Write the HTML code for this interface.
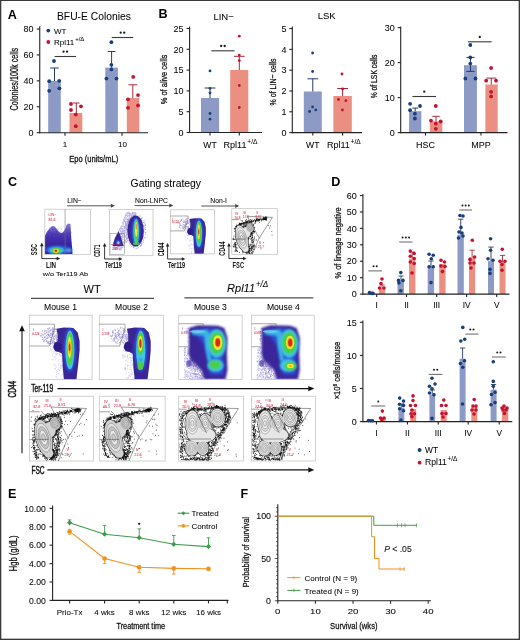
<!DOCTYPE html>
<html><head><meta charset="utf-8"><style>
html,body{margin:0;padding:0;background:#fff;}
svg{display:block;filter:blur(0.45px);}
text{font-family:"Liberation Sans", sans-serif;}
</style></head><body>
<svg width="520" height="640" viewBox="0 0 520 640">
<defs>
<filter id="b1" x="-20%" y="-20%" width="140%" height="140%"><feGaussianBlur stdDeviation="1"/></filter>
<filter id="b2" x="-30%" y="-30%" width="160%" height="160%"><feGaussianBlur stdDeviation="2"/></filter>
<filter id="b05" x="-20%" y="-20%" width="140%" height="140%"><feGaussianBlur stdDeviation="0.5"/></filter>
<filter id="b15" x="-30%" y="-30%" width="160%" height="160%"><feGaussianBlur stdDeviation="1.5"/></filter>
<filter id="b3" x="-40%" y="-40%" width="180%" height="180%"><feGaussianBlur stdDeviation="3"/></filter>
</defs>
<rect x="0" y="0" width="520" height="1" fill="#3a3a3a"/><rect x="0" y="0" width="1" height="640" fill="#3a3a3a"/><rect x="519" y="0" width="1" height="640" fill="#3a3a3a"/><rect x="0" y="639" width="520" height="1" fill="#3a3a3a"/>
<rect x="1" y="1" width="0.6" height="638" fill="#3a3a3a" opacity="0.5"/><rect x="518" y="1" width="1" height="638" fill="#3a3a3a" opacity="0.35"/><rect x="1" y="638" width="518" height="1" fill="#3a3a3a" opacity="0.35"/>
<text x="7.80" y="18.80" font-size="12.6" font-weight="bold" fill="#000" >A</text>
<text x="57.00" y="20.00" font-size="10.3" stroke="#222" stroke-width="0.06" >BFU-E Colonies</text>
<line x1="39.75" y1="26.20" x2="39.75" y2="133.25" stroke="#222" stroke-width="1.1" />
<line x1="36.75" y1="132.70" x2="39.75" y2="132.70" stroke="#222" stroke-width="1.1" />
<text x="33.60" y="135.94" font-size="9" text-anchor="end" stroke="#222" stroke-width="0.06" textLength="5.00" lengthAdjust="spacingAndGlyphs" >0</text>
<line x1="36.75" y1="106.78" x2="39.75" y2="106.78" stroke="#222" stroke-width="1.1" />
<text x="33.60" y="110.02" font-size="9" text-anchor="end" stroke="#222" stroke-width="0.06" textLength="10.01" lengthAdjust="spacingAndGlyphs" >20</text>
<line x1="36.75" y1="80.86" x2="39.75" y2="80.86" stroke="#222" stroke-width="1.1" />
<text x="33.60" y="84.10" font-size="9" text-anchor="end" stroke="#222" stroke-width="0.06" textLength="10.01" lengthAdjust="spacingAndGlyphs" >40</text>
<line x1="36.75" y1="54.94" x2="39.75" y2="54.94" stroke="#222" stroke-width="1.1" />
<text x="33.60" y="58.18" font-size="9" text-anchor="end" stroke="#222" stroke-width="0.06" textLength="10.01" lengthAdjust="spacingAndGlyphs" >60</text>
<line x1="36.75" y1="29.02" x2="39.75" y2="29.02" stroke="#222" stroke-width="1.1" />
<text x="33.60" y="32.26" font-size="9" text-anchor="end" stroke="#222" stroke-width="0.06" textLength="10.01" lengthAdjust="spacingAndGlyphs" >80</text>
<text x="17.60" y="79.10" font-size="10.2" text-anchor="middle" stroke="#222" stroke-width="0.3" textLength="62.60" lengthAdjust="spacingAndGlyphs" transform="rotate(-90 17.60 79.10)" >Colonies/100k cells</text>
<rect x="48.20" y="81.00" width="12.60" height="51.70" fill="#8d9ac6" />
<rect x="105.30" y="67.60" width="12.60" height="65.10" fill="#8d9ac6" />
<rect x="69.50" y="113.00" width="12.80" height="19.70" fill="#eb8f83" />
<rect x="126.80" y="98.00" width="12.50" height="34.70" fill="#eb8f83" />
<line x1="39.20" y1="132.70" x2="148.00" y2="132.70" stroke="#222" stroke-width="1.1" />
<line x1="65.00" y1="132.70" x2="65.00" y2="135.70" stroke="#222" stroke-width="1.1" />
<line x1="122.00" y1="132.70" x2="122.00" y2="135.70" stroke="#222" stroke-width="1.1" />
<line x1="54.50" y1="81.00" x2="54.50" y2="68.00" stroke="#263c62" stroke-width="1.0" />
<line x1="50.20" y1="68.00" x2="58.80" y2="68.00" stroke="#263c62" stroke-width="1.0" />
<line x1="111.60" y1="67.60" x2="111.60" y2="51.50" stroke="#263c62" stroke-width="1.0" />
<line x1="107.80" y1="51.50" x2="115.40" y2="51.50" stroke="#263c62" stroke-width="1.0" />
<line x1="76.30" y1="113.00" x2="76.30" y2="103.00" stroke="#a8283a" stroke-width="1.0" />
<line x1="73.00" y1="103.00" x2="79.60" y2="103.00" stroke="#a8283a" stroke-width="1.0" />
<line x1="132.80" y1="98.00" x2="132.80" y2="84.80" stroke="#a8283a" stroke-width="1.0" />
<line x1="128.50" y1="84.80" x2="137.10" y2="84.80" stroke="#a8283a" stroke-width="1.0" />
<circle cx="54.00" cy="61.00" r="1.9" fill="#183f7c"/>
<circle cx="49.20" cy="81.20" r="1.9" fill="#183f7c"/>
<circle cx="59.20" cy="80.80" r="1.9" fill="#183f7c"/>
<circle cx="59.40" cy="88.30" r="1.9" fill="#183f7c"/>
<circle cx="49.20" cy="90.80" r="1.9" fill="#183f7c"/>
<circle cx="111.40" cy="42.20" r="1.9" fill="#183f7c"/>
<circle cx="111.40" cy="64.80" r="1.9" fill="#183f7c"/>
<circle cx="111.40" cy="69.40" r="1.9" fill="#183f7c"/>
<circle cx="106.40" cy="78.60" r="1.9" fill="#183f7c"/>
<circle cx="116.50" cy="78.60" r="1.9" fill="#183f7c"/>
<circle cx="71.00" cy="104.00" r="1.9" fill="#c4122f"/>
<circle cx="81.00" cy="106.30" r="1.9" fill="#c4122f"/>
<circle cx="71.00" cy="110.00" r="1.9" fill="#c4122f"/>
<circle cx="75.80" cy="114.60" r="1.9" fill="#c4122f"/>
<circle cx="75.80" cy="126.20" r="1.9" fill="#c4122f"/>
<circle cx="133.20" cy="76.90" r="1.9" fill="#c4122f"/>
<circle cx="138.00" cy="95.10" r="1.9" fill="#c4122f"/>
<circle cx="128.00" cy="99.30" r="1.9" fill="#c4122f"/>
<circle cx="138.00" cy="105.40" r="1.9" fill="#c4122f"/>
<circle cx="128.00" cy="107.80" r="1.9" fill="#c4122f"/>
<line x1="54.60" y1="56.50" x2="76.00" y2="56.50" stroke="#3a3a3a" stroke-width="1.1" />
<circle cx="63.55" cy="51.70" r="1.15" fill="#1a1a1a"/>
<circle cx="67.05" cy="51.70" r="1.15" fill="#1a1a1a"/>
<line x1="111.70" y1="37.50" x2="133.20" y2="37.50" stroke="#3a3a3a" stroke-width="1.1" />
<circle cx="120.70" cy="32.70" r="1.15" fill="#1a1a1a"/>
<circle cx="124.20" cy="32.70" r="1.15" fill="#1a1a1a"/>
<text x="65.00" y="146.80" font-size="8" text-anchor="middle" stroke="#222" stroke-width="0.06" >1</text>
<text x="122.50" y="146.80" font-size="8" text-anchor="middle" stroke="#222" stroke-width="0.06" >10</text>
<text x="93.70" y="162.00" font-size="9.4" text-anchor="middle" stroke="#222" stroke-width="0.3" textLength="49.00" lengthAdjust="spacingAndGlyphs" >Epo (units/mL)</text>
<circle cx="48.30" cy="30.60" r="1.9" fill="#183f7c"/>
<text x="54.00" y="33.60" font-size="8" stroke="#222" stroke-width="0.06" >WT</text>
<circle cx="48.30" cy="42.00" r="1.9" fill="#c4122f"/>
<text x="54.00" y="45.00" font-size="8" stroke="#222" stroke-width="0.06" >Rpl11</text>
<text x="75.20" y="40.60" font-size="6" stroke="#222" stroke-width="0.06" >+/Δ</text>
<text x="158.40" y="18.20" font-size="12.6" font-weight="bold" fill="#000" >B</text>
<text x="213.40" y="19.60" font-size="9.5" stroke="#222" stroke-width="0.06" >LIN−</text>
<line x1="189.60" y1="26.60" x2="189.60" y2="133.05" stroke="#222" stroke-width="1.1" />
<line x1="186.60" y1="132.50" x2="189.60" y2="132.50" stroke="#222" stroke-width="1.1" />
<text x="183.60" y="135.74" font-size="9" text-anchor="end" stroke="#222" stroke-width="0.06" textLength="5.00" lengthAdjust="spacingAndGlyphs" >0</text>
<line x1="186.60" y1="111.70" x2="189.60" y2="111.70" stroke="#222" stroke-width="1.1" />
<text x="183.60" y="114.94" font-size="9" text-anchor="end" stroke="#222" stroke-width="0.06" textLength="5.00" lengthAdjust="spacingAndGlyphs" >5</text>
<line x1="186.60" y1="90.90" x2="189.60" y2="90.90" stroke="#222" stroke-width="1.1" />
<text x="183.60" y="94.14" font-size="9" text-anchor="end" stroke="#222" stroke-width="0.06" textLength="10.01" lengthAdjust="spacingAndGlyphs" >10</text>
<line x1="186.60" y1="70.10" x2="189.60" y2="70.10" stroke="#222" stroke-width="1.1" />
<text x="183.60" y="73.34" font-size="9" text-anchor="end" stroke="#222" stroke-width="0.06" textLength="10.01" lengthAdjust="spacingAndGlyphs" >15</text>
<line x1="186.60" y1="49.30" x2="189.60" y2="49.30" stroke="#222" stroke-width="1.1" />
<text x="183.60" y="52.54" font-size="9" text-anchor="end" stroke="#222" stroke-width="0.06" textLength="10.01" lengthAdjust="spacingAndGlyphs" >20</text>
<line x1="186.60" y1="28.50" x2="189.60" y2="28.50" stroke="#222" stroke-width="1.1" />
<text x="183.60" y="31.74" font-size="9" text-anchor="end" stroke="#222" stroke-width="0.06" textLength="10.01" lengthAdjust="spacingAndGlyphs" >25</text>
<text x="166.50" y="79.50" font-size="9.6" text-anchor="middle" stroke="#222" stroke-width="0.3" textLength="49.70" lengthAdjust="spacingAndGlyphs" transform="rotate(-90 166.50 79.50)" >% of alive cells</text>
<rect x="201.00" y="98.00" width="18.10" height="34.50" fill="#8d9ac6" />
<rect x="230.20" y="70.00" width="18.10" height="62.50" fill="#eb8f83" />
<line x1="189.05" y1="132.50" x2="262.00" y2="132.50" stroke="#222" stroke-width="1.1" />
<line x1="210.00" y1="132.50" x2="210.00" y2="135.50" stroke="#222" stroke-width="1.1" />
<line x1="239.30" y1="132.50" x2="239.30" y2="135.50" stroke="#222" stroke-width="1.1" />
<line x1="210.00" y1="98.00" x2="210.00" y2="88.00" stroke="#263c62" stroke-width="1.0" />
<line x1="204.60" y1="88.00" x2="215.40" y2="88.00" stroke="#263c62" stroke-width="1.0" />
<line x1="239.30" y1="70.00" x2="239.30" y2="56.30" stroke="#a8283a" stroke-width="1.0" />
<line x1="234.00" y1="56.30" x2="244.60" y2="56.30" stroke="#a8283a" stroke-width="1.0" />
<circle cx="210.00" cy="70.90" r="1.4" fill="#183f7c"/>
<circle cx="210.00" cy="88.30" r="1.4" fill="#183f7c"/>
<circle cx="210.00" cy="92.90" r="1.4" fill="#183f7c"/>
<circle cx="210.00" cy="113.50" r="1.4" fill="#183f7c"/>
<circle cx="210.00" cy="119.20" r="1.4" fill="#183f7c"/>
<circle cx="239.30" cy="36.20" r="1.4" fill="#c4122f"/>
<circle cx="239.30" cy="55.10" r="1.4" fill="#c4122f"/>
<circle cx="239.30" cy="60.60" r="1.4" fill="#c4122f"/>
<circle cx="239.30" cy="85.50" r="1.4" fill="#c4122f"/>
<circle cx="239.30" cy="107.50" r="1.4" fill="#c4122f"/>
<line x1="211.30" y1="50.80" x2="234.50" y2="50.80" stroke="#3a3a3a" stroke-width="1.1" />
<circle cx="221.15" cy="46.00" r="1.15" fill="#1a1a1a"/>
<circle cx="224.65" cy="46.00" r="1.15" fill="#1a1a1a"/>
<text x="210.00" y="148.00" font-size="8.6" text-anchor="middle" stroke="#222" stroke-width="0.06" >WT</text>
<text x="223.60" y="148.00" font-size="9" stroke="#222" stroke-width="0.06" >Rpl11</text>
<text x="247.30" y="144.00" font-size="6.6" stroke="#222" stroke-width="0.06" >+/Δ</text>
<text x="317.70" y="19.30" font-size="9.5" stroke="#222" stroke-width="0.06" >LSK</text>
<line x1="292.30" y1="26.60" x2="292.30" y2="133.15" stroke="#222" stroke-width="1.1" />
<line x1="289.30" y1="132.60" x2="292.30" y2="132.60" stroke="#222" stroke-width="1.1" />
<text x="286.60" y="135.84" font-size="9" text-anchor="end" stroke="#222" stroke-width="0.06" textLength="5.00" lengthAdjust="spacingAndGlyphs" >0</text>
<line x1="289.30" y1="111.80" x2="292.30" y2="111.80" stroke="#222" stroke-width="1.1" />
<text x="286.60" y="115.04" font-size="9" text-anchor="end" stroke="#222" stroke-width="0.06" textLength="5.00" lengthAdjust="spacingAndGlyphs" >1</text>
<line x1="289.30" y1="91.00" x2="292.30" y2="91.00" stroke="#222" stroke-width="1.1" />
<text x="286.60" y="94.24" font-size="9" text-anchor="end" stroke="#222" stroke-width="0.06" textLength="5.00" lengthAdjust="spacingAndGlyphs" >2</text>
<line x1="289.30" y1="70.20" x2="292.30" y2="70.20" stroke="#222" stroke-width="1.1" />
<text x="286.60" y="73.44" font-size="9" text-anchor="end" stroke="#222" stroke-width="0.06" textLength="5.00" lengthAdjust="spacingAndGlyphs" >3</text>
<line x1="289.30" y1="49.40" x2="292.30" y2="49.40" stroke="#222" stroke-width="1.1" />
<text x="286.60" y="52.64" font-size="9" text-anchor="end" stroke="#222" stroke-width="0.06" textLength="5.00" lengthAdjust="spacingAndGlyphs" >4</text>
<line x1="289.30" y1="28.60" x2="292.30" y2="28.60" stroke="#222" stroke-width="1.1" />
<text x="286.60" y="31.84" font-size="9" text-anchor="end" stroke="#222" stroke-width="0.06" textLength="5.00" lengthAdjust="spacingAndGlyphs" >5</text>
<text x="276.20" y="81.90" font-size="9.6" text-anchor="middle" stroke="#222" stroke-width="0.3" textLength="47.00" lengthAdjust="spacingAndGlyphs" transform="rotate(-90 276.20 81.90)" >% of LIN− cells</text>
<rect x="303.80" y="91.50" width="18.00" height="41.10" fill="#8d9ac6" />
<rect x="333.40" y="96.00" width="18.40" height="36.60" fill="#eb8f83" />
<line x1="291.75" y1="132.60" x2="362.00" y2="132.60" stroke="#222" stroke-width="1.1" />
<line x1="312.80" y1="132.60" x2="312.80" y2="135.60" stroke="#222" stroke-width="1.1" />
<line x1="342.60" y1="132.60" x2="342.60" y2="135.60" stroke="#222" stroke-width="1.1" />
<line x1="312.80" y1="91.50" x2="312.80" y2="78.80" stroke="#263c62" stroke-width="1.0" />
<line x1="307.40" y1="78.80" x2="318.20" y2="78.80" stroke="#263c62" stroke-width="1.0" />
<line x1="342.60" y1="96.00" x2="342.60" y2="88.50" stroke="#a8283a" stroke-width="1.0" />
<line x1="337.20" y1="88.50" x2="348.00" y2="88.50" stroke="#a8283a" stroke-width="1.0" />
<circle cx="312.60" cy="53.00" r="1.4" fill="#183f7c"/>
<circle cx="312.60" cy="71.50" r="1.4" fill="#183f7c"/>
<circle cx="309.60" cy="111.50" r="1.4" fill="#183f7c"/>
<circle cx="312.60" cy="106.90" r="1.4" fill="#183f7c"/>
<circle cx="315.80" cy="109.90" r="1.4" fill="#183f7c"/>
<circle cx="342.00" cy="74.00" r="1.4" fill="#c4122f"/>
<circle cx="342.60" cy="88.90" r="1.4" fill="#c4122f"/>
<circle cx="338.50" cy="99.50" r="1.4" fill="#c4122f"/>
<circle cx="345.90" cy="100.70" r="1.4" fill="#c4122f"/>
<circle cx="342.40" cy="110.00" r="1.4" fill="#c4122f"/>
<text x="312.80" y="148.00" font-size="8.6" text-anchor="middle" stroke="#222" stroke-width="0.06" >WT</text>
<text x="327.00" y="148.00" font-size="9" stroke="#222" stroke-width="0.06" >Rpl11</text>
<text x="350.60" y="144.00" font-size="6.6" stroke="#222" stroke-width="0.06" >+/Δ</text>
<line x1="400.70" y1="26.60" x2="400.70" y2="133.15" stroke="#222" stroke-width="1.1" />
<line x1="397.70" y1="132.60" x2="400.70" y2="132.60" stroke="#222" stroke-width="1.1" />
<text x="394.80" y="135.84" font-size="9" text-anchor="end" stroke="#222" stroke-width="0.06" textLength="5.00" lengthAdjust="spacingAndGlyphs" >0</text>
<line x1="397.70" y1="97.60" x2="400.70" y2="97.60" stroke="#222" stroke-width="1.1" />
<text x="394.80" y="100.84" font-size="9" text-anchor="end" stroke="#222" stroke-width="0.06" textLength="10.01" lengthAdjust="spacingAndGlyphs" >10</text>
<line x1="397.70" y1="62.60" x2="400.70" y2="62.60" stroke="#222" stroke-width="1.1" />
<text x="394.80" y="65.84" font-size="9" text-anchor="end" stroke="#222" stroke-width="0.06" textLength="10.01" lengthAdjust="spacingAndGlyphs" >20</text>
<line x1="397.70" y1="27.60" x2="400.70" y2="27.60" stroke="#222" stroke-width="1.1" />
<text x="394.80" y="30.84" font-size="9" text-anchor="end" stroke="#222" stroke-width="0.06" textLength="10.01" lengthAdjust="spacingAndGlyphs" >30</text>
<text x="377.20" y="76.50" font-size="9.6" text-anchor="middle" stroke="#222" stroke-width="0.3" textLength="43.70" lengthAdjust="spacingAndGlyphs" transform="rotate(-90 377.20 76.50)" >% of LSK cells</text>
<rect x="409.10" y="111.20" width="12.20" height="21.40" fill="#8d9ac6" />
<rect x="429.80" y="121.30" width="12.50" height="11.30" fill="#eb8f83" />
<rect x="464.00" y="65.20" width="12.90" height="67.40" fill="#8d9ac6" />
<rect x="485.40" y="84.50" width="12.30" height="48.10" fill="#eb8f83" />
<line x1="400.15" y1="132.60" x2="507.50" y2="132.60" stroke="#222" stroke-width="1.1" />
<line x1="425.50" y1="132.60" x2="425.50" y2="135.60" stroke="#222" stroke-width="1.1" />
<line x1="481.00" y1="132.60" x2="481.00" y2="135.60" stroke="#222" stroke-width="1.1" />
<line x1="415.20" y1="111.20" x2="415.20" y2="108.10" stroke="#263c62" stroke-width="1.0" />
<line x1="412.30" y1="108.10" x2="418.10" y2="108.10" stroke="#263c62" stroke-width="1.0" />
<line x1="436.00" y1="121.30" x2="436.00" y2="116.30" stroke="#a8283a" stroke-width="1.0" />
<line x1="432.30" y1="116.30" x2="439.70" y2="116.30" stroke="#a8283a" stroke-width="1.0" />
<line x1="470.50" y1="65.20" x2="470.50" y2="57.40" stroke="#263c62" stroke-width="1.0" />
<line x1="466.40" y1="57.40" x2="474.60" y2="57.40" stroke="#263c62" stroke-width="1.0" />
<line x1="470.50" y1="65.20" x2="470.50" y2="71.40" stroke="#263c62" stroke-width="1.0" />
<line x1="466.40" y1="71.40" x2="474.60" y2="71.40" stroke="#263c62" stroke-width="1.0" />
<line x1="491.30" y1="84.50" x2="491.30" y2="78.10" stroke="#a8283a" stroke-width="1.0" />
<line x1="486.30" y1="78.10" x2="496.30" y2="78.10" stroke="#a8283a" stroke-width="1.0" />
<circle cx="410.10" cy="103.80" r="1.9" fill="#183f7c"/>
<circle cx="420.00" cy="106.00" r="1.9" fill="#183f7c"/>
<circle cx="410.10" cy="110.20" r="1.9" fill="#183f7c"/>
<circle cx="414.90" cy="113.70" r="1.9" fill="#183f7c"/>
<circle cx="414.90" cy="118.50" r="1.9" fill="#183f7c"/>
<circle cx="470.30" cy="45.00" r="1.9" fill="#183f7c"/>
<circle cx="470.30" cy="57.40" r="1.9" fill="#183f7c"/>
<circle cx="470.30" cy="63.60" r="1.9" fill="#183f7c"/>
<circle cx="465.40" cy="78.50" r="1.9" fill="#183f7c"/>
<circle cx="475.50" cy="78.50" r="1.9" fill="#183f7c"/>
<circle cx="435.80" cy="106.00" r="1.9" fill="#c4122f"/>
<circle cx="431.00" cy="120.60" r="1.9" fill="#c4122f"/>
<circle cx="440.70" cy="121.50" r="1.9" fill="#c4122f"/>
<circle cx="435.80" cy="123.70" r="1.9" fill="#c4122f"/>
<circle cx="435.80" cy="128.80" r="1.9" fill="#c4122f"/>
<circle cx="491.10" cy="68.00" r="1.9" fill="#c4122f"/>
<circle cx="486.20" cy="80.70" r="1.9" fill="#c4122f"/>
<circle cx="496.00" cy="80.70" r="1.9" fill="#c4122f"/>
<circle cx="491.10" cy="91.80" r="1.9" fill="#c4122f"/>
<circle cx="491.10" cy="96.40" r="1.9" fill="#c4122f"/>
<line x1="412.50" y1="96.50" x2="436.00" y2="96.50" stroke="#3a3a3a" stroke-width="1.1" />
<circle cx="424.25" cy="91.70" r="1.15" fill="#1a1a1a"/>
<line x1="467.90" y1="41.80" x2="491.70" y2="41.80" stroke="#3a3a3a" stroke-width="1.1" />
<circle cx="479.80" cy="37.00" r="1.15" fill="#1a1a1a"/>
<text x="425.50" y="147.50" font-size="9" text-anchor="middle" stroke="#222" stroke-width="0.06" >HSC</text>
<text x="481.00" y="147.50" font-size="9" text-anchor="middle" stroke="#222" stroke-width="0.06" >MPP</text>
<text x="8.00" y="186.30" font-size="12.6" font-weight="bold" fill="#000" >C</text>
<text x="130.60" y="186.90" font-size="10.4" stroke="#222" stroke-width="0.06" >Gating strategy</text>
<text x="67.30" y="202.60" font-size="6.8" stroke="#222" stroke-width="0.06" >LIN−</text>
<line x1="67.00" y1="205.80" x2="111.40" y2="205.80" stroke="#444" stroke-width="0.9" />
<path d="M114.90 205.80L110.90 203.80L110.90 207.80Z" fill="#444"/>
<text x="135.00" y="202.50" font-size="6.8" stroke="#222" stroke-width="0.06" >Non-LNPC</text>
<line x1="134.50" y1="205.60" x2="169.80" y2="205.60" stroke="#444" stroke-width="0.9" />
<path d="M173.30 205.60L169.30 203.60L169.30 207.60Z" fill="#444"/>
<text x="210.30" y="202.80" font-size="6.8" stroke="#222" stroke-width="0.06" >Non-I</text>
<line x1="201.30" y1="206.00" x2="235.70" y2="206.00" stroke="#444" stroke-width="0.9" />
<path d="M239.20 206.00L235.20 204.00L235.20 208.00Z" fill="#444"/>
<clipPath id="cp1"><rect x="44.80" y="209.20" width="45.70" height="45.10"/></clipPath>
<g clip-path="url(#cp1)">
<linearGradient id="pg1" x1="0" y1="0" x2="0" y2="1"><stop offset="0" stop-color="#8a7fd6"/><stop offset="0.35" stop-color="#4a35b0"/><stop offset="1" stop-color="#2a1690"/></linearGradient>
<path d="M44.8 254 L44.8 236 Q47 231 50 228 Q53 224 56 228 Q59 233 62 233 Q65 231 66.5 225 L68 223.5 L70.5 224 Q71 236 71.8 244 L72.5 254 Z" fill="url(#pg1)" stroke="none" stroke-width="0.6" filter="url(#b05)" />
<path d="M46.4 229.2h0.7 M53.2 236.0h0.7 M49.7 230.8h0.7 M53.3 230.9h0.7 M66.4 233.4h0.7 M51.4 230.6h0.7 M56.2 234.7h0.7 M48.9 228.8h0.7 M45.9 232.7h0.7 M65.6 230.6h0.7 M63.7 231.1h0.7 M60.6 228.0h0.7 M57.7 232.6h0.7 M46.5 233.4h0.7 M55.3 232.7h0.7 M46.4 234.9h0.7 M52.4 227.1h0.7 M51.1 228.7h0.7 M54.8 230.5h0.7 M70.7 233.2h0.7 M58.8 231.6h0.7 M69.3 235.2h0.7 M68.6 235.6h0.7 M55.5 226.8h0.7 M47.6 232.0h0.7 M57.5 228.6h0.7 M68.3 233.3h0.7 M49.3 235.0h0.7 M59.3 235.1h0.7 M68.0 235.7h0.7 M67.1 234.3h0.7 M51.0 229.4h0.7 M51.8 233.2h0.7 M62.6 235.6h0.7 M47.1 232.5h0.7 M69.5 235.2h0.7 M49.7 235.4h0.7 M53.8 235.6h0.7 M69.4 235.7h0.7 M71.5 232.5h0.7 M54.3 230.1h0.7 M71.2 232.3h0.7 M51.3 230.9h0.7 M51.9 227.2h0.7 M54.4 228.1h0.7 M58.4 229.7h0.7 M44.9 235.6h0.7 M49.5 228.4h0.7 M64.5 230.2h0.7 M53.7 229.4h0.7 M59.9 235.3h0.7 M47.7 230.3h0.7 M60.1 234.7h0.7 M61.5 229.1h0.7 M58.7 233.2h0.7 M57.1 229.7h0.7 M46.8 232.7h0.7 M49.0 233.8h0.7 M55.6 228.7h0.7 M49.2 227.5h0.7 M61.8 229.3h0.7 M45.9 235.1h0.7 M60.3 233.4h0.7 M62.1 235.6h0.7 M64.7 230.1h0.7 M50.0 228.4h0.7 M55.5 229.1h0.7 M64.0 232.0h0.7 M46.7 234.3h0.7 M68.5 232.8h0.7 M52.8 228.1h0.7 M49.1 227.8h0.7 M57.7 229.1h0.7 M50.3 229.1h0.7 M60.7 229.6h0.7 M65.2 232.5h0.7 M64.5 232.2h0.7 M69.1 231.8h0.7 M64.8 235.9h0.7 M48.6 229.5h0.7 M63.4 233.3h0.7 M60.0 231.8h0.7 M61.8 233.0h0.7 M66.5 234.5h0.7 M58.5 229.8h0.7 M57.8 233.0h0.7 M65.7 231.6h0.7 M63.1 233.2h0.7 M58.8 228.2h0.7" stroke="#7d70d0" stroke-width="0.7" opacity="0.5"/>
<ellipse cx="58.00" cy="249.80" rx="14.00" ry="4.20" fill="#2d4fd8" filter="url(#b1)"/>
<ellipse cx="56.50" cy="250.30" rx="8.00" ry="3.40" fill="#3ec6e6" filter="url(#b1)"/>
<ellipse cx="56.20" cy="250.50" rx="4.80" ry="2.70" fill="#4ccf48" filter="url(#b05)"/>
<ellipse cx="56.00" cy="250.70" rx="2.80" ry="2.00" fill="#f2ea2a" filter="url(#b05)"/>
<ellipse cx="55.90" cy="250.80" rx="1.50" ry="1.20" fill="#e0261c" filter="url(#b05)"/>
<ellipse cx="68.50" cy="250.50" rx="3.50" ry="2.00" fill="#5aaee8" filter="url(#b1)" opacity="0.8"/>
</g>
<rect x="44.80" y="209.20" width="45.70" height="45.10" fill="none" stroke="#bdbdbd" stroke-width="0.7"/>
<line x1="65.10" y1="209.20" x2="65.10" y2="254.30" stroke="#777" stroke-width="0.6" />
<text x="48.50" y="215.80" font-size="3.6" fill="#d2334a" stroke="#d2334a" stroke-width="0.06" >LIN−</text>
<text x="48.50" y="220.50" font-size="3.6" fill="#d2334a" stroke="#d2334a" stroke-width="0.06" >81.6</text>
<text x="37.40" y="249.60" font-size="8.6" text-anchor="middle" font-weight="bold" fill="#111" textLength="11.30" lengthAdjust="spacingAndGlyphs" transform="rotate(-90 37.40 249.60)" >SSC</text>
<line x1="41.80" y1="258.60" x2="41.80" y2="245.70" stroke="#222" stroke-width="0.9" />
<path d="M41.80 242.60L40.00 246.20L43.60 246.20Z" fill="#222"/>
<line x1="41.80" y1="258.60" x2="57.10" y2="258.60" stroke="#222" stroke-width="0.9" />
<path d="M60.20 258.60L56.60 256.80L56.60 260.40Z" fill="#222"/>
<text x="46.10" y="267.90" font-size="9.0" font-weight="bold" fill="#111" textLength="10.00" lengthAdjust="spacingAndGlyphs" >LIN</text>
<text x="42.80" y="276.00" font-size="6.2" stroke="#222" stroke-width="0.06" textLength="45.20" lengthAdjust="spacingAndGlyphs" >w/o Ter119 Ab</text>
<clipPath id="cp2"><rect x="109.50" y="209.60" width="43.50" height="46.10"/></clipPath>
<g clip-path="url(#cp2)">
<path d="M122.3 222.2h0.7 M116.8 247.9h0.7 M133.9 217.0h0.7 M130.9 231.3h0.7 M117.3 246.1h0.7 M122.4 223.5h0.7 M119.3 243.9h0.7 M131.3 216.6h0.7 M132.7 223.0h0.7 M120.6 226.9h0.7 M120.3 228.3h0.7 M114.3 243.7h0.7 M118.6 247.6h0.7 M123.8 219.2h0.7 M120.6 248.3h0.7 M128.6 213.9h0.7 M128.8 229.1h0.7 M129.3 236.5h0.7 M133.3 216.8h0.7 M122.9 225.1h0.7 M118.8 240.1h0.7 M134.5 221.9h0.7 M127.1 223.4h0.7 M124.8 227.0h0.7 M116.8 246.4h0.7 M123.4 220.4h0.7 M129.2 227.7h0.7 M121.5 231.9h0.7 M134.3 216.8h0.7 M123.6 235.9h0.7 M131.8 220.2h0.7 M121.2 228.9h0.7 M132.1 212.8h0.7 M132.6 230.0h0.7 M121.0 247.2h0.7 M134.4 221.4h0.7 M124.0 237.9h0.7 M126.9 241.1h0.7 M122.5 233.0h0.7 M117.3 247.0h0.7 M126.8 223.5h0.7 M126.6 238.5h0.7 M124.1 234.1h0.7 M132.3 230.1h0.7 M123.5 237.6h0.7 M127.7 219.5h0.7 M123.6 219.8h0.7 M134.3 223.8h0.7 M130.9 220.8h0.7 M117.1 240.9h0.7 M118.8 248.2h0.7 M123.4 219.1h0.7 M116.9 249.0h0.7 M133.4 224.5h0.7 M116.3 247.6h0.7 M129.2 213.2h0.7 M127.3 226.4h0.7 M134.0 216.7h0.7 M134.2 219.9h0.7 M120.2 243.2h0.7 M130.9 228.4h0.7 M120.6 246.9h0.7 M132.6 213.2h0.7 M121.4 242.8h0.7 M129.6 213.5h0.7 M133.2 221.8h0.7 M118.0 239.2h0.7 M133.7 212.9h0.7 M121.9 230.8h0.7 M133.3 219.0h0.7 M126.0 224.5h0.7 M130.0 215.0h0.7 M116.5 240.6h0.7 M119.5 249.2h0.7 M128.3 229.0h0.7 M126.3 237.6h0.7 M127.3 216.6h0.7 M131.3 223.2h0.7 M125.0 226.2h0.7 M129.0 219.6h0.7 M115.5 245.6h0.7 M125.3 224.4h0.7 M121.1 249.7h0.7 M123.7 220.8h0.7 M134.8 215.9h0.7 M122.9 243.1h0.7 M133.4 226.1h0.7 M131.9 229.1h0.7 M118.0 241.6h0.7 M133.8 216.0h0.7 M125.7 235.6h0.7 M117.9 234.8h0.7 M127.0 219.7h0.7 M127.6 219.0h0.7 M130.3 232.8h0.7 M121.1 232.9h0.7 M126.7 215.5h0.7 M115.8 238.4h0.7 M119.1 248.2h0.7 M119.2 233.5h0.7 M120.2 227.8h0.7 M128.7 219.7h0.7 M121.7 243.2h0.7 M121.3 245.5h0.7 M120.5 231.2h0.7 M133.3 226.7h0.7 M131.0 218.1h0.7 M130.1 220.4h0.7 M121.3 244.2h0.7 M131.1 219.0h0.7 M123.9 226.6h0.7 M129.4 213.4h0.7 M131.3 216.5h0.7 M125.8 232.9h0.7 M126.4 223.6h0.7 M121.7 234.1h0.7 M121.8 237.0h0.7 M122.3 228.7h0.7 M123.3 220.9h0.7 M126.6 215.1h0.7 M123.6 226.4h0.7 M133.9 217.2h0.7 M116.5 249.3h0.7 M133.1 218.3h0.7 M129.4 218.0h0.7 M132.6 222.4h0.7 M130.8 217.5h0.7 M123.6 224.1h0.7 M115.7 247.6h0.7 M115.9 241.8h0.7 M126.6 225.7h0.7 M132.1 233.1h0.7 M114.4 249.7h0.7 M126.5 227.0h0.7 M130.3 222.1h0.7 M120.3 241.1h0.7 M129.1 213.8h0.7 M130.9 221.6h0.7 M125.5 237.2h0.7 M126.2 228.4h0.7 M127.0 212.8h0.7 M125.5 219.8h0.7 M126.4 230.0h0.7 M115.1 247.6h0.7 M124.9 225.3h0.7 M126.8 228.9h0.7 M117.7 246.3h0.7 M133.6 217.4h0.7 M123.7 236.4h0.7 M130.7 218.6h0.7 M113.1 245.8h0.7 M129.1 229.7h0.7 M129.1 229.2h0.7 M119.7 240.5h0.7 M128.4 222.1h0.7 M124.7 228.6h0.7 M130.1 231.9h0.7 M118.1 236.4h0.7 M134.2 220.2h0.7 M132.2 212.6h0.7 M129.2 224.4h0.7 M132.2 224.5h0.7 M117.5 246.5h0.7 M126.5 238.3h0.7 M122.8 243.9h0.7 M122.1 239.5h0.7 M125.1 223.7h0.7 M116.9 235.7h0.7 M113.8 246.6h0.7 M114.5 247.3h0.7 M127.9 236.1h0.7 M120.4 243.1h0.7 M113.5 245.0h0.7 M126.5 222.9h0.7 M129.4 219.8h0.7 M118.5 239.2h0.7 M134.2 231.1h0.7 M122.0 241.4h0.7 M120.0 238.8h0.7 M124.4 220.2h0.7 M131.8 215.5h0.7 M130.9 218.5h0.7 M123.3 242.3h0.7 M120.0 243.6h0.7 M118.0 247.9h0.7 M128.1 230.9h0.7 M126.4 225.5h0.7 M121.2 227.0h0.7 M132.5 215.3h0.7 M132.4 213.0h0.7 M132.7 231.0h0.7 M120.7 245.6h0.7 M124.2 240.7h0.7 M129.3 236.6h0.7 M115.6 244.0h0.7 M127.2 240.2h0.7 M129.8 234.0h0.7 M132.4 221.0h0.7 M124.0 218.1h0.7 M114.3 248.6h0.7 M128.9 228.5h0.7 M116.5 236.2h0.7 M121.2 242.1h0.7 M127.9 231.0h0.7 M126.5 229.6h0.7 M121.3 240.2h0.7 M132.9 228.3h0.7 M125.2 240.5h0.7 M126.8 229.2h0.7 M119.2 235.9h0.7 M126.5 221.5h0.7 M121.7 229.3h0.7 M126.3 227.6h0.7 M129.9 226.8h0.7 M115.7 241.7h0.7 M133.6 231.7h0.7 M124.4 239.3h0.7 M123.8 236.3h0.7 M131.1 231.8h0.7 M121.4 248.0h0.7 M116.8 238.0h0.7 M121.0 241.0h0.7 M114.8 249.4h0.7 M121.7 238.5h0.7 M117.2 240.2h0.7 M117.0 242.5h0.7 M115.0 241.5h0.7 M130.6 236.1h0.7 M122.8 233.4h0.7 M117.2 248.6h0.7 M120.1 236.3h0.7 M122.8 223.2h0.7 M124.6 216.8h0.7 M131.2 225.5h0.7 M131.6 222.2h0.7 M118.9 230.2h0.7 M121.9 236.2h0.7 M127.2 225.8h0.7 M115.2 243.6h0.7 M126.6 212.6h0.7 M112.3 248.2h0.7 M127.1 221.5h0.7 M117.4 241.5h0.7 M115.9 245.9h0.7 M126.0 241.7h0.7 M116.5 238.3h0.7 M124.2 240.2h0.7 M122.1 245.5h0.7 M124.8 222.1h0.7 M123.3 230.9h0.7 M124.4 244.8h0.7 M122.8 233.4h0.7 M120.6 227.9h0.7 M134.1 214.9h0.7 M126.7 236.2h0.7 M119.6 249.3h0.7 M123.7 230.4h0.7 M132.6 213.3h0.7 M128.5 235.8h0.7 M119.8 244.7h0.7 M120.4 230.0h0.7 M124.1 241.3h0.7 M121.7 233.1h0.7 M131.0 223.1h0.7 M131.0 227.3h0.7 M123.6 222.3h0.7 M118.9 234.3h0.7 M126.6 241.8h0.7 M132.4 232.7h0.7 M126.2 235.8h0.7 M128.0 234.7h0.7 M127.7 220.1h0.7 M127.3 229.4h0.7 M129.5 215.9h0.7 M127.1 226.0h0.7 M124.9 221.8h0.7 M130.6 233.9h0.7 M133.1 229.0h0.7 M134.6 230.1h0.7 M126.8 220.1h0.7 M114.8 248.7h0.7 M114.0 245.0h0.7 M128.5 221.2h0.7 M128.9 219.1h0.7 M128.8 215.2h0.7 M126.5 239.0h0.7 M122.6 247.4h0.7 M117.8 248.6h0.7 M128.5 212.4h0.7 M130.8 215.0h0.7 M119.2 239.7h0.7 M115.8 244.7h0.7 M120.5 233.8h0.7 M122.1 237.7h0.7 M115.3 242.3h0.7 M120.4 236.5h0.7 M126.5 227.9h0.7 M120.9 241.9h0.7 M125.0 223.1h0.7 M113.4 249.0h0.7 M119.6 235.0h0.7 M125.8 223.7h0.7 M121.9 245.7h0.7 M120.7 238.0h0.7 M130.6 222.8h0.7 M121.7 234.3h0.7 M125.2 222.4h0.7 M124.7 242.3h0.7 M116.6 240.5h0.7 M133.4 220.9h0.7 M126.0 237.8h0.7 M117.9 240.5h0.7 M130.2 229.5h0.7 M114.0 242.6h0.7 M129.8 220.8h0.7 M132.4 231.8h0.7 M123.0 234.4h0.7 M116.2 238.6h0.7 M120.3 233.4h0.7 M121.3 231.7h0.7 M134.9 226.2h0.7 M130.1 217.9h0.7 M125.7 225.1h0.7 M112.8 249.6h0.7 M131.9 230.5h0.7 M125.0 221.9h0.7 M129.9 228.2h0.7 M132.9 214.4h0.7 M125.8 227.1h0.7 M114.8 248.5h0.7 M117.9 233.5h0.7 M127.4 226.9h0.7 M131.3 213.8h0.7 M127.6 223.4h0.7 M125.6 240.8h0.7 M127.6 212.5h0.7 M128.5 219.4h0.7 M112.8 247.3h0.7 M117.1 247.5h0.7 M114.2 247.3h0.7 M122.4 224.9h0.7 M130.9 230.1h0.7 M126.4 217.4h0.7 M128.4 233.0h0.7 M115.3 245.1h0.7 M131.3 224.7h0.7 M119.3 246.3h0.7 M114.6 249.2h0.7 M113.3 246.0h0.7 M127.4 220.0h0.7 M123.0 222.9h0.7 M120.4 249.7h0.7 M132.6 214.2h0.7 M128.7 223.2h0.7 M134.5 212.6h0.7 M130.6 225.0h0.7 M131.1 232.0h0.7 M133.0 220.3h0.7 M125.1 217.2h0.7 M116.1 241.3h0.7 M128.4 219.5h0.7 M126.0 230.8h0.7 M126.1 238.9h0.7 M130.7 234.2h0.7 M128.9 227.5h0.7 M128.6 214.1h0.7 M130.6 224.7h0.7 M132.9 230.1h0.7 M132.1 222.1h0.7 M116.3 243.6h0.7 M120.5 234.6h0.7 M122.3 231.6h0.7 M119.4 239.0h0.7 M120.8 240.6h0.7 M113.4 245.2h0.7 M133.9 230.8h0.7 M123.8 232.2h0.7 M134.3 220.5h0.7 M117.8 243.1h0.7 M128.1 219.4h0.7 M125.3 231.9h0.7 M128.2 215.9h0.7 M123.4 231.0h0.7 M129.2 218.2h0.7 M120.9 228.0h0.7 M131.3 232.0h0.7 M121.1 247.8h0.7 M129.9 224.9h0.7 M126.6 225.8h0.7 M122.0 231.2h0.7 M132.3 213.3h0.7 M126.8 222.1h0.7 M127.6 222.4h0.7 M126.3 221.5h0.7 M124.0 228.5h0.7 M133.9 222.9h0.7 M119.0 236.6h0.7 M124.3 217.6h0.7 M131.3 235.2h0.7 M125.1 236.7h0.7 M116.6 239.0h0.7 M122.6 232.8h0.7 M126.1 229.8h0.7 M120.8 234.3h0.7 M131.8 221.1h0.7 M124.8 230.7h0.7 M118.6 249.5h0.7 M118.8 241.3h0.7 M132.0 228.7h0.7 M122.1 239.9h0.7 M120.1 237.7h0.7 M130.9 231.7h0.7 M129.5 230.1h0.7 M133.0 216.8h0.7 M132.0 212.2h0.7 M129.6 234.3h0.7 M125.2 227.9h0.7 M126.0 226.4h0.7 M122.4 229.4h0.7 M128.6 223.1h0.7 M121.0 233.1h0.7 M123.5 228.9h0.7 M125.4 215.3h0.7 M133.2 224.3h0.7 M134.1 219.8h0.7 M121.8 246.6h0.7 M125.0 230.9h0.7 M123.9 231.7h0.7 M127.8 226.8h0.7 M120.2 234.6h0.7 M120.1 248.0h0.7 M127.6 232.0h0.7 M121.2 233.3h0.7 M134.2 230.5h0.7 M122.1 235.7h0.7 M134.9 225.0h0.7 M124.2 243.0h0.7 M132.4 228.0h0.7 M123.8 231.2h0.7 M126.5 234.9h0.7 M120.1 249.8h0.7 M126.6 213.6h0.7 M121.5 241.9h0.7 M119.1 238.2h0.7 M131.4 234.3h0.7 M127.4 219.5h0.7 M123.5 233.0h0.7 M118.1 236.6h0.7 M125.2 227.6h0.7 M129.5 216.1h0.7 M124.0 243.3h0.7 M126.1 242.7h0.7 M129.7 224.3h0.7 M128.5 225.4h0.7 M114.3 246.3h0.7 M125.4 225.3h0.7 M122.3 226.7h0.7 M113.3 245.8h0.7 M122.1 235.6h0.7 M119.2 246.2h0.7 M130.8 223.5h0.7 M128.5 220.4h0.7 M119.1 245.3h0.7 M123.1 242.1h0.7 M134.3 223.0h0.7 M124.9 216.4h0.7 M124.3 226.7h0.7 M114.8 243.4h0.7 M127.3 225.0h0.7 M115.6 238.8h0.7 M131.2 216.9h0.7 M122.2 243.8h0.7 M130.5 218.1h0.7 M120.1 239.5h0.7 M120.7 248.4h0.7 M116.8 248.1h0.7 M123.6 220.6h0.7 M128.2 221.9h0.7 M126.0 220.1h0.7 M132.1 216.7h0.7 M123.8 232.6h0.7 M118.2 241.3h0.7 M120.9 237.0h0.7 M125.1 223.8h0.7 M116.1 244.3h0.7 M119.4 237.2h0.7 M120.3 231.0h0.7 M127.3 225.4h0.7 M121.5 237.0h0.7 M128.1 221.4h0.7 M131.5 225.4h0.7 M126.5 218.9h0.7 M114.7 246.7h0.7 M126.7 218.8h0.7 M131.3 233.7h0.7 M128.5 221.7h0.7 M122.0 238.0h0.7 M114.6 242.1h0.7 M116.8 246.8h0.7 M129.2 215.3h0.7 M128.0 227.0h0.7 M133.8 228.1h0.7 M126.4 229.2h0.7 M121.9 231.5h0.7 M133.3 216.9h0.7 M129.5 213.7h0.7 M118.0 232.8h0.7 M124.5 221.5h0.7 M128.3 237.5h0.7 M123.9 228.9h0.7 M133.5 225.4h0.7 M118.9 245.6h0.7 M119.7 243.0h0.7 M124.6 240.9h0.7 M125.8 229.5h0.7 M116.5 238.7h0.7 M119.5 229.8h0.7 M127.0 221.6h0.7 M131.3 223.3h0.7 M115.9 241.8h0.7 M131.0 224.2h0.7 M120.5 232.9h0.7 M120.5 243.6h0.7 M125.0 235.9h0.7 M123.4 231.0h0.7 M125.4 215.0h0.7 M127.8 218.2h0.7 M128.6 212.1h0.7 M130.1 228.2h0.7 M118.5 237.1h0.7 M123.8 228.0h0.7 M119.8 228.7h0.7 M132.8 218.2h0.7 M125.0 225.2h0.7 M119.4 229.5h0.7 M130.7 214.3h0.7 M127.6 235.1h0.7 M118.8 233.7h0.7 M133.9 230.3h0.7 M126.9 223.4h0.7 M119.9 245.6h0.7 M127.6 229.0h0.7 M120.6 234.1h0.7 M121.6 232.1h0.7 M125.0 227.1h0.7 M132.5 232.8h0.7 M114.6 244.8h0.7 M124.2 221.6h0.7 M123.3 233.1h0.7 M125.5 215.0h0.7 M122.1 244.8h0.7 M124.7 239.2h0.7 M129.4 216.4h0.7 M114.3 243.5h0.7 M129.8 217.2h0.7 M129.9 214.2h0.7 M128.3 228.2h0.7 M132.1 233.4h0.7 M115.9 240.3h0.7 M119.9 241.0h0.7 M128.6 213.7h0.7 M125.9 215.8h0.7 M124.6 242.5h0.7 M114.6 247.2h0.7 M127.5 221.7h0.7 M131.3 234.1h0.7 M114.5 242.4h0.7 M118.7 238.1h0.7 M132.1 232.5h0.7 M133.8 212.5h0.7 M123.5 245.2h0.7 M130.4 213.3h0.7 M116.2 243.1h0.7 M127.6 226.9h0.7 M131.4 226.9h0.7 M117.0 246.0h0.7 M125.6 213.7h0.7 M122.8 233.9h0.7 M120.9 225.4h0.7 M127.4 222.4h0.7 M118.0 233.6h0.7 M134.8 213.3h0.7 M124.9 241.3h0.7 M126.6 236.1h0.7 M119.0 241.0h0.7 M129.0 231.3h0.7 M126.6 225.3h0.7 M124.7 227.4h0.7 M119.4 249.6h0.7 M123.1 226.0h0.7 M122.4 228.9h0.7 M125.1 223.5h0.7 M128.7 232.9h0.7 M133.6 224.9h0.7 M120.2 241.4h0.7 M121.9 245.0h0.7 M132.7 222.5h0.7 M128.2 220.3h0.7 M126.9 219.5h0.7 M125.8 215.0h0.7 M133.2 220.1h0.7 M119.5 240.5h0.7 M126.9 227.4h0.7 M127.6 224.8h0.7 M119.7 230.8h0.7 M125.8 221.8h0.7 M134.7 214.1h0.7 M126.1 239.5h0.7 M129.6 215.4h0.7 M130.7 228.1h0.7 M124.4 234.4h0.7 M124.8 237.0h0.7 M125.8 224.6h0.7 M129.0 221.8h0.7 M129.8 223.8h0.7 M122.4 222.6h0.7 M122.9 236.9h0.7 M129.8 225.8h0.7 M134.8 220.7h0.7 M129.4 215.4h0.7 M124.8 218.9h0.7 M133.6 225.9h0.7 M129.9 221.2h0.7 M126.6 225.1h0.7 M130.4 229.5h0.7 M119.4 246.3h0.7 M121.2 244.8h0.7 M121.4 246.9h0.7 M129.5 236.4h0.7 M118.9 249.8h0.7 M115.6 244.8h0.7 M132.0 222.2h0.7 M123.2 245.9h0.7 M125.7 229.2h0.7 M116.8 245.6h0.7 M120.3 241.6h0.7 M131.9 218.9h0.7 M114.6 249.0h0.7 M115.5 240.0h0.7 M127.7 215.4h0.7 M119.8 246.9h0.7 M134.5 213.3h0.7 M117.4 242.1h0.7 M127.9 213.4h0.7 M123.6 220.8h0.7 M112.5 249.6h0.7 M119.3 245.4h0.7 M116.1 238.0h0.7 M115.4 240.1h0.7 M120.1 230.9h0.7 M133.1 225.3h0.7 M116.9 248.8h0.7 M121.4 233.2h0.7 M127.8 236.8h0.7 M124.5 232.9h0.7 M121.6 249.0h0.7 M120.9 226.6h0.7 M135.0 212.2h0.7 M117.9 235.2h0.7 M132.9 213.9h0.7 M128.0 224.3h0.7 M126.9 232.9h0.7 M119.3 248.9h0.7 M131.6 231.4h0.7 M117.4 235.9h0.7 M129.1 226.4h0.7 M128.4 227.0h0.7 M124.1 235.3h0.7 M127.6 224.2h0.7 M126.5 232.6h0.7 M117.1 235.3h0.7 M118.1 246.5h0.7 M122.9 239.4h0.7 M124.0 230.1h0.7 M133.3 232.1h0.7 M124.1 232.0h0.7 M130.7 221.1h0.7 M116.0 243.2h0.7 M122.6 236.3h0.7 M132.0 213.6h0.7 M120.8 243.6h0.7 M130.8 216.7h0.7 M130.5 231.8h0.7 M128.0 229.1h0.7 M123.0 242.3h0.7 M129.5 217.7h0.7 M127.6 225.9h0.7 M124.0 221.0h0.7 M128.5 222.4h0.7 M131.2 215.5h0.7 M130.2 235.5h0.7 M122.2 226.0h0.7 M128.4 223.2h0.7 M121.4 236.6h0.7 M130.6 225.4h0.7 M120.9 234.0h0.7 M133.3 219.3h0.7 M120.6 237.3h0.7 M129.4 226.4h0.7 M124.1 230.9h0.7 M122.6 229.6h0.7 M131.3 227.8h0.7 M122.9 245.8h0.7 M122.1 230.7h0.7 M123.8 243.3h0.7 M127.4 240.1h0.7 M127.6 233.0h0.7 M129.3 233.4h0.7 M128.4 230.3h0.7 M121.6 234.2h0.7 M132.1 217.5h0.7 M119.7 231.7h0.7 M112.1 249.6h0.7 M131.8 233.1h0.7 M123.8 228.0h0.7 M131.7 221.8h0.7 M124.3 226.2h0.7 M122.7 230.6h0.7 M125.4 225.9h0.7 M130.4 219.6h0.7 M124.3 227.5h0.7 M125.0 224.3h0.7 M118.3 242.3h0.7 M118.7 239.0h0.7 M130.5 234.5h0.7 M122.5 247.5h0.7 M122.2 245.4h0.7 M126.7 213.9h0.7 M131.8 214.7h0.7 M125.7 218.8h0.7 M130.4 230.9h0.7 M127.5 237.6h0.7 M131.3 217.5h0.7 M133.1 219.9h0.7 M121.5 237.0h0.7 M117.9 246.4h0.7 M127.8 217.9h0.7 M125.4 224.1h0.7 M124.9 217.9h0.7 M133.0 224.3h0.7 M131.4 217.8h0.7 M120.7 236.3h0.7 M128.7 228.3h0.7 M127.6 216.3h0.7 M131.1 216.6h0.7 M129.3 230.9h0.7 M133.4 215.5h0.7 M123.1 244.8h0.7 M125.7 232.5h0.7 M118.2 245.9h0.7 M131.4 220.6h0.7 M133.3 213.2h0.7 M119.9 247.9h0.7 M127.1 213.9h0.7 M119.7 229.1h0.7 M117.7 240.2h0.7 M116.1 241.9h0.7 M124.9 215.6h0.7 M124.7 241.9h0.7 M125.7 229.5h0.7" stroke="#4b38b0" stroke-width="0.7" opacity="0.5"/>
<path d="M112.5 246 Q114 238 118.5 231 Q121 236 123.5 246 Z" fill="#3a2596" stroke="none" stroke-width="0.6" filter="url(#b05)" />
<ellipse cx="118.30" cy="242.50" rx="2.60" ry="2.60" fill="#2d4fd8" filter="url(#b05)"/>
<ellipse cx="118.30" cy="242.80" rx="1.30" ry="1.30" fill="#8fd0f0" filter="url(#b05)"/>
<path d="M133.2 226.2h0.7 M141.2 218.2h0.7 M132.6 244.0h0.7 M136.9 232.4h0.7 M127.1 229.8h0.7 M128.3 232.3h0.7 M137.2 225.9h0.7 M129.1 227.3h0.7 M130.2 245.1h0.7 M137.0 245.8h0.7 M136.7 242.1h0.7 M138.8 238.2h0.7 M130.0 240.5h0.7 M128.0 222.0h0.7 M137.5 223.1h0.7 M139.0 220.9h0.7 M139.5 241.8h0.7 M130.4 234.8h0.7 M140.1 238.3h0.7 M145.2 225.0h0.7 M145.1 229.5h0.7 M134.6 215.3h0.7 M130.4 239.9h0.7 M141.6 217.7h0.7 M133.0 217.3h0.7 M129.2 220.3h0.7 M136.5 230.9h0.7 M143.5 236.2h0.7 M129.2 235.8h0.7 M133.1 218.2h0.7 M139.3 228.5h0.7 M130.6 243.9h0.7 M130.0 219.5h0.7 M135.9 221.0h0.7 M136.8 246.5h0.7 M141.8 239.0h0.7 M134.2 241.8h0.7 M144.6 237.9h0.7 M134.6 215.3h0.7 M141.0 243.8h0.7 M132.8 234.6h0.7 M145.1 227.9h0.7 M139.7 229.4h0.7 M132.7 220.1h0.7 M133.2 244.1h0.7 M140.1 223.1h0.7 M142.2 228.8h0.7 M141.2 242.7h0.7 M127.1 238.0h0.7 M128.8 222.3h0.7 M139.9 246.0h0.7 M134.3 231.0h0.7 M135.8 242.8h0.7 M130.5 225.4h0.7 M126.6 233.0h0.7 M133.8 247.3h0.7 M135.5 248.4h0.7 M133.4 237.1h0.7 M140.4 226.3h0.7 M137.6 237.7h0.7 M141.8 233.2h0.7 M135.6 240.5h0.7 M132.5 217.2h0.7 M127.8 234.3h0.7 M134.2 240.4h0.7 M140.7 222.7h0.7 M143.8 223.1h0.7 M138.2 228.0h0.7 M144.9 237.7h0.7 M142.5 238.3h0.7 M131.2 218.2h0.7 M139.0 243.4h0.7 M144.6 225.2h0.7 M127.6 231.6h0.7 M131.7 226.6h0.7 M128.9 223.8h0.7 M132.3 228.7h0.7 M134.2 226.6h0.7 M135.7 243.8h0.7 M140.6 241.6h0.7 M132.2 217.8h0.7 M143.7 229.9h0.7 M138.5 237.5h0.7 M143.6 222.5h0.7 M133.4 246.9h0.7 M137.8 223.0h0.7 M140.4 221.9h0.7 M145.5 233.5h0.7 M133.2 247.7h0.7 M130.9 221.2h0.7 M143.6 237.8h0.7 M134.7 242.7h0.7 M140.5 238.3h0.7 M144.1 227.0h0.7 M132.9 226.9h0.7 M144.9 225.3h0.7 M137.8 231.8h0.7 M127.5 224.9h0.7 M137.1 244.4h0.7 M141.4 234.0h0.7 M134.5 233.8h0.7 M131.1 244.1h0.7 M127.9 237.5h0.7 M143.6 231.0h0.7 M140.9 245.4h0.7 M127.4 238.8h0.7 M142.3 235.3h0.7 M139.7 243.3h0.7 M131.1 220.1h0.7 M144.9 225.7h0.7 M127.6 222.5h0.7 M138.4 242.7h0.7 M140.4 224.9h0.7 M132.6 233.6h0.7 M129.7 242.2h0.7 M129.4 243.9h0.7 M145.0 232.4h0.7 M135.0 214.4h0.7 M140.4 239.5h0.7 M139.2 227.2h0.7 M137.3 234.4h0.7 M136.4 217.1h0.7 M135.8 237.9h0.7 M142.4 229.3h0.7 M132.9 219.2h0.7 M134.5 222.7h0.7 M129.0 240.0h0.7 M137.4 228.7h0.7 M129.1 238.7h0.7 M129.1 222.1h0.7 M138.6 238.6h0.7 M142.8 239.3h0.7 M142.8 235.9h0.7 M130.9 225.5h0.7 M128.3 236.0h0.7 M133.2 246.2h0.7 M144.9 229.3h0.7 M136.4 243.2h0.7 M138.6 231.3h0.7 M129.4 221.6h0.7 M143.0 226.6h0.7 M129.6 234.2h0.7 M136.1 213.6h0.7 M140.2 245.6h0.7 M136.6 236.3h0.7 M129.3 221.2h0.7 M126.7 234.5h0.7 M135.9 234.3h0.7 M140.5 238.9h0.7 M135.4 214.6h0.7 M136.2 227.2h0.7 M141.5 239.1h0.7 M130.2 236.7h0.7 M142.0 229.9h0.7 M129.9 226.9h0.7 M140.5 240.2h0.7 M129.7 237.5h0.7 M128.9 242.7h0.7 M128.2 231.5h0.7 M138.5 243.2h0.7 M137.1 235.6h0.7 M139.5 242.4h0.7 M138.2 223.1h0.7 M135.9 216.6h0.7 M140.9 219.9h0.7 M135.2 216.2h0.7 M133.2 215.6h0.7 M133.6 223.5h0.7 M142.0 234.8h0.7 M137.5 229.3h0.7 M134.6 235.2h0.7 M143.0 242.3h0.7 M141.7 244.3h0.7 M135.2 245.4h0.7 M135.5 238.8h0.7 M130.6 223.4h0.7 M133.1 224.3h0.7 M126.5 228.8h0.7 M143.6 222.4h0.7 M130.5 227.7h0.7 M132.5 241.3h0.7 M144.7 232.2h0.7 M132.2 235.8h0.7 M133.5 232.4h0.7 M137.8 236.7h0.7 M138.0 247.6h0.7 M134.6 246.7h0.7 M131.5 246.4h0.7 M128.6 228.6h0.7 M141.9 238.2h0.7 M143.4 240.6h0.7 M130.5 221.8h0.7 M129.4 221.9h0.7 M139.4 236.9h0.7 M139.5 238.4h0.7 M133.4 217.4h0.7 M126.9 230.8h0.7 M131.1 241.2h0.7 M131.9 227.5h0.7 M141.9 228.9h0.7 M141.4 222.6h0.7 M141.1 234.3h0.7 M141.2 218.9h0.7 M141.0 233.6h0.7 M133.5 239.5h0.7 M130.5 225.9h0.7 M137.6 216.2h0.7 M130.5 242.2h0.7 M131.4 226.5h0.7 M143.9 220.5h0.7 M129.0 220.3h0.7 M134.0 225.9h0.7 M140.7 229.9h0.7 M141.3 243.8h0.7 M135.4 216.4h0.7 M136.0 239.0h0.7 M136.5 218.6h0.7 M130.0 228.7h0.7 M133.4 229.8h0.7 M143.3 233.4h0.7 M130.2 218.5h0.7 M135.8 224.1h0.7 M129.3 237.2h0.7 M133.4 216.5h0.7 M141.0 231.6h0.7 M143.3 232.4h0.7 M130.1 231.0h0.7 M139.7 236.7h0.7 M129.9 234.7h0.7 M135.4 217.3h0.7 M129.0 240.5h0.7 M134.5 237.8h0.7 M130.1 230.1h0.7 M137.3 248.0h0.7 M140.2 220.2h0.7 M132.4 227.5h0.7 M132.9 237.4h0.7 M130.7 229.3h0.7 M138.6 239.0h0.7 M137.6 234.1h0.7 M130.1 218.4h0.7 M139.2 229.2h0.7 M134.6 245.8h0.7 M141.2 244.7h0.7 M131.5 223.0h0.7 M134.9 232.1h0.7 M141.0 231.5h0.7 M141.1 234.3h0.7 M138.8 218.9h0.7 M142.0 221.7h0.7 M130.2 225.9h0.7 M137.6 237.7h0.7 M140.2 229.9h0.7 M141.5 242.4h0.7 M141.6 238.9h0.7 M140.8 218.8h0.7 M130.1 228.4h0.7 M143.1 225.7h0.7 M141.2 241.1h0.7 M129.6 222.1h0.7 M134.6 228.0h0.7 M133.2 238.8h0.7 M135.4 218.7h0.7 M141.6 218.1h0.7 M140.7 236.1h0.7 M129.1 241.1h0.7 M131.8 221.7h0.7 M145.4 234.8h0.7 M139.3 219.5h0.7 M142.9 222.4h0.7 M128.5 238.4h0.7 M130.9 239.0h0.7 M132.7 231.8h0.7 M132.3 227.9h0.7 M136.4 221.8h0.7 M140.2 238.5h0.7 M130.8 242.1h0.7 M142.9 225.0h0.7 M136.8 219.2h0.7 M142.0 226.6h0.7 M142.6 220.7h0.7 M126.4 234.3h0.7 M129.0 238.9h0.7 M141.2 233.5h0.7 M139.1 216.1h0.7 M140.5 221.2h0.7 M130.7 228.1h0.7 M137.9 239.5h0.7 M129.7 223.1h0.7 M140.6 238.3h0.7 M140.0 246.3h0.7 M129.3 223.8h0.7 M141.2 221.9h0.7 M128.1 220.6h0.7 M144.7 223.8h0.7 M132.2 239.4h0.7 M137.4 217.7h0.7 M136.0 219.5h0.7 M127.1 231.3h0.7 M137.6 225.8h0.7 M142.6 232.1h0.7 M136.6 221.6h0.7 M141.4 220.4h0.7 M132.3 230.1h0.7 M142.5 241.3h0.7 M133.7 229.0h0.7 M140.1 216.0h0.7 M135.8 236.2h0.7 M127.4 229.7h0.7 M140.1 223.4h0.7 M144.0 228.6h0.7 M128.3 232.2h0.7 M128.5 241.1h0.7 M135.1 224.8h0.7 M130.7 240.1h0.7 M136.3 248.3h0.7 M139.7 223.0h0.7 M136.1 239.2h0.7 M132.8 221.4h0.7 M130.6 229.8h0.7 M128.5 240.3h0.7 M132.9 219.1h0.7 M134.9 243.2h0.7 M139.8 246.2h0.7 M130.9 225.9h0.7" stroke="#3a2a9e" stroke-width="0.7" opacity="0.6"/>
<ellipse cx="135.60" cy="231.00" rx="8.20" ry="15.60" fill="#3a2596" filter="url(#b05)"/>
<ellipse cx="136.00" cy="231.50" rx="4.60" ry="13.80" fill="#2d4fd8" filter="url(#b05)"/>
<ellipse cx="136.20" cy="231.50" rx="2.90" ry="12.60" fill="#3ec6e6" filter="url(#b05)"/>
<ellipse cx="136.30" cy="231.50" rx="2.00" ry="11.50" fill="#4ccf48" filter="url(#b05)"/>
<ellipse cx="136.30" cy="229.50" rx="1.30" ry="7.50" fill="#f2ea2a" filter="url(#b05)"/>
<ellipse cx="136.40" cy="226.50" rx="0.90" ry="3.00" fill="#f49a20" filter="url(#b05)"/>
<ellipse cx="136.30" cy="243.50" rx="3.50" ry="1.60" fill="#4ccf48" filter="url(#b05)" opacity="0.8"/>
</g>
<rect x="109.50" y="209.60" width="43.50" height="46.10" fill="none" stroke="#bdbdbd" stroke-width="0.7"/>
<rect x="110" y="233.6" width="14.6" height="20.6" fill="none" stroke="#777" stroke-width="0.5"/>
<text x="111.00" y="244.50" font-size="2.4" fill="#d2334a" stroke="#d2334a" stroke-width="0.06" >Non-LNPC</text>
<text x="112.50" y="250.00" font-size="2.6" fill="#d2334a" stroke="#d2334a" stroke-width="0.06" >2.05</text>
<text x="99.90" y="250.80" font-size="9" text-anchor="middle" font-weight="bold" fill="#111" textLength="12.60" lengthAdjust="spacingAndGlyphs" transform="rotate(-90 99.90 250.80)" >CD71</text>
<line x1="104.60" y1="259.00" x2="104.60" y2="246.10" stroke="#222" stroke-width="0.9" />
<path d="M104.60 243.00L102.80 246.60L106.40 246.60Z" fill="#222"/>
<line x1="104.60" y1="259.00" x2="119.40" y2="259.00" stroke="#222" stroke-width="0.9" />
<path d="M122.50 259.00L118.90 257.20L118.90 260.80Z" fill="#222"/>
<text x="105.00" y="267.80" font-size="9.2" font-weight="bold" fill="#111" textLength="16.70" lengthAdjust="spacingAndGlyphs" >Ter119</text>
<text x="164.00" y="249.30" font-size="9" text-anchor="middle" font-weight="bold" fill="#111" textLength="13.90" lengthAdjust="spacingAndGlyphs" transform="rotate(-90 164.00 249.30)" >CD44</text>
<line x1="167.60" y1="259.00" x2="167.60" y2="246.10" stroke="#222" stroke-width="0.9" />
<path d="M167.60 243.00L165.80 246.60L169.40 246.60Z" fill="#222"/>
<line x1="167.60" y1="259.00" x2="182.30" y2="259.00" stroke="#222" stroke-width="0.9" />
<path d="M185.40 259.00L181.80 257.20L181.80 260.80Z" fill="#222"/>
<text x="167.90" y="267.80" font-size="9.2" font-weight="bold" fill="#111" textLength="17.30" lengthAdjust="spacingAndGlyphs" >Ter119</text>
<clipPath id="cp3"><rect x="231.80" y="208.70" width="45.60" height="45.60"/></clipPath>
<g clip-path="url(#cp3)">
<path d="M234.5 231.3h0.8 M240.8 227.6h0.8 M247.1 250.0h0.8 M242.4 251.2h0.8 M243.3 227.7h0.8 M248.5 237.2h0.8 M248.5 226.3h0.8 M244.5 244.6h0.8 M248.7 248.1h0.8 M246.4 253.2h0.8 M246.5 230.1h0.8 M246.2 226.9h0.8 M250.5 225.5h0.8 M236.5 224.9h0.8 M244.8 226.5h0.8 M253.3 231.6h0.8 M248.4 250.6h0.8 M246.4 230.0h0.8 M251.4 234.3h0.8 M245.4 226.1h0.8 M247.7 236.3h0.8 M250.9 237.2h0.8 M246.7 224.5h0.8 M250.7 231.7h0.8 M242.4 251.8h0.8 M241.1 227.0h0.8 M243.2 246.3h0.8 M246.3 229.7h0.8 M249.1 248.5h0.8 M242.6 246.3h0.8 M242.5 252.8h0.8 M249.7 222.9h0.8 M251.0 230.6h0.8 M246.3 224.9h0.8 M251.7 232.3h0.8 M248.3 251.0h0.8 M242.7 250.4h0.8 M236.1 226.2h0.8 M250.2 236.2h0.8 M246.7 245.6h0.8 M244.5 226.2h0.8 M239.9 223.8h0.8 M243.2 227.2h0.8 M247.7 226.8h0.8 M245.9 229.0h0.8 M246.4 230.2h0.8 M241.2 233.2h0.8 M240.6 246.9h0.8 M245.8 226.4h0.8 M243.4 225.6h0.8 M253.3 231.5h0.8 M250.8 228.4h0.8 M242.2 247.1h0.8 M248.3 237.7h0.8 M248.8 250.0h0.8 M246.1 255.6h0.8 M242.8 237.5h0.8 M248.7 238.5h0.8 M240.8 232.9h0.8 M248.6 249.8h0.8 M249.1 250.0h0.8 M248.9 227.9h0.8 M248.9 248.3h0.8 M244.2 251.8h0.8 M247.0 231.0h0.8 M246.1 230.1h0.8 M244.9 226.6h0.8 M246.1 229.0h0.8 M243.3 246.3h0.8 M245.7 245.5h0.8 M241.6 249.8h0.8 M247.5 227.0h0.8 M244.4 225.2h0.8 M253.5 231.8h0.8 M243.7 245.8h0.8 M247.9 226.8h0.8 M248.6 249.7h0.8 M243.3 227.5h0.8 M251.0 233.4h0.8 M248.0 244.7h0.8 M251.5 234.0h0.8 M241.6 230.5h0.8 M240.9 230.4h0.8 M246.2 237.9h0.8 M245.4 252.7h0.8 M245.2 225.7h0.8 M246.8 234.4h0.8 M247.4 251.7h0.8 M248.7 250.2h0.8 M242.4 247.0h0.8 M247.8 247.1h0.8 M242.7 226.6h0.8 M242.2 246.6h0.8 M253.1 224.8h0.8 M248.7 251.1h0.8 M244.7 228.5h0.8 M244.2 244.9h0.8 M240.7 233.2h0.8 M246.2 245.6h0.8 M244.2 228.9h0.8 M242.8 226.6h0.8 M239.3 223.3h0.8 M250.2 228.7h0.8 M244.2 237.5h0.8 M245.5 238.0h0.8 M242.5 247.2h0.8 M250.6 233.5h0.8 M242.9 250.9h0.8 M249.9 228.2h0.8 M254.3 231.3h0.8 M250.2 223.0h0.8 M254.0 231.6h0.8 M243.4 227.1h0.8 M235.7 228.5h0.8 M250.1 254.7h0.8 M250.2 236.5h0.8 M242.1 247.6h0.8 M242.2 249.2h0.8 M238.7 224.6h0.8 M243.0 251.9h0.8 M240.4 233.3h0.8 M253.9 223.3h0.8 M242.9 237.2h0.8 M243.9 227.0h0.8 M248.2 238.6h0.8 M234.7 231.5h0.8 M246.5 245.6h0.8 M247.2 231.5h0.8 M248.8 246.1h0.8 M245.9 222.4h0.8 M253.4 224.8h0.8 M249.6 235.9h0.8 M235.9 240.1h0.8 M248.1 239.4h0.8 M248.0 251.0h0.8 M246.4 245.5h0.8 M251.3 233.4h0.8 M250.1 230.1h0.8 M248.5 223.0h0.8 M244.8 226.2h0.8 M254.3 227.8h0.8 M236.4 240.5h0.8 M241.9 235.5h0.8 M244.3 245.3h0.8 M246.4 252.5h0.8 M242.4 250.1h0.8 M245.0 226.3h0.8 M246.1 252.4h0.8 M245.0 251.8h0.8 M246.9 251.3h0.8 M258.9 219.3h0.8 M264.0 218.7h0.8 M236.6 227.6h0.8 M237.2 228.4h0.8 M239.8 224.5h0.8 M250.9 221.6h0.8 M237.4 228.0h0.8 M262.8 218.9h0.8 M265.2 217.4h0.8 M249.3 222.1h0.8 M237.6 226.5h0.8 M234.5 229.1h0.8 M243.6 222.8h0.8 M256.9 220.0h0.8 M236.7 226.2h0.8 M254.9 222.1h0.8 M236.0 226.6h0.8 M256.1 218.8h0.8 M265.7 220.0h0.8 M256.9 219.1h0.8 M251.5 220.8h0.8 M263.8 219.0h0.8 M239.2 226.2h0.8 M235.2 226.8h0.8 M238.9 224.5h0.8 M255.2 220.6h0.8 M236.2 228.6h0.8 M240.8 224.3h0.8 M243.3 223.4h0.8 M239.3 223.8h0.8 M266.0 217.5h0.8 M257.7 221.0h0.8 M237.6 226.2h0.8 M245.6 222.4h0.8 M262.8 218.8h0.8 M248.3 220.3h0.8 M251.7 219.9h0.8 M240.2 224.4h0.8 M237.1 229.1h0.8 M265.2 219.6h0.8 M237.6 227.3h0.8 M236.2 227.9h0.8 M240.8 223.3h0.8 M245.9 222.6h0.8 M266.4 218.8h0.8 M265.6 218.5h0.8 M258.7 219.6h0.8 M237.2 229.2h0.8 M251.0 221.8h0.8 M243.6 223.9h0.8 M250.3 223.0h0.8 M239.1 225.3h0.8 M234.5 228.4h0.8 M256.2 220.4h0.8 M252.1 221.6h0.8 M258.6 219.4h0.8 M246.3 222.3h0.8 M253.3 220.6h0.8 M234.8 228.4h0.8 M247.7 222.5h0.8 M258.7 219.7h0.8 M263.9 218.9h0.8 M263.5 217.9h0.8 M236.8 228.5h0.8 M258.4 220.1h0.8 M255.5 220.5h0.8 M265.6 219.8h0.8 M259.8 218.6h0.8 M246.6 222.6h0.8 M239.2 224.6h0.8 M264.7 219.4h0.8 M246.0 219.5h0.8 M264.2 217.7h0.8 M250.6 221.6h0.8 M242.7 223.5h0.8 M263.3 217.2h0.8 M264.2 219.7h0.8 M236.7 228.4h0.8 M246.0 221.4h0.8 M265.5 216.8h0.8 M256.9 219.9h0.8 M263.0 219.0h0.8 M245.9 222.2h0.8 M260.6 219.8h0.8 M264.1 219.1h0.8 M243.5 222.6h0.8 M237.5 226.3h0.8 M254.0 219.7h0.8 M258.5 220.8h0.8 M240.7 224.0h0.8 M242.5 223.3h0.8 M237.3 229.1h0.8 M240.5 223.6h0.8 M240.1 224.3h0.8 M261.2 219.4h0.8 M236.7 228.3h0.8 M242.4 223.3h0.8 M238.3 225.0h0.8 M255.5 221.9h0.8 M256.1 219.5h0.8 M250.9 220.6h0.8 M257.9 219.5h0.8 M264.3 219.5h0.8 M254.3 220.2h0.8 M241.1 223.5h0.8 M265.8 219.3h0.8 M237.5 227.0h0.8 M263.2 217.7h0.8 M245.4 222.0h0.8 M242.9 224.3h0.8 M264.7 219.3h0.8 M266.4 217.6h0.8 M248.8 221.8h0.8 M237.9 229.4h0.8 M241.5 223.8h0.8 M257.8 219.4h0.8 M264.5 218.9h0.8 M235.6 226.9h0.8 M246.6 221.6h0.8 M236.9 228.7h0.8 M237.8 226.2h0.8 M245.0 223.0h0.8 M256.9 218.4h0.8 M265.5 218.5h0.8 M237.6 226.7h0.8 M249.5 221.8h0.8 M250.2 219.7h0.8 M241.5 223.2h0.8 M257.1 220.7h0.8 M265.0 217.6h0.8 M237.1 226.4h0.8 M262.5 219.7h0.8 M255.7 219.3h0.8 M251.5 223.0h0.8 M236.7 227.9h0.8 M247.1 222.3h0.8 M261.5 220.1h0.8 M262.8 219.7h0.8 M264.4 219.2h0.8 M265.3 218.3h0.8 M245.2 221.0h0.8 M258.5 219.9h0.8 M263.8 218.3h0.8 M263.0 218.4h0.8 M249.1 220.9h0.8 M265.4 219.0h0.8 M249.5 221.3h0.8 M244.7 222.6h0.8 M265.3 219.1h0.8 M236.5 229.6h0.8 M235.8 228.6h0.8 M247.7 223.3h0.8 M252.4 221.8h0.8 M242.5 224.8h0.8 M243.8 223.3h0.8 M264.0 218.3h0.8 M251.0 222.1h0.8 M258.4 219.3h0.8 M261.1 220.9h0.8 M258.8 219.9h0.8 M237.9 225.3h0.8 M243.5 224.0h0.8 M248.1 221.1h0.8 M258.8 220.1h0.8 M242.2 220.9h0.8 M266.3 217.4h0.8 M263.2 219.7h0.8 M252.9 221.2h0.8 M248.9 222.0h0.8 M251.0 220.8h0.8 M237.5 229.4h0.8 M255.7 220.6h0.8 M258.7 220.6h0.8 M265.8 219.5h0.8 M239.0 224.2h0.8 M261.6 218.9h0.8 M236.7 226.4h0.8 M247.5 221.8h0.8 M255.0 221.3h0.8 M250.1 221.3h0.8 M240.3 224.9h0.8 M254.9 221.5h0.8 M233.8 228.8h0.8 M253.2 221.1h0.8 M256.2 220.0h0.8 M260.0 219.2h0.8 M262.8 219.1h0.8 M250.6 221.5h0.8 M243.2 223.7h0.8 M243.8 223.0h0.8 M247.0 221.1h0.8 M248.7 224.1h0.8 M237.0 226.5h0.8 M265.5 217.2h0.8 M245.4 220.8h0.8 M238.9 223.2h0.8 M262.4 219.3h0.8 M266.1 220.0h0.8 M236.2 227.4h0.8 M236.3 226.0h0.8 M246.7 221.3h0.8 M264.9 217.8h0.8 M241.7 223.8h0.8 M239.9 224.3h0.8 M255.4 221.5h0.8 M240.8 224.0h0.8 M246.5 222.3h0.8 M265.6 218.2h0.8 M265.2 218.8h0.8 M252.3 253.0h0.8 M256.0 240.0h0.8 M249.9 233.3h0.8 M247.5 227.8h0.8 M253.1 249.2h0.8 M252.0 226.7h0.8 M247.1 229.2h0.8 M249.7 250.9h0.8 M247.8 226.3h0.8 M252.1 235.0h0.8 M253.9 238.4h0.8 M247.4 229.0h0.8 M247.8 225.0h0.8 M247.5 253.8h0.8 M251.8 241.9h0.8 M248.8 252.6h0.8 M253.1 246.2h0.8 M250.0 236.7h0.8 M249.2 229.5h0.8 M250.9 227.9h0.8 M246.8 251.9h0.8 M246.4 254.4h0.8 M249.6 249.1h0.8 M253.1 230.9h0.8 M249.2 228.0h0.8 M248.1 252.1h0.8 M248.4 251.4h0.8 M253.4 243.0h0.8 M252.7 233.5h0.8 M243.7 222.5h0.8 M252.7 246.3h0.8 M250.3 230.8h0.8 M246.5 251.4h0.8 M250.3 244.3h0.8 M251.0 250.4h0.8 M252.2 240.7h0.8 M253.2 241.7h0.8 M251.8 246.0h0.8 M249.1 246.5h0.8 M252.3 237.1h0.8 M249.3 231.0h0.8 M253.9 246.6h0.8 M248.5 229.2h0.8 M249.2 253.7h0.8 M252.0 237.0h0.8 M248.2 223.6h0.8 M251.4 246.0h0.8 M249.9 229.1h0.8 M252.5 244.7h0.8 M249.5 229.4h0.8 M253.3 245.4h0.8 M247.8 253.0h0.8 M252.2 233.8h0.8 M251.0 240.3h0.8 M252.6 246.0h0.8 M249.9 251.1h0.8 M252.8 242.1h0.8 M251.5 231.9h0.8 M249.2 226.6h0.8 M251.6 247.8h0.8 M249.2 248.0h0.8 M253.0 241.0h0.8 M247.5 252.2h0.8 M249.7 229.6h0.8 M250.5 229.1h0.8 M247.1 248.7h0.8 M247.2 236.0h0.8 M251.2 246.7h0.8 M251.7 237.7h0.8 M251.5 247.9h0.8 M250.5 253.5h0.8 M250.9 248.8h0.8 M250.2 239.0h0.8 M251.2 234.9h0.8 M251.9 242.5h0.8 M254.5 240.1h0.8 M251.3 250.1h0.8 M252.1 239.8h0.8 M253.9 245.0h0.8 M249.5 245.7h0.8 M248.3 248.9h0.8 M251.1 238.6h0.8 M251.3 253.1h0.8 M253.3 239.6h0.8 M251.4 239.2h0.8 M246.1 223.5h0.8 M244.7 224.4h0.8 M248.7 228.7h0.8 M250.2 236.3h0.8 M251.7 251.0h0.8 M253.8 249.2h0.8 M251.4 232.4h0.8 M251.7 247.9h0.8 M244.1 223.2h0.8 M251.9 243.0h0.8 M252.5 246.7h0.8 M253.5 247.6h0.8 M250.7 232.7h0.8 M249.2 223.2h0.8 M246.0 253.9h0.8 M252.2 237.4h0.8 M252.4 251.5h0.8 M250.9 244.2h0.8 M251.4 252.5h0.8 M248.4 252.1h0.8 M251.3 233.6h0.8 M252.3 237.9h0.8 M247.9 250.9h0.8 M249.7 255.0h0.8 M251.1 247.2h0.8 M254.0 237.0h0.8 M250.3 248.5h0.8 M249.0 250.6h0.8 M250.6 249.2h0.8 M252.2 248.9h0.8 M249.4 254.0h0.8 M250.0 234.0h0.8 M252.5 232.7h0.8 M246.6 227.3h0.8 M251.7 229.4h0.8 M250.3 245.2h0.8 M253.9 232.6h0.8 M247.9 250.9h0.8 M252.9 230.9h0.8 M250.8 248.9h0.8 M246.6 251.8h0.8 M248.1 231.3h0.8 M248.7 244.2h0.8 M249.0 253.3h0.8 M248.7 226.3h0.8 M251.2 242.0h0.8 M251.7 247.9h0.8 M245.4 223.2h0.8 M248.6 227.7h0.8 M251.1 235.1h0.8 M250.9 232.8h0.8 M249.0 252.5h0.8 M248.0 231.0h0.8 M252.2 235.4h0.8 M249.5 230.6h0.8 M249.6 233.7h0.8 M250.6 231.9h0.8 M250.5 247.1h0.8 M234.4 239.4h0.8 M235.1 242.8h0.8 M235.5 249.6h0.8 M233.1 239.2h0.8 M235.4 236.9h0.8 M236.1 236.5h0.8 M232.8 246.2h0.8 M233.2 246.6h0.8 M237.1 251.5h0.8 M235.3 245.2h0.8 M235.6 247.6h0.8 M233.6 244.4h0.8 M234.4 245.0h0.8 M235.8 244.8h0.8 M237.4 248.0h0.8 M233.6 247.1h0.8 M235.0 245.7h0.8 M235.6 248.5h0.8 M233.8 245.2h0.8 M235.6 239.3h0.8 M236.8 251.0h0.8 M234.6 246.5h0.8 M233.6 236.1h0.8 M233.1 238.2h0.8 M235.3 249.9h0.8 M235.5 251.6h0.8 M235.4 244.5h0.8 M239.2 252.5h0.8 M234.8 247.1h0.8 M233.0 239.6h0.8 M235.7 246.9h0.8 M234.9 246.7h0.8 M236.3 250.3h0.8 M235.4 242.9h0.8 M234.6 251.0h0.8 M236.7 237.5h0.8 M235.8 250.2h0.8 M235.4 242.8h0.8 M235.7 250.8h0.8 M235.9 247.9h0.8 M234.6 244.0h0.8 M234.1 243.3h0.8 M235.1 244.5h0.8 M234.4 243.2h0.8 M259.2 222.3h0.7 M269.2 228.0h0.7 M246.0 242.2h0.7 M254.0 245.3h0.7 M246.8 227.3h0.7 M247.5 223.7h0.7 M263.4 242.5h0.7 M255.9 246.8h0.7 M268.1 225.6h0.7 M271.5 231.6h0.7 M260.7 248.8h0.7 M270.3 225.8h0.7 M247.8 246.8h0.7 M255.1 223.1h0.7 M271.7 235.1h0.7" stroke="#0a0a0a" stroke-width="0.85"/>
<ellipse cx="245.94" cy="232.41" rx="4.56" ry="5.47" fill="#e6e6e6" stroke="#2a2a2a" stroke-width="1.1" transform="rotate(0 245.94 232.41)"/>
<ellipse cx="241.83" cy="237.88" rx="5.70" ry="12.77" fill="#e6e6e6" stroke="#2a2a2a" stroke-width="1.1" transform="rotate(-14 241.83 237.88)"/>
<ellipse cx="250.04" cy="227.85" rx="3.88" ry="4.56" fill="#e6e6e6" stroke="#2a2a2a" stroke-width="1.1" transform="rotate(0 250.04 227.85)"/>
<ellipse cx="245.48" cy="248.83" rx="3.19" ry="3.19" fill="#e6e6e6" stroke="#2a2a2a" stroke-width="1.1" transform="rotate(0 245.48 248.83)"/>
<ellipse cx="245.94" cy="232.41" rx="4.56" ry="5.47" fill="#e6e6e6" transform="rotate(0 245.94 232.41)"/>
<ellipse cx="241.83" cy="237.88" rx="5.70" ry="12.77" fill="#e6e6e6" transform="rotate(-14 241.83 237.88)"/>
<ellipse cx="250.04" cy="227.85" rx="3.88" ry="4.56" fill="#e6e6e6" transform="rotate(0 250.04 227.85)"/>
<ellipse cx="245.48" cy="248.83" rx="3.19" ry="3.19" fill="#e6e6e6" transform="rotate(0 245.48 248.83)"/>
<ellipse cx="241.83" cy="237.88" rx="4.67" ry="10.47" fill="#f2f2f2" stroke="#7a7a7a" stroke-width="0.5" transform="rotate(-14 241.83 237.88)"/>
<ellipse cx="241.83" cy="237.88" rx="3.53" ry="7.92" fill="#dedede" stroke="#7a7a7a" stroke-width="0.5" transform="rotate(-14 241.83 237.88)"/>
<ellipse cx="241.83" cy="237.88" rx="2.39" ry="5.36" fill="#f4f4f4" stroke="#7a7a7a" stroke-width="0.5" transform="rotate(-14 241.83 237.88)"/>
<ellipse cx="241.83" cy="237.88" rx="1.25" ry="2.81" fill="#e2e2e2" stroke="#7a7a7a" stroke-width="0.5" transform="rotate(-14 241.83 237.88)"/>
<ellipse cx="250.04" cy="227.85" rx="3.18" ry="3.74" fill="#f2f2f2" stroke="#7a7a7a" stroke-width="0.5" transform="rotate(0 250.04 227.85)"/>
<ellipse cx="250.04" cy="227.85" rx="2.40" ry="2.83" fill="#dedede" stroke="#7a7a7a" stroke-width="0.5" transform="rotate(0 250.04 227.85)"/>
<ellipse cx="250.04" cy="227.85" rx="1.63" ry="1.92" fill="#f4f4f4" stroke="#7a7a7a" stroke-width="0.5" transform="rotate(0 250.04 227.85)"/>
<ellipse cx="250.04" cy="227.85" rx="0.85" ry="1.00" fill="#e2e2e2" stroke="#7a7a7a" stroke-width="0.5" transform="rotate(0 250.04 227.85)"/>
</g>
<rect x="231.80" y="208.70" width="45.60" height="45.60" fill="none" stroke="#bdbdbd" stroke-width="0.7"/>
<path d="M231.8 219.6 L239.1 219.6 M240.0 219.2 L246.7 226.0 M247.1 216.3 L272.4 217.4 L258.6 239.1 L252.3 254.3 M247.1 216.3 L259.6 238.6 M231.8 239.1 L245.5 239.1 " fill="none" stroke="#4a4a4a" stroke-width="0.55" />
<text x="235.50" y="214.50" font-size="3" fill="#d2334a" stroke="#d2334a" stroke-width="0.06" >IV</text>
<text x="234.50" y="218.50" font-size="3" fill="#d2334a" stroke="#d2334a" stroke-width="0.06" >20.8</text>
<text x="243.50" y="214.00" font-size="3" fill="#d2334a" stroke="#d2334a" stroke-width="0.06" >III</text>
<text x="243.00" y="218.00" font-size="3" fill="#d2334a" stroke="#d2334a" stroke-width="0.06" >17.8</text>
<text x="256.50" y="213.50" font-size="3" fill="#d2334a" stroke="#d2334a" stroke-width="0.06" >II</text>
<text x="255.50" y="217.50" font-size="3" fill="#d2334a" stroke="#d2334a" stroke-width="0.06" >8.97</text>
<text x="259.00" y="244.00" font-size="3" fill="#d2334a" stroke="#d2334a" stroke-width="0.06" >V</text>
<text x="258.00" y="248.00" font-size="3" fill="#d2334a" stroke="#d2334a" stroke-width="0.06" >21.7</text>
<text x="224.60" y="248.60" font-size="9" text-anchor="middle" font-weight="bold" fill="#111" textLength="14.20" lengthAdjust="spacingAndGlyphs" transform="rotate(-90 224.60 248.60)" >CD44</text>
<line x1="228.90" y1="258.50" x2="228.90" y2="246.10" stroke="#222" stroke-width="0.9" />
<path d="M228.90 243.00L227.10 246.60L230.70 246.60Z" fill="#222"/>
<line x1="228.90" y1="258.50" x2="243.50" y2="258.50" stroke="#222" stroke-width="0.9" />
<path d="M246.60 258.50L243.00 256.70L243.00 260.30Z" fill="#222"/>
<text x="232.60" y="267.80" font-size="9.2" font-weight="bold" fill="#111" textLength="11.40" lengthAdjust="spacingAndGlyphs" >FSC</text>
<text x="92.10" y="292.50" font-size="11" text-anchor="middle" stroke="#222" stroke-width="0.06" >WT</text>
<line x1="31.00" y1="298.30" x2="154.00" y2="298.30" stroke="#222" stroke-width="1.0" />
<text x="227.10" y="291.70" font-size="11" stroke="#222" stroke-width="0.06" font-style="italic" >Rpl11</text>
<text x="255.80" y="287.20" font-size="8.2" stroke="#222" stroke-width="0.06" font-style="italic" >+/Δ</text>
<line x1="184.40" y1="297.90" x2="313.40" y2="297.90" stroke="#222" stroke-width="1.0" />
<text x="60.60" y="309.90" font-size="8.6" text-anchor="middle" stroke="#222" stroke-width="0.06" >Mouse 1</text>
<text x="131.60" y="309.90" font-size="8.6" text-anchor="middle" stroke="#222" stroke-width="0.06" >Mouse 2</text>
<text x="210.40" y="309.90" font-size="8.6" text-anchor="middle" stroke="#222" stroke-width="0.06" >Mouse 3</text>
<text x="283.40" y="309.90" font-size="8.6" text-anchor="middle" stroke="#222" stroke-width="0.06" >Mouse 4</text>
<line x1="22.00" y1="453.30" x2="22.00" y2="330.80" stroke="#111" stroke-width="1.1" />
<path d="M22.00 325.30L19.20 331.30L24.80 331.30Z" fill="#111"/>
<text x="16.40" y="389.20" font-size="10" text-anchor="middle" fill="#111" stroke="#111" stroke-width="0.45" textLength="16.70" lengthAdjust="spacingAndGlyphs" transform="rotate(-90 16.40 389.20)" >CD44</text>
<text x="31.20" y="391.70" font-size="10" fill="#111" stroke="#111" stroke-width="0.45" textLength="21.90" lengthAdjust="spacingAndGlyphs" >Ter-119</text>
<line x1="57.50" y1="388.60" x2="308.80" y2="388.60" stroke="#111" stroke-width="1.1" />
<path d="M314.30 388.60L308.30 386.00L308.30 391.20Z" fill="#111"/>
<text x="31.40" y="474.20" font-size="10" fill="#111" stroke="#111" stroke-width="0.45" textLength="13.20" lengthAdjust="spacingAndGlyphs" >FSC</text>
<line x1="47.40" y1="469.90" x2="308.80" y2="469.90" stroke="#111" stroke-width="1.1" />
<path d="M314.30 469.90L308.30 467.30L308.30 472.50Z" fill="#111"/>
<clipPath id="cp4"><rect x="170.30" y="209.80" width="44.40" height="44.10"/></clipPath>
<g clip-path="url(#cp4)">
<path d="M183.6 221.9h0.8 M184.4 226.2h0.8 M189.6 222.3h0.8 M187.1 221.6h0.8 M190.1 226.5h0.8 M187.3 223.4h0.8 M182.9 228.5h0.8 M180.2 221.7h0.8 M185.5 222.6h0.8 M182.2 226.2h0.8 M186.7 223.9h0.8 M183.4 222.0h0.8 M184.8 227.5h0.8 M186.8 229.1h0.8 M180.4 227.9h0.8 M184.9 222.3h0.8 M179.9 221.1h0.8 M182.6 227.7h0.8 M179.6 224.9h0.8 M186.3 226.7h0.8 M187.6 218.6h0.8 M184.7 225.7h0.8 M181.2 220.7h0.8 M184.6 224.3h0.8 M180.7 220.4h0.8 M186.6 219.1h0.8 M179.9 225.5h0.8 M178.7 223.5h0.8 M182.8 228.2h0.8 M180.9 219.5h0.8 M179.1 222.7h0.8 M188.8 221.1h0.8 M182.4 224.2h0.8 M179.5 223.8h0.8 M185.7 219.5h0.8 M184.2 221.9h0.8 M184.7 221.8h0.8 M190.3 222.5h0.8 M183.2 226.1h0.8 M184.8 221.0h0.8 M187.4 226.6h0.8 M178.7 222.1h0.8 M188.2 226.9h0.8 M187.3 222.6h0.8 M185.8 224.1h0.8 M183.1 224.6h0.8 M185.8 221.5h0.8 M183.9 225.8h0.8 M183.5 222.4h0.8 M187.1 220.7h0.8 M182.7 229.1h0.8 M179.0 227.1h0.8 M184.9 219.4h0.8 M190.7 226.1h0.8 M179.5 225.8h0.8 M184.9 222.4h0.8 M181.0 220.0h0.8 M183.1 227.8h0.8 M185.0 228.6h0.8 M187.9 223.4h0.8 M182.8 222.5h0.8 M183.8 227.1h0.8 M184.5 226.7h0.8 M187.8 227.7h0.8 M188.7 221.3h0.8 M183.7 220.6h0.8 M182.4 228.1h0.8 M181.2 225.8h0.8 M186.0 220.7h0.8 M188.1 223.0h0.8 M191.2 226.4h0.8 M189.6 220.7h0.8 M184.7 225.2h0.8 M185.7 218.2h0.8 M189.2 222.2h0.8 M185.5 223.7h0.8 M179.6 224.1h0.8 M182.8 218.9h0.8 M189.1 224.6h0.8 M185.5 229.1h0.8 M179.0 227.0h0.8 M187.4 222.7h0.8" stroke="#4b38b0" stroke-width="0.8" opacity="0.55"/>
<path d="M187.5 238.3h0.7 M189.0 246.5h0.7 M189.6 228.0h0.7 M194.9 234.4h0.7 M196.2 253.3h0.7 M196.4 234.9h0.7 M188.9 232.7h0.7 M190.4 240.4h0.7 M196.0 244.2h0.7 M190.4 239.8h0.7 M194.5 243.7h0.7 M189.0 229.4h0.7 M188.2 226.7h0.7 M194.0 243.7h0.7 M191.3 251.6h0.7 M196.8 244.0h0.7 M191.8 223.1h0.7 M196.4 232.7h0.7 M189.3 223.3h0.7 M189.6 248.5h0.7 M188.3 233.0h0.7 M196.3 235.5h0.7 M191.6 225.1h0.7 M193.9 253.3h0.7 M184.0 227.6h0.7 M196.1 253.7h0.7 M196.8 242.3h0.7 M190.8 228.0h0.7 M192.1 240.0h0.7 M183.7 227.4h0.7 M189.6 247.8h0.7 M189.4 240.3h0.7 M186.5 239.8h0.7 M186.7 230.3h0.7 M192.6 230.5h0.7 M193.8 230.5h0.7 M186.1 233.4h0.7 M192.8 229.9h0.7 M191.1 248.8h0.7 M187.2 238.6h0.7 M195.6 241.7h0.7 M186.7 232.6h0.7 M195.3 244.8h0.7 M186.8 228.2h0.7 M194.2 243.0h0.7 M185.1 226.2h0.7 M192.4 245.2h0.7 M188.2 228.2h0.7 M191.1 236.4h0.7 M190.9 225.9h0.7 M195.2 223.1h0.7 M191.4 253.7h0.7 M185.1 231.2h0.7 M191.1 229.9h0.7 M186.8 227.8h0.7 M196.8 251.4h0.7 M187.9 229.0h0.7 M191.1 238.3h0.7 M193.5 232.0h0.7 M195.8 248.2h0.7 M187.6 227.4h0.7 M187.8 227.0h0.7 M191.4 244.6h0.7 M189.4 253.2h0.7 M193.4 226.5h0.7 M184.9 224.7h0.7 M189.5 245.3h0.7 M187.0 223.1h0.7 M194.5 242.7h0.7 M191.9 226.6h0.7 M196.9 232.9h0.7 M195.3 247.3h0.7 M194.5 241.2h0.7 M196.4 242.9h0.7 M196.0 240.5h0.7 M187.8 233.4h0.7 M189.6 229.9h0.7 M188.1 236.0h0.7 M191.0 228.8h0.7 M188.6 231.5h0.7 M192.9 244.8h0.7 M193.1 239.0h0.7 M188.3 234.6h0.7 M191.8 248.3h0.7 M187.8 245.6h0.7 M185.5 232.5h0.7 M192.2 229.4h0.7 M190.8 243.9h0.7 M190.5 244.4h0.7 M184.0 224.9h0.7 M185.6 224.0h0.7 M196.3 239.2h0.7 M191.1 252.9h0.7 M193.5 230.1h0.7 M185.2 226.4h0.7 M193.3 245.8h0.7 M187.8 234.4h0.7 M191.8 250.7h0.7 M194.3 249.8h0.7 M187.0 236.0h0.7 M194.3 233.3h0.7 M194.3 250.5h0.7 M186.8 229.0h0.7 M192.9 234.6h0.7 M187.0 235.3h0.7 M189.8 230.9h0.7 M185.9 223.4h0.7 M190.3 228.8h0.7 M190.0 232.1h0.7 M195.3 230.2h0.7 M189.6 240.8h0.7 M184.9 224.2h0.7 M189.9 238.8h0.7 M185.9 224.2h0.7 M193.3 248.0h0.7 M193.0 249.0h0.7 M188.9 235.0h0.7 M193.4 226.3h0.7" stroke="#6f62c8" stroke-width="0.7" opacity="0.45"/>
<path d="M189.4 219.1 L194.7 218.2 L201.4 218.6 L204.5 221.7 L205.8 227.4 L205.8 234.1 L204.9 242.9 L203.6 253.9 L194.7 253.9 L193.8 245.1 L193.4 236.3 L191.2 234.9 L188.5 234.5 L187.2 231.9 L188.1 228.8 L190.3 227.4 L190.3 223.0 Z" fill="#3a2596" stroke="none" stroke-width="0.6" filter="url(#b05)" />
<ellipse cx="190.28" cy="231.41" rx="2.89" ry="3.09" fill="#2e1d88" filter="url(#b05)"/>
<ellipse cx="198.94" cy="233.61" rx="4.44" ry="14.99" fill="#2d4fd8" filter="url(#b1)"/>
<ellipse cx="198.94" cy="233.61" rx="3.20" ry="13.23" fill="#3ec6e6" filter="url(#b05)"/>
<ellipse cx="198.94" cy="232.73" rx="2.31" ry="11.47" fill="#4ccf48" filter="url(#b05)"/>
<ellipse cx="198.72" cy="231.85" rx="1.33" ry="7.50" fill="#f2ea2a" filter="url(#b05)"/>
<ellipse cx="198.72" cy="231.85" rx="0.89" ry="4.41" fill="#f49a20" filter="url(#b05)"/>
<ellipse cx="198.72" cy="231.85" rx="0.53" ry="2.65" fill="#e0261c" filter="url(#b05)"/>
</g>
<rect x="170.30" y="209.80" width="44.40" height="44.10" fill="none" stroke="#bdbdbd" stroke-width="0.7"/>
<path d="M170.3 216.0 L188.1 216.0 L188.1 218.6 L184.4 230.9 L170.3 230.9" fill="none" stroke="#555" stroke-width="0.5" />
<text x="172.52" y="220.83" font-size="2.6" fill="#d2334a" stroke="#d2334a" stroke-width="0.06" >I</text>
<text x="172.08" y="223.47" font-size="2.6" fill="#d2334a" stroke="#d2334a" stroke-width="0.06" >0.124</text>
<clipPath id="cp5"><rect x="29.50" y="315.20" width="62.60" height="64.40"/></clipPath>
<g clip-path="url(#cp5)">
<path d="M48.1 334.6h0.8 M52.3 331.4h0.8 M58.1 336.5h0.8 M52.4 336.0h0.8 M47.8 332.4h0.8 M55.5 337.6h0.8 M53.0 332.2h0.8 M47.2 334.3h0.8 M49.1 328.5h0.8 M56.9 339.8h0.8 M50.4 334.0h0.8 M50.8 343.6h0.8 M48.3 341.4h0.8 M57.3 336.1h0.8 M51.2 329.3h0.8 M42.2 339.4h0.8 M57.9 330.7h0.8 M55.4 328.7h0.8 M52.3 331.9h0.8 M51.5 338.8h0.8 M57.4 337.2h0.8 M55.5 342.4h0.8 M54.2 329.9h0.8 M50.3 343.6h0.8 M54.0 341.8h0.8 M47.9 335.0h0.8 M50.2 343.6h0.8 M57.7 336.9h0.8 M41.8 331.5h0.8 M53.6 338.7h0.8 M58.0 335.3h0.8 M45.5 341.6h0.8 M57.9 333.8h0.8 M43.7 329.8h0.8 M52.3 336.2h0.8 M47.7 329.6h0.8 M47.5 341.4h0.8 M56.8 334.0h0.8 M52.8 328.3h0.8 M52.2 342.6h0.8 M43.0 341.1h0.8 M47.6 343.2h0.8 M56.1 335.7h0.8 M48.3 337.9h0.8 M43.6 334.7h0.8 M53.6 338.4h0.8 M50.1 340.0h0.8 M52.3 328.2h0.8 M48.7 328.2h0.8 M42.5 337.9h0.8 M42.7 335.6h0.8 M53.2 334.8h0.8 M52.1 343.7h0.8 M53.2 329.8h0.8 M54.2 339.5h0.8 M48.2 335.7h0.8 M53.6 341.4h0.8 M51.7 330.5h0.8 M46.0 335.3h0.8 M48.2 342.6h0.8 M48.8 331.9h0.8 M52.4 334.8h0.8 M50.1 342.2h0.8 M42.4 334.0h0.8 M56.9 337.5h0.8 M50.9 337.8h0.8 M44.4 337.4h0.8 M55.9 339.1h0.8 M43.2 339.3h0.8 M56.7 339.7h0.8 M46.8 338.3h0.8 M57.2 331.3h0.8 M53.4 343.1h0.8 M48.1 328.9h0.8 M48.9 336.2h0.8 M49.5 327.6h0.8 M52.7 331.6h0.8 M50.1 330.0h0.8 M48.8 341.9h0.8 M50.2 342.1h0.8 M52.6 334.4h0.8 M44.2 337.5h0.8 M46.1 338.1h0.8 M46.1 341.0h0.8 M40.8 335.5h0.8 M52.6 327.9h0.8 M44.6 330.3h0.8 M57.9 338.1h0.8 M51.9 329.1h0.8 M50.1 331.2h0.8 M54.6 331.6h0.8 M45.3 339.3h0.8 M51.9 330.0h0.8 M40.5 336.3h0.8 M52.2 341.1h0.8 M48.2 334.2h0.8 M55.4 329.5h0.8 M42.3 330.7h0.8 M55.5 329.2h0.8 M50.9 340.9h0.8 M40.2 335.6h0.8 M56.5 340.4h0.8 M49.8 333.3h0.8 M56.5 333.9h0.8 M54.1 336.5h0.8 M46.4 333.2h0.8 M54.1 329.6h0.8 M46.1 330.9h0.8 M50.1 333.4h0.8 M54.5 336.2h0.8 M44.4 331.3h0.8 M53.5 343.2h0.8 M41.7 337.0h0.8 M45.0 333.9h0.8 M42.8 340.8h0.8 M54.2 342.4h0.8 M55.9 338.4h0.8 M54.0 332.2h0.8 M56.4 339.8h0.8 M50.4 335.3h0.8 M51.8 332.4h0.8 M50.4 342.7h0.8 M49.4 344.0h0.8 M44.2 331.7h0.8 M51.8 333.8h0.8 M56.4 336.3h0.8 M46.7 338.5h0.8 M49.7 343.7h0.8 M48.5 330.8h0.8 M53.3 333.3h0.8 M51.8 334.0h0.8 M44.4 337.9h0.8 M48.4 331.5h0.8 M47.0 337.1h0.8 M50.8 337.3h0.8 M55.7 335.6h0.8 M56.1 336.9h0.8 M44.2 333.5h0.8 M43.8 340.7h0.8 M52.9 338.5h0.8 M46.8 338.1h0.8 M52.5 333.6h0.8 M47.4 343.0h0.8 M42.3 337.4h0.8 M48.9 337.2h0.8 M46.9 328.4h0.8 M58.1 337.9h0.8 M52.3 328.1h0.8 M46.4 340.3h0.8 M54.0 331.1h0.8 M44.6 337.1h0.8 M58.0 340.0h0.8 M49.3 335.0h0.8 M53.0 340.6h0.8 M40.8 333.5h0.8 M45.8 331.2h0.8 M46.8 331.2h0.8 M51.5 333.4h0.8 M50.5 337.6h0.8 M52.1 342.2h0.8 M41.7 334.6h0.8 M48.5 343.8h0.8 M56.8 331.8h0.8 M52.5 331.3h0.8 M50.4 335.4h0.8 M48.3 343.5h0.8 M43.4 341.8h0.8 M51.1 334.1h0.8 M48.3 334.2h0.8 M54.5 334.9h0.8 M47.6 334.3h0.8 M54.8 337.1h0.8 M49.8 330.5h0.8 M46.5 336.0h0.8 M53.9 329.5h0.8 M47.4 342.5h0.8 M53.2 336.9h0.8 M57.1 340.4h0.8 M56.7 329.9h0.8 M55.8 331.2h0.8 M50.4 330.1h0.8 M58.5 332.7h0.8 M56.7 333.7h0.8 M53.9 329.2h0.8 M53.0 339.3h0.8 M58.6 331.7h0.8 M44.0 340.7h0.8 M46.0 341.2h0.8 M47.5 342.0h0.8 M54.2 343.2h0.8 M53.4 333.6h0.8 M53.5 341.9h0.8 M44.8 339.9h0.8 M50.3 341.4h0.8 M53.1 338.3h0.8 M46.3 332.6h0.8 M58.9 337.9h0.8 M44.6 336.5h0.8" stroke="#4b38b0" stroke-width="0.8" opacity="0.55"/>
<path d="M65.5 347.3h0.7 M60.8 365.9h0.7 M56.1 346.0h0.7 M65.8 377.6h0.7 M50.1 343.5h0.7 M49.8 335.1h0.7 M64.5 346.8h0.7 M51.2 339.9h0.7 M56.5 354.6h0.7 M61.4 367.2h0.7 M61.8 359.8h0.7 M53.9 349.4h0.7 M57.3 339.0h0.7 M65.2 374.5h0.7 M62.9 350.3h0.7 M54.5 364.5h0.7 M55.2 342.4h0.7 M61.9 338.9h0.7 M57.6 373.3h0.7 M61.2 355.7h0.7 M65.4 349.8h0.7 M64.3 343.5h0.7 M55.7 377.0h0.7 M61.4 368.3h0.7 M57.1 339.0h0.7 M66.0 339.1h0.7 M61.6 367.1h0.7 M59.0 353.7h0.7 M66.4 377.2h0.7 M66.0 338.2h0.7 M59.7 367.3h0.7 M57.2 335.2h0.7 M65.2 354.3h0.7 M56.9 371.2h0.7 M48.9 335.8h0.7 M65.1 346.7h0.7 M66.9 367.9h0.7 M64.5 364.5h0.7 M56.6 340.4h0.7 M63.1 367.5h0.7 M54.4 356.7h0.7 M62.1 340.4h0.7 M64.0 353.5h0.7 M53.5 363.7h0.7 M56.3 374.6h0.7 M54.8 357.6h0.7 M66.8 344.2h0.7 M49.9 340.1h0.7 M52.5 336.1h0.7 M65.1 356.4h0.7 M64.0 366.0h0.7 M60.3 368.7h0.7 M56.9 369.5h0.7 M62.7 370.8h0.7 M66.5 339.9h0.7 M60.1 368.1h0.7 M58.2 369.7h0.7 M54.9 359.9h0.7 M65.1 363.7h0.7 M58.4 361.1h0.7 M54.4 368.6h0.7 M56.4 340.3h0.7 M52.7 353.5h0.7 M52.8 359.8h0.7 M51.1 352.2h0.7 M52.7 351.3h0.7 M66.4 338.6h0.7 M51.9 354.8h0.7 M56.8 351.1h0.7 M48.0 335.2h0.7 M63.9 376.9h0.7 M50.1 337.2h0.7 M64.4 372.2h0.7 M59.5 370.4h0.7 M53.8 352.0h0.7 M63.6 373.2h0.7 M66.7 366.8h0.7 M53.5 341.1h0.7 M58.7 355.9h0.7 M64.3 376.6h0.7 M57.5 339.0h0.7 M56.8 353.5h0.7 M60.3 340.0h0.7 M56.4 349.2h0.7 M65.9 349.3h0.7 M57.2 339.5h0.7 M58.0 350.0h0.7 M56.1 342.2h0.7 M64.6 357.7h0.7 M61.0 352.7h0.7 M53.9 352.4h0.7 M61.4 375.2h0.7 M55.2 365.3h0.7 M51.6 346.8h0.7 M53.6 358.3h0.7 M55.6 334.6h0.7 M59.8 354.0h0.7 M55.8 349.3h0.7 M61.8 370.1h0.7 M59.5 374.4h0.7 M58.4 339.6h0.7 M62.6 360.9h0.7 M52.8 345.4h0.7 M66.6 368.5h0.7 M50.6 336.6h0.7 M66.6 346.1h0.7 M63.2 339.8h0.7 M58.4 350.6h0.7 M64.3 347.9h0.7 M62.2 378.6h0.7 M58.1 365.3h0.7 M50.8 342.9h0.7 M57.8 364.1h0.7 M54.8 342.6h0.7 M63.9 339.5h0.7 M54.9 356.0h0.7 M55.9 367.3h0.7 M64.4 355.6h0.7 M61.6 340.3h0.7 M59.3 339.4h0.7 M59.2 370.3h0.7 M52.3 341.5h0.7 M58.5 348.9h0.7 M52.1 340.2h0.7 M55.8 352.7h0.7 M62.1 338.5h0.7 M63.7 376.0h0.7 M61.2 358.7h0.7 M61.7 360.3h0.7 M55.5 339.1h0.7 M59.7 370.4h0.7 M62.0 374.2h0.7 M50.0 341.1h0.7 M61.1 365.8h0.7 M51.3 350.0h0.7 M50.5 349.0h0.7 M54.9 368.1h0.7 M64.1 350.4h0.7 M59.4 352.7h0.7 M63.6 368.8h0.7 M55.9 350.9h0.7 M62.1 348.3h0.7 M66.2 336.3h0.7 M62.3 358.4h0.7 M55.9 358.8h0.7 M52.3 359.6h0.7 M58.9 363.4h0.7 M62.2 365.7h0.7 M65.3 336.9h0.7 M61.5 341.4h0.7 M55.3 369.2h0.7 M64.6 368.2h0.7 M52.0 356.1h0.7 M61.6 365.2h0.7 M59.2 354.8h0.7 M56.1 370.8h0.7 M59.9 356.6h0.7 M63.3 341.2h0.7 M62.6 351.3h0.7 M66.9 363.8h0.7 M50.1 346.3h0.7 M53.2 338.0h0.7 M64.8 372.3h0.7 M56.0 354.6h0.7 M66.0 367.3h0.7 M62.7 337.9h0.7 M66.7 372.1h0.7 M66.0 344.5h0.7 M47.6 335.6h0.7 M48.9 337.1h0.7 M55.2 348.1h0.7 M58.9 359.8h0.7 M57.0 348.0h0.7 M60.4 365.6h0.7 M59.9 355.8h0.7 M53.6 347.4h0.7 M57.5 342.9h0.7 M63.6 374.1h0.7 M63.4 371.3h0.7 M54.2 342.4h0.7 M66.7 339.5h0.7 M50.3 348.3h0.7 M56.8 371.7h0.7 M60.4 378.9h0.7 M65.5 339.2h0.7 M48.4 335.7h0.7 M65.7 346.4h0.7 M56.1 350.8h0.7 M56.5 376.6h0.7 M65.7 374.1h0.7 M65.7 346.0h0.7 M58.4 338.8h0.7 M65.1 337.7h0.7 M59.5 350.2h0.7 M67.0 370.6h0.7 M66.3 376.3h0.7 M55.4 346.9h0.7 M60.3 364.7h0.7 M63.1 353.0h0.7 M56.0 372.8h0.7 M56.4 341.1h0.7 M65.1 354.3h0.7 M56.8 353.9h0.7 M59.9 340.5h0.7 M63.6 374.3h0.7 M60.9 361.5h0.7 M51.1 335.4h0.7 M52.8 345.2h0.7 M56.7 378.7h0.7 M59.4 339.4h0.7 M66.7 349.1h0.7 M59.6 349.1h0.7 M62.0 342.8h0.7 M58.8 351.2h0.7 M61.0 355.8h0.7 M53.9 365.4h0.7 M57.3 353.6h0.7 M55.8 374.9h0.7 M66.9 359.6h0.7 M50.2 344.6h0.7 M57.8 367.8h0.7 M67.0 352.2h0.7 M65.5 354.2h0.7 M58.4 373.6h0.7 M66.7 337.5h0.7 M60.7 362.9h0.7 M65.3 364.7h0.7 M57.9 343.6h0.7 M63.5 353.2h0.7 M66.1 350.6h0.7 M57.5 358.9h0.7 M54.6 336.2h0.7 M62.3 339.4h0.7 M61.5 352.1h0.7 M55.1 353.5h0.7 M65.0 375.9h0.7 M60.4 366.1h0.7 M62.8 364.9h0.7 M57.8 348.6h0.7 M55.3 335.4h0.7 M50.5 350.2h0.7 M64.6 371.2h0.7" stroke="#6f62c8" stroke-width="0.7" opacity="0.45"/>
<path d="M56.4 328.7 L63.9 327.4 L73.3 328.1 L77.7 332.6 L79.6 341.0 L79.6 350.6 L78.3 363.5 L76.4 379.6 L63.9 379.6 L62.7 366.7 L62.1 353.8 L58.9 351.9 L55.2 351.3 L53.3 347.4 L54.5 342.9 L57.7 341.0 L57.7 334.5 Z" fill="#3a2596" stroke="none" stroke-width="0.6" filter="url(#b05)" />
<ellipse cx="57.67" cy="346.76" rx="4.07" ry="4.51" fill="#2e1d88" filter="url(#b05)"/>
<ellipse cx="69.88" cy="349.98" rx="6.26" ry="21.90" fill="#2d4fd8" filter="url(#b1)"/>
<ellipse cx="69.88" cy="349.98" rx="4.51" ry="19.32" fill="#3ec6e6" filter="url(#b05)"/>
<ellipse cx="69.88" cy="348.69" rx="3.26" ry="16.74" fill="#4ccf48" filter="url(#b05)"/>
<ellipse cx="69.56" cy="347.40" rx="1.88" ry="10.95" fill="#f2ea2a" filter="url(#b05)"/>
<ellipse cx="69.56" cy="347.40" rx="1.25" ry="6.44" fill="#f49a20" filter="url(#b05)"/>
<ellipse cx="69.56" cy="347.40" rx="0.75" ry="3.86" fill="#e0261c" filter="url(#b05)"/>
</g>
<rect x="29.50" y="315.20" width="62.60" height="64.40" fill="none" stroke="#bdbdbd" stroke-width="0.7"/>
<path d="M29.5 324.2 L54.5 324.2 L54.5 328.1 L49.4 346.0 L29.5 346.0" fill="none" stroke="#555" stroke-width="0.5" />
<text x="32.63" y="331.30" font-size="3" fill="#d2334a" stroke="#d2334a" stroke-width="0.06" >I</text>
<text x="32.00" y="335.16" font-size="3" fill="#d2334a" stroke="#d2334a" stroke-width="0.06" >0.124</text>
<clipPath id="cp6"><rect x="99.30" y="315.20" width="64.30" height="64.40"/></clipPath>
<g clip-path="url(#cp6)">
<path d="M122.9 330.1h0.8 M117.0 332.6h0.8 M120.4 327.7h0.8 M128.7 336.6h0.8 M119.8 341.6h0.8 M129.8 337.8h0.8 M119.6 337.6h0.8 M129.6 338.7h0.8 M113.4 341.1h0.8 M114.0 337.6h0.8 M119.2 330.9h0.8 M112.3 330.8h0.8 M116.3 337.0h0.8 M124.8 339.2h0.8 M125.1 342.6h0.8 M113.9 339.7h0.8 M115.0 333.5h0.8 M115.0 330.4h0.8 M117.0 334.2h0.8 M118.1 332.2h0.8 M129.8 336.0h0.8 M122.5 337.5h0.8 M126.1 340.0h0.8 M126.4 338.8h0.8 M112.3 332.7h0.8 M115.0 337.8h0.8 M127.8 330.1h0.8 M126.8 339.2h0.8 M123.5 328.7h0.8 M125.3 336.8h0.8 M124.5 338.4h0.8 M114.4 338.1h0.8 M123.4 332.5h0.8 M120.1 337.0h0.8 M129.1 339.2h0.8 M124.6 334.8h0.8 M113.8 340.9h0.8 M122.1 334.5h0.8 M127.7 336.0h0.8 M121.5 336.9h0.8 M112.3 334.9h0.8 M117.8 336.1h0.8 M123.4 333.6h0.8 M115.7 332.8h0.8 M116.9 341.6h0.8 M122.2 342.8h0.8 M113.4 333.2h0.8 M119.3 333.5h0.8 M126.8 338.3h0.8 M123.5 338.0h0.8 M118.6 339.4h0.8 M118.4 331.1h0.8 M115.4 335.8h0.8 M111.7 335.7h0.8 M129.3 336.3h0.8 M111.2 336.4h0.8 M125.0 335.2h0.8 M121.5 328.0h0.8 M129.2 337.0h0.8 M119.0 335.0h0.8 M114.9 341.6h0.8 M123.0 342.6h0.8 M112.8 331.2h0.8 M130.2 334.4h0.8 M122.9 337.0h0.8 M120.8 332.2h0.8 M130.5 335.5h0.8 M111.0 338.6h0.8 M125.7 338.7h0.8 M124.9 330.2h0.8 M118.4 334.7h0.8 M125.0 332.1h0.8 M121.6 340.9h0.8 M116.7 338.4h0.8 M126.5 331.4h0.8 M114.9 336.4h0.8 M123.5 329.9h0.8 M130.6 336.1h0.8 M118.0 330.6h0.8 M128.0 332.5h0.8 M120.6 340.3h0.8 M112.0 333.1h0.8 M113.7 330.6h0.8 M121.5 336.5h0.8 M115.7 335.3h0.8 M113.1 338.9h0.8 M122.7 335.6h0.8 M128.6 338.3h0.8 M127.2 336.1h0.8 M124.8 329.0h0.8 M117.3 328.2h0.8 M127.3 339.4h0.8 M117.1 339.8h0.8 M128.9 335.2h0.8 M115.5 334.3h0.8 M111.9 335.8h0.8 M115.3 342.3h0.8 M128.7 338.9h0.8 M121.9 339.8h0.8 M123.1 329.0h0.8 M124.6 336.4h0.8 M128.9 336.0h0.8 M118.9 337.3h0.8 M115.7 343.0h0.8 M127.1 338.5h0.8 M114.9 334.1h0.8 M122.1 337.2h0.8 M118.1 340.3h0.8 M123.5 336.1h0.8 M115.0 329.9h0.8 M127.7 332.5h0.8 M119.0 334.4h0.8 M125.8 336.7h0.8 M118.2 335.5h0.8 M124.3 341.5h0.8 M129.1 337.2h0.8 M126.4 339.9h0.8 M112.5 332.5h0.8 M118.1 333.6h0.8 M126.5 334.8h0.8 M115.6 336.7h0.8 M121.8 328.0h0.8 M111.5 336.3h0.8 M120.0 341.9h0.8 M120.4 334.3h0.8 M119.4 336.6h0.8 M123.9 332.8h0.8 M127.9 333.1h0.8 M120.4 332.0h0.8 M123.5 331.2h0.8 M127.7 334.1h0.8 M128.9 331.4h0.8 M121.1 337.4h0.8 M129.2 339.6h0.8 M127.4 332.5h0.8 M114.6 329.0h0.8 M124.9 330.5h0.8 M120.2 338.6h0.8 M127.3 334.8h0.8 M118.5 333.2h0.8 M122.8 330.5h0.8 M128.2 336.3h0.8 M126.1 334.7h0.8 M120.1 328.1h0.8 M123.9 331.1h0.8 M116.1 337.9h0.8 M113.5 339.5h0.8 M124.1 332.2h0.8 M123.2 343.3h0.8 M116.4 342.9h0.8 M114.2 339.1h0.8 M128.9 336.1h0.8 M110.5 335.5h0.8 M124.2 334.3h0.8 M117.7 331.3h0.8 M125.6 337.3h0.8 M127.2 338.7h0.8 M113.7 334.0h0.8 M113.8 340.7h0.8 M112.4 340.4h0.8 M126.1 340.9h0.8 M128.1 333.8h0.8 M117.5 343.4h0.8 M119.2 342.8h0.8 M127.2 337.0h0.8 M119.7 338.3h0.8 M122.7 337.0h0.8 M121.3 334.1h0.8 M130.5 337.1h0.8 M117.4 336.5h0.8 M129.4 335.0h0.8 M119.1 334.3h0.8 M113.9 335.7h0.8 M128.8 333.0h0.8 M127.5 336.0h0.8 M115.9 337.2h0.8 M115.4 336.4h0.8 M112.4 331.8h0.8 M114.2 338.3h0.8 M110.5 336.6h0.8 M123.9 331.8h0.8 M130.0 338.7h0.8 M115.7 335.4h0.8 M115.6 338.8h0.8 M118.6 335.5h0.8 M123.4 339.9h0.8 M112.0 331.9h0.8" stroke="#4b38b0" stroke-width="0.8" opacity="0.55"/>
<path d="M133.9 342.2h0.7 M135.8 374.9h0.7 M126.7 358.3h0.7 M128.0 349.1h0.7 M131.9 360.4h0.7 M133.4 338.5h0.7 M133.9 357.4h0.7 M128.4 345.3h0.7 M130.1 352.8h0.7 M130.7 360.9h0.7 M131.5 335.2h0.7 M128.4 359.1h0.7 M130.5 349.3h0.7 M124.4 356.0h0.7 M131.4 337.8h0.7 M125.3 346.2h0.7 M127.3 346.2h0.7 M135.2 350.9h0.7 M134.8 367.7h0.7 M128.4 339.6h0.7 M125.5 356.8h0.7 M129.4 347.6h0.7 M135.6 362.6h0.7 M134.9 348.2h0.7 M130.5 373.3h0.7 M134.8 337.7h0.7 M133.7 345.7h0.7 M132.8 365.5h0.7 M132.8 379.3h0.7 M136.8 360.4h0.7 M131.1 364.7h0.7 M122.5 357.0h0.7 M125.2 344.2h0.7 M133.9 366.0h0.7 M129.9 357.5h0.7 M126.9 364.6h0.7 M137.1 343.8h0.7 M124.2 338.0h0.7 M132.7 373.7h0.7 M121.7 354.8h0.7 M136.6 359.1h0.7 M129.7 339.5h0.7 M129.6 343.2h0.7 M130.4 348.9h0.7 M125.7 337.9h0.7 M133.6 370.0h0.7 M127.1 365.7h0.7 M120.9 340.3h0.7 M126.6 340.6h0.7 M123.7 340.6h0.7 M135.0 340.3h0.7 M131.4 370.3h0.7 M137.7 362.3h0.7 M134.9 365.6h0.7 M130.7 357.3h0.7 M134.0 339.4h0.7 M127.5 369.9h0.7 M132.1 364.9h0.7 M122.4 355.1h0.7 M126.0 361.0h0.7 M135.1 347.2h0.7 M119.2 342.8h0.7 M135.8 340.2h0.7 M134.4 378.6h0.7 M137.7 348.2h0.7 M125.1 335.2h0.7 M129.7 341.5h0.7 M134.8 336.4h0.7 M132.8 372.5h0.7 M128.9 348.0h0.7 M133.3 338.2h0.7 M131.6 336.6h0.7 M129.5 345.0h0.7 M124.4 344.1h0.7 M134.6 362.9h0.7 M129.9 362.5h0.7 M132.2 357.7h0.7 M127.3 356.7h0.7 M131.6 358.6h0.7 M117.7 334.7h0.7 M125.6 373.8h0.7 M130.7 343.9h0.7 M125.2 360.8h0.7 M127.1 355.3h0.7 M125.3 365.5h0.7 M134.8 357.8h0.7 M132.3 365.2h0.7 M124.8 347.8h0.7 M137.8 367.6h0.7 M135.9 341.7h0.7 M128.3 377.7h0.7 M132.8 348.9h0.7 M122.8 350.3h0.7 M124.1 367.3h0.7 M135.2 375.8h0.7 M131.9 342.4h0.7 M121.7 334.8h0.7 M122.7 345.7h0.7 M129.8 349.3h0.7 M131.6 374.1h0.7 M119.7 346.4h0.7 M130.1 341.1h0.7 M137.0 364.0h0.7 M126.3 336.8h0.7 M137.4 341.0h0.7 M127.4 338.0h0.7 M137.1 368.2h0.7 M133.1 368.3h0.7 M132.5 347.4h0.7 M137.1 341.7h0.7 M132.9 339.0h0.7 M132.4 359.0h0.7 M132.7 349.7h0.7 M130.8 357.4h0.7 M131.8 343.5h0.7 M119.3 344.1h0.7 M134.0 366.2h0.7 M130.6 365.3h0.7 M128.6 365.8h0.7 M135.2 350.8h0.7 M125.5 363.9h0.7 M136.0 363.8h0.7 M125.4 369.2h0.7 M124.8 336.0h0.7 M126.2 353.2h0.7 M131.4 374.4h0.7 M131.3 369.7h0.7 M122.1 342.1h0.7 M136.9 362.0h0.7 M129.0 350.1h0.7 M129.2 368.6h0.7 M126.8 368.5h0.7 M127.1 361.5h0.7 M130.3 367.3h0.7 M129.3 346.0h0.7 M124.7 369.1h0.7 M128.6 375.5h0.7 M125.9 337.9h0.7 M134.5 338.0h0.7 M125.3 370.4h0.7 M136.3 350.0h0.7 M130.3 376.8h0.7 M126.5 377.5h0.7 M133.0 339.7h0.7 M125.7 335.9h0.7 M122.6 338.7h0.7 M124.5 351.3h0.7 M137.9 336.7h0.7 M126.3 377.8h0.7 M132.2 339.6h0.7 M126.0 350.7h0.7 M137.3 366.4h0.7 M127.7 346.1h0.7 M123.4 358.3h0.7 M137.5 352.5h0.7 M125.2 368.5h0.7 M133.1 367.7h0.7 M131.1 335.5h0.7 M134.7 338.7h0.7 M136.6 377.3h0.7 M128.0 372.4h0.7 M136.4 354.7h0.7 M134.2 336.1h0.7 M132.2 363.7h0.7 M132.1 341.2h0.7 M127.8 365.5h0.7 M137.1 345.9h0.7 M133.2 377.8h0.7 M129.5 354.4h0.7 M122.9 355.6h0.7 M119.4 342.3h0.7 M135.3 350.8h0.7 M134.7 359.9h0.7 M135.3 374.9h0.7 M130.5 354.7h0.7 M137.7 350.6h0.7 M136.8 377.6h0.7 M125.7 359.9h0.7 M124.6 368.9h0.7 M135.9 362.6h0.7 M130.0 359.3h0.7 M137.4 351.7h0.7 M128.5 376.2h0.7 M127.1 356.5h0.7 M123.0 335.0h0.7 M133.0 370.3h0.7 M124.8 357.0h0.7 M133.9 339.8h0.7 M117.9 335.1h0.7 M124.8 355.0h0.7 M136.7 376.5h0.7 M122.6 356.9h0.7 M125.5 342.1h0.7 M134.7 336.4h0.7 M137.8 340.8h0.7 M135.0 378.4h0.7 M132.9 336.8h0.7 M124.6 344.4h0.7 M131.1 360.4h0.7 M131.6 355.8h0.7 M136.9 378.6h0.7 M127.5 357.9h0.7 M132.1 358.4h0.7 M136.6 336.8h0.7 M124.7 340.8h0.7 M131.4 354.0h0.7 M133.7 364.7h0.7 M136.8 360.6h0.7 M127.5 378.4h0.7 M132.8 349.8h0.7 M136.2 364.3h0.7 M136.6 361.9h0.7 M131.3 361.4h0.7 M131.3 354.9h0.7 M134.7 362.4h0.7 M131.4 371.3h0.7 M123.4 354.9h0.7 M123.3 350.6h0.7 M132.2 374.4h0.7 M117.7 334.9h0.7 M129.8 369.5h0.7 M130.7 349.0h0.7 M131.7 372.6h0.7 M123.3 346.9h0.7 M125.7 347.8h0.7 M130.6 365.9h0.7 M125.6 344.8h0.7 M125.7 334.7h0.7 M134.9 337.6h0.7 M129.0 357.4h0.7 M126.0 372.4h0.7 M128.7 376.9h0.7 M129.7 375.8h0.7 M132.5 378.1h0.7 M131.6 352.1h0.7 M125.6 369.8h0.7 M126.8 366.9h0.7 M131.1 351.7h0.7 M129.7 375.2h0.7 M125.1 367.5h0.7 M122.8 335.7h0.7 M127.3 355.2h0.7 M129.9 357.9h0.7 M131.5 362.6h0.7 M124.6 368.7h0.7 M136.3 350.4h0.7 M134.0 344.9h0.7 M128.9 334.8h0.7 M133.4 354.6h0.7 M123.9 357.0h0.7 M121.7 344.9h0.7 M130.0 362.8h0.7 M136.1 347.3h0.7 M137.4 340.3h0.7 M123.6 347.3h0.7 M129.5 374.4h0.7" stroke="#6f62c8" stroke-width="0.7" opacity="0.45"/>
<path d="M126.9 328.7 L134.7 327.4 L144.3 328.1 L148.8 332.6 L150.7 341.0 L150.7 350.6 L149.5 363.5 L147.5 379.6 L134.7 379.6 L133.4 366.7 L132.7 353.8 L129.5 351.9 L125.7 351.3 L123.7 347.4 L125.0 342.9 L128.2 341.0 L128.2 334.5 Z" fill="#3a2596" stroke="none" stroke-width="0.6" filter="url(#b05)" />
<ellipse cx="128.23" cy="346.76" rx="4.18" ry="4.51" fill="#2e1d88" filter="url(#b05)"/>
<ellipse cx="140.77" cy="349.98" rx="6.43" ry="21.90" fill="#2d4fd8" filter="url(#b1)"/>
<ellipse cx="140.77" cy="349.98" rx="4.63" ry="19.32" fill="#3ec6e6" filter="url(#b05)"/>
<ellipse cx="140.45" cy="343.54" rx="3.21" ry="11.59" fill="#4ccf48" filter="url(#b05)"/>
<ellipse cx="140.45" cy="343.54" rx="2.06" ry="7.73" fill="#f2ea2a" filter="url(#b05)"/>
<ellipse cx="140.45" cy="343.54" rx="1.16" ry="4.51" fill="#e0261c" filter="url(#b05)"/>
<ellipse cx="140.45" cy="359.64" rx="2.25" ry="1.93" fill="#2fb0d8" filter="url(#b05)"/>
<ellipse cx="140.45" cy="365.43" rx="2.89" ry="4.51" fill="#4ccf48" filter="url(#b05)"/>
</g>
<rect x="99.30" y="315.20" width="64.30" height="64.40" fill="none" stroke="#bdbdbd" stroke-width="0.7"/>
<path d="M99.3 324.2 L125.0 324.2 L125.0 328.1 L119.7 346.0 L99.3 346.0" fill="none" stroke="#555" stroke-width="0.5" />
<text x="102.52" y="331.30" font-size="3" fill="#d2334a" stroke="#d2334a" stroke-width="0.06" >I</text>
<text x="101.87" y="335.16" font-size="3" fill="#d2334a" stroke="#d2334a" stroke-width="0.06" >0.138</text>
<clipPath id="cp7"><rect x="178.70" y="315.20" width="63.40" height="64.40"/></clipPath>
<g clip-path="url(#cp7)">
<path d="M198.1 365.6h0.7 M221.8 378.4h0.7 M200.3 361.2h0.7 M218.5 373.7h0.7 M189.3 336.6h0.7 M219.2 364.0h0.7 M213.7 331.5h0.7 M208.1 329.3h0.7 M212.7 369.0h0.7 M196.4 328.2h0.7 M212.6 379.5h0.7 M208.2 346.9h0.7 M196.7 369.9h0.7 M221.8 346.9h0.7 M200.6 350.9h0.7 M196.0 365.4h0.7 M222.4 352.3h0.7 M217.4 348.7h0.7 M200.4 369.4h0.7 M221.9 367.0h0.7 M211.5 370.7h0.7 M219.9 377.2h0.7 M204.7 348.1h0.7 M197.7 328.1h0.7 M222.8 343.9h0.7 M220.4 328.9h0.7 M197.9 368.5h0.7 M210.2 362.7h0.7 M203.0 332.8h0.7 M216.4 367.3h0.7 M202.6 357.0h0.7 M215.4 353.6h0.7 M202.5 353.0h0.7 M212.7 366.0h0.7 M196.9 368.1h0.7 M198.5 362.8h0.7 M198.6 374.4h0.7 M220.7 368.1h0.7 M198.8 346.2h0.7 M200.8 359.2h0.7 M220.3 331.4h0.7 M218.8 357.6h0.7 M223.0 365.3h0.7 M212.0 366.9h0.7 M200.3 334.2h0.7 M217.4 373.3h0.7 M212.1 339.3h0.7 M203.4 354.6h0.7 M198.1 353.3h0.7 M201.8 378.6h0.7 M208.4 378.4h0.7 M219.5 337.2h0.7 M214.1 347.7h0.7 M207.3 357.1h0.7 M212.8 343.6h0.7 M210.4 347.1h0.7 M214.5 353.5h0.7 M209.1 379.4h0.7 M194.8 328.3h0.7 M219.0 355.1h0.7 M209.2 370.9h0.7 M218.8 348.0h0.7 M222.6 348.2h0.7 M212.3 370.9h0.7 M198.0 349.7h0.7 M198.2 345.7h0.7 M200.0 371.8h0.7 M214.8 356.9h0.7 M209.0 343.5h0.7 M213.8 373.1h0.7 M198.8 353.8h0.7 M192.4 341.0h0.7 M217.3 361.2h0.7 M201.3 361.1h0.7 M191.1 328.3h0.7 M197.8 357.7h0.7 M191.0 356.0h0.7 M196.6 341.6h0.7 M212.9 346.7h0.7 M213.0 366.7h0.7 M198.5 329.7h0.7 M216.9 356.5h0.7 M206.6 363.4h0.7 M205.3 374.8h0.7 M208.0 349.1h0.7 M219.4 374.2h0.7 M207.2 328.6h0.7 M208.3 349.3h0.7 M206.3 370.9h0.7 M196.0 341.0h0.7 M194.3 355.3h0.7 M220.7 336.9h0.7 M195.1 347.3h0.7 M208.9 346.3h0.7 M210.1 335.8h0.7 M212.2 335.0h0.7 M210.9 336.3h0.7 M199.9 330.9h0.7 M218.3 374.9h0.7 M213.4 360.9h0.7 M206.7 354.4h0.7 M209.6 353.7h0.7 M199.4 371.2h0.7 M195.6 349.0h0.7 M210.5 377.7h0.7 M197.3 350.4h0.7 M199.6 338.9h0.7 M197.7 368.8h0.7 M191.2 352.7h0.7 M194.9 357.9h0.7 M214.2 334.0h0.7 M202.9 337.7h0.7 M209.2 363.0h0.7 M192.5 340.0h0.7 M195.7 345.0h0.7 M218.9 373.1h0.7 M214.9 348.4h0.7 M201.7 338.4h0.7 M201.9 377.1h0.7 M195.6 353.2h0.7 M204.0 369.3h0.7 M212.1 366.4h0.7 M194.1 341.0h0.7 M207.3 330.6h0.7 M220.6 365.2h0.7 M203.2 346.7h0.7 M214.2 334.1h0.7 M202.2 368.9h0.7 M199.9 378.7h0.7 M218.1 344.6h0.7 M204.9 358.3h0.7 M201.5 370.2h0.7 M211.5 370.3h0.7 M193.7 354.1h0.7 M205.1 358.1h0.7 M201.4 336.3h0.7 M217.4 356.7h0.7 M212.9 366.2h0.7 M208.2 375.2h0.7 M190.2 360.9h0.7 M192.4 329.5h0.7 M189.1 337.1h0.7 M205.0 351.5h0.7 M202.0 328.7h0.7 M204.5 341.1h0.7 M187.4 331.0h0.7 M189.7 348.7h0.7 M190.3 352.0h0.7 M218.2 344.8h0.7 M213.5 353.0h0.7 M218.8 335.7h0.7 M212.1 374.8h0.7 M219.0 371.8h0.7 M200.9 354.4h0.7 M217.1 347.6h0.7 M193.8 329.7h0.7 M191.8 335.3h0.7 M220.3 344.0h0.7 M197.6 378.3h0.7 M210.9 350.4h0.7 M187.9 346.9h0.7 M195.2 376.9h0.7 M200.3 378.2h0.7 M194.4 330.5h0.7 M219.1 331.9h0.7 M214.7 358.8h0.7 M194.9 371.1h0.7 M200.6 378.8h0.7 M205.7 376.7h0.7 M220.3 347.5h0.7 M210.9 365.6h0.7 M209.5 329.3h0.7 M210.8 367.3h0.7 M191.4 333.0h0.7 M200.1 379.4h0.7 M212.6 350.1h0.7 M190.9 350.1h0.7 M207.6 372.5h0.7 M218.8 344.8h0.7 M210.8 361.4h0.7 M215.3 369.9h0.7 M208.4 370.4h0.7 M210.0 332.9h0.7 M190.4 361.1h0.7 M195.8 376.4h0.7 M194.7 353.1h0.7 M203.6 376.5h0.7 M195.7 374.0h0.7 M212.2 357.4h0.7 M221.0 373.6h0.7 M213.2 356.2h0.7 M209.4 334.1h0.7 M209.1 346.0h0.7 M199.0 370.5h0.7 M216.8 366.6h0.7 M201.3 355.7h0.7 M222.5 375.8h0.7 M207.7 332.1h0.7 M219.2 330.4h0.7 M191.5 366.9h0.7 M210.8 336.6h0.7 M219.5 379.5h0.7 M209.6 378.7h0.7 M215.3 352.5h0.7 M216.2 376.4h0.7 M211.1 332.4h0.7 M198.4 364.3h0.7 M198.2 336.7h0.7 M201.7 335.3h0.7 M202.4 333.2h0.7 M212.3 339.1h0.7 M220.6 333.6h0.7 M208.6 361.2h0.7 M191.6 360.4h0.7 M205.4 359.8h0.7 M191.0 352.6h0.7 M216.6 359.9h0.7 M193.4 345.3h0.7 M218.3 330.8h0.7 M202.6 354.5h0.7 M200.7 328.2h0.7 M201.7 343.1h0.7 M201.5 330.8h0.7 M213.6 338.2h0.7 M196.3 332.0h0.7 M196.3 354.9h0.7 M213.4 354.1h0.7 M217.1 379.5h0.7 M206.1 330.3h0.7 M185.9 330.9h0.7 M222.9 349.0h0.7 M205.6 358.8h0.7 M188.4 345.4h0.7 M198.3 366.1h0.7 M214.5 363.9h0.7 M190.9 351.9h0.7 M219.8 337.1h0.7 M197.5 359.8h0.7 M222.9 329.4h0.7 M210.9 351.8h0.7 M204.6 371.4h0.7 M196.2 367.0h0.7 M211.9 349.5h0.7 M211.3 357.1h0.7 M213.1 377.0h0.7 M193.4 363.6h0.7 M215.5 341.8h0.7 M219.3 344.2h0.7 M221.4 358.1h0.7 M222.0 373.6h0.7 M214.5 347.2h0.7 M201.8 358.3h0.7 M215.4 349.5h0.7 M219.1 339.2h0.7 M204.2 335.6h0.7 M190.5 343.1h0.7 M208.2 348.5h0.7 M215.1 356.2h0.7 M210.6 332.5h0.7 M196.7 329.2h0.7 M198.6 362.7h0.7 M218.0 370.8h0.7 M221.7 377.8h0.7 M199.4 379.0h0.7 M213.7 342.4h0.7 M196.7 355.1h0.7 M217.0 333.2h0.7 M218.8 362.6h0.7 M207.1 349.0h0.7 M198.8 349.0h0.7 M211.9 350.9h0.7 M211.8 373.2h0.7 M187.2 329.0h0.7 M220.8 338.0h0.7 M215.8 348.9h0.7 M192.6 328.7h0.7 M200.6 359.0h0.7 M185.9 328.7h0.7 M195.1 373.5h0.7 M213.3 341.3h0.7 M199.6 349.5h0.7 M211.6 342.8h0.7 M197.7 354.0h0.7 M193.1 350.2h0.7 M213.2 354.1h0.7 M206.2 340.0h0.7 M199.0 356.9h0.7 M198.1 337.5h0.7 M218.2 331.5h0.7 M219.4 333.0h0.7 M205.5 356.2h0.7 M199.9 360.3h0.7 M218.5 344.5h0.7 M218.3 358.9h0.7 M213.4 348.1h0.7 M196.5 363.6h0.7 M206.1 375.1h0.7 M190.1 345.8h0.7 M210.9 374.8h0.7 M202.1 368.7h0.7 M196.7 363.8h0.7 M195.5 337.7h0.7 M194.4 365.4h0.7 M211.8 375.1h0.7 M200.0 331.5h0.7 M215.6 341.3h0.7 M212.0 353.3h0.7 M201.2 329.7h0.7 M192.7 366.6h0.7 M201.8 373.5h0.7 M215.5 355.6h0.7 M222.4 328.2h0.7 M199.5 355.6h0.7 M189.7 358.0h0.7 M194.4 347.7h0.7 M202.1 343.0h0.7 M190.5 362.5h0.7 M208.4 332.2h0.7 M222.0 333.6h0.7 M192.5 342.6h0.7 M198.1 353.3h0.7 M219.3 333.3h0.7 M206.3 360.2h0.7 M193.9 346.4h0.7 M201.3 373.8h0.7 M214.3 352.8h0.7 M215.9 350.5h0.7 M199.1 361.0h0.7 M210.7 333.9h0.7 M200.2 372.2h0.7 M194.1 355.4h0.7 M197.4 356.6h0.7 M199.1 345.8h0.7 M220.1 363.8h0.7 M223.0 345.3h0.7 M202.1 346.9h0.7 M217.8 347.0h0.7 M210.5 337.2h0.7 M205.1 342.0h0.7 M219.7 347.0h0.7 M221.2 357.3h0.7 M197.2 356.5h0.7 M220.4 363.8h0.7 M216.2 357.3h0.7 M208.1 335.3h0.7 M216.5 361.1h0.7 M209.3 343.7h0.7 M213.8 355.2h0.7 M196.4 379.2h0.7 M214.1 363.1h0.7 M216.8 363.9h0.7 M198.9 377.3h0.7 M219.4 362.7h0.7 M200.9 353.9h0.7 M216.4 358.7h0.7 M202.1 369.5h0.7 M193.6 359.4h0.7 M197.7 359.4h0.7 M219.0 349.2h0.7 M188.3 328.8h0.7 M216.6 352.2h0.7 M201.1 329.6h0.7 M187.8 328.1h0.7 M219.0 330.5h0.7 M196.4 352.5h0.7 M206.3 339.5h0.7 M209.2 361.0h0.7 M222.5 332.9h0.7 M195.4 333.4h0.7 M195.2 339.1h0.7 M194.6 366.5h0.7 M215.8 369.1h0.7 M217.2 360.7h0.7 M207.5 350.0h0.7 M216.1 355.6h0.7 M197.6 353.6h0.7 M202.3 337.7h0.7 M210.2 371.1h0.7 M209.5 328.6h0.7 M199.7 367.6h0.7 M188.9 354.1h0.7 M210.6 355.6h0.7 M196.8 329.0h0.7 M211.4 336.7h0.7 M207.4 355.1h0.7 M212.2 333.8h0.7 M222.0 366.6h0.7 M218.1 337.6h0.7 M212.1 347.6h0.7 M211.3 364.1h0.7 M199.8 376.9h0.7 M201.0 352.1h0.7 M211.9 335.9h0.7 M219.0 345.2h0.7 M218.7 335.6h0.7 M193.2 350.7h0.7 M191.6 365.4h0.7 M212.8 363.4h0.7 M189.1 330.5h0.7 M206.7 332.3h0.7 M211.9 356.3h0.7 M220.4 370.2h0.7 M209.5 370.7h0.7 M203.7 343.1h0.7 M209.9 360.7h0.7 M203.9 351.5h0.7 M219.9 347.5h0.7 M213.7 374.3h0.7 M222.5 350.6h0.7 M189.9 353.5h0.7 M203.0 348.0h0.7 M214.7 341.0h0.7 M221.9 339.0h0.7 M194.9 370.8h0.7 M193.0 365.4h0.7 M194.5 349.2h0.7 M202.2 340.8h0.7 M216.1 376.6h0.7 M220.1 336.3h0.7 M212.9 356.3h0.7 M221.5 379.0h0.7 M210.6 341.5h0.7 M199.6 331.4h0.7 M199.3 366.8h0.7 M196.2 337.6h0.7 M204.9 374.2h0.7 M209.2 333.7h0.7 M200.7 339.9h0.7 M215.7 349.6h0.7 M201.2 373.3h0.7 M195.4 351.2h0.7 M222.3 343.9h0.7 M205.0 361.5h0.7 M196.9 360.5h0.7 M200.3 370.9h0.7 M205.7 365.5h0.7 M206.3 364.0h0.7 M199.1 335.7h0.7 M198.1 344.8h0.7 M204.4 352.8h0.7 M211.5 331.5h0.7 M203.7 377.9h0.7 M217.5 349.1h0.7 M197.3 350.4h0.7 M214.0 351.9h0.7 M212.1 379.1h0.7 M213.2 354.5h0.7 M212.9 353.5h0.7 M206.6 349.7h0.7 M220.5 378.9h0.7 M206.1 356.9h0.7 M220.3 340.6h0.7 M214.2 341.2h0.7 M211.8 342.6h0.7 M207.2 368.0h0.7 M204.4 340.7h0.7 M195.8 356.6h0.7 M212.9 337.3h0.7 M208.7 348.8h0.7 M213.8 365.5h0.7 M198.2 358.5h0.7 M209.2 340.3h0.7 M210.0 335.2h0.7 M222.0 356.3h0.7 M220.0 362.5h0.7 M192.2 365.8h0.7 M207.9 347.6h0.7 M211.0 367.2h0.7 M210.5 339.3h0.7 M221.7 374.9h0.7 M200.8 375.8h0.7 M222.8 345.8h0.7 M191.3 340.7h0.7 M203.0 335.5h0.7 M193.1 365.8h0.7 M199.8 364.7h0.7 M193.9 352.7h0.7 M192.1 328.9h0.7 M217.7 347.0h0.7 M195.4 376.2h0.7 M198.3 356.0h0.7 M189.3 349.3h0.7 M218.2 370.6h0.7 M215.9 375.2h0.7 M192.8 330.8h0.7 M205.2 347.1h0.7 M211.8 339.4h0.7 M207.7 349.6h0.7 M213.7 350.6h0.7 M201.6 338.6h0.7 M198.3 357.1h0.7 M198.2 341.8h0.7 M200.8 335.9h0.7 M218.1 336.0h0.7 M192.8 336.2h0.7 M205.8 368.1h0.7 M211.4 370.9h0.7 M200.4 350.6h0.7 M187.5 341.6h0.7 M218.0 342.8h0.7 M219.2 371.0h0.7 M220.0 335.3h0.7 M200.4 371.0h0.7 M196.0 340.7h0.7 M205.4 339.0h0.7 M194.0 360.7h0.7 M218.1 349.7h0.7 M195.4 333.5h0.7 M211.7 356.9h0.7 M194.4 340.8h0.7 M212.2 375.3h0.7 M197.6 358.2h0.7 M192.4 352.0h0.7 M206.6 343.8h0.7 M207.6 356.0h0.7 M200.1 335.7h0.7 M205.2 358.6h0.7 M208.3 373.7h0.7 M207.7 367.8h0.7 M220.3 358.5h0.7 M216.3 356.4h0.7 M200.9 336.3h0.7 M202.7 364.8h0.7 M215.0 374.1h0.7 M204.1 376.8h0.7 M198.4 329.0h0.7 M200.5 355.9h0.7 M214.2 340.1h0.7 M206.0 335.1h0.7 M204.2 367.9h0.7 M192.6 377.3h0.7 M207.1 362.9h0.7 M207.4 375.7h0.7 M191.7 330.5h0.7 M204.9 346.2h0.7 M199.3 348.5h0.7 M218.5 342.8h0.7 M211.0 357.3h0.7 M194.9 375.1h0.7 M193.8 343.6h0.7 M191.3 364.2h0.7 M211.0 346.9h0.7 M197.0 356.4h0.7 M209.5 328.2h0.7 M217.9 332.6h0.7 M192.5 350.0h0.7 M216.5 344.0h0.7 M221.4 332.8h0.7 M219.4 331.0h0.7 M207.4 378.1h0.7 M212.1 375.2h0.7 M197.6 377.3h0.7 M219.3 342.2h0.7 M214.1 375.4h0.7 M192.2 348.3h0.7 M214.1 357.6h0.7 M219.8 350.4h0.7 M201.4 336.7h0.7 M194.6 373.1h0.7 M194.0 374.3h0.7 M215.3 357.5h0.7 M195.6 328.2h0.7 M221.5 377.7h0.7 M194.8 376.3h0.7 M201.1 347.0h0.7 M219.5 370.3h0.7 M210.4 342.8h0.7 M188.0 337.5h0.7 M194.1 338.0h0.7 M206.2 344.3h0.7 M192.2 373.3h0.7 M198.3 328.2h0.7 M208.1 355.9h0.7 M192.3 371.3h0.7 M222.0 370.0h0.7 M220.4 378.1h0.7 M198.2 356.1h0.7 M200.0 368.6h0.7 M190.4 339.7h0.7 M201.5 356.1h0.7 M222.7 345.4h0.7 M218.2 333.0h0.7 M204.2 359.0h0.7 M216.8 344.9h0.7 M207.6 377.2h0.7 M222.0 357.2h0.7 M197.1 361.6h0.7 M212.5 363.1h0.7 M210.3 347.9h0.7 M211.9 346.2h0.7 M192.9 333.2h0.7 M205.5 336.8h0.7 M194.9 343.4h0.7 M198.4 349.5h0.7 M222.1 355.2h0.7 M205.4 348.7h0.7 M205.3 370.0h0.7 M204.3 354.5h0.7 M197.6 337.6h0.7 M192.1 332.7h0.7 M195.0 330.2h0.7 M200.1 357.6h0.7 M201.5 360.2h0.7 M200.7 369.0h0.7 M210.5 334.3h0.7 M205.3 341.7h0.7 M213.1 347.2h0.7 M192.6 329.8h0.7 M222.5 334.2h0.7 M193.7 376.0h0.7 M200.8 363.1h0.7 M214.5 378.3h0.7 M196.3 332.4h0.7 M192.2 328.3h0.7 M194.3 360.0h0.7 M218.9 333.2h0.7 M194.3 373.9h0.7 M206.9 348.7h0.7 M186.6 331.0h0.7 M192.3 359.8h0.7 M215.9 328.2h0.7 M195.1 349.4h0.7 M207.7 366.0h0.7 M210.4 350.4h0.7 M197.1 360.3h0.7 M201.8 375.9h0.7 M204.6 358.2h0.7 M209.9 352.9h0.7 M203.1 362.3h0.7 M207.3 379.5h0.7 M195.8 353.6h0.7 M222.1 370.0h0.7 M205.6 343.8h0.7 M190.8 349.5h0.7 M200.5 350.4h0.7 M193.8 352.8h0.7 M206.3 333.3h0.7 M209.7 364.7h0.7 M191.4 340.9h0.7 M210.3 349.3h0.7 M206.9 359.3h0.7 M185.5 330.8h0.7 M203.7 375.7h0.7 M211.5 351.0h0.7 M194.0 334.9h0.7 M209.2 367.5h0.7 M199.2 332.5h0.7 M194.7 364.5h0.7 M214.1 348.7h0.7 M218.6 348.2h0.7 M218.8 364.4h0.7 M199.3 352.9h0.7 M204.6 341.7h0.7 M220.4 365.1h0.7 M217.5 373.1h0.7 M209.9 331.0h0.7 M196.0 358.1h0.7 M200.1 339.3h0.7 M210.0 343.5h0.7 M202.2 373.0h0.7 M192.9 374.7h0.7 M215.2 376.9h0.7 M198.8 354.2h0.7 M196.4 346.2h0.7 M221.3 378.0h0.7 M222.9 374.9h0.7 M203.0 362.1h0.7 M219.5 350.3h0.7 M219.9 369.2h0.7 M194.9 346.6h0.7 M210.9 336.5h0.7 M193.8 338.1h0.7 M223.0 370.3h0.7 M203.6 366.5h0.7 M210.8 350.8h0.7 M204.2 334.7h0.7 M193.3 345.8h0.7 M197.8 362.0h0.7 M193.3 340.3h0.7 M218.1 368.4h0.7 M220.4 368.2h0.7 M191.4 353.2h0.7 M216.6 369.6h0.7 M192.7 352.9h0.7 M206.9 328.6h0.7 M193.3 366.3h0.7 M210.0 351.1h0.7 M206.2 355.3h0.7 M197.4 332.5h0.7 M212.9 367.9h0.7 M200.9 367.7h0.7 M216.3 363.7h0.7 M215.5 377.9h0.7 M201.5 368.1h0.7 M212.7 333.2h0.7 M206.8 332.7h0.7 M212.5 345.5h0.7 M198.6 342.1h0.7 M215.6 361.1h0.7 M195.5 366.3h0.7 M207.5 367.5h0.7 M208.0 378.9h0.7 M211.1 352.0h0.7 M207.0 357.3h0.7 M195.0 343.9h0.7 M215.2 370.2h0.7 M221.7 363.4h0.7 M203.6 348.4h0.7 M211.5 361.5h0.7 M220.8 366.6h0.7 M198.9 342.4h0.7 M200.6 348.4h0.7 M219.1 342.4h0.7 M213.0 367.2h0.7 M209.7 358.8h0.7 M193.6 362.8h0.7 M206.7 377.9h0.7 M204.0 346.3h0.7 M219.4 360.3h0.7 M197.2 361.6h0.7 M189.8 337.8h0.7 M218.5 352.0h0.7 M215.3 339.1h0.7 M202.3 340.3h0.7 M215.3 358.8h0.7 M199.2 347.9h0.7 M192.1 338.9h0.7 M210.9 344.2h0.7 M201.6 379.0h0.7 M198.9 348.9h0.7 M222.0 365.2h0.7 M201.8 348.6h0.7 M192.6 335.9h0.7 M202.3 361.1h0.7 M190.6 359.1h0.7 M197.3 362.4h0.7 M214.5 348.9h0.7 M198.8 332.1h0.7 M192.1 360.1h0.7 M215.5 335.2h0.7 M222.1 375.2h0.7 M198.1 355.9h0.7 M210.2 345.0h0.7 M198.2 365.3h0.7 M202.8 350.6h0.7 M205.9 334.1h0.7 M202.3 343.3h0.7 M190.3 355.1h0.7 M211.4 355.2h0.7 M203.4 362.6h0.7 M200.3 378.7h0.7 M192.2 328.5h0.7 M206.1 363.9h0.7 M198.8 348.6h0.7 M197.2 340.6h0.7 M214.9 372.6h0.7 M194.7 357.2h0.7 M201.8 334.9h0.7 M212.6 355.5h0.7 M222.7 375.0h0.7 M219.3 341.6h0.7 M190.7 364.4h0.7 M185.9 332.6h0.7 M217.9 354.6h0.7 M201.5 378.2h0.7 M214.6 339.7h0.7 M211.5 347.9h0.7 M202.0 344.2h0.7 M192.7 343.7h0.7 M194.5 337.8h0.7 M218.1 347.6h0.7 M205.8 369.9h0.7 M210.4 336.1h0.7 M221.2 376.1h0.7 M216.8 345.1h0.7 M216.4 361.1h0.7 M211.2 356.1h0.7 M221.0 368.8h0.7 M216.6 378.6h0.7 M197.3 374.9h0.7 M201.1 331.8h0.7 M208.8 368.7h0.7 M192.6 340.7h0.7 M214.1 355.3h0.7 M220.9 342.3h0.7 M195.1 351.3h0.7 M218.6 369.8h0.7 M198.9 362.4h0.7 M198.4 360.7h0.7 M189.3 330.3h0.7 M217.3 337.7h0.7 M185.9 332.5h0.7 M206.5 361.9h0.7 M195.0 354.6h0.7 M196.8 358.0h0.7" stroke="#4b38b0" stroke-width="0.7" opacity="0.55"/>
<path d="M186.7 367.5h0.7 M183.8 377.1h0.7 M189.3 365.3h0.7 M188.8 361.7h0.7 M190.8 368.0h0.7 M204.5 374.6h0.7 M209.7 362.1h0.7 M198.4 358.7h0.7 M191.4 363.8h0.7 M209.7 349.2h0.7 M203.7 357.8h0.7 M199.7 356.0h0.7 M202.9 363.4h0.7 M192.0 361.8h0.7 M183.9 350.6h0.7 M207.9 350.1h0.7 M194.4 369.0h0.7 M184.7 377.4h0.7 M189.3 378.4h0.7 M195.3 366.3h0.7 M199.8 350.3h0.7 M197.3 371.5h0.7 M204.8 371.1h0.7 M201.9 351.5h0.7 M194.7 363.8h0.7 M184.9 372.1h0.7 M186.5 365.6h0.7 M190.9 352.6h0.7 M209.1 367.4h0.7 M203.3 366.9h0.7 M198.8 375.5h0.7 M185.5 359.6h0.7 M189.6 366.6h0.7 M194.3 377.0h0.7 M190.0 356.1h0.7 M208.2 370.6h0.7 M195.2 359.4h0.7 M203.3 352.2h0.7 M203.0 354.7h0.7 M205.2 349.8h0.7 M208.1 375.1h0.7 M184.4 352.5h0.7 M208.1 373.8h0.7 M191.5 373.2h0.7 M199.2 355.4h0.7 M202.1 360.8h0.7 M187.6 374.8h0.7 M202.9 355.2h0.7 M195.1 369.4h0.7 M193.7 355.7h0.7 M197.8 378.0h0.7 M186.3 355.5h0.7 M196.6 379.1h0.7 M210.2 347.7h0.7 M200.9 351.8h0.7 M189.3 351.8h0.7 M197.1 379.4h0.7 M209.5 359.2h0.7 M207.7 369.6h0.7 M185.8 376.4h0.7 M191.1 378.9h0.7 M187.3 376.4h0.7 M197.4 364.0h0.7 M188.6 363.1h0.7 M204.0 365.3h0.7 M209.9 364.6h0.7 M207.8 351.7h0.7 M203.4 366.7h0.7 M207.3 358.2h0.7 M196.1 373.6h0.7 M190.6 359.4h0.7 M206.3 368.3h0.7 M196.8 347.9h0.7 M204.1 360.8h0.7 M190.1 359.8h0.7 M187.4 374.5h0.7 M205.0 378.5h0.7 M201.7 352.6h0.7 M195.0 379.5h0.7 M183.8 358.4h0.7 M187.7 352.9h0.7 M191.1 367.3h0.7 M185.6 375.3h0.7 M195.2 353.0h0.7 M186.5 364.3h0.7 M193.1 363.5h0.7 M186.6 358.8h0.7 M197.2 350.1h0.7 M197.1 374.5h0.7 M199.5 351.6h0.7 M200.6 350.1h0.7 M187.6 347.7h0.7 M197.9 353.1h0.7 M191.2 351.3h0.7 M207.6 352.1h0.7 M201.7 373.4h0.7 M195.7 366.2h0.7 M192.6 373.8h0.7 M202.0 349.9h0.7 M202.5 351.9h0.7 M196.6 353.3h0.7 M196.7 368.5h0.7 M203.3 357.9h0.7 M185.2 361.9h0.7 M208.1 365.2h0.7 M200.3 372.1h0.7 M200.8 378.0h0.7 M209.2 371.2h0.7 M205.3 352.0h0.7 M190.8 370.3h0.7 M199.2 375.2h0.7 M204.4 358.1h0.7 M188.3 368.6h0.7 M186.7 363.3h0.7 M191.1 360.3h0.7 M201.2 367.8h0.7 M200.2 349.3h0.7 M207.6 370.1h0.7 M207.9 367.1h0.7 M201.0 376.0h0.7 M203.6 367.8h0.7 M184.8 348.2h0.7 M202.9 374.7h0.7 M194.1 354.2h0.7 M195.5 374.5h0.7 M203.9 351.6h0.7 M189.1 354.1h0.7 M203.6 355.5h0.7 M207.4 360.7h0.7 M188.9 360.8h0.7 M187.5 375.7h0.7 M184.4 360.8h0.7 M193.9 348.6h0.7 M189.7 379.2h0.7 M206.6 360.9h0.7 M207.0 376.6h0.7 M206.6 370.8h0.7 M198.9 363.9h0.7 M202.8 366.8h0.7 M209.7 353.2h0.7 M207.7 371.7h0.7 M195.6 374.7h0.7 M191.4 360.0h0.7 M199.1 378.6h0.7 M190.2 374.7h0.7 M201.3 377.0h0.7 M191.8 368.8h0.7 M207.4 375.9h0.7 M202.4 374.4h0.7 M200.7 365.2h0.7 M188.9 364.1h0.7 M209.8 377.9h0.7 M184.9 357.2h0.7 M190.1 374.5h0.7 M188.6 372.1h0.7 M189.0 358.3h0.7 M209.7 351.4h0.7 M199.3 356.2h0.7 M203.9 349.6h0.7 M201.8 355.7h0.7 M209.3 358.0h0.7 M201.6 348.3h0.7 M208.8 367.8h0.7 M208.1 371.3h0.7 M185.4 371.3h0.7 M193.9 353.9h0.7 M207.5 368.8h0.7 M193.1 349.7h0.7 M201.1 349.3h0.7 M190.1 349.0h0.7 M188.4 371.5h0.7 M190.9 379.2h0.7 M191.2 373.1h0.7 M203.4 368.1h0.7 M199.9 351.9h0.7 M205.8 377.1h0.7 M197.9 353.4h0.7 M186.1 355.6h0.7 M209.7 357.6h0.7 M191.2 364.3h0.7 M184.7 372.8h0.7 M204.5 357.3h0.7 M184.6 376.4h0.7 M205.3 372.0h0.7 M189.4 378.1h0.7 M200.8 348.4h0.7 M209.9 369.9h0.7 M188.7 376.1h0.7 M199.7 367.9h0.7 M184.5 354.3h0.7 M204.9 347.8h0.7 M188.9 349.6h0.7 M199.3 351.8h0.7 M204.7 361.9h0.7 M204.6 376.8h0.7 M209.6 353.6h0.7 M193.5 373.0h0.7 M192.6 377.6h0.7 M192.7 367.6h0.7 M190.6 370.7h0.7 M191.3 361.0h0.7 M203.0 374.1h0.7 M187.5 353.0h0.7 M189.4 372.1h0.7 M201.7 370.5h0.7 M205.3 354.9h0.7 M197.0 347.6h0.7 M193.2 366.7h0.7 M190.7 373.0h0.7 M189.4 361.6h0.7 M202.0 354.5h0.7 M201.4 360.3h0.7 M185.1 350.8h0.7 M201.1 373.9h0.7 M201.9 375.2h0.7 M201.5 372.5h0.7 M206.1 366.6h0.7 M197.9 352.6h0.7 M190.1 350.2h0.7 M186.7 360.0h0.7 M191.6 365.5h0.7 M205.8 356.1h0.7 M207.6 374.3h0.7 M188.9 366.4h0.7 M189.0 349.5h0.7 M189.6 354.0h0.7 M184.0 348.2h0.7 M205.3 375.3h0.7 M206.8 349.8h0.7 M184.4 375.0h0.7 M193.7 358.5h0.7 M202.4 364.5h0.7 M192.5 352.2h0.7 M186.8 370.3h0.7 M207.9 348.6h0.7 M189.7 364.3h0.7 M190.9 363.2h0.7 M197.1 355.9h0.7 M186.9 360.9h0.7 M205.4 351.9h0.7 M198.1 373.5h0.7 M199.0 358.6h0.7 M208.5 372.6h0.7 M210.3 357.1h0.7 M196.7 361.9h0.7 M206.2 367.4h0.7 M198.4 364.0h0.7 M207.5 358.8h0.7 M187.3 353.1h0.7 M190.3 350.5h0.7 M209.8 365.3h0.7 M205.0 362.0h0.7 M197.7 354.7h0.7 M207.5 360.9h0.7 M194.6 371.3h0.7 M206.9 379.5h0.7 M196.6 361.1h0.7 M205.8 361.1h0.7 M189.2 362.8h0.7 M191.9 355.7h0.7 M204.3 358.6h0.7 M200.4 357.2h0.7 M186.8 372.6h0.7 M204.4 370.1h0.7 M200.0 353.0h0.7 M197.1 374.2h0.7 M204.7 366.4h0.7 M200.6 352.9h0.7 M185.2 374.6h0.7 M184.3 355.6h0.7 M194.4 369.9h0.7 M202.3 375.3h0.7 M208.5 356.1h0.7 M190.4 351.3h0.7 M192.6 350.7h0.7 M209.4 365.9h0.7 M196.8 349.2h0.7 M208.1 355.3h0.7 M204.3 354.0h0.7 M191.0 351.8h0.7 M198.0 356.6h0.7 M199.0 370.4h0.7 M189.8 351.6h0.7 M197.5 360.3h0.7 M195.7 359.3h0.7 M188.2 351.4h0.7 M203.1 367.8h0.7 M202.1 368.0h0.7 M197.4 353.7h0.7 M208.1 364.6h0.7 M196.0 355.8h0.7 M193.8 379.0h0.7 M194.6 373.3h0.7 M187.1 366.7h0.7 M191.0 354.9h0.7 M191.9 360.2h0.7 M200.9 360.5h0.7 M206.7 352.4h0.7 M206.5 361.5h0.7 M204.9 360.1h0.7 M190.6 376.2h0.7 M200.7 370.7h0.7 M197.7 370.3h0.7 M209.2 371.3h0.7 M209.6 358.7h0.7 M191.7 375.8h0.7 M206.0 376.0h0.7 M195.4 360.7h0.7 M209.0 353.9h0.7 M188.2 352.9h0.7 M191.8 360.8h0.7 M194.0 362.2h0.7 M184.7 358.4h0.7 M197.3 349.1h0.7 M196.6 376.5h0.7 M201.2 377.9h0.7 M206.7 363.3h0.7 M184.3 349.3h0.7 M199.1 374.5h0.7 M192.6 351.6h0.7 M204.0 364.8h0.7 M196.2 351.5h0.7 M198.5 365.9h0.7 M202.7 376.4h0.7 M185.8 374.2h0.7 M192.3 360.8h0.7 M192.9 373.4h0.7 M195.5 349.7h0.7 M196.4 352.2h0.7 M184.2 349.0h0.7 M193.9 361.9h0.7 M183.8 351.8h0.7 M207.8 364.9h0.7 M209.9 364.9h0.7 M209.2 369.7h0.7 M194.1 349.0h0.7 M187.7 372.9h0.7 M201.4 357.0h0.7 M188.1 368.0h0.7 M208.5 355.4h0.7 M210.3 364.6h0.7 M189.3 353.3h0.7 M202.7 377.3h0.7 M189.2 355.1h0.7 M187.6 354.1h0.7 M189.8 360.8h0.7 M190.1 368.7h0.7 M190.2 356.0h0.7 M194.9 352.9h0.7 M185.1 350.3h0.7 M183.9 369.1h0.7 M185.1 362.8h0.7 M207.4 367.2h0.7 M191.9 360.3h0.7 M195.2 357.7h0.7 M185.2 352.4h0.7 M187.6 354.1h0.7 M192.6 350.7h0.7 M200.2 353.8h0.7 M197.4 369.7h0.7 M197.0 371.3h0.7 M204.5 361.8h0.7 M189.4 348.8h0.7 M202.2 359.2h0.7 M191.5 350.1h0.7 M188.6 376.1h0.7 M196.3 374.7h0.7 M206.3 355.4h0.7 M189.8 376.0h0.7 M190.1 366.7h0.7 M208.7 362.4h0.7 M195.1 378.2h0.7 M206.8 377.2h0.7 M202.6 354.6h0.7 M185.1 348.1h0.7 M208.4 364.9h0.7 M207.3 378.2h0.7 M190.1 378.6h0.7 M191.1 353.2h0.7 M191.0 379.5h0.7 M208.8 358.7h0.7 M196.6 373.9h0.7 M205.2 376.3h0.7 M193.4 354.9h0.7 M197.4 377.5h0.7 M200.1 375.5h0.7 M189.0 363.7h0.7 M208.2 365.8h0.7 M204.9 373.4h0.7 M195.6 369.6h0.7 M202.2 361.6h0.7 M197.6 373.5h0.7 M207.2 379.2h0.7 M193.6 369.2h0.7 M198.4 374.8h0.7 M190.2 362.4h0.7 M190.6 373.3h0.7 M202.7 347.6h0.7 M186.7 352.0h0.7 M199.5 372.4h0.7 M192.9 350.0h0.7 M199.4 367.2h0.7 M195.2 356.1h0.7 M193.0 354.9h0.7 M205.4 359.7h0.7 M202.8 365.1h0.7 M189.9 356.4h0.7 M201.6 375.2h0.7 M208.2 352.4h0.7 M190.7 350.6h0.7 M188.8 359.8h0.7 M202.9 376.9h0.7 M199.5 352.1h0.7 M193.8 352.0h0.7 M191.2 365.9h0.7 M197.1 352.9h0.7 M191.1 376.3h0.7 M200.6 366.8h0.7 M192.3 357.0h0.7 M204.0 347.9h0.7 M201.2 378.2h0.7 M200.7 348.9h0.7 M184.7 372.7h0.7 M188.7 361.0h0.7 M201.1 369.1h0.7 M191.4 369.4h0.7 M208.1 362.5h0.7 M194.3 369.5h0.7 M207.0 369.5h0.7 M208.5 372.6h0.7 M209.2 355.5h0.7 M201.7 354.1h0.7 M186.9 358.4h0.7 M209.0 356.9h0.7 M192.0 377.2h0.7 M209.9 371.8h0.7 M193.2 373.9h0.7 M185.5 347.7h0.7 M185.5 358.2h0.7 M190.2 375.1h0.7 M195.7 374.8h0.7 M196.8 359.4h0.7 M192.8 348.9h0.7 M195.9 378.0h0.7 M209.6 377.4h0.7 M186.4 361.6h0.7 M206.0 352.4h0.7 M185.5 354.0h0.7 M186.0 371.2h0.7 M202.7 379.2h0.7 M185.1 370.0h0.7 M204.9 353.1h0.7 M185.9 379.0h0.7 M204.8 349.6h0.7 M188.8 368.6h0.7 M188.3 361.4h0.7 M187.8 350.3h0.7 M196.7 364.9h0.7 M206.3 347.5h0.7 M193.2 349.7h0.7 M198.5 352.7h0.7 M192.6 378.6h0.7 M201.1 368.9h0.7 M199.9 353.9h0.7 M202.0 378.6h0.7 M186.1 374.4h0.7 M192.9 353.9h0.7 M201.2 374.8h0.7 M188.2 353.7h0.7 M197.1 354.0h0.7 M197.3 379.3h0.7 M184.5 361.2h0.7 M189.2 352.8h0.7 M199.4 377.9h0.7 M196.3 365.4h0.7 M202.4 375.1h0.7 M209.5 358.1h0.7 M188.5 376.9h0.7 M199.9 375.8h0.7 M187.7 372.8h0.7 M186.9 351.6h0.7 M187.0 359.1h0.7 M194.8 368.6h0.7 M208.7 361.2h0.7 M199.2 360.6h0.7 M194.0 355.9h0.7 M183.9 355.6h0.7 M203.0 373.1h0.7 M202.0 361.6h0.7 M194.7 353.5h0.7 M190.2 379.5h0.7 M199.4 360.4h0.7 M198.0 363.3h0.7 M191.6 360.9h0.7 M195.2 376.3h0.7 M207.5 356.7h0.7 M195.9 354.6h0.7 M209.1 351.8h0.7 M196.6 347.8h0.7 M196.0 362.2h0.7 M184.2 352.3h0.7 M197.1 362.7h0.7 M191.9 349.1h0.7 M192.4 358.6h0.7 M186.5 366.7h0.7 M189.6 364.5h0.7 M202.7 347.9h0.7 M197.0 367.9h0.7 M207.6 369.6h0.7 M206.1 368.7h0.7 M189.7 373.6h0.7 M203.9 363.1h0.7 M208.4 349.0h0.7 M207.9 358.9h0.7 M198.2 373.1h0.7 M188.2 363.4h0.7 M184.2 348.6h0.7 M209.2 354.5h0.7 M195.1 351.3h0.7 M208.6 363.7h0.7 M206.5 356.2h0.7 M196.1 355.4h0.7 M199.5 370.2h0.7 M199.0 366.2h0.7 M192.0 378.1h0.7 M184.3 352.8h0.7 M201.5 378.7h0.7 M206.3 355.3h0.7 M208.9 362.1h0.7 M199.0 368.2h0.7 M200.2 375.7h0.7 M207.7 357.6h0.7 M207.5 357.6h0.7 M202.0 352.5h0.7 M200.8 357.1h0.7 M210.3 368.8h0.7 M194.1 378.4h0.7 M186.8 371.4h0.7 M201.0 348.0h0.7 M196.0 351.1h0.7 M210.4 350.6h0.7 M200.7 364.9h0.7 M187.1 377.5h0.7 M199.1 367.3h0.7 M190.8 352.4h0.7 M192.4 348.5h0.7 M189.1 363.4h0.7 M194.2 371.9h0.7 M187.5 354.0h0.7 M197.7 369.5h0.7 M192.1 354.1h0.7 M187.1 359.1h0.7 M193.9 373.1h0.7 M190.2 358.4h0.7 M203.6 354.1h0.7 M184.8 378.7h0.7 M208.1 357.6h0.7 M191.3 362.2h0.7 M189.4 372.7h0.7 M207.3 370.3h0.7 M194.4 374.4h0.7 M208.7 353.3h0.7 M201.6 353.0h0.7 M210.0 373.0h0.7 M194.7 371.3h0.7 M191.6 349.4h0.7 M197.4 349.8h0.7 M195.9 374.9h0.7 M199.1 356.0h0.7 M189.4 365.4h0.7 M197.3 376.5h0.7 M188.3 362.4h0.7 M195.7 359.5h0.7 M188.7 359.7h0.7 M198.2 353.6h0.7 M192.3 364.4h0.7 M208.8 362.9h0.7 M193.0 348.5h0.7 M197.6 358.5h0.7 M186.9 362.7h0.7 M200.2 358.7h0.7 M203.3 367.7h0.7 M185.4 349.0h0.7 M197.8 366.9h0.7 M198.6 354.8h0.7 M192.9 370.5h0.7 M194.3 364.4h0.7 M189.9 367.7h0.7 M196.5 347.5h0.7 M203.9 373.3h0.7 M210.1 377.7h0.7 M202.5 362.4h0.7 M190.8 370.1h0.7 M194.9 357.8h0.7 M186.9 366.9h0.7 M202.7 372.2h0.7 M187.8 354.0h0.7 M200.7 351.6h0.7 M207.4 377.3h0.7 M200.6 355.8h0.7 M198.7 372.1h0.7 M193.0 368.3h0.7 M199.8 376.7h0.7 M204.4 368.9h0.7 M198.3 376.1h0.7 M199.8 369.6h0.7 M192.0 350.9h0.7 M198.6 354.6h0.7 M209.6 354.5h0.7 M207.6 358.1h0.7 M188.9 366.0h0.7 M192.4 379.4h0.7 M200.2 350.7h0.7 M192.0 351.0h0.7 M196.9 364.4h0.7 M192.2 369.1h0.7 M195.6 373.8h0.7 M201.9 355.7h0.7 M205.9 348.4h0.7 M190.0 348.3h0.7 M209.1 364.6h0.7 M206.2 379.3h0.7 M186.2 376.4h0.7 M184.3 370.0h0.7 M204.9 359.8h0.7 M207.5 372.1h0.7 M197.0 356.4h0.7 M188.0 349.9h0.7 M198.2 364.3h0.7 M188.8 364.5h0.7 M185.9 357.1h0.7 M201.6 352.3h0.7 M197.7 351.7h0.7 M207.3 354.2h0.7 M208.6 377.0h0.7 M209.5 356.5h0.7 M201.9 349.7h0.7 M209.7 369.7h0.7 M184.8 351.9h0.7 M186.6 358.6h0.7 M208.7 372.8h0.7 M192.5 373.5h0.7 M184.1 364.9h0.7 M194.1 349.8h0.7 M208.3 368.6h0.7 M210.3 368.0h0.7 M200.3 351.5h0.7 M196.5 376.3h0.7 M198.6 367.9h0.7 M196.0 358.9h0.7 M184.1 354.4h0.7 M188.7 350.3h0.7 M185.2 371.7h0.7 M210.3 369.9h0.7 M205.9 354.2h0.7 M206.4 359.7h0.7 M206.5 355.1h0.7 M191.7 364.4h0.7 M189.7 355.7h0.7 M203.1 372.8h0.7 M209.9 368.5h0.7 M193.1 362.5h0.7 M199.4 366.5h0.7 M208.2 365.7h0.7 M209.4 362.8h0.7 M195.7 348.3h0.7 M192.4 362.9h0.7 M184.1 361.6h0.7 M186.9 356.0h0.7 M207.3 376.9h0.7 M186.8 366.3h0.7 M196.7 349.1h0.7 M191.7 364.6h0.7 M195.1 365.7h0.7 M185.5 367.1h0.7 M200.1 353.5h0.7 M198.9 377.5h0.7 M207.5 367.3h0.7 M197.6 371.5h0.7 M195.9 370.2h0.7 M193.7 365.3h0.7 M203.3 366.2h0.7 M199.8 359.8h0.7 M193.1 368.5h0.7 M195.6 361.6h0.7 M193.9 356.8h0.7 M200.4 375.7h0.7 M189.0 368.3h0.7 M197.9 367.9h0.7 M201.4 360.3h0.7 M184.1 359.1h0.7 M197.6 367.7h0.7 M208.4 368.6h0.7 M201.2 358.7h0.7 M204.9 351.6h0.7 M207.3 363.2h0.7 M195.8 369.7h0.7 M198.2 379.5h0.7 M187.0 349.5h0.7 M199.6 354.7h0.7" stroke="#5a48c0" stroke-width="0.7" opacity="0.55"/>
<ellipse cx="188.84" cy="363.50" rx="2.54" ry="3.22" fill="#4a3ab0" filter="url(#b05)" opacity="0.7"/>
<path d="M188.8 328.1 L197.7 325.2 L218.0 325.8 L224.3 328.1 L227.5 337.7 L226.9 353.8 L227.5 369.9 L225.6 379.6 L204.1 379.6 L201.5 370.6 L196.5 364.1 L190.7 360.3 L188.8 353.8 Z" fill="#3b2699" stroke="none" stroke-width="0.6" filter="url(#b1)" />
<ellipse cx="197.72" cy="360.28" rx="6.34" ry="7.73" fill="#3a2596" filter="url(#b2)" opacity="0.6"/>
<path d="M192.6 330.0 L210.4 328.1 L220.5 331.3 L223.7 341.0 L223.1 353.8 L223.1 374.4 L210.4 374.4 L207.9 363.5 L204.1 344.2 L197.7 336.5 L192.6 334.5 Z" fill="#2d4fd8" stroke="none" stroke-width="0.6" filter="url(#b15)" />
<path d="M191.4 330.7 L207.2 329.4 L210.4 334.5 L209.1 347.4 L211.7 360.3 L207.9 361.6 L205.3 347.4 L204.1 335.8 L192.6 334.5 Z" fill="#3ec6e6" stroke="none" stroke-width="0.6" filter="url(#b1)" opacity="0.85" />
<ellipse cx="197.72" cy="331.62" rx="7.61" ry="1.42" fill="#6cc8f0" filter="url(#b05)"/>
<ellipse cx="216.74" cy="343.54" rx="9.51" ry="14.17" fill="#3ec6e6" filter="url(#b1)"/>
<ellipse cx="216.74" cy="342.89" rx="6.97" ry="10.95" fill="#4ccf48" filter="url(#b1)"/>
<ellipse cx="217.69" cy="342.57" rx="4.56" ry="7.41" fill="#f2ea2a" filter="url(#b05)"/>
<ellipse cx="217.69" cy="342.57" rx="2.85" ry="4.83" fill="#f49a20" filter="url(#b05)"/>
<ellipse cx="217.82" cy="342.57" rx="2.28" ry="3.99" fill="#e0261c" filter="url(#b05)"/>
<ellipse cx="215.47" cy="365.43" rx="8.24" ry="6.44" fill="#3ec6e6" filter="url(#b1)"/>
<ellipse cx="214.84" cy="364.79" rx="5.71" ry="4.19" fill="#4ccf48" filter="url(#b1)"/>
</g>
<rect x="178.70" y="315.20" width="63.40" height="64.40" fill="none" stroke="#bdbdbd" stroke-width="0.7"/>
<path d="M178.7 323.7 L203.2 323.7 L203.2 328.2 M178.7 346.7 L187.7 346.7" fill="none" stroke="#555" stroke-width="0.5" />
<text x="181.70" y="330.20" font-size="3" fill="#d2334a" stroke="#d2334a" stroke-width="0.06" >I</text>
<text x="181.20" y="334.20" font-size="3" fill="#d2334a" stroke="#d2334a" stroke-width="0.06" >0.515</text>
<clipPath id="cp8"><rect x="251.60" y="315.20" width="62.60" height="64.40"/></clipPath>
<g clip-path="url(#cp8)">
<path d="M265.4 379.5h0.7 M277.1 343.2h0.7 M270.8 339.7h0.7 M266.4 335.0h0.7 M294.5 365.9h0.7 M270.6 333.7h0.7 M294.5 373.9h0.7 M278.0 378.8h0.7 M273.7 350.5h0.7 M265.9 373.5h0.7 M265.3 373.6h0.7 M269.6 369.6h0.7 M284.3 376.2h0.7 M278.9 346.6h0.7 M266.8 340.2h0.7 M260.6 343.5h0.7 M268.9 370.5h0.7 M276.3 336.2h0.7 M283.5 338.8h0.7 M285.5 336.8h0.7 M290.7 344.2h0.7 M260.3 335.8h0.7 M264.5 334.9h0.7 M268.8 378.1h0.7 M271.1 348.4h0.7 M285.8 331.9h0.7 M269.3 337.1h0.7 M263.7 366.4h0.7 M294.5 348.6h0.7 M284.2 351.9h0.7 M264.5 344.3h0.7 M269.8 341.0h0.7 M287.4 332.8h0.7 M271.6 365.9h0.7 M280.5 361.7h0.7 M264.1 338.6h0.7 M289.3 378.3h0.7 M264.4 332.0h0.7 M279.8 333.0h0.7 M289.2 371.6h0.7 M267.7 335.5h0.7 M276.5 366.7h0.7 M261.4 347.6h0.7 M263.0 332.3h0.7 M277.4 343.5h0.7 M292.0 374.7h0.7 M284.8 354.4h0.7 M281.7 345.2h0.7 M274.8 356.3h0.7 M273.0 351.0h0.7 M289.7 379.0h0.7 M285.2 372.3h0.7 M268.5 331.9h0.7 M265.2 353.8h0.7 M286.3 365.9h0.7 M292.1 368.2h0.7 M268.2 330.9h0.7 M275.3 345.1h0.7 M290.4 374.7h0.7 M277.5 367.9h0.7 M284.8 354.9h0.7 M273.8 377.2h0.7 M287.6 357.5h0.7 M294.9 335.7h0.7 M286.5 356.4h0.7 M269.1 334.6h0.7 M279.2 372.9h0.7 M294.9 338.1h0.7 M278.1 353.1h0.7 M269.6 334.2h0.7 M267.0 376.6h0.7 M289.2 377.1h0.7 M276.0 353.8h0.7 M279.2 379.3h0.7 M264.4 363.8h0.7 M281.2 338.7h0.7 M274.5 349.9h0.7 M263.5 348.5h0.7 M294.3 356.0h0.7 M272.1 354.6h0.7 M283.4 333.4h0.7 M271.3 334.4h0.7 M283.8 328.8h0.7 M290.4 331.4h0.7 M289.0 338.0h0.7 M277.1 364.7h0.7 M293.0 373.2h0.7 M273.3 336.7h0.7 M274.5 376.4h0.7 M277.7 373.5h0.7 M275.1 340.9h0.7 M289.6 333.7h0.7 M283.3 343.2h0.7 M289.6 336.2h0.7 M292.3 335.7h0.7 M292.6 330.8h0.7 M282.2 355.6h0.7 M279.8 375.7h0.7 M265.4 379.3h0.7 M278.7 369.8h0.7 M266.3 379.5h0.7 M284.6 352.4h0.7 M265.0 373.4h0.7 M278.4 379.1h0.7 M290.9 366.7h0.7 M284.6 336.7h0.7 M288.8 364.9h0.7 M260.4 331.6h0.7 M260.5 339.4h0.7 M286.3 367.6h0.7 M283.6 347.1h0.7 M293.0 335.9h0.7 M265.4 350.8h0.7 M266.7 366.0h0.7 M289.0 366.4h0.7 M269.2 358.0h0.7 M268.8 356.4h0.7 M277.2 335.9h0.7 M289.4 369.9h0.7 M286.8 332.8h0.7 M265.7 366.7h0.7 M288.0 359.9h0.7 M292.8 350.0h0.7 M265.4 352.5h0.7 M268.3 347.7h0.7 M287.0 344.7h0.7 M284.3 358.6h0.7 M290.3 361.4h0.7 M289.6 361.0h0.7 M295.2 330.1h0.7 M273.1 338.3h0.7 M286.0 343.2h0.7 M282.4 361.8h0.7 M269.4 341.1h0.7 M281.7 360.6h0.7 M264.9 364.7h0.7 M259.5 330.9h0.7 M291.1 375.9h0.7 M293.4 379.3h0.7 M285.4 357.4h0.7 M277.2 355.6h0.7 M293.2 377.9h0.7 M273.5 338.5h0.7 M277.5 349.9h0.7 M288.0 375.6h0.7 M280.7 332.3h0.7 M277.3 334.7h0.7 M277.4 370.3h0.7 M282.7 352.2h0.7 M290.4 353.2h0.7 M272.2 348.6h0.7 M271.3 342.2h0.7 M276.7 350.3h0.7 M285.7 354.0h0.7 M262.9 341.9h0.7 M278.3 362.4h0.7 M281.2 366.5h0.7 M270.5 367.6h0.7 M279.2 341.2h0.7 M289.5 377.1h0.7 M288.3 370.5h0.7 M279.5 340.7h0.7 M268.1 372.5h0.7 M267.2 353.0h0.7 M277.9 329.0h0.7 M260.9 338.4h0.7 M287.5 368.5h0.7 M260.0 336.4h0.7 M294.9 336.6h0.7 M287.7 358.3h0.7 M290.5 366.0h0.7 M284.4 330.2h0.7 M293.2 343.1h0.7 M274.6 355.1h0.7 M278.2 357.5h0.7 M276.9 333.2h0.7 M276.1 337.8h0.7 M273.4 365.1h0.7 M285.9 336.4h0.7 M267.8 378.0h0.7 M281.0 337.6h0.7 M280.3 340.9h0.7 M261.0 335.3h0.7 M282.9 377.9h0.7 M262.1 331.1h0.7 M285.0 374.8h0.7 M269.1 338.0h0.7 M288.3 333.5h0.7 M281.1 335.5h0.7 M282.0 334.7h0.7 M267.0 351.3h0.7 M282.3 379.5h0.7 M277.9 334.1h0.7 M282.6 363.3h0.7 M279.3 347.9h0.7 M288.4 331.3h0.7 M277.8 356.1h0.7 M292.2 368.2h0.7 M265.9 347.8h0.7 M279.7 347.7h0.7 M274.2 335.3h0.7 M262.5 328.9h0.7 M292.0 335.3h0.7 M278.5 376.8h0.7 M286.4 358.5h0.7 M267.7 362.8h0.7 M287.9 338.7h0.7 M265.5 349.3h0.7 M279.8 373.9h0.7 M279.5 341.8h0.7 M284.8 335.8h0.7 M260.8 328.6h0.7 M279.0 357.9h0.7 M274.6 356.6h0.7 M263.9 338.9h0.7 M279.3 348.9h0.7 M276.0 375.2h0.7 M274.7 366.4h0.7 M263.9 347.9h0.7 M268.3 343.8h0.7 M287.0 356.2h0.7 M291.3 359.9h0.7 M281.6 350.1h0.7 M289.0 351.3h0.7 M262.0 339.6h0.7 M287.6 331.1h0.7 M263.6 360.4h0.7 M283.1 352.1h0.7 M281.9 349.7h0.7 M279.5 330.1h0.7 M272.6 378.3h0.7 M278.9 345.6h0.7 M280.8 378.4h0.7 M274.7 349.5h0.7 M288.5 371.9h0.7 M265.4 362.5h0.7 M268.2 346.3h0.7 M287.8 346.8h0.7 M292.1 353.1h0.7 M290.3 334.7h0.7 M272.3 329.8h0.7 M289.9 373.9h0.7 M275.5 352.0h0.7 M294.3 348.0h0.7 M268.5 335.2h0.7 M292.3 369.4h0.7 M277.1 365.7h0.7 M289.0 362.5h0.7 M290.4 352.6h0.7 M273.2 361.3h0.7 M264.0 339.7h0.7 M283.0 379.3h0.7 M276.1 330.0h0.7 M262.9 343.8h0.7 M283.5 334.9h0.7 M271.1 360.0h0.7 M285.9 379.4h0.7 M289.1 337.9h0.7 M278.3 359.3h0.7 M278.1 358.8h0.7 M271.5 340.3h0.7 M282.5 373.1h0.7 M283.1 362.0h0.7 M293.8 341.2h0.7 M278.9 370.7h0.7 M281.9 328.1h0.7 M276.4 370.2h0.7 M264.5 348.4h0.7 M294.7 351.5h0.7 M277.7 358.9h0.7 M289.6 351.6h0.7 M291.5 364.4h0.7 M272.2 359.8h0.7 M268.3 330.7h0.7 M275.4 330.4h0.7 M268.2 371.5h0.7 M294.3 338.3h0.7 M263.0 346.3h0.7 M274.1 335.4h0.7 M287.9 336.2h0.7 M277.5 342.1h0.7 M281.7 334.1h0.7 M275.8 371.8h0.7 M282.6 340.6h0.7 M291.5 337.0h0.7 M275.6 365.7h0.7 M279.9 331.5h0.7 M293.3 374.4h0.7 M268.3 330.5h0.7 M281.2 338.3h0.7 M291.2 375.4h0.7 M287.0 368.1h0.7 M286.8 370.9h0.7 M271.3 365.3h0.7 M273.9 378.8h0.7 M287.1 351.4h0.7 M284.0 358.2h0.7 M280.6 328.5h0.7 M265.3 341.3h0.7 M283.9 375.3h0.7 M281.0 367.1h0.7 M281.3 335.6h0.7 M266.5 358.0h0.7 M285.9 349.7h0.7 M283.6 345.3h0.7 M268.8 336.8h0.7 M272.7 358.0h0.7 M270.1 376.4h0.7 M267.7 329.4h0.7 M283.4 347.6h0.7 M288.4 362.4h0.7 M273.7 362.1h0.7 M283.0 345.0h0.7 M264.2 361.7h0.7 M278.7 330.5h0.7 M262.9 350.3h0.7 M272.0 343.3h0.7 M285.7 366.1h0.7 M295.1 359.3h0.7 M294.8 340.1h0.7 M265.2 344.9h0.7 M265.7 336.3h0.7 M266.5 353.9h0.7 M288.1 367.9h0.7 M281.4 341.8h0.7 M261.8 341.2h0.7 M268.4 369.1h0.7 M293.3 375.3h0.7 M289.6 371.6h0.7 M274.9 331.0h0.7 M265.7 335.3h0.7 M261.1 335.0h0.7 M269.0 330.7h0.7 M268.1 372.2h0.7 M266.0 354.3h0.7 M289.6 328.9h0.7 M284.8 356.1h0.7 M287.5 333.3h0.7 M293.9 357.8h0.7 M281.3 339.0h0.7 M284.3 337.4h0.7 M268.6 345.8h0.7 M290.3 357.2h0.7 M284.6 357.3h0.7 M293.6 352.6h0.7 M281.8 331.0h0.7 M268.3 343.5h0.7 M273.3 354.4h0.7 M279.3 329.3h0.7 M269.4 369.8h0.7 M285.0 347.4h0.7 M290.3 332.3h0.7 M272.8 356.3h0.7 M283.5 338.5h0.7 M288.5 359.5h0.7 M287.6 376.9h0.7 M283.1 362.6h0.7 M268.2 342.2h0.7 M271.1 369.8h0.7 M279.7 342.4h0.7 M291.6 354.7h0.7 M294.6 361.7h0.7 M285.1 345.8h0.7 M295.1 352.8h0.7 M282.8 348.9h0.7 M276.9 337.2h0.7 M270.9 349.4h0.7 M285.4 336.2h0.7 M264.3 361.2h0.7 M275.0 373.5h0.7 M288.9 367.0h0.7 M270.3 354.7h0.7 M272.0 328.3h0.7 M259.8 339.8h0.7 M290.5 338.0h0.7 M267.7 356.8h0.7 M283.7 361.5h0.7 M268.6 345.7h0.7 M271.2 343.1h0.7 M264.7 353.5h0.7 M262.4 344.9h0.7 M260.7 337.9h0.7 M277.1 345.0h0.7 M268.0 331.1h0.7 M268.1 350.8h0.7 M283.4 341.4h0.7 M271.3 374.5h0.7 M281.2 351.0h0.7 M264.8 368.6h0.7 M292.7 340.4h0.7 M289.6 347.3h0.7 M275.2 329.4h0.7 M266.0 340.5h0.7 M264.5 370.6h0.7 M293.5 344.5h0.7 M287.7 343.6h0.7 M279.2 338.1h0.7 M291.9 354.6h0.7 M279.5 369.0h0.7 M276.9 353.3h0.7 M284.2 352.5h0.7 M279.0 343.5h0.7 M262.5 339.6h0.7 M294.3 358.5h0.7 M279.2 354.4h0.7 M295.0 374.6h0.7 M294.8 366.5h0.7 M293.6 347.7h0.7 M281.0 363.4h0.7 M287.5 365.0h0.7 M288.4 345.5h0.7 M287.5 358.8h0.7 M293.9 344.8h0.7 M280.7 372.4h0.7 M286.1 364.0h0.7 M262.3 336.1h0.7 M269.0 361.7h0.7 M261.3 338.0h0.7 M267.4 356.3h0.7 M284.5 376.9h0.7 M265.5 332.5h0.7 M289.9 358.5h0.7 M292.3 364.9h0.7 M261.7 346.7h0.7 M265.1 351.3h0.7 M267.7 372.5h0.7 M291.4 337.8h0.7 M295.4 377.7h0.7 M271.6 373.1h0.7 M293.3 365.9h0.7 M270.7 360.5h0.7 M286.4 345.6h0.7 M275.1 332.7h0.7 M268.6 364.3h0.7 M273.3 364.7h0.7 M267.7 332.6h0.7 M282.5 341.3h0.7 M264.5 352.0h0.7 M275.9 374.0h0.7 M283.7 350.5h0.7 M273.7 359.0h0.7 M261.6 343.4h0.7 M280.0 376.5h0.7 M279.9 338.9h0.7 M294.2 369.1h0.7 M265.3 347.1h0.7 M265.1 370.7h0.7 M284.5 368.1h0.7 M278.5 340.6h0.7 M286.6 335.3h0.7 M273.6 356.0h0.7 M262.5 338.5h0.7 M280.3 337.0h0.7 M262.5 339.5h0.7 M293.0 374.3h0.7 M272.6 329.7h0.7 M266.4 361.6h0.7 M267.7 346.0h0.7 M293.4 335.3h0.7 M261.7 352.4h0.7 M268.8 344.5h0.7 M279.2 377.0h0.7 M272.7 330.3h0.7 M271.1 372.0h0.7 M273.4 331.2h0.7 M266.3 339.8h0.7 M270.2 344.5h0.7 M282.6 365.1h0.7 M288.5 373.2h0.7 M287.2 337.2h0.7 M283.5 332.0h0.7 M282.8 339.5h0.7 M289.2 371.5h0.7 M274.7 365.5h0.7 M293.3 374.1h0.7 M281.7 359.8h0.7 M270.5 363.3h0.7 M262.1 351.7h0.7 M259.9 332.8h0.7 M282.5 350.0h0.7 M267.9 355.9h0.7 M275.6 337.6h0.7 M295.2 367.2h0.7 M291.2 343.5h0.7 M292.0 375.0h0.7 M293.2 337.2h0.7 M262.7 332.4h0.7 M270.4 365.6h0.7 M293.8 343.4h0.7 M272.3 366.2h0.7 M268.5 371.7h0.7 M295.3 339.5h0.7 M274.9 335.6h0.7 M278.3 348.3h0.7 M294.3 365.5h0.7 M295.1 369.8h0.7 M288.6 347.8h0.7 M282.4 333.9h0.7 M270.1 375.5h0.7 M294.6 337.0h0.7 M275.8 348.9h0.7 M280.7 358.7h0.7 M266.7 373.4h0.7 M274.1 368.0h0.7 M284.6 378.6h0.7 M276.6 358.4h0.7 M286.6 339.9h0.7 M283.6 366.7h0.7 M287.7 338.4h0.7 M290.7 361.1h0.7 M293.3 356.7h0.7 M290.2 331.0h0.7 M263.0 356.6h0.7 M282.5 348.0h0.7 M265.7 364.5h0.7 M279.6 340.3h0.7 M269.4 340.5h0.7 M277.3 342.4h0.7 M277.7 342.6h0.7 M266.8 377.0h0.7 M272.3 341.6h0.7 M284.5 374.5h0.7 M271.0 365.9h0.7 M269.5 379.3h0.7 M268.3 330.0h0.7 M280.9 342.8h0.7 M272.7 349.1h0.7 M270.7 337.8h0.7 M277.7 362.4h0.7 M266.7 352.6h0.7 M265.1 362.8h0.7 M272.4 358.0h0.7 M272.4 354.3h0.7 M273.1 345.1h0.7 M289.5 343.2h0.7 M287.3 349.9h0.7 M267.5 338.5h0.7 M295.0 376.4h0.7 M274.9 369.7h0.7 M282.6 343.7h0.7 M264.0 367.0h0.7 M279.7 339.4h0.7 M286.8 377.9h0.7 M275.2 378.1h0.7 M274.1 329.0h0.7 M274.5 346.2h0.7 M292.2 355.0h0.7 M293.9 336.5h0.7 M271.5 328.8h0.7 M273.5 375.5h0.7 M265.8 328.3h0.7 M283.8 364.0h0.7 M290.2 376.3h0.7 M288.6 356.2h0.7 M283.8 334.5h0.7 M281.6 346.3h0.7 M269.6 344.2h0.7 M286.3 328.6h0.7 M276.5 329.3h0.7 M277.8 336.7h0.7 M293.9 344.5h0.7 M276.9 341.6h0.7 M291.7 328.5h0.7 M268.4 339.7h0.7 M285.6 347.2h0.7 M290.1 345.0h0.7 M261.5 351.5h0.7 M260.0 335.9h0.7 M276.9 357.7h0.7 M264.9 337.3h0.7 M276.8 351.0h0.7 M275.3 362.6h0.7 M262.1 328.7h0.7 M283.9 336.0h0.7 M269.4 343.9h0.7 M292.4 349.3h0.7 M284.3 332.5h0.7 M281.5 351.1h0.7 M290.5 370.4h0.7 M282.4 379.5h0.7 M293.9 373.6h0.7 M276.2 332.8h0.7 M280.9 349.0h0.7 M274.9 360.8h0.7 M283.7 364.5h0.7 M272.7 336.9h0.7 M290.4 330.2h0.7 M264.6 337.9h0.7 M279.7 360.1h0.7 M278.9 363.5h0.7 M267.1 347.9h0.7 M280.6 369.9h0.7 M276.6 333.8h0.7 M272.2 332.1h0.7 M295.1 329.8h0.7 M270.7 378.4h0.7 M266.3 344.1h0.7 M294.9 375.5h0.7 M271.6 362.6h0.7 M287.4 346.3h0.7 M283.5 377.8h0.7 M273.7 349.2h0.7 M271.4 359.4h0.7 M293.6 329.7h0.7 M290.4 356.2h0.7 M293.2 339.8h0.7 M264.2 347.8h0.7 M274.1 338.3h0.7 M292.4 366.8h0.7 M267.8 339.7h0.7 M267.6 348.4h0.7 M282.0 368.1h0.7 M293.5 332.3h0.7 M264.2 347.7h0.7 M293.6 351.6h0.7 M284.5 370.8h0.7 M274.5 347.5h0.7 M286.7 361.1h0.7 M295.1 342.0h0.7 M293.6 353.1h0.7 M290.3 361.1h0.7 M278.5 372.1h0.7 M275.5 370.3h0.7 M263.8 368.3h0.7 M274.6 364.9h0.7 M276.9 371.8h0.7 M283.5 347.9h0.7 M276.8 348.1h0.7 M290.5 343.7h0.7 M263.6 340.7h0.7 M266.3 369.8h0.7 M283.3 340.7h0.7 M272.9 374.2h0.7 M293.9 339.6h0.7 M293.2 331.1h0.7 M295.4 344.6h0.7 M293.6 329.7h0.7 M283.3 375.7h0.7 M288.4 357.6h0.7 M262.7 340.3h0.7 M293.2 372.7h0.7 M265.2 345.8h0.7 M280.4 343.7h0.7 M264.9 372.8h0.7 M272.4 352.3h0.7 M290.4 366.5h0.7 M286.7 328.9h0.7 M288.1 368.9h0.7 M285.0 372.9h0.7 M277.5 373.9h0.7 M260.0 341.5h0.7 M288.4 369.0h0.7 M265.3 357.4h0.7 M273.6 366.1h0.7 M272.1 344.5h0.7 M286.2 363.9h0.7 M270.6 364.9h0.7 M266.8 353.9h0.7 M263.9 345.8h0.7 M272.9 332.6h0.7 M268.7 346.2h0.7 M269.3 354.2h0.7 M291.5 371.8h0.7 M268.1 335.0h0.7 M286.1 366.1h0.7 M291.8 348.7h0.7 M263.3 332.8h0.7 M272.1 367.7h0.7 M259.8 339.1h0.7 M278.1 361.6h0.7 M293.2 344.6h0.7 M265.6 331.3h0.7 M263.9 329.9h0.7 M277.4 351.6h0.7 M291.8 353.1h0.7 M260.0 335.6h0.7 M283.8 378.6h0.7 M285.7 340.2h0.7 M270.0 350.6h0.7 M273.4 342.6h0.7 M262.6 329.4h0.7 M290.8 378.3h0.7 M294.6 347.7h0.7 M283.3 338.7h0.7 M261.0 328.2h0.7 M269.5 369.2h0.7 M277.1 340.1h0.7 M275.3 355.9h0.7 M264.2 351.1h0.7 M292.7 351.1h0.7 M295.0 365.3h0.7 M283.5 350.9h0.7 M263.9 362.0h0.7 M264.0 351.8h0.7 M262.5 349.4h0.7 M294.1 358.9h0.7 M276.5 359.9h0.7 M282.0 359.1h0.7 M267.7 339.0h0.7 M280.1 376.0h0.7 M290.4 353.2h0.7 M268.1 358.3h0.7 M287.0 377.9h0.7 M260.1 338.4h0.7 M275.2 359.4h0.7 M294.0 333.6h0.7 M261.6 353.0h0.7 M287.4 329.6h0.7 M271.4 364.7h0.7 M272.9 337.3h0.7 M276.4 355.8h0.7 M283.1 367.4h0.7 M272.2 346.9h0.7 M292.3 332.0h0.7 M286.8 351.8h0.7 M277.3 341.0h0.7 M293.2 343.7h0.7 M269.0 331.1h0.7 M291.2 370.8h0.7 M267.8 329.6h0.7 M275.9 371.8h0.7 M284.6 354.0h0.7 M294.6 343.8h0.7 M268.9 341.8h0.7 M280.0 352.1h0.7 M294.1 373.3h0.7 M280.8 372.5h0.7 M275.5 353.7h0.7 M283.6 338.5h0.7 M279.6 353.9h0.7 M268.2 353.7h0.7 M263.5 361.2h0.7 M268.2 377.3h0.7 M269.4 335.5h0.7 M282.6 340.6h0.7 M288.2 352.7h0.7 M267.0 358.5h0.7 M265.3 341.7h0.7 M259.8 340.3h0.7 M265.1 336.3h0.7 M272.8 351.2h0.7 M279.7 356.5h0.7 M283.1 359.7h0.7 M274.9 372.1h0.7 M262.1 342.2h0.7 M290.8 349.1h0.7 M289.3 357.0h0.7 M292.7 374.5h0.7 M269.5 342.4h0.7 M272.7 377.3h0.7 M274.8 346.7h0.7 M292.5 349.7h0.7 M287.5 374.3h0.7 M293.0 365.8h0.7 M275.9 343.5h0.7 M293.1 369.6h0.7 M285.5 331.0h0.7 M281.8 363.6h0.7 M261.8 344.9h0.7 M274.3 341.1h0.7 M260.8 335.9h0.7 M274.4 328.8h0.7 M287.4 349.6h0.7 M267.4 341.0h0.7 M268.9 358.9h0.7 M284.4 350.2h0.7 M284.4 357.6h0.7 M288.1 365.6h0.7 M286.3 329.3h0.7 M270.2 334.0h0.7 M288.8 336.5h0.7 M292.5 345.7h0.7 M263.8 346.8h0.7 M273.6 360.7h0.7 M276.7 362.3h0.7 M287.4 377.9h0.7 M280.7 350.1h0.7 M275.9 346.0h0.7 M289.0 356.2h0.7 M283.6 370.3h0.7 M283.6 373.8h0.7" stroke="#4b38b0" stroke-width="0.7" opacity="0.55"/>
<path d="M268.5 369.8h0.7 M279.9 363.1h0.7 M278.2 356.4h0.7 M260.8 374.8h0.7 M271.1 378.4h0.7 M272.3 355.7h0.7 M259.8 376.3h0.7 M263.3 352.7h0.7 M270.5 370.5h0.7 M271.7 348.9h0.7 M277.2 369.1h0.7 M265.2 377.1h0.7 M269.6 372.1h0.7 M259.0 357.3h0.7 M276.5 369.4h0.7 M275.1 369.7h0.7 M257.3 374.9h0.7 M257.7 355.2h0.7 M264.6 363.5h0.7 M259.1 361.2h0.7 M260.3 358.2h0.7 M265.7 351.1h0.7 M277.7 348.4h0.7 M261.9 376.2h0.7 M267.3 377.9h0.7 M264.7 364.1h0.7 M270.5 360.4h0.7 M282.6 360.3h0.7 M277.6 363.7h0.7 M265.8 374.6h0.7 M280.9 347.9h0.7 M272.4 371.7h0.7 M269.9 360.4h0.7 M275.5 352.5h0.7 M269.1 353.8h0.7 M279.3 372.7h0.7 M267.0 372.7h0.7 M270.9 368.5h0.7 M262.9 372.3h0.7 M273.7 379.5h0.7 M263.5 360.4h0.7 M277.1 355.7h0.7 M276.7 374.8h0.7 M261.0 370.8h0.7 M264.2 356.2h0.7 M265.9 372.5h0.7 M273.4 359.8h0.7 M274.6 373.5h0.7 M261.8 375.2h0.7 M270.3 367.9h0.7 M279.2 354.3h0.7 M268.9 370.2h0.7 M257.0 360.0h0.7 M270.9 361.9h0.7 M269.9 374.3h0.7 M259.6 370.6h0.7 M264.0 350.1h0.7 M268.8 351.6h0.7 M268.7 352.8h0.7 M268.3 351.8h0.7 M282.8 354.1h0.7 M268.3 366.9h0.7 M274.3 351.6h0.7 M278.9 359.4h0.7 M258.8 361.2h0.7 M273.0 359.0h0.7 M275.8 357.4h0.7 M278.1 377.4h0.7 M278.1 349.4h0.7 M267.6 364.5h0.7 M266.7 353.4h0.7 M272.1 351.2h0.7 M261.0 360.9h0.7 M282.8 359.7h0.7 M282.0 369.1h0.7 M273.6 376.8h0.7 M271.9 371.2h0.7 M269.0 373.0h0.7 M279.6 347.4h0.7 M281.2 348.4h0.7 M273.4 349.7h0.7 M276.5 361.3h0.7 M260.2 374.5h0.7 M263.1 376.4h0.7 M266.7 365.4h0.7 M268.3 371.9h0.7 M265.9 363.9h0.7 M262.7 358.3h0.7 M259.5 355.8h0.7 M263.9 369.6h0.7 M260.4 352.4h0.7 M282.2 368.1h0.7 M258.9 375.2h0.7 M276.6 367.0h0.7 M281.9 364.6h0.7 M260.3 347.8h0.7 M259.0 362.3h0.7 M271.1 374.2h0.7 M258.5 349.7h0.7 M259.1 359.1h0.7 M281.2 372.5h0.7 M257.8 366.4h0.7 M261.4 354.6h0.7 M265.1 355.3h0.7 M264.4 354.6h0.7 M265.6 366.4h0.7 M271.4 370.9h0.7 M264.0 348.3h0.7 M271.6 357.5h0.7 M262.1 360.6h0.7 M281.5 366.7h0.7 M275.5 348.8h0.7 M270.9 369.9h0.7 M279.3 371.9h0.7 M257.9 379.2h0.7 M257.0 372.2h0.7 M269.0 377.3h0.7 M281.5 371.5h0.7 M258.8 368.2h0.7 M259.7 361.1h0.7 M260.0 357.1h0.7 M258.0 364.8h0.7 M259.0 355.2h0.7 M277.0 356.8h0.7 M271.8 375.3h0.7 M273.3 373.8h0.7 M281.1 355.3h0.7 M261.5 379.4h0.7 M280.7 357.8h0.7 M281.0 350.2h0.7 M262.6 375.2h0.7 M259.3 375.1h0.7 M262.5 372.2h0.7 M260.0 363.5h0.7 M271.7 365.4h0.7 M279.3 348.5h0.7 M275.2 374.9h0.7 M270.3 355.0h0.7 M277.6 361.2h0.7 M263.5 372.3h0.7 M276.7 373.9h0.7 M269.6 347.9h0.7 M257.2 365.2h0.7 M257.6 367.4h0.7 M260.1 372.4h0.7 M257.1 369.6h0.7 M262.5 379.6h0.7 M269.1 364.0h0.7 M278.9 356.5h0.7 M282.1 356.9h0.7 M257.6 356.4h0.7 M266.3 366.6h0.7 M258.4 376.5h0.7 M277.1 371.4h0.7 M282.6 349.1h0.7 M274.7 375.0h0.7 M261.3 360.7h0.7 M261.9 377.2h0.7 M269.0 374.1h0.7 M263.2 366.8h0.7 M276.2 358.4h0.7 M263.7 350.1h0.7 M273.1 360.6h0.7 M261.9 357.7h0.7 M265.0 351.4h0.7 M272.2 352.4h0.7 M262.3 359.0h0.7 M282.6 370.2h0.7 M262.2 374.6h0.7 M281.3 358.0h0.7 M277.6 367.7h0.7 M271.2 376.5h0.7 M274.2 368.3h0.7 M281.2 362.1h0.7 M259.4 347.6h0.7 M275.6 362.5h0.7 M279.6 378.7h0.7 M263.3 353.8h0.7 M271.7 348.1h0.7 M259.3 349.8h0.7 M264.4 361.6h0.7 M261.8 369.5h0.7 M276.6 374.2h0.7 M271.0 371.7h0.7 M277.5 370.8h0.7 M265.0 365.9h0.7 M278.3 355.3h0.7 M266.0 347.7h0.7 M272.4 351.1h0.7 M268.3 353.4h0.7 M259.7 376.0h0.7 M265.3 378.3h0.7 M276.0 366.3h0.7 M269.3 368.3h0.7 M277.9 353.5h0.7 M270.8 356.1h0.7 M261.5 354.4h0.7 M277.3 377.5h0.7 M268.0 353.0h0.7 M261.3 357.3h0.7 M266.4 375.9h0.7 M270.4 363.2h0.7 M273.1 353.1h0.7 M266.4 361.6h0.7 M258.3 357.3h0.7 M271.6 366.8h0.7 M263.6 349.7h0.7 M271.6 352.4h0.7 M256.7 378.4h0.7 M275.8 377.6h0.7 M265.0 372.2h0.7 M279.0 367.6h0.7 M257.5 356.2h0.7 M266.5 361.5h0.7 M271.7 353.4h0.7 M262.4 348.1h0.7 M267.2 351.2h0.7 M262.7 348.0h0.7 M278.8 354.7h0.7 M270.0 366.0h0.7 M257.7 365.0h0.7 M277.7 355.1h0.7 M273.2 370.7h0.7 M271.3 358.9h0.7 M270.1 368.9h0.7 M268.1 371.1h0.7 M276.3 371.6h0.7 M268.0 352.1h0.7 M261.2 356.9h0.7 M271.4 349.3h0.7 M264.8 352.1h0.7 M270.7 353.9h0.7 M278.2 349.4h0.7 M266.0 371.5h0.7 M278.5 360.0h0.7 M281.4 375.7h0.7 M271.4 358.0h0.7 M261.7 369.6h0.7 M258.2 368.3h0.7 M262.6 353.4h0.7 M272.8 360.0h0.7 M258.1 352.2h0.7 M277.4 359.9h0.7 M277.1 367.3h0.7 M256.7 358.4h0.7 M272.4 355.3h0.7 M260.1 379.6h0.7 M265.1 368.6h0.7 M268.2 379.2h0.7 M262.6 348.4h0.7 M273.7 369.7h0.7 M278.6 351.0h0.7 M261.2 362.7h0.7 M263.9 351.6h0.7 M260.3 348.8h0.7 M267.9 351.7h0.7 M257.4 350.5h0.7 M275.1 368.2h0.7 M265.7 373.3h0.7 M257.8 360.9h0.7 M281.1 349.1h0.7 M260.5 362.8h0.7 M265.8 349.6h0.7 M278.7 372.9h0.7 M272.0 360.8h0.7 M271.2 363.5h0.7 M271.6 357.7h0.7 M278.0 364.1h0.7 M262.8 366.2h0.7 M277.1 363.4h0.7 M265.1 364.9h0.7 M274.7 353.3h0.7 M279.9 360.6h0.7 M267.6 364.1h0.7 M276.6 352.9h0.7 M261.4 363.1h0.7 M257.0 361.4h0.7 M260.0 353.8h0.7 M266.2 376.2h0.7 M272.7 356.4h0.7 M273.4 363.8h0.7 M256.7 361.6h0.7 M275.1 373.4h0.7 M282.0 347.9h0.7 M270.1 359.6h0.7 M268.3 373.8h0.7 M268.1 364.9h0.7 M276.6 375.4h0.7 M272.0 364.4h0.7 M259.3 359.5h0.7 M261.6 372.3h0.7 M274.3 351.8h0.7 M271.8 375.5h0.7 M278.9 359.5h0.7 M266.2 364.5h0.7 M267.6 378.8h0.7 M279.0 376.2h0.7 M282.9 350.8h0.7 M281.5 359.0h0.7 M263.5 366.7h0.7 M267.1 354.1h0.7 M282.2 353.3h0.7 M258.8 360.0h0.7 M278.3 373.3h0.7 M268.5 360.4h0.7 M260.3 373.1h0.7 M276.5 354.4h0.7 M274.2 376.1h0.7 M266.1 354.9h0.7 M276.2 367.5h0.7 M267.0 347.5h0.7 M265.1 370.1h0.7 M261.5 362.9h0.7 M276.9 358.6h0.7 M259.9 369.2h0.7 M274.6 367.0h0.7 M280.5 359.4h0.7 M270.0 362.0h0.7 M279.1 358.0h0.7 M262.9 359.3h0.7 M278.3 371.3h0.7 M261.5 373.7h0.7 M282.6 358.3h0.7 M277.4 369.7h0.7 M272.8 354.9h0.7 M256.6 375.4h0.7 M265.3 373.9h0.7 M279.1 375.0h0.7 M275.9 370.8h0.7 M278.2 377.7h0.7 M280.8 375.7h0.7 M265.1 377.1h0.7 M259.0 353.3h0.7 M279.4 365.0h0.7 M281.7 358.1h0.7 M258.3 352.2h0.7 M279.8 373.4h0.7 M267.9 368.5h0.7 M257.6 377.6h0.7 M264.1 353.8h0.7 M269.4 362.8h0.7 M269.4 370.5h0.7 M261.5 373.0h0.7 M265.2 360.3h0.7 M280.2 371.2h0.7 M275.8 373.0h0.7 M267.7 358.6h0.7 M270.3 374.7h0.7 M261.2 370.0h0.7 M269.1 377.8h0.7 M275.3 377.1h0.7 M267.5 362.3h0.7 M263.2 354.1h0.7 M264.8 354.3h0.7 M273.1 365.7h0.7 M276.0 371.6h0.7 M282.1 364.4h0.7 M272.8 364.4h0.7 M269.2 358.4h0.7 M264.8 358.1h0.7 M270.0 361.7h0.7 M271.0 368.9h0.7 M282.6 366.2h0.7 M282.7 357.6h0.7 M272.6 366.1h0.7 M268.5 362.2h0.7 M262.8 379.0h0.7 M258.6 373.4h0.7 M269.2 358.6h0.7 M264.7 377.9h0.7 M265.4 366.0h0.7 M267.5 368.7h0.7 M271.3 364.5h0.7 M259.4 348.2h0.7 M273.7 347.5h0.7 M270.2 356.4h0.7 M276.1 357.9h0.7 M257.9 352.5h0.7 M265.3 368.2h0.7 M275.1 374.2h0.7 M281.7 365.3h0.7 M257.8 368.8h0.7 M265.9 366.9h0.7 M261.2 360.2h0.7 M263.0 369.2h0.7 M281.5 359.2h0.7 M269.9 367.9h0.7 M276.7 358.9h0.7 M263.7 368.5h0.7 M264.8 363.4h0.7 M273.2 365.3h0.7 M282.2 358.6h0.7 M262.3 360.5h0.7 M280.2 375.0h0.7 M258.2 353.0h0.7 M262.8 372.5h0.7 M274.8 352.7h0.7 M277.4 375.3h0.7 M278.0 358.6h0.7 M278.1 355.8h0.7 M281.1 351.9h0.7 M267.0 357.2h0.7 M278.2 372.0h0.7 M270.6 364.7h0.7 M264.3 366.3h0.7 M257.8 370.7h0.7 M281.7 362.1h0.7 M268.8 366.2h0.7 M266.6 377.3h0.7 M262.2 363.1h0.7 M274.8 371.4h0.7 M264.7 351.3h0.7 M274.7 351.4h0.7 M278.3 348.0h0.7 M279.8 373.6h0.7 M269.9 376.1h0.7 M277.1 369.0h0.7 M263.4 350.3h0.7 M259.7 350.5h0.7 M274.4 370.0h0.7 M281.5 359.7h0.7 M266.2 375.1h0.7 M277.4 378.9h0.7 M256.9 378.1h0.7 M267.5 373.1h0.7 M262.1 364.8h0.7 M276.4 370.6h0.7 M274.9 350.3h0.7 M280.7 349.2h0.7 M278.2 365.6h0.7 M273.0 354.6h0.7 M277.3 371.9h0.7 M263.2 377.3h0.7 M267.5 375.1h0.7 M262.7 359.4h0.7 M262.2 348.5h0.7 M260.3 352.3h0.7 M270.2 362.9h0.7 M259.4 376.9h0.7 M273.3 364.1h0.7 M263.8 360.8h0.7 M280.5 361.0h0.7 M269.8 377.1h0.7 M267.1 374.9h0.7 M258.4 370.2h0.7 M259.8 356.2h0.7 M258.9 375.8h0.7 M280.1 372.9h0.7 M269.7 351.0h0.7 M270.3 376.3h0.7 M275.6 347.5h0.7 M282.6 377.9h0.7 M272.1 348.1h0.7 M275.4 367.5h0.7 M256.7 361.7h0.7 M257.1 349.4h0.7 M274.5 372.0h0.7 M265.2 352.4h0.7 M263.8 354.7h0.7 M271.2 356.2h0.7 M280.6 347.9h0.7 M262.7 367.5h0.7 M268.4 350.1h0.7 M266.8 356.4h0.7 M277.6 355.1h0.7 M273.4 369.1h0.7 M267.6 348.9h0.7 M270.7 350.9h0.7 M262.9 377.2h0.7 M261.2 378.2h0.7 M260.8 348.4h0.7 M257.4 374.4h0.7 M280.2 356.2h0.7 M265.7 358.4h0.7 M273.3 357.2h0.7 M268.9 368.4h0.7 M263.8 351.7h0.7 M273.8 368.4h0.7 M256.7 361.3h0.7 M278.9 366.5h0.7 M274.4 378.8h0.7 M261.9 360.1h0.7 M260.5 376.3h0.7 M272.0 375.5h0.7 M273.9 358.3h0.7 M275.3 356.1h0.7 M269.9 367.6h0.7 M277.0 355.3h0.7 M276.4 364.9h0.7 M273.1 350.5h0.7 M270.4 350.4h0.7 M273.2 372.9h0.7 M266.7 361.4h0.7 M273.0 365.4h0.7 M282.4 374.5h0.7 M274.6 358.6h0.7 M258.1 369.2h0.7 M262.5 370.1h0.7 M273.8 375.1h0.7 M258.2 362.9h0.7 M265.6 358.4h0.7 M263.4 374.2h0.7 M268.6 365.1h0.7 M259.7 365.3h0.7 M273.3 351.4h0.7 M265.5 356.0h0.7 M271.1 350.0h0.7 M282.5 359.9h0.7 M280.9 348.5h0.7 M276.3 376.4h0.7 M268.2 359.5h0.7 M273.0 357.2h0.7 M263.1 376.8h0.7 M273.5 363.5h0.7 M268.7 373.0h0.7 M276.1 356.5h0.7 M264.8 360.6h0.7 M258.1 360.9h0.7 M259.6 368.8h0.7 M265.4 357.9h0.7 M262.3 355.5h0.7 M262.6 375.9h0.7 M268.6 365.0h0.7 M265.0 378.1h0.7 M272.3 352.9h0.7 M274.5 347.4h0.7 M282.8 371.3h0.7 M262.2 361.2h0.7 M280.5 372.3h0.7 M277.3 366.1h0.7 M261.8 368.4h0.7 M271.8 352.3h0.7 M258.1 364.3h0.7 M280.7 358.0h0.7 M273.4 350.8h0.7 M279.7 376.0h0.7 M264.5 370.5h0.7 M276.1 361.3h0.7 M279.8 348.9h0.7 M264.2 351.2h0.7 M278.3 371.2h0.7 M262.6 368.6h0.7 M270.1 365.7h0.7 M267.6 365.6h0.7 M271.3 357.7h0.7 M266.3 352.7h0.7 M273.2 373.8h0.7 M262.6 366.4h0.7 M266.9 353.2h0.7 M258.3 348.6h0.7 M276.2 351.7h0.7 M264.0 363.8h0.7 M261.8 366.1h0.7 M269.1 354.6h0.7 M274.4 368.0h0.7 M281.6 358.2h0.7 M277.0 367.5h0.7 M271.6 348.6h0.7 M264.7 361.2h0.7 M257.8 350.6h0.7 M278.3 351.0h0.7 M271.3 355.1h0.7 M270.4 360.0h0.7 M263.6 362.1h0.7 M263.9 377.8h0.7 M268.7 351.5h0.7 M276.1 352.7h0.7 M276.2 372.4h0.7 M280.9 364.1h0.7 M276.3 372.9h0.7 M278.0 366.9h0.7 M280.1 371.4h0.7 M266.7 359.3h0.7 M278.7 377.3h0.7 M266.5 377.1h0.7 M277.5 369.8h0.7 M265.5 356.3h0.7 M264.2 369.5h0.7 M268.8 354.6h0.7 M260.5 373.5h0.7 M261.6 352.9h0.7 M270.6 349.2h0.7 M267.2 353.9h0.7 M279.2 365.2h0.7 M269.6 362.5h0.7 M257.1 374.6h0.7 M281.4 347.7h0.7 M271.5 372.7h0.7 M278.9 378.2h0.7 M280.4 375.9h0.7 M260.5 379.4h0.7 M282.5 368.1h0.7 M279.7 355.8h0.7 M268.0 350.9h0.7 M269.0 379.3h0.7 M275.2 362.2h0.7 M264.9 354.2h0.7 M267.9 356.7h0.7 M269.5 365.8h0.7 M267.3 366.5h0.7 M267.5 363.4h0.7 M269.4 374.5h0.7 M280.1 366.2h0.7 M276.5 357.1h0.7 M260.9 357.5h0.7 M260.3 372.0h0.7 M280.7 368.1h0.7 M262.4 351.6h0.7 M276.9 365.9h0.7 M260.4 379.4h0.7 M276.4 378.4h0.7 M282.5 372.6h0.7 M281.0 377.8h0.7 M260.8 358.6h0.7 M270.7 367.9h0.7 M260.6 356.1h0.7 M276.9 378.5h0.7 M269.1 377.4h0.7 M279.6 376.4h0.7 M261.6 359.8h0.7 M274.1 373.6h0.7 M278.5 351.3h0.7 M274.4 348.2h0.7 M264.8 349.1h0.7 M270.0 351.5h0.7 M273.9 360.5h0.7 M277.9 357.8h0.7 M282.7 351.2h0.7 M258.8 363.5h0.7 M269.8 374.6h0.7 M257.3 353.2h0.7 M263.1 361.4h0.7 M278.2 368.8h0.7 M262.8 359.9h0.7 M276.8 365.3h0.7 M259.4 359.0h0.7 M257.2 362.1h0.7 M262.7 357.1h0.7 M265.5 375.3h0.7 M258.8 350.3h0.7 M260.1 361.2h0.7 M268.0 377.4h0.7 M275.7 356.1h0.7 M260.1 365.0h0.7 M278.5 354.6h0.7 M276.7 359.1h0.7 M281.8 378.2h0.7 M261.2 373.3h0.7 M272.1 359.9h0.7 M270.2 376.6h0.7 M269.3 365.6h0.7 M269.6 348.2h0.7 M276.6 350.8h0.7 M280.3 347.6h0.7 M271.5 355.6h0.7 M274.6 367.5h0.7 M276.2 373.8h0.7 M282.6 351.2h0.7 M262.6 363.0h0.7 M281.0 360.2h0.7 M262.1 364.3h0.7 M264.9 349.9h0.7 M277.8 362.1h0.7 M278.8 350.8h0.7 M265.5 351.2h0.7 M278.8 361.8h0.7 M272.5 349.0h0.7 M268.2 359.9h0.7 M275.1 355.0h0.7 M282.5 358.0h0.7 M270.1 362.6h0.7 M265.6 349.2h0.7 M257.6 376.8h0.7 M282.4 367.2h0.7 M260.1 353.6h0.7 M265.0 348.5h0.7 M265.6 356.5h0.7 M265.2 374.4h0.7 M271.3 379.6h0.7 M264.7 349.7h0.7 M276.7 370.8h0.7 M278.1 359.4h0.7 M278.0 350.6h0.7 M275.6 369.7h0.7 M271.5 367.2h0.7 M268.8 361.2h0.7 M269.1 367.0h0.7 M278.9 358.2h0.7 M271.3 360.0h0.7 M261.1 370.1h0.7 M256.8 375.7h0.7 M257.9 352.8h0.7 M276.2 361.4h0.7 M264.5 363.1h0.7 M281.1 368.2h0.7 M266.1 377.9h0.7 M263.0 350.4h0.7 M275.9 373.3h0.7 M277.5 360.2h0.7 M274.5 354.2h0.7" stroke="#5a48c0" stroke-width="0.7" opacity="0.55"/>
<ellipse cx="261.62" cy="363.50" rx="2.50" ry="3.22" fill="#4a3ab0" filter="url(#b05)" opacity="0.7"/>
<path d="M261.6 328.1 L270.4 325.2 L290.4 325.8 L296.7 328.1 L299.8 337.7 L299.2 353.8 L299.8 369.9 L297.9 379.6 L276.6 379.6 L274.1 370.6 L269.1 364.1 L263.5 360.3 L261.6 353.8 Z" fill="#3b2699" stroke="none" stroke-width="0.6" filter="url(#b1)" />
<ellipse cx="270.38" cy="360.28" rx="6.26" ry="7.73" fill="#3a2596" filter="url(#b2)" opacity="0.6"/>
<path d="M265.4 330.0 L282.9 328.1 L292.9 331.3 L296.0 341.0 L295.4 353.8 L295.4 374.4 L282.9 374.4 L280.4 363.5 L276.6 344.2 L270.4 336.5 L265.4 334.5 Z" fill="#2d4fd8" stroke="none" stroke-width="0.6" filter="url(#b15)" />
<path d="M264.1 330.7 L279.8 329.4 L282.9 334.5 L281.6 347.4 L284.2 360.3 L280.4 361.6 L277.9 347.4 L276.6 335.8 L265.4 334.5 Z" fill="#3ec6e6" stroke="none" stroke-width="0.6" filter="url(#b1)" opacity="0.85" />
<ellipse cx="270.38" cy="331.62" rx="7.51" ry="1.42" fill="#6cc8f0" filter="url(#b05)"/>
<ellipse cx="289.16" cy="343.54" rx="9.39" ry="14.17" fill="#3ec6e6" filter="url(#b1)"/>
<ellipse cx="289.16" cy="342.89" rx="6.89" ry="10.95" fill="#4ccf48" filter="url(#b1)"/>
<ellipse cx="290.10" cy="342.57" rx="4.13" ry="6.76" fill="#f2ea2a" filter="url(#b05)"/>
<ellipse cx="290.10" cy="342.57" rx="2.82" ry="4.83" fill="#f49a20" filter="url(#b05)"/>
<ellipse cx="290.22" cy="342.57" rx="2.00" ry="3.61" fill="#e0261c" filter="url(#b05)"/>
<ellipse cx="287.91" cy="365.43" rx="8.14" ry="6.44" fill="#3ec6e6" filter="url(#b1)"/>
<ellipse cx="290.41" cy="366.08" rx="5.95" ry="4.38" fill="#4ccf48" filter="url(#b1)"/>
<ellipse cx="290.41" cy="366.08" rx="3.44" ry="2.25" fill="#f2ea2a" filter="url(#b05)"/>
<ellipse cx="290.41" cy="366.08" rx="1.56" ry="0.90" fill="#f49a20" filter="url(#b05)"/>
</g>
<rect x="251.60" y="315.20" width="62.60" height="64.40" fill="none" stroke="#bdbdbd" stroke-width="0.7"/>
<path d="M251.6 323.7 L276.1 323.7 L276.1 328.2 M251.6 346.7 L260.6 346.7" fill="none" stroke="#555" stroke-width="0.5" />
<text x="254.60" y="330.20" font-size="3" fill="#d2334a" stroke="#d2334a" stroke-width="0.06" >I</text>
<text x="254.10" y="334.20" font-size="3" fill="#d2334a" stroke="#d2334a" stroke-width="0.06" >0.588</text>
<clipPath id="cp9"><rect x="29.50" y="396.20" width="64.10" height="64.80"/></clipPath>
<g clip-path="url(#cp9)">
<path d="M43.1 433.5h0.8 M51.2 416.6h0.8 M45.5 459.3h0.8 M42.9 434.2h0.8 M50.8 428.2h0.8 M51.8 417.0h0.8 M50.5 432.3h0.8 M53.6 461.3h0.8 M44.6 454.7h0.8 M43.9 454.1h0.8 M51.6 431.6h0.8 M42.3 430.1h0.8 M53.8 437.2h0.8 M61.0 419.1h0.8 M51.1 457.4h0.8 M50.1 426.1h0.8 M45.7 421.3h0.8 M58.2 429.7h0.8 M49.5 447.6h0.8 M52.1 436.2h0.8 M48.8 438.6h0.8 M38.4 458.0h0.8 M37.3 416.1h0.8 M44.5 450.0h0.8 M51.7 456.7h0.8 M49.4 421.7h0.8 M51.7 447.7h0.8 M56.4 432.7h0.8 M44.3 424.9h0.8 M49.6 447.4h0.8 M59.9 419.2h0.8 M46.1 458.3h0.8 M51.0 418.8h0.8 M53.6 454.0h0.8 M37.5 420.1h0.8 M57.6 428.7h0.8 M51.8 457.1h0.8 M57.5 429.6h0.8 M50.3 459.1h0.8 M51.7 449.8h0.8 M44.2 454.8h0.8 M44.0 423.2h0.8 M37.7 449.6h0.8 M54.3 444.6h0.8 M52.5 422.2h0.8 M34.0 424.8h0.8 M49.6 423.1h0.8 M51.4 429.6h0.8 M51.9 449.0h0.8 M57.0 416.7h0.8 M54.5 428.2h0.8 M43.7 425.2h0.8 M61.0 426.9h0.8 M54.0 430.0h0.8 M50.7 438.0h0.8 M51.0 459.2h0.8 M43.6 435.5h0.8 M35.0 437.1h0.8 M60.4 416.8h0.8 M56.4 431.9h0.8 M40.2 419.0h0.8 M61.5 423.4h0.8 M60.2 427.1h0.8 M62.2 426.7h0.8 M44.9 450.1h0.8 M50.7 449.1h0.8 M45.2 456.2h0.8 M35.0 424.9h0.8 M53.6 452.4h0.8 M43.7 424.5h0.8 M53.2 441.6h0.8 M45.8 461.1h0.8 M53.1 455.6h0.8 M51.1 457.1h0.8 M59.8 418.1h0.8 M31.7 428.4h0.8 M53.3 452.3h0.8 M50.1 438.9h0.8 M43.7 439.9h0.8 M33.4 435.7h0.8 M50.4 431.7h0.8 M54.3 457.3h0.8 M51.2 429.4h0.8 M56.2 434.1h0.8 M45.5 423.2h0.8 M45.0 436.5h0.8 M52.7 437.8h0.8 M40.5 451.0h0.8 M52.1 449.8h0.8 M46.7 422.3h0.8 M53.7 450.6h0.8 M30.7 421.2h0.8 M47.5 422.3h0.8 M46.1 457.6h0.8 M52.0 417.1h0.8 M57.7 429.4h0.8 M58.8 428.7h0.8 M47.9 437.5h0.8 M51.5 418.5h0.8 M52.1 449.9h0.8 M45.4 423.6h0.8 M58.0 460.3h0.8 M45.1 422.2h0.8 M49.5 425.0h0.8 M54.8 439.2h0.8 M43.2 455.3h0.8 M53.3 440.9h0.8 M34.3 440.7h0.8 M51.8 457.4h0.8 M55.4 443.3h0.8 M61.6 421.9h0.8 M55.9 425.1h0.8 M52.8 439.6h0.8 M52.5 446.8h0.8 M58.2 438.0h0.8 M46.9 457.8h0.8 M43.9 451.9h0.8 M44.1 417.9h0.8 M46.4 447.8h0.8 M41.5 427.7h0.8 M55.5 445.5h0.8 M42.0 432.6h0.8 M50.6 428.2h0.8 M54.1 443.2h0.8 M62.1 423.7h0.8 M44.0 434.2h0.8 M46.2 422.6h0.8 M54.7 436.0h0.8 M52.6 421.5h0.8 M49.8 420.4h0.8 M49.6 416.4h0.8 M52.5 450.3h0.8 M45.6 449.7h0.8 M36.8 445.8h0.8 M43.9 450.8h0.8 M44.9 450.5h0.8 M51.3 418.5h0.8 M50.3 419.1h0.8 M43.0 427.8h0.8 M53.4 453.0h0.8 M53.0 439.0h0.8 M53.5 436.1h0.8 M60.6 424.3h0.8 M60.5 425.1h0.8 M54.5 450.3h0.8 M51.5 429.3h0.8 M49.9 419.1h0.8 M49.4 424.0h0.8 M60.7 426.5h0.8 M51.8 436.2h0.8 M48.0 448.7h0.8 M45.6 457.0h0.8 M40.7 415.0h0.8 M50.8 448.7h0.8 M46.1 424.2h0.8 M49.6 438.3h0.8 M35.5 420.0h0.8 M44.5 455.8h0.8 M51.7 448.2h0.8 M41.9 420.1h0.8 M52.4 457.3h0.8 M40.7 421.8h0.8 M52.2 431.3h0.8 M41.5 417.1h0.8 M44.5 456.4h0.8 M49.5 438.4h0.8 M48.5 438.2h0.8 M58.0 416.0h0.8 M32.6 410.5h0.8 M43.7 446.5h0.8 M52.7 436.6h0.8 M54.1 445.4h0.8 M55.8 416.1h0.8 M45.5 422.6h0.8 M52.6 449.9h0.8 M53.7 429.9h0.8 M49.6 431.7h0.8 M50.9 416.2h0.8 M46.8 458.0h0.8 M47.0 457.0h0.8 M43.2 432.7h0.8 M50.0 426.3h0.8 M53.2 441.6h0.8 M33.5 431.6h0.8 M51.2 429.7h0.8 M61.2 426.9h0.8 M58.3 418.1h0.8 M33.6 430.8h0.8 M60.7 425.6h0.8 M44.3 436.1h0.8 M58.1 416.9h0.8 M53.1 451.3h0.8 M40.5 450.9h0.8 M55.1 435.4h0.8 M52.1 454.9h0.8 M41.1 429.8h0.8 M42.9 456.2h0.8 M53.0 437.5h0.8 M50.5 457.6h0.8 M54.3 422.7h0.8 M49.1 426.5h0.8 M61.2 421.0h0.8 M53.8 451.7h0.8 M42.4 456.1h0.8 M59.0 432.2h0.8 M49.5 428.0h0.8 M45.3 456.4h0.8 M54.6 423.0h0.8 M51.4 422.3h0.8 M42.2 430.5h0.8 M45.5 456.7h0.8 M35.2 418.5h0.8 M59.1 430.3h0.8 M53.4 456.2h0.8 M46.4 440.5h0.8 M47.0 459.5h0.8 M45.1 436.2h0.8 M52.2 449.1h0.8 M53.2 449.3h0.8 M43.3 434.3h0.8 M51.0 427.7h0.8 M42.2 431.8h0.8 M58.2 417.0h0.8 M55.9 432.4h0.8 M52.2 452.5h0.8 M56.2 430.5h0.8 M60.4 419.6h0.8 M60.4 425.6h0.8 M48.3 438.6h0.8 M52.8 451.2h0.8 M45.5 450.0h0.8 M46.4 460.7h0.8 M60.5 421.6h0.8 M48.6 428.1h0.8 M40.6 451.6h0.8 M53.6 452.0h0.8 M40.4 454.2h0.8 M50.0 429.7h0.8 M56.8 427.3h0.8 M50.9 448.6h0.8 M42.6 427.7h0.8 M55.5 417.4h0.8 M61.8 421.3h0.8 M47.3 437.9h0.8 M55.4 416.8h0.8 M43.5 433.0h0.8 M32.3 431.0h0.8 M50.7 414.7h0.8 M52.2 450.1h0.8 M39.8 451.6h0.8 M53.4 436.1h0.8 M47.0 422.0h0.8 M50.1 421.4h0.8 M47.4 424.2h0.8 M49.2 426.3h0.8 M50.5 424.9h0.8 M53.6 444.2h0.8 M60.4 420.8h0.8 M52.1 418.0h0.8 M39.9 451.1h0.8 M45.9 447.6h0.8 M44.6 458.4h0.8 M49.7 418.9h0.8 M42.7 432.6h0.8 M37.0 421.2h0.8 M42.8 427.7h0.8 M50.6 418.9h0.8 M42.0 429.0h0.8 M50.4 420.8h0.8 M52.4 455.9h0.8 M53.4 444.8h0.8 M55.3 433.5h0.8 M51.1 449.2h0.8 M38.8 418.4h0.8 M56.5 427.2h0.8 M58.4 429.9h0.8 M34.4 439.8h0.8 M44.5 450.8h0.8 M49.2 448.7h0.8 M44.5 455.9h0.8 M58.2 429.2h0.8 M45.5 449.7h0.8 M45.2 437.5h0.8 M54.2 416.5h0.8 M58.0 416.4h0.8 M59.7 417.2h0.8 M51.9 437.7h0.8 M54.6 430.0h0.8 M60.6 420.9h0.8 M47.0 449.0h0.8 M43.9 455.7h0.8 M48.3 421.2h0.8 M42.5 433.5h0.8 M41.8 449.8h0.8 M60.8 422.1h0.8 M51.2 429.8h0.8 M39.6 435.3h0.8 M53.4 450.8h0.8 M54.2 435.5h0.8 M56.2 430.8h0.8 M44.0 447.4h0.8 M52.6 450.1h0.8 M58.4 415.1h0.8 M49.7 424.4h0.8 M35.2 438.8h0.8 M35.0 439.0h0.8 M51.6 437.8h0.8 M42.3 439.4h0.8 M52.8 421.9h0.8 M59.9 426.9h0.8 M39.7 416.3h0.8 M54.1 415.4h0.8 M42.2 429.1h0.8 M50.2 427.3h0.8 M52.1 422.2h0.8 M49.8 448.3h0.8 M49.5 423.7h0.8 M43.1 431.8h0.8 M48.5 419.3h0.8 M44.6 455.0h0.8 M40.3 415.7h0.8 M48.0 448.3h0.8 M55.2 426.1h0.8 M44.2 419.1h0.8 M49.8 420.1h0.8 M52.4 416.3h0.8 M49.7 420.2h0.8 M44.8 461.4h0.8 M45.0 456.4h0.8 M53.8 452.8h0.8 M55.4 431.0h0.8 M57.0 427.5h0.8 M51.1 457.8h0.8 M55.3 434.7h0.8 M49.3 459.4h0.8 M52.4 456.7h0.8 M44.0 458.0h0.8 M45.0 450.8h0.8 M51.5 449.2h0.8 M50.8 438.5h0.8 M60.2 420.5h0.8 M60.3 426.5h0.8 M53.5 451.3h0.8 M39.1 419.0h0.8 M49.4 457.3h0.8 M58.5 429.3h0.8 M49.4 447.1h0.8 M44.4 435.6h0.8 M53.2 452.5h0.8 M39.4 453.8h0.8 M51.5 456.9h0.8 M44.2 450.0h0.8 M45.6 456.7h0.8 M43.7 454.7h0.8 M34.5 427.7h0.8 M51.1 458.2h0.8 M47.1 457.5h0.8 M43.4 433.9h0.8 M56.0 429.6h0.8 M42.7 455.9h0.8 M46.5 422.4h0.8 M59.0 428.0h0.8 M60.7 421.5h0.8 M50.3 458.8h0.8 M48.6 425.6h0.8 M44.5 424.7h0.8 M54.0 435.0h0.8 M54.9 434.3h0.8 M55.0 433.9h0.8 M49.1 424.8h0.8 M52.0 456.5h0.8 M52.5 449.8h0.8 M51.2 432.8h0.8 M41.8 430.3h0.8 M47.5 424.0h0.8 M54.7 413.6h0.8 M49.8 441.7h0.8 M61.8 423.0h0.8 M47.3 448.8h0.8 M37.0 449.9h0.8 M35.6 416.9h0.8 M45.0 422.9h0.8 M54.2 432.9h0.8 M55.0 416.2h0.8 M43.6 453.8h0.8 M47.2 457.0h0.8 M37.7 449.8h0.8 M46.2 457.1h0.8 M48.8 426.3h0.8 M50.5 418.3h0.8 M58.0 429.5h0.8 M46.7 457.6h0.8 M51.0 428.0h0.8 M52.1 430.6h0.8 M45.7 457.0h0.8 M50.6 427.6h0.8 M53.0 430.5h0.8 M44.6 435.7h0.8 M50.7 449.0h0.8 M47.1 448.6h0.8 M51.9 452.3h0.8 M48.5 426.7h0.8 M59.7 437.4h0.8 M50.5 458.6h0.8 M41.8 454.5h0.8 M43.7 454.8h0.8 M55.6 416.5h0.8 M43.0 425.9h0.8 M45.1 436.3h0.8 M53.1 454.7h0.8 M43.2 418.0h0.8 M53.2 431.9h0.8 M51.0 457.6h0.8 M49.7 421.3h0.8 M55.8 426.1h0.8 M61.4 425.6h0.8 M56.6 415.7h0.8 M65.0 421.3h0.8 M38.0 418.5h0.8 M55.1 415.5h0.8 M42.8 455.8h0.8 M48.5 423.8h0.8 M53.9 451.8h0.8 M56.3 417.1h0.8 M46.2 457.3h0.8 M36.1 422.8h0.8 M52.5 449.8h0.8 M56.6 434.3h0.8 M31.3 417.1h0.8 M52.7 437.8h0.8 M48.7 427.4h0.8 M60.3 428.2h0.8 M60.7 428.1h0.8 M60.4 418.9h0.8 M48.4 426.1h0.8 M56.0 450.6h0.8 M54.2 453.9h0.8 M44.0 452.2h0.8 M60.9 419.9h0.8 M56.5 430.1h0.8 M52.4 439.9h0.8 M42.4 450.7h0.8 M48.7 448.6h0.8 M51.9 436.5h0.8 M44.0 452.6h0.8 M50.8 419.5h0.8 M61.0 423.3h0.8 M41.7 419.8h0.8 M55.6 415.2h0.8 M55.9 433.7h0.8 M44.2 452.6h0.8 M47.8 456.8h0.8 M48.7 426.4h0.8 M32.4 431.4h0.8 M45.3 458.0h0.8 M39.2 430.5h0.8 M44.5 456.4h0.8 M35.8 439.6h0.8 M49.6 424.9h0.8 M45.5 420.9h0.8 M50.7 459.3h0.8 M45.6 449.0h0.8 M39.6 450.1h0.8 M41.9 429.8h0.8 M52.5 449.6h0.8 M48.2 425.7h0.8 M54.4 416.4h0.8 M51.0 419.0h0.8 M50.6 421.5h0.8 M35.1 438.7h0.8 M52.0 449.6h0.8 M45.6 457.1h0.8 M56.7 430.1h0.8 M46.5 422.1h0.8 M57.1 454.2h0.8 M52.8 455.5h0.8 M57.8 433.8h0.8 M51.7 458.0h0.8 M56.2 433.5h0.8 M54.1 431.1h0.8 M54.3 437.1h0.8 M54.2 430.2h0.8 M56.5 452.3h0.8 M49.3 420.1h0.8 M44.3 455.1h0.8 M43.1 419.6h0.8 M52.0 421.5h0.8 M43.7 433.9h0.8 M47.4 421.4h0.8 M46.6 439.5h0.8 M52.6 449.6h0.8 M53.2 455.0h0.8 M44.3 420.8h0.8 M37.6 447.7h0.8 M59.5 417.8h0.8 M56.5 427.5h0.8 M44.6 450.2h0.8 M50.3 428.2h0.8 M52.6 430.2h0.8 M42.7 418.7h0.8 M42.0 416.9h0.8 M53.9 414.6h0.8 M51.6 415.4h0.8 M57.8 414.9h0.8 M78.4 412.7h0.8 M78.8 408.5h0.8 M74.1 411.9h0.8 M64.0 413.0h0.8 M41.7 418.0h0.8 M77.4 408.6h0.8 M70.4 411.0h0.8 M36.6 420.9h0.8 M51.7 413.8h0.8 M56.5 412.5h0.8 M39.3 419.9h0.8 M41.2 418.1h0.8 M79.3 411.1h0.8 M66.7 411.6h0.8 M62.8 410.9h0.8 M59.2 413.2h0.8 M75.4 410.7h0.8 M45.2 415.9h0.8 M60.6 412.4h0.8 M77.4 410.9h0.8 M79.3 410.9h0.8 M42.5 418.0h0.8 M49.1 414.7h0.8 M36.9 420.6h0.8 M47.5 416.6h0.8 M58.8 413.0h0.8 M61.6 412.3h0.8 M64.2 411.0h0.8 M44.8 418.3h0.8 M62.0 413.6h0.8 M78.4 411.3h0.8 M78.3 409.4h0.8 M35.8 424.4h0.8 M40.0 418.4h0.8 M37.0 420.8h0.8 M55.2 414.7h0.8 M46.8 413.9h0.8 M70.4 411.2h0.8 M47.3 417.8h0.8 M39.7 418.8h0.8 M36.9 422.3h0.8 M79.7 410.7h0.8 M34.9 421.3h0.8 M63.9 413.1h0.8 M78.4 410.4h0.8 M64.6 413.0h0.8 M77.4 410.3h0.8 M37.7 420.2h0.8 M35.7 422.5h0.8 M59.4 413.3h0.8 M47.1 415.5h0.8 M67.3 411.0h0.8 M57.6 414.5h0.8 M58.7 414.7h0.8 M66.1 412.8h0.8 M35.7 419.7h0.8 M53.6 414.3h0.8 M74.6 411.1h0.8 M76.5 409.7h0.8 M73.7 409.5h0.8 M43.3 418.5h0.8 M36.5 423.2h0.8 M56.1 415.6h0.8 M50.0 416.2h0.8 M44.0 416.8h0.8 M40.3 421.7h0.8 M37.5 419.9h0.8 M37.3 421.2h0.8 M36.9 423.3h0.8 M45.7 415.6h0.8 M77.2 411.1h0.8 M69.6 412.3h0.8 M47.7 416.0h0.8 M35.9 422.4h0.8 M77.3 409.9h0.8 M45.8 417.4h0.8 M40.6 418.2h0.8 M36.6 421.4h0.8 M72.9 411.3h0.8 M53.3 413.1h0.8 M54.8 413.7h0.8 M45.1 415.1h0.8 M48.7 413.8h0.8 M34.5 424.3h0.8 M75.3 409.3h0.8 M35.4 424.3h0.8 M63.6 412.9h0.8 M46.2 414.9h0.8 M37.4 424.9h0.8 M37.8 422.5h0.8 M69.6 411.5h0.8 M63.7 415.2h0.8 M74.3 410.2h0.8 M36.9 424.9h0.8 M63.0 414.2h0.8 M79.3 409.3h0.8 M37.4 423.0h0.8 M61.6 412.6h0.8 M51.9 415.2h0.8 M39.2 418.0h0.8 M76.9 410.9h0.8 M35.4 423.8h0.8 M57.4 412.8h0.8 M77.9 409.3h0.8 M43.9 416.6h0.8 M80.7 409.2h0.8 M79.1 409.4h0.8 M51.8 415.0h0.8 M59.4 411.8h0.8 M68.8 411.9h0.8 M77.2 410.2h0.8 M54.0 414.7h0.8 M52.1 416.0h0.8 M75.3 410.0h0.8 M65.5 413.5h0.8 M45.3 415.5h0.8 M68.4 412.1h0.8 M42.0 417.4h0.8 M61.3 413.4h0.8 M51.9 416.0h0.8 M62.7 411.9h0.8 M76.7 409.5h0.8 M66.2 411.8h0.8 M45.5 414.9h0.8 M61.2 413.0h0.8 M43.0 418.9h0.8 M40.7 418.2h0.8 M46.3 415.2h0.8 M36.8 422.6h0.8 M66.6 411.4h0.8 M78.6 411.9h0.8 M33.7 424.6h0.8 M76.8 409.9h0.8 M65.0 410.6h0.8 M60.1 413.0h0.8 M50.4 417.0h0.8 M52.9 416.7h0.8 M75.8 410.0h0.8 M46.7 416.1h0.8 M53.9 414.7h0.8 M76.6 409.2h0.8 M65.4 412.4h0.8 M40.6 419.0h0.8 M71.0 410.7h0.8 M75.1 410.0h0.8 M54.8 414.9h0.8 M79.6 409.9h0.8 M37.9 421.5h0.8 M36.9 421.5h0.8 M36.5 422.3h0.8 M33.8 424.4h0.8 M41.4 418.4h0.8 M34.3 427.4h0.8 M74.7 409.3h0.8 M75.1 411.7h0.8 M65.4 413.1h0.8 M43.0 418.6h0.8 M69.4 410.1h0.8 M77.8 409.4h0.8 M68.1 412.5h0.8 M67.0 410.1h0.8 M39.7 421.8h0.8 M45.7 415.0h0.8 M76.4 410.4h0.8 M48.0 415.4h0.8 M45.0 417.8h0.8 M37.1 423.9h0.8 M37.7 423.5h0.8 M34.8 424.8h0.8 M54.8 413.5h0.8 M51.8 415.4h0.8 M70.5 411.2h0.8 M44.6 418.8h0.8 M78.7 410.4h0.8 M77.1 410.5h0.8 M77.4 411.3h0.8 M43.6 416.8h0.8 M39.3 418.8h0.8 M42.9 419.4h0.8 M75.1 409.8h0.8 M60.5 414.2h0.8 M68.5 413.0h0.8 M38.6 420.6h0.8 M73.7 410.4h0.8 M44.9 417.0h0.8 M67.3 412.9h0.8 M77.1 409.8h0.8 M39.1 420.0h0.8 M43.2 416.6h0.8 M41.9 417.7h0.8 M71.4 411.2h0.8 M77.9 408.7h0.8 M47.2 417.0h0.8 M39.3 417.7h0.8 M70.0 410.9h0.8 M75.4 410.6h0.8 M75.3 411.0h0.8 M50.3 415.8h0.8 M44.3 417.9h0.8 M58.5 414.7h0.8 M37.6 418.3h0.8 M47.1 415.8h0.8 M48.6 416.8h0.8 M66.2 411.7h0.8 M64.7 412.3h0.8 M48.4 415.1h0.8 M75.9 411.6h0.8 M37.2 423.8h0.8 M75.7 410.4h0.8 M43.0 416.2h0.8 M49.8 416.8h0.8 M70.6 411.2h0.8 M51.2 414.2h0.8 M53.0 416.1h0.8 M71.5 410.3h0.8 M65.0 412.5h0.8 M80.1 409.6h0.8 M77.8 411.4h0.8 M36.8 421.9h0.8 M50.8 413.4h0.8 M38.4 418.8h0.8 M42.9 418.6h0.8 M78.1 409.3h0.8 M58.3 414.2h0.8 M75.9 409.0h0.8 M76.7 411.1h0.8 M49.8 416.0h0.8 M49.8 414.7h0.8 M67.7 411.5h0.8 M53.4 414.3h0.8 M45.8 417.2h0.8 M42.7 418.7h0.8 M45.0 416.5h0.8 M76.8 408.6h0.8 M70.7 411.4h0.8 M53.3 415.1h0.8 M45.7 416.8h0.8 M52.1 414.5h0.8 M78.5 411.7h0.8 M35.8 422.0h0.8 M61.0 412.1h0.8 M62.7 412.2h0.8 M68.7 413.3h0.8 M77.3 410.6h0.8 M36.5 422.5h0.8 M69.9 411.0h0.8 M37.0 417.2h0.8 M70.0 411.7h0.8 M35.5 424.0h0.8 M73.9 409.8h0.8 M78.4 409.4h0.8 M79.2 409.0h0.8 M40.0 418.3h0.8 M49.9 415.3h0.8 M75.4 409.6h0.8 M70.4 411.2h0.8 M77.7 408.2h0.8 M40.7 418.3h0.8 M70.3 410.5h0.8 M54.3 415.0h0.8 M39.8 419.2h0.8 M40.6 418.7h0.8 M77.1 411.0h0.8 M37.7 420.0h0.8 M40.1 418.4h0.8 M64.1 413.4h0.8 M39.2 418.3h0.8 M73.8 413.1h0.8 M57.4 412.6h0.8 M38.4 419.3h0.8 M47.1 417.5h0.8 M35.8 422.3h0.8 M36.5 422.3h0.8 M77.7 409.9h0.8 M62.0 413.1h0.8 M66.0 412.8h0.8 M44.6 417.5h0.8 M78.0 409.4h0.8 M34.5 423.9h0.8 M37.7 420.5h0.8 M47.6 416.2h0.8 M76.1 410.5h0.8 M64.8 412.2h0.8 M38.9 417.6h0.8 M76.9 409.3h0.8 M49.7 414.2h0.8 M75.8 409.8h0.8 M71.1 408.5h0.8 M37.1 421.6h0.8 M76.2 411.3h0.8 M57.8 414.5h0.8 M71.3 411.4h0.8 M58.4 415.5h0.8 M72.3 409.1h0.8 M36.1 422.7h0.8 M57.7 413.4h0.8 M56.2 414.7h0.8 M77.3 409.0h0.8 M47.0 417.2h0.8 M37.2 423.8h0.8 M54.5 416.1h0.8 M61.2 412.5h0.8 M38.0 419.0h0.8 M42.2 419.9h0.8 M54.5 414.1h0.8 M53.0 414.5h0.8 M62.2 414.4h0.8 M72.2 412.1h0.8 M57.5 414.8h0.8 M41.3 416.9h0.8 M56.7 414.7h0.8 M65.5 413.9h0.8 M34.8 425.4h0.8 M78.6 410.8h0.8 M66.7 410.7h0.8 M51.9 415.3h0.8 M79.7 410.3h0.8 M66.4 412.8h0.8 M48.7 416.0h0.8 M40.7 419.9h0.8 M57.5 414.2h0.8 M65.6 413.8h0.8 M53.8 414.8h0.8 M47.2 413.8h0.8 M67.3 410.7h0.8 M37.0 422.5h0.8 M37.5 420.3h0.8 M55.4 415.4h0.8 M39.7 418.5h0.8 M41.9 417.2h0.8 M76.6 409.2h0.8 M64.5 413.7h0.8 M36.1 421.8h0.8 M56.0 414.9h0.8 M80.1 411.7h0.8 M52.2 414.2h0.8 M72.6 409.6h0.8 M77.0 411.0h0.8 M70.5 410.5h0.8 M65.5 412.5h0.8 M37.6 421.6h0.8 M59.3 411.4h0.8 M35.8 421.7h0.8 M38.9 420.2h0.8 M35.2 424.9h0.8 M75.0 412.8h0.8 M60.8 412.5h0.8 M75.3 409.9h0.8 M51.7 414.7h0.8 M77.4 411.0h0.8 M47.7 416.5h0.8 M48.4 416.8h0.8 M71.3 411.2h0.8 M67.1 411.5h0.8 M40.8 417.5h0.8 M34.3 420.1h0.8 M75.8 412.1h0.8 M41.1 418.0h0.8 M61.9 412.9h0.8 M59.8 412.9h0.8 M76.6 411.3h0.8 M36.4 422.8h0.8 M39.7 417.9h0.8 M48.7 416.9h0.8 M57.9 413.8h0.8 M43.9 418.4h0.8 M64.9 412.4h0.8 M55.6 414.3h0.8 M67.3 414.1h0.8 M38.6 422.4h0.8 M75.9 409.0h0.8 M50.5 415.8h0.8 M63.7 411.8h0.8 M48.0 413.9h0.8 M46.9 416.7h0.8 M75.6 410.3h0.8 M57.5 444.9h0.8 M52.9 425.2h0.8 M56.4 452.3h0.8 M58.1 441.9h0.8 M51.6 419.4h0.8 M58.7 454.0h0.8 M55.4 455.0h0.8 M53.5 421.6h0.8 M55.2 427.9h0.8 M56.8 453.0h0.8 M59.1 442.9h0.8 M51.1 420.4h0.8 M56.4 454.3h0.8 M58.2 438.3h0.8 M56.4 431.6h0.8 M53.9 423.4h0.8 M52.1 455.1h0.8 M56.6 439.5h0.8 M56.5 441.3h0.8 M57.7 445.3h0.8 M51.6 419.2h0.8 M58.0 440.1h0.8 M60.7 440.1h0.8 M57.7 427.2h0.8 M54.3 455.3h0.8 M53.0 413.8h0.8 M58.3 429.8h0.8 M57.2 432.3h0.8 M51.4 419.3h0.8 M56.2 446.5h0.8 M57.3 443.3h0.8 M54.0 426.1h0.8 M56.3 455.3h0.8 M58.2 439.0h0.8 M52.8 425.0h0.8 M56.7 453.0h0.8 M56.2 430.2h0.8 M51.6 457.0h0.8 M57.2 450.7h0.8 M51.0 459.0h0.8 M54.3 450.8h0.8 M56.5 429.7h0.8 M55.0 448.4h0.8 M59.5 453.4h0.8 M56.4 454.9h0.8 M55.4 451.9h0.8 M52.4 455.7h0.8 M51.5 457.3h0.8 M55.4 435.1h0.8 M58.2 438.5h0.8 M51.0 423.2h0.8 M53.5 456.9h0.8 M58.5 443.4h0.8 M56.5 443.5h0.8 M53.6 459.1h0.8 M56.2 435.1h0.8 M57.6 449.4h0.8 M51.7 459.7h0.8 M58.3 446.4h0.8 M52.2 455.4h0.8 M53.7 456.1h0.8 M57.0 451.4h0.8 M59.1 446.2h0.8 M53.1 454.9h0.8 M52.0 420.6h0.8 M59.5 442.6h0.8 M57.0 444.9h0.8 M55.8 450.2h0.8 M56.0 444.9h0.8 M59.9 440.9h0.8 M55.4 447.4h0.8 M55.9 439.9h0.8 M52.2 422.6h0.8 M54.2 423.2h0.8 M50.7 422.3h0.8 M56.4 452.2h0.8 M57.7 432.2h0.8 M58.0 455.6h0.8 M55.8 430.9h0.8 M50.9 420.5h0.8 M56.4 439.0h0.8 M52.5 458.5h0.8 M52.9 457.6h0.8 M57.4 428.8h0.8 M55.6 452.9h0.8 M56.8 442.4h0.8 M49.3 420.8h0.8 M59.5 443.3h0.8 M56.4 456.5h0.8 M55.2 454.2h0.8 M52.2 457.1h0.8 M56.6 430.3h0.8 M57.6 429.7h0.8 M52.2 420.0h0.8 M59.3 441.3h0.8 M56.6 445.7h0.8 M56.5 440.6h0.8 M58.3 449.4h0.8 M57.9 439.2h0.8 M57.6 450.5h0.8 M55.1 459.1h0.8 M51.8 423.6h0.8 M57.2 435.1h0.8 M54.1 428.9h0.8 M54.2 429.2h0.8 M50.3 418.3h0.8 M57.6 436.2h0.8 M52.9 456.4h0.8 M56.8 453.8h0.8 M56.1 449.4h0.8 M55.6 457.3h0.8 M59.4 450.0h0.8 M57.5 437.7h0.8 M52.9 423.5h0.8 M50.7 416.1h0.8 M55.9 446.6h0.8 M58.8 444.4h0.8 M55.9 451.2h0.8 M53.2 460.5h0.8 M56.6 426.5h0.8 M57.1 437.7h0.8 M57.0 447.2h0.8 M54.9 457.7h0.8 M57.2 449.6h0.8 M57.3 452.8h0.8 M54.9 438.9h0.8 M56.0 447.3h0.8 M56.1 457.4h0.8 M52.4 456.0h0.8 M54.8 427.3h0.8 M56.4 457.6h0.8 M51.6 421.3h0.8 M52.3 425.9h0.8 M61.7 440.4h0.8 M59.9 433.1h0.8 M54.6 430.2h0.8 M50.2 458.6h0.8 M58.0 439.1h0.8 M54.3 427.4h0.8 M52.6 421.7h0.8 M52.5 456.3h0.8 M55.5 434.7h0.8 M53.2 421.7h0.8 M54.5 448.5h0.8 M54.4 445.6h0.8 M60.1 437.4h0.8 M54.9 431.8h0.8 M60.6 438.7h0.8 M56.9 455.7h0.8 M53.2 458.9h0.8 M53.9 459.3h0.8 M52.7 455.9h0.8 M57.9 427.6h0.8 M57.4 436.1h0.8 M58.0 445.3h0.8 M59.5 442.9h0.8 M55.3 418.1h0.8 M54.8 427.8h0.8 M55.8 430.2h0.8 M57.4 436.3h0.8 M52.6 457.7h0.8 M54.9 450.3h0.8 M54.9 455.2h0.8 M56.7 450.2h0.8 M58.4 439.5h0.8 M52.9 457.7h0.8 M53.9 462.6h0.8 M53.4 450.8h0.8 M57.9 441.1h0.8 M58.5 434.0h0.8 M54.1 422.7h0.8 M55.4 428.2h0.8 M56.1 428.1h0.8 M54.5 455.0h0.8 M54.5 423.8h0.8 M52.1 459.4h0.8 M51.4 419.3h0.8 M57.2 449.3h0.8 M52.3 421.5h0.8 M55.4 455.8h0.8 M57.5 429.3h0.8 M58.8 437.0h0.8 M55.5 424.8h0.8 M51.1 413.4h0.8 M55.2 449.2h0.8 M53.6 423.0h0.8 M58.3 446.7h0.8 M57.8 432.0h0.8 M56.4 431.3h0.8 M55.5 454.1h0.8 M53.8 455.0h0.8 M52.3 425.2h0.8 M55.9 428.3h0.8 M56.8 430.1h0.8 M59.4 429.6h0.8 M55.4 458.9h0.8 M58.7 443.4h0.8 M59.2 429.5h0.8 M53.9 456.7h0.8 M56.9 431.2h0.8 M55.2 447.2h0.8 M57.4 442.9h0.8 M58.6 442.3h0.8 M56.5 452.9h0.8 M57.4 440.1h0.8 M57.4 448.1h0.8 M55.4 438.7h0.8 M56.4 448.9h0.8 M50.2 424.2h0.8 M53.9 426.4h0.8 M49.9 459.1h0.8 M54.1 456.9h0.8 M58.3 442.4h0.8 M55.6 452.6h0.8 M52.1 422.1h0.8 M58.3 433.6h0.8 M59.9 439.2h0.8 M57.3 448.0h0.8 M55.0 460.1h0.8 M55.3 453.7h0.8 M55.0 420.6h0.8 M55.9 452.2h0.8 M59.0 451.1h0.8 M51.7 456.7h0.8 M57.3 434.7h0.8 M58.5 445.8h0.8 M57.0 437.8h0.8 M53.5 424.1h0.8 M58.7 446.6h0.8 M58.2 434.8h0.8 M51.6 458.4h0.8 M50.0 419.5h0.8 M53.9 419.4h0.8 M59.4 428.8h0.8 M56.4 429.2h0.8 M56.7 428.7h0.8 M54.4 453.8h0.8 M59.7 440.2h0.8 M54.5 456.2h0.8 M54.4 458.2h0.8 M51.4 460.4h0.8 M56.4 430.4h0.8 M58.6 449.8h0.8 M57.9 435.8h0.8 M56.6 450.6h0.8 M56.2 450.2h0.8 M55.2 431.4h0.8 M53.5 456.5h0.8 M51.9 457.7h0.8 M52.1 424.8h0.8 M52.9 423.0h0.8 M57.3 454.8h0.8 M53.7 428.6h0.8 M49.0 459.5h0.8 M54.5 426.4h0.8 M59.0 449.3h0.8 M57.7 431.3h0.8 M54.1 455.1h0.8 M57.4 452.4h0.8 M54.8 425.7h0.8 M36.3 452.7h0.8 M32.9 443.2h0.8 M33.6 434.6h0.8 M36.3 454.3h0.8 M34.7 457.1h0.8 M34.3 451.3h0.8 M36.2 449.5h0.8 M37.6 457.7h0.8 M33.0 440.9h0.8 M35.7 455.0h0.8 M32.2 437.9h0.8 M35.5 456.8h0.8 M37.7 454.9h0.8 M35.6 453.2h0.8 M33.4 449.0h0.8 M33.7 451.5h0.8 M32.1 435.0h0.8 M36.3 455.5h0.8 M36.3 459.1h0.8 M34.9 453.3h0.8 M33.9 442.9h0.8 M35.0 450.5h0.8 M32.4 440.3h0.8 M32.6 451.6h0.8 M33.0 445.5h0.8 M34.7 454.5h0.8 M34.0 437.4h0.8 M35.6 452.1h0.8 M32.9 441.4h0.8 M35.6 455.0h0.8 M34.1 434.5h0.8 M34.3 447.5h0.8 M35.9 457.8h0.8 M38.2 457.4h0.8 M34.7 447.6h0.8 M33.6 441.1h0.8 M33.3 448.4h0.8 M34.2 448.4h0.8 M33.8 441.0h0.8 M33.1 442.1h0.8 M35.0 455.2h0.8 M35.9 457.0h0.8 M35.1 457.4h0.8 M34.2 447.2h0.8 M34.8 455.3h0.8 M34.5 449.2h0.8 M33.6 454.2h0.8 M35.9 456.9h0.8 M34.6 441.9h0.8 M34.8 451.5h0.8 M31.2 447.6h0.8 M33.3 442.2h0.8 M33.8 445.4h0.8 M36.1 458.8h0.8 M32.3 443.8h0.8 M37.6 457.8h0.8 M37.6 456.9h0.8 M33.3 437.3h0.8 M33.9 439.8h0.8 M34.2 447.1h0.8 M33.5 440.8h0.8 M35.8 445.6h0.8 M33.0 447.7h0.8 M37.5 458.2h0.8 M34.2 453.5h0.8 M33.5 437.8h0.8 M36.0 450.8h0.8 M33.2 445.3h0.8 M38.1 454.0h0.8 M36.3 454.5h0.8 M32.0 446.7h0.8 M36.3 455.7h0.8 M36.4 452.8h0.8 M33.2 445.1h0.8 M32.2 439.1h0.8 M35.5 452.7h0.8 M36.9 456.7h0.8 M34.1 449.8h0.8 M34.3 453.3h0.8 M33.4 447.6h0.8 M80.6 423.4h0.7 M53.8 451.9h0.7 M68.1 447.6h0.7 M82.5 414.0h0.7 M67.0 424.7h0.7 M78.8 435.9h0.7 M82.8 453.9h0.7 M64.1 424.4h0.7 M50.6 415.2h0.7 M57.2 442.9h0.7 M58.1 454.0h0.7 M52.7 441.7h0.7 M64.2 446.2h0.7 M67.4 444.1h0.7 M62.6 454.7h0.7 M54.2 446.1h0.7 M60.9 435.5h0.7 M56.3 455.6h0.7 M63.1 439.5h0.7 M61.8 453.9h0.7 M51.5 420.1h0.7 M61.9 442.8h0.7 M55.0 455.7h0.7 M76.9 436.6h0.7 M69.3 434.5h0.7 M57.5 451.0h0.7 M57.8 441.8h0.7 M54.3 447.8h0.7 M56.7 414.9h0.7 M64.3 417.5h0.7 M68.8 456.4h0.7 M60.8 431.5h0.7 M86.2 419.5h0.7 M50.7 447.6h0.7 M69.4 414.7h0.7 M84.3 424.7h0.7 M65.2 439.2h0.7 M58.9 416.3h0.7 M70.3 421.5h0.7 M55.5 424.9h0.7 M60.8 457.8h0.7 M67.9 454.3h0.7 M71.5 436.2h0.7 M78.4 412.9h0.7 M82.3 435.3h0.7 M79.2 424.7h0.7 M58.9 448.8h0.7 M74.0 432.3h0.7 M60.8 441.7h0.7 M80.1 414.4h0.7" stroke="#0a0a0a" stroke-width="0.85"/>
<ellipse cx="49.37" cy="429.90" rx="6.41" ry="7.78" fill="#d2d2d2" stroke="#2a2a2a" stroke-width="1.1" transform="rotate(0 49.37 429.90)"/>
<ellipse cx="43.60" cy="437.67" rx="8.01" ry="18.14" fill="#d2d2d2" stroke="#2a2a2a" stroke-width="1.1" transform="rotate(-14 43.60 437.67)"/>
<ellipse cx="55.14" cy="423.42" rx="5.45" ry="6.48" fill="#d2d2d2" stroke="#2a2a2a" stroke-width="1.1" transform="rotate(0 55.14 423.42)"/>
<ellipse cx="48.73" cy="453.22" rx="4.49" ry="4.54" fill="#d2d2d2" stroke="#2a2a2a" stroke-width="1.1" transform="rotate(0 48.73 453.22)"/>
<ellipse cx="49.37" cy="429.90" rx="6.41" ry="7.78" fill="#d2d2d2" transform="rotate(0 49.37 429.90)"/>
<ellipse cx="43.60" cy="437.67" rx="8.01" ry="18.14" fill="#d2d2d2" transform="rotate(-14 43.60 437.67)"/>
<ellipse cx="55.14" cy="423.42" rx="5.45" ry="6.48" fill="#d2d2d2" transform="rotate(0 55.14 423.42)"/>
<ellipse cx="48.73" cy="453.22" rx="4.49" ry="4.54" fill="#d2d2d2" transform="rotate(0 48.73 453.22)"/>
<ellipse cx="43.60" cy="437.67" rx="6.57" ry="14.88" fill="#e2e2e2" stroke="#7a7a7a" stroke-width="0.5" transform="rotate(-14 43.60 437.67)"/>
<ellipse cx="43.60" cy="437.67" rx="4.97" ry="11.25" fill="#c4c4c4" stroke="#7a7a7a" stroke-width="0.5" transform="rotate(-14 43.60 437.67)"/>
<ellipse cx="43.60" cy="437.67" rx="3.37" ry="7.62" fill="#ededed" stroke="#7a7a7a" stroke-width="0.5" transform="rotate(-14 43.60 437.67)"/>
<ellipse cx="43.60" cy="437.67" rx="1.76" ry="3.99" fill="#cfcfcf" stroke="#7a7a7a" stroke-width="0.5" transform="rotate(-14 43.60 437.67)"/>
<ellipse cx="55.14" cy="423.42" rx="4.47" ry="5.31" fill="#e2e2e2" stroke="#7a7a7a" stroke-width="0.5" transform="rotate(0 55.14 423.42)"/>
<ellipse cx="55.14" cy="423.42" rx="3.38" ry="4.02" fill="#c4c4c4" stroke="#7a7a7a" stroke-width="0.5" transform="rotate(0 55.14 423.42)"/>
<ellipse cx="55.14" cy="423.42" rx="2.29" ry="2.72" fill="#ededed" stroke="#7a7a7a" stroke-width="0.5" transform="rotate(0 55.14 423.42)"/>
<ellipse cx="55.14" cy="423.42" rx="1.20" ry="1.43" fill="#cfcfcf" stroke="#7a7a7a" stroke-width="0.5" transform="rotate(0 55.14 423.42)"/>
</g>
<rect x="29.50" y="396.20" width="64.10" height="64.80" fill="none" stroke="#bdbdbd" stroke-width="0.7"/>
<path d="M29.5 411.8 L39.8 411.8 M41.0 411.1 L50.4 420.8 M51.0 407.0 L86.5 408.5 L67.1 439.4 L58.3 461.0 M51.0 407.0 L68.6 438.6 M29.5 439.4 L48.7 439.4 " fill="none" stroke="#4a4a4a" stroke-width="0.55" />
<text x="34.50" y="403.20" font-size="3.8" fill="#d2334a" stroke="#d2334a" stroke-width="0.06" >IV</text>
<text x="33.00" y="408.20" font-size="3.8" fill="#d2334a" stroke="#d2334a" stroke-width="0.06" >32.6</text>
<text x="45.50" y="402.20" font-size="3.8" fill="#d2334a" stroke="#d2334a" stroke-width="0.06" >III</text>
<text x="44.00" y="407.20" font-size="3.8" fill="#d2334a" stroke="#d2334a" stroke-width="0.06" >21.6</text>
<text x="59.50" y="401.20" font-size="3.8" fill="#d2334a" stroke="#d2334a" stroke-width="0.06" >II</text>
<text x="58.00" y="406.20" font-size="3.8" fill="#d2334a" stroke="#d2334a" stroke-width="0.06" >8.51</text>
<text x="66.50" y="451.00" font-size="3.8" fill="#d2334a" stroke="#d2334a" stroke-width="0.06" >V</text>
<text x="64.50" y="456.00" font-size="3.8" fill="#d2334a" stroke="#d2334a" stroke-width="0.06" >21.7</text>
<clipPath id="cp10"><rect x="99.30" y="396.20" width="65.80" height="64.80"/></clipPath>
<g clip-path="url(#cp10)">
<path d="M124.3 447.5h0.8 M114.1 453.0h0.8 M124.4 447.3h0.8 M109.7 427.0h0.8 M123.8 452.2h0.8 M123.1 422.7h0.8 M122.5 438.4h0.8 M115.0 450.7h0.8 M104.5 424.2h0.8 M120.3 427.5h0.8 M117.9 422.3h0.8 M112.8 426.5h0.8 M124.6 421.6h0.8 M121.3 437.8h0.8 M124.0 452.6h0.8 M113.3 426.5h0.8 M121.0 432.9h0.8 M124.6 436.5h0.8 M126.4 433.0h0.8 M111.3 452.8h0.8 M115.7 449.0h0.8 M125.0 452.9h0.8 M133.0 423.3h0.8 M108.1 457.3h0.8 M126.2 432.0h0.8 M128.3 417.7h0.8 M125.3 434.1h0.8 M120.7 417.9h0.8 M121.7 448.6h0.8 M131.0 419.4h0.8 M107.4 418.2h0.8 M122.9 449.7h0.8 M124.0 454.7h0.8 M118.8 457.8h0.8 M117.8 457.6h0.8 M106.0 442.2h0.8 M118.2 438.9h0.8 M125.7 433.2h0.8 M121.6 428.4h0.8 M124.1 446.7h0.8 M100.8 426.6h0.8 M123.9 417.1h0.8 M112.9 430.8h0.8 M129.8 429.0h0.8 M125.3 425.1h0.8 M111.0 414.6h0.8 M124.2 449.6h0.8 M124.5 423.4h0.8 M114.0 424.4h0.8 M130.6 429.4h0.8 M124.0 451.1h0.8 M112.9 428.9h0.8 M121.0 419.4h0.8 M120.1 447.7h0.8 M118.9 458.1h0.8 M103.4 437.6h0.8 M122.3 417.3h0.8 M127.6 430.1h0.8 M116.9 422.6h0.8 M123.0 450.4h0.8 M117.7 420.5h0.8 M125.1 450.3h0.8 M115.4 449.6h0.8 M124.3 416.5h0.8 M118.4 438.3h0.8 M120.5 420.6h0.8 M109.5 449.5h0.8 M126.2 431.3h0.8 M122.8 456.3h0.8 M131.3 421.6h0.8 M106.7 418.1h0.8 M122.9 437.9h0.8 M109.5 452.7h0.8 M128.8 450.0h0.8 M107.4 445.1h0.8 M120.1 424.9h0.8 M129.3 452.5h0.8 M122.5 444.1h0.8 M119.4 421.7h0.8 M114.7 438.2h0.8 M116.4 457.2h0.8 M112.2 414.5h0.8 M122.8 436.9h0.8 M125.5 434.7h0.8 M123.8 451.6h0.8 M120.1 419.9h0.8 M104.3 437.1h0.8 M123.1 430.6h0.8 M115.6 459.8h0.8 M119.7 420.0h0.8 M125.7 454.4h0.8 M114.1 451.9h0.8 M117.2 422.3h0.8 M111.8 457.5h0.8 M125.8 431.1h0.8 M113.2 452.3h0.8 M115.2 449.8h0.8 M127.0 431.8h0.8 M125.8 430.0h0.8 M118.4 448.2h0.8 M107.1 421.1h0.8 M121.2 449.2h0.8 M115.7 422.8h0.8 M119.6 456.8h0.8 M130.9 419.2h0.8 M109.9 414.1h0.8 M124.2 435.8h0.8 M110.7 434.5h0.8 M121.2 455.8h0.8 M126.1 435.1h0.8 M130.8 428.7h0.8 M119.9 423.3h0.8 M126.6 431.1h0.8 M122.1 457.2h0.8 M132.1 419.7h0.8 M124.3 436.1h0.8 M114.4 454.2h0.8 M120.2 457.8h0.8 M121.4 453.4h0.8 M120.5 427.4h0.8 M116.3 438.0h0.8 M114.3 451.1h0.8 M124.5 430.3h0.8 M112.7 416.3h0.8 M126.3 415.7h0.8 M120.3 457.8h0.8 M127.1 430.5h0.8 M120.9 442.3h0.8 M126.8 429.9h0.8 M116.0 449.5h0.8 M124.5 452.5h0.8 M119.5 426.1h0.8 M105.4 424.7h0.8 M119.6 421.2h0.8 M114.6 422.8h0.8 M113.0 436.8h0.8 M115.4 421.1h0.8 M113.5 433.3h0.8 M121.3 429.0h0.8 M120.3 420.9h0.8 M120.7 421.2h0.8 M108.9 450.4h0.8 M127.1 455.8h0.8 M121.7 422.1h0.8 M119.0 458.1h0.8 M122.5 457.6h0.8 M126.1 432.4h0.8 M121.7 437.9h0.8 M122.0 456.8h0.8 M121.4 417.6h0.8 M121.4 429.2h0.8 M105.9 442.0h0.8 M124.6 431.0h0.8 M104.8 425.4h0.8 M116.8 422.6h0.8 M126.6 430.4h0.8 M104.9 435.0h0.8 M125.6 425.7h0.8 M112.4 454.1h0.8 M118.9 423.7h0.8 M121.1 448.1h0.8 M107.4 446.1h0.8 M103.2 420.4h0.8 M108.2 447.7h0.8 M112.3 432.0h0.8 M121.0 448.9h0.8 M125.7 433.6h0.8 M119.7 423.6h0.8 M124.3 430.8h0.8 M131.2 419.1h0.8 M111.3 449.7h0.8 M120.2 426.0h0.8 M124.1 452.2h0.8 M125.0 446.6h0.8 M120.4 448.7h0.8 M127.4 416.6h0.8 M124.5 446.8h0.8 M127.9 416.9h0.8 M131.3 422.0h0.8 M123.3 455.0h0.8 M118.7 438.1h0.8 M131.2 427.2h0.8 M119.2 458.7h0.8 M126.2 415.5h0.8 M103.2 441.3h0.8 M117.4 419.6h0.8 M129.6 417.4h0.8 M111.3 428.4h0.8 M113.0 434.2h0.8 M116.8 448.2h0.8 M114.7 455.4h0.8 M124.9 416.9h0.8 M110.2 417.1h0.8 M123.2 450.6h0.8 M122.2 438.6h0.8 M114.8 450.4h0.8 M118.5 421.3h0.8 M122.4 448.9h0.8 M124.5 450.0h0.8 M122.4 449.4h0.8 M120.8 429.0h0.8 M127.1 416.3h0.8 M120.1 414.8h0.8 M120.5 448.6h0.8 M110.3 418.9h0.8 M103.2 422.7h0.8 M124.7 438.1h0.8 M113.3 420.9h0.8 M120.6 418.3h0.8 M127.0 427.4h0.8 M131.6 424.3h0.8 M120.5 458.6h0.8 M121.7 457.2h0.8 M109.8 425.6h0.8 M115.0 436.7h0.8 M116.4 423.1h0.8 M114.9 421.7h0.8 M117.9 448.7h0.8 M124.1 423.3h0.8 M118.8 422.7h0.8 M132.4 421.1h0.8 M119.4 437.8h0.8 M119.7 420.6h0.8 M119.4 425.9h0.8 M105.3 420.7h0.8 M122.4 457.3h0.8 M120.7 438.0h0.8 M112.7 433.5h0.8 M103.4 421.6h0.8 M111.9 454.0h0.8 M115.4 450.2h0.8 M119.2 438.6h0.8 M121.9 417.4h0.8 M128.5 416.9h0.8 M118.1 455.9h0.8 M103.7 430.9h0.8 M103.3 431.4h0.8 M119.5 459.3h0.8 M122.1 431.0h0.8 M122.5 450.1h0.8 M112.9 426.7h0.8 M120.9 419.3h0.8 M126.0 430.6h0.8 M121.2 453.6h0.8 M108.7 404.2h0.8 M115.1 455.2h0.8 M115.6 450.2h0.8 M114.1 454.2h0.8 M122.6 456.4h0.8 M104.0 431.8h0.8 M118.4 421.1h0.8 M112.5 431.5h0.8 M119.1 447.3h0.8 M121.2 449.1h0.8 M126.1 424.8h0.8 M116.8 437.1h0.8 M118.5 448.7h0.8 M120.0 438.7h0.8 M103.8 439.8h0.8 M104.2 434.4h0.8 M118.4 415.3h0.8 M129.5 418.4h0.8 M114.5 451.2h0.8 M123.5 449.8h0.8 M123.8 453.2h0.8 M112.7 433.1h0.8 M122.0 456.8h0.8 M123.2 450.2h0.8 M122.1 457.0h0.8 M117.3 469.2h0.8 M115.2 468.3h0.8 M125.6 442.9h0.8 M102.2 435.4h0.8 M115.2 422.5h0.8 M130.9 416.9h0.8 M113.3 465.2h0.8 M123.4 455.6h0.8 M118.0 459.6h0.8 M127.3 416.0h0.8 M122.2 432.5h0.8 M117.6 460.4h0.8 M112.9 431.8h0.8 M126.5 430.2h0.8 M119.5 427.1h0.8 M120.3 462.4h0.8 M124.5 443.4h0.8 M112.5 421.7h0.8 M126.2 426.3h0.8 M122.8 430.3h0.8 M112.3 429.0h0.8 M102.9 427.9h0.8 M113.3 423.8h0.8 M118.1 457.1h0.8 M118.7 458.0h0.8 M122.3 449.9h0.8 M104.2 427.5h0.8 M129.7 417.4h0.8 M126.7 424.5h0.8 M104.3 426.0h0.8 M124.1 454.6h0.8 M126.2 416.1h0.8 M110.4 454.4h0.8 M123.3 454.9h0.8 M123.7 416.8h0.8 M122.3 450.6h0.8 M126.7 430.1h0.8 M115.3 425.5h0.8 M115.7 455.3h0.8 M108.9 448.3h0.8 M123.8 440.4h0.8 M119.0 420.0h0.8 M105.9 444.8h0.8 M110.8 451.5h0.8 M111.4 417.7h0.8 M120.5 458.2h0.8 M114.3 453.5h0.8 M115.7 422.3h0.8 M121.8 428.5h0.8 M111.8 428.8h0.8 M117.3 455.7h0.8 M107.9 419.2h0.8 M126.8 431.0h0.8 M113.2 455.1h0.8 M126.5 416.0h0.8 M105.7 441.1h0.8 M124.0 439.5h0.8 M104.6 437.8h0.8 M124.7 416.6h0.8 M119.7 421.9h0.8 M110.0 453.3h0.8 M121.0 429.1h0.8 M113.8 451.0h0.8 M122.3 417.3h0.8 M120.6 413.4h0.8 M110.7 417.2h0.8 M123.6 457.5h0.8 M119.9 423.5h0.8 M119.0 427.8h0.8 M104.0 437.3h0.8 M120.6 448.9h0.8 M123.4 415.3h0.8 M125.1 458.9h0.8 M131.7 425.9h0.8 M130.2 418.8h0.8 M114.0 439.5h0.8 M129.1 414.0h0.8 M114.5 449.2h0.8 M110.1 417.8h0.8 M123.8 455.2h0.8 M122.5 450.0h0.8 M106.3 422.0h0.8 M115.7 457.2h0.8 M117.3 456.0h0.8 M124.5 453.3h0.8 M114.1 423.3h0.8 M124.9 432.2h0.8 M116.9 437.7h0.8 M113.4 417.2h0.8 M120.8 448.4h0.8 M119.4 458.1h0.8 M123.1 413.0h0.8 M126.9 429.3h0.8 M114.0 452.8h0.8 M125.8 441.7h0.8 M116.0 436.4h0.8 M124.1 415.5h0.8 M128.3 430.4h0.8 M104.2 431.9h0.8 M127.8 415.9h0.8 M114.9 449.3h0.8 M111.6 448.9h0.8 M118.5 461.6h0.8 M120.2 416.6h0.8 M126.2 441.5h0.8 M116.7 458.7h0.8 M110.2 437.6h0.8 M121.9 458.4h0.8 M126.7 430.6h0.8 M119.6 447.1h0.8 M104.3 434.4h0.8 M108.6 425.1h0.8 M122.7 456.6h0.8 M118.8 437.8h0.8 M126.5 430.9h0.8 M120.3 421.3h0.8 M122.9 417.6h0.8 M119.0 424.2h0.8 M114.2 453.7h0.8 M121.4 438.6h0.8 M123.9 434.8h0.8 M114.7 451.2h0.8 M126.2 427.1h0.8 M119.9 421.2h0.8 M123.7 453.5h0.8 M127.7 417.4h0.8 M114.9 456.3h0.8 M127.2 426.1h0.8 M119.0 457.9h0.8 M120.1 457.5h0.8 M121.0 418.0h0.8 M124.3 431.6h0.8 M119.1 437.8h0.8 M104.5 434.4h0.8 M112.7 454.3h0.8 M126.7 430.4h0.8 M125.7 457.7h0.8 M123.9 438.1h0.8 M119.6 426.7h0.8 M120.6 445.5h0.8 M116.0 420.9h0.8 M110.6 418.5h0.8 M124.3 437.2h0.8 M103.5 425.8h0.8 M122.5 448.9h0.8 M124.5 435.3h0.8 M114.4 455.2h0.8 M114.7 450.1h0.8 M113.2 428.5h0.8 M126.0 426.5h0.8 M116.7 457.5h0.8 M124.0 452.9h0.8 M109.1 418.3h0.8 M114.5 417.3h0.8 M112.8 429.3h0.8 M117.9 421.5h0.8 M119.9 425.4h0.8 M131.5 421.8h0.8 M112.8 426.9h0.8 M121.9 449.6h0.8 M121.7 422.1h0.8 M126.8 425.9h0.8 M130.0 428.0h0.8 M124.4 454.3h0.8 M126.5 429.3h0.8 M129.9 418.5h0.8 M115.0 457.1h0.8 M130.6 414.9h0.8 M105.8 419.1h0.8 M124.3 454.6h0.8 M131.2 420.9h0.8 M117.1 422.0h0.8 M129.5 418.6h0.8 M120.3 426.5h0.8 M118.2 457.9h0.8 M119.5 458.0h0.8 M133.0 431.8h0.8 M116.3 421.9h0.8 M115.1 450.4h0.8 M114.4 436.8h0.8 M124.0 430.4h0.8 M124.4 437.3h0.8 M114.3 455.8h0.8 M113.0 427.6h0.8 M131.4 424.1h0.8 M132.1 422.9h0.8 M105.6 443.9h0.8 M114.3 453.1h0.8 M123.6 431.5h0.8 M105.2 424.0h0.8 M126.9 433.7h0.8 M104.2 437.7h0.8 M115.2 457.2h0.8 M130.4 430.2h0.8 M121.5 415.5h0.8 M112.7 433.6h0.8 M132.0 414.4h0.8 M126.8 436.8h0.8 M117.3 438.5h0.8 M126.3 433.4h0.8 M123.8 430.7h0.8 M102.8 428.2h0.8 M104.6 433.2h0.8 M122.4 421.7h0.8 M108.9 450.9h0.8 M113.1 434.6h0.8 M122.2 457.9h0.8 M113.3 435.0h0.8 M114.1 435.4h0.8 M118.1 457.6h0.8 M121.0 459.8h0.8 M104.1 431.8h0.8 M114.5 434.7h0.8 M131.0 427.1h0.8 M116.0 456.9h0.8 M123.2 436.6h0.8 M120.5 427.7h0.8 M120.4 430.8h0.8 M118.5 448.3h0.8 M127.2 430.3h0.8 M128.7 417.7h0.8 M116.4 438.9h0.8 M123.9 423.6h0.8 M128.8 413.8h0.8 M120.9 427.3h0.8 M113.9 420.4h0.8 M129.0 428.8h0.8 M124.0 454.7h0.8 M120.9 424.6h0.8 M104.2 430.6h0.8 M113.6 456.2h0.8 M105.2 425.4h0.8 M113.6 416.7h0.8 M106.9 423.6h0.8 M108.1 418.1h0.8 M109.1 419.7h0.8 M146.8 410.7h0.8 M125.8 414.5h0.8 M124.9 415.4h0.8 M135.0 412.2h0.8 M140.3 410.1h0.8 M108.1 422.7h0.8 M120.5 414.8h0.8 M124.4 415.1h0.8 M138.5 412.0h0.8 M145.4 410.1h0.8 M106.9 420.9h0.8 M140.5 411.5h0.8 M124.3 414.5h0.8 M144.8 410.8h0.8 M148.6 409.5h0.8 M146.0 409.8h0.8 M110.8 418.6h0.8 M137.0 413.5h0.8 M131.4 414.8h0.8 M119.8 416.6h0.8 M119.5 415.4h0.8 M126.9 412.4h0.8 M128.7 415.3h0.8 M103.5 424.9h0.8 M128.0 413.6h0.8 M126.5 414.3h0.8 M132.2 413.7h0.8 M150.6 409.0h0.8 M113.7 416.1h0.8 M121.4 413.4h0.8 M147.3 409.5h0.8 M118.7 414.7h0.8 M130.7 414.4h0.8 M150.8 409.7h0.8 M104.7 424.3h0.8 M122.9 415.1h0.8 M105.0 424.0h0.8 M148.5 408.9h0.8 M107.5 421.3h0.8 M118.7 416.4h0.8 M110.2 417.5h0.8 M145.9 411.0h0.8 M115.7 418.9h0.8 M116.7 416.3h0.8 M142.6 412.2h0.8 M147.0 411.0h0.8 M120.0 416.2h0.8 M131.7 413.4h0.8 M116.0 415.5h0.8 M104.4 426.8h0.8 M143.8 410.2h0.8 M124.6 415.2h0.8 M106.9 420.8h0.8 M124.9 414.6h0.8 M113.0 418.5h0.8 M117.9 416.0h0.8 M147.3 409.6h0.8 M105.3 424.2h0.8 M129.5 413.8h0.8 M114.7 418.5h0.8 M114.3 418.6h0.8 M113.1 416.5h0.8 M146.9 409.3h0.8 M113.2 418.0h0.8 M125.6 414.5h0.8 M104.7 427.2h0.8 M144.7 411.1h0.8 M145.3 411.3h0.8 M110.2 417.9h0.8 M109.4 417.9h0.8 M136.4 411.8h0.8 M116.4 416.4h0.8 M128.2 414.5h0.8 M146.6 409.3h0.8 M147.5 410.4h0.8 M104.3 424.9h0.8 M132.2 414.4h0.8 M110.2 417.8h0.8 M126.4 415.3h0.8 M126.2 414.6h0.8 M109.8 417.1h0.8 M142.5 410.8h0.8 M109.8 417.4h0.8 M105.6 423.2h0.8 M149.9 409.5h0.8 M105.5 425.1h0.8 M148.2 409.8h0.8 M120.6 415.9h0.8 M148.5 409.2h0.8 M131.3 411.8h0.8 M149.9 410.3h0.8 M148.0 411.4h0.8 M121.4 414.6h0.8 M122.5 416.0h0.8 M126.1 415.5h0.8 M149.7 409.5h0.8 M134.5 411.2h0.8 M132.4 412.4h0.8 M108.7 421.9h0.8 M132.7 412.9h0.8 M150.0 410.1h0.8 M145.2 410.2h0.8 M107.1 421.4h0.8 M148.1 411.3h0.8 M142.2 413.0h0.8 M116.8 415.9h0.8 M108.7 417.1h0.8 M109.0 420.5h0.8 M125.4 413.6h0.8 M143.4 410.4h0.8 M110.0 420.3h0.8 M122.2 413.8h0.8 M131.0 412.8h0.8 M106.2 421.8h0.8 M107.7 422.9h0.8 M134.7 412.4h0.8 M113.9 417.9h0.8 M149.4 409.6h0.8 M124.2 414.4h0.8 M127.9 414.6h0.8 M108.5 418.9h0.8 M149.1 410.0h0.8 M105.9 422.5h0.8 M104.9 424.7h0.8 M146.4 410.7h0.8 M114.6 416.8h0.8 M123.4 416.0h0.8 M146.2 409.6h0.8 M144.6 411.5h0.8 M141.7 411.4h0.8 M149.0 409.9h0.8 M108.1 422.5h0.8 M108.8 422.3h0.8 M151.4 409.3h0.8 M109.2 419.9h0.8 M109.2 419.4h0.8 M107.7 422.8h0.8 M147.7 410.8h0.8 M150.2 410.0h0.8 M117.5 416.5h0.8 M145.9 411.3h0.8 M106.7 422.8h0.8 M144.5 412.1h0.8 M144.7 411.9h0.8 M104.6 424.9h0.8 M148.6 410.0h0.8 M109.9 418.4h0.8 M133.6 412.2h0.8 M135.8 411.6h0.8 M126.6 415.3h0.8 M148.5 408.8h0.8 M145.2 411.3h0.8 M116.6 417.8h0.8 M137.5 411.6h0.8 M106.5 422.7h0.8 M132.3 411.7h0.8 M121.0 414.1h0.8 M133.3 413.7h0.8 M108.7 422.7h0.8 M133.3 414.3h0.8 M128.7 413.1h0.8 M147.2 410.3h0.8 M147.2 409.9h0.8 M126.8 412.4h0.8 M123.1 413.9h0.8 M134.7 412.6h0.8 M109.3 419.5h0.8 M150.9 407.8h0.8 M123.8 414.6h0.8 M149.0 409.4h0.8 M139.9 411.9h0.8 M146.4 409.5h0.8 M117.9 415.1h0.8 M145.5 410.5h0.8 M107.9 421.8h0.8 M106.9 422.1h0.8 M130.1 413.7h0.8 M124.8 415.2h0.8 M141.0 413.2h0.8 M147.2 409.4h0.8 M146.5 409.9h0.8 M129.1 414.0h0.8 M117.8 415.7h0.8 M126.5 413.2h0.8 M131.8 413.5h0.8 M114.9 416.4h0.8 M106.6 419.5h0.8 M103.1 425.6h0.8 M140.3 411.7h0.8 M106.2 423.7h0.8 M146.1 409.6h0.8 M118.5 415.6h0.8 M105.6 422.6h0.8 M123.5 415.7h0.8 M140.1 411.5h0.8 M107.2 421.5h0.8 M149.5 408.6h0.8 M113.7 416.7h0.8 M138.7 409.1h0.8 M110.6 417.7h0.8 M108.3 421.2h0.8 M149.5 409.5h0.8 M132.0 412.2h0.8 M150.6 411.3h0.8 M104.2 423.9h0.8 M138.8 411.1h0.8 M148.9 411.3h0.8 M104.3 425.8h0.8 M107.3 424.4h0.8 M149.2 409.0h0.8 M109.2 418.6h0.8 M134.4 411.4h0.8 M132.4 414.2h0.8 M105.0 423.6h0.8 M105.2 423.6h0.8 M148.6 410.7h0.8 M117.1 416.0h0.8 M104.7 422.9h0.8 M114.0 416.7h0.8 M127.8 414.8h0.8 M126.5 412.4h0.8 M107.2 419.1h0.8 M125.9 414.1h0.8 M104.9 423.4h0.8 M106.8 425.2h0.8 M132.0 413.0h0.8 M144.1 410.6h0.8 M138.8 410.9h0.8 M105.8 423.8h0.8 M148.0 411.0h0.8 M147.3 409.3h0.8 M148.7 409.1h0.8 M105.3 425.0h0.8 M112.8 417.8h0.8 M143.0 411.2h0.8 M104.7 423.7h0.8 M145.9 412.2h0.8 M134.4 412.6h0.8 M126.5 414.3h0.8 M105.5 424.3h0.8 M135.7 412.2h0.8 M116.9 416.4h0.8 M138.8 410.7h0.8 M136.2 412.5h0.8 M131.3 411.8h0.8 M136.8 412.0h0.8 M114.3 417.4h0.8 M107.9 420.2h0.8 M122.4 415.4h0.8 M115.4 417.4h0.8 M119.9 416.8h0.8 M126.6 413.6h0.8 M149.0 409.8h0.8 M141.5 411.8h0.8 M138.6 413.1h0.8 M107.4 422.0h0.8 M147.1 410.1h0.8 M107.1 422.7h0.8 M115.6 417.1h0.8 M148.0 410.3h0.8 M107.5 420.7h0.8 M147.9 411.4h0.8 M117.6 416.7h0.8 M145.4 409.9h0.8 M135.8 412.2h0.8 M147.4 410.9h0.8 M111.7 417.4h0.8 M136.9 412.6h0.8 M150.2 409.2h0.8 M121.3 416.4h0.8 M128.3 412.2h0.8 M130.9 414.4h0.8 M135.7 413.0h0.8 M105.4 424.1h0.8 M131.5 412.4h0.8 M131.6 412.2h0.8 M107.3 421.7h0.8 M127.3 413.9h0.8 M143.4 408.9h0.8 M114.4 417.7h0.8 M147.5 412.1h0.8 M121.3 414.7h0.8 M123.6 415.5h0.8 M140.7 411.5h0.8 M104.5 424.8h0.8 M113.8 417.1h0.8 M116.5 415.7h0.8 M124.3 415.9h0.8 M107.9 419.1h0.8 M110.3 419.6h0.8 M147.9 410.2h0.8 M151.5 409.8h0.8 M113.6 418.5h0.8 M125.7 415.7h0.8 M116.4 416.7h0.8 M135.9 412.8h0.8 M106.2 423.2h0.8 M113.2 417.5h0.8 M106.4 420.2h0.8 M152.1 410.3h0.8 M147.6 411.0h0.8 M128.2 413.2h0.8 M114.5 417.7h0.8 M111.8 416.6h0.8 M137.8 411.7h0.8 M149.0 411.0h0.8 M149.1 411.8h0.8 M137.3 411.5h0.8 M141.8 411.5h0.8 M137.3 413.1h0.8 M116.2 415.2h0.8 M124.9 412.5h0.8 M117.3 415.6h0.8 M108.6 421.9h0.8 M106.9 422.1h0.8 M107.6 419.1h0.8 M117.9 417.8h0.8 M128.0 415.0h0.8 M125.8 415.3h0.8 M108.3 420.1h0.8 M138.3 411.1h0.8 M147.6 408.7h0.8 M129.1 414.1h0.8 M103.8 424.7h0.8 M148.4 409.5h0.8 M146.2 411.5h0.8 M131.6 413.2h0.8 M132.7 412.5h0.8 M148.6 409.2h0.8 M148.9 410.5h0.8 M106.7 420.0h0.8 M118.7 415.7h0.8 M147.3 410.4h0.8 M128.8 414.7h0.8 M108.7 419.7h0.8 M150.2 410.3h0.8 M114.1 417.8h0.8 M133.7 413.2h0.8 M148.7 407.8h0.8 M117.6 415.8h0.8 M134.9 412.6h0.8 M144.8 410.7h0.8 M118.5 416.0h0.8 M118.2 416.6h0.8 M149.8 409.0h0.8 M142.8 411.3h0.8 M130.8 413.0h0.8 M146.9 410.1h0.8 M108.9 419.2h0.8 M118.9 415.2h0.8 M130.2 414.9h0.8 M147.9 410.4h0.8 M107.0 422.5h0.8 M104.9 423.3h0.8 M108.7 420.3h0.8 M121.1 417.3h0.8 M110.2 417.6h0.8 M104.0 424.9h0.8 M110.3 418.2h0.8 M149.9 410.6h0.8 M147.4 409.9h0.8 M139.4 413.6h0.8 M134.0 412.9h0.8 M126.3 413.0h0.8 M124.5 413.7h0.8 M147.9 409.4h0.8 M106.8 422.3h0.8 M127.3 415.5h0.8 M110.4 419.5h0.8 M108.1 420.7h0.8 M148.1 410.5h0.8 M148.9 410.8h0.8 M126.2 414.8h0.8 M114.2 415.6h0.8 M150.0 407.2h0.8 M125.4 427.7h0.8 M122.5 424.3h0.8 M128.9 439.8h0.8 M129.8 451.9h0.8 M124.7 453.7h0.8 M129.6 451.3h0.8 M125.2 423.9h0.8 M124.1 455.6h0.8 M123.3 459.9h0.8 M129.0 447.0h0.8 M125.0 453.9h0.8 M127.3 455.7h0.8 M126.9 438.9h0.8 M127.5 453.9h0.8 M131.6 451.7h0.8 M127.4 425.5h0.8 M126.7 427.4h0.8 M127.7 452.5h0.8 M125.6 449.2h0.8 M127.4 451.0h0.8 M128.2 430.8h0.8 M125.7 429.5h0.8 M125.2 450.5h0.8 M121.8 420.5h0.8 M127.7 451.4h0.8 M127.0 436.7h0.8 M123.9 424.1h0.8 M126.6 456.4h0.8 M123.1 422.9h0.8 M126.9 433.3h0.8 M127.7 440.6h0.8 M128.8 437.0h0.8 M126.7 446.2h0.8 M128.7 422.7h0.8 M123.0 458.1h0.8 M128.8 438.6h0.8 M123.6 423.9h0.8 M125.9 458.3h0.8 M125.6 435.9h0.8 M123.0 424.2h0.8 M125.2 458.1h0.8 M128.7 450.2h0.8 M124.6 457.4h0.8 M128.7 435.6h0.8 M129.4 445.9h0.8 M126.2 448.7h0.8 M128.3 453.1h0.8 M125.8 439.8h0.8 M126.9 434.3h0.8 M130.3 440.6h0.8 M127.4 455.9h0.8 M128.4 439.5h0.8 M123.2 420.7h0.8 M126.8 453.3h0.8 M125.7 441.2h0.8 M128.2 442.1h0.8 M123.4 422.8h0.8 M124.7 428.8h0.8 M125.3 456.5h0.8 M128.9 438.4h0.8 M121.9 421.9h0.8 M129.2 432.7h0.8 M127.3 449.4h0.8 M125.9 455.4h0.8 M125.4 428.0h0.8 M123.2 424.9h0.8 M126.3 450.1h0.8 M126.7 432.8h0.8 M128.3 433.7h0.8 M129.0 445.8h0.8 M128.4 450.9h0.8 M119.9 421.3h0.8 M128.4 434.1h0.8 M129.9 427.3h0.8 M127.1 451.7h0.8 M121.3 420.4h0.8 M127.2 443.2h0.8 M126.7 429.3h0.8 M126.4 453.7h0.8 M120.2 418.1h0.8 M125.7 422.7h0.8 M123.4 458.4h0.8 M126.1 430.9h0.8 M122.8 421.4h0.8 M123.3 416.9h0.8 M121.1 459.0h0.8 M123.2 458.8h0.8 M128.0 432.9h0.8 M127.6 455.9h0.8 M128.6 441.2h0.8 M126.8 434.6h0.8 M125.0 426.4h0.8 M125.7 459.1h0.8 M129.3 433.2h0.8 M126.4 457.3h0.8 M123.3 459.0h0.8 M128.4 441.2h0.8 M126.3 430.1h0.8 M126.7 434.3h0.8 M125.0 424.8h0.8 M126.1 425.3h0.8 M127.0 429.6h0.8 M129.8 437.3h0.8 M123.8 425.4h0.8 M124.8 425.7h0.8 M127.1 441.2h0.8 M119.4 417.4h0.8 M128.7 436.2h0.8 M128.6 447.3h0.8 M126.9 430.7h0.8 M126.6 456.2h0.8 M127.5 432.4h0.8 M131.7 448.9h0.8 M127.0 433.6h0.8 M126.8 443.2h0.8 M122.3 421.3h0.8 M127.7 434.0h0.8 M130.3 439.2h0.8 M126.0 429.0h0.8 M124.3 435.4h0.8 M123.5 455.7h0.8 M127.7 458.1h0.8 M120.8 420.9h0.8 M128.5 446.0h0.8 M126.8 434.7h0.8 M123.8 423.6h0.8 M129.6 438.9h0.8 M128.3 454.4h0.8 M127.6 437.5h0.8 M121.4 419.1h0.8 M122.7 457.2h0.8 M129.0 435.2h0.8 M129.9 446.1h0.8 M127.5 445.3h0.8 M125.8 434.4h0.8 M129.2 448.3h0.8 M122.9 421.1h0.8 M125.4 436.3h0.8 M128.6 448.7h0.8 M122.9 424.1h0.8 M127.4 432.7h0.8 M125.3 428.5h0.8 M130.3 436.2h0.8 M128.2 456.7h0.8 M126.1 454.6h0.8 M124.0 445.2h0.8 M125.9 460.1h0.8 M125.5 457.2h0.8 M127.6 443.4h0.8 M127.7 434.7h0.8 M128.3 431.5h0.8 M129.5 445.5h0.8 M125.7 433.7h0.8 M127.9 441.4h0.8 M125.7 457.1h0.8 M131.3 447.6h0.8 M124.3 454.6h0.8 M128.5 440.9h0.8 M119.8 420.5h0.8 M128.0 453.8h0.8 M122.4 427.8h0.8 M125.0 423.7h0.8 M129.2 438.3h0.8 M126.6 433.1h0.8 M124.6 457.6h0.8 M123.6 456.5h0.8 M121.1 418.6h0.8 M124.8 457.6h0.8 M129.8 451.8h0.8 M124.8 454.9h0.8 M125.2 428.9h0.8 M120.7 417.5h0.8 M127.1 449.6h0.8 M123.1 459.4h0.8 M123.6 458.3h0.8 M125.8 457.8h0.8 M128.8 428.0h0.8 M128.9 446.5h0.8 M125.2 459.3h0.8 M128.9 441.0h0.8 M122.4 453.6h0.8 M125.7 452.8h0.8 M130.1 449.1h0.8 M129.2 453.2h0.8 M123.8 455.5h0.8 M127.3 449.5h0.8 M128.6 448.4h0.8 M126.1 427.0h0.8 M124.8 423.4h0.8 M126.5 441.9h0.8 M125.1 425.0h0.8 M126.7 453.9h0.8 M130.6 436.7h0.8 M128.2 435.6h0.8 M128.1 432.8h0.8 M122.2 454.8h0.8 M123.9 456.6h0.8 M127.5 442.7h0.8 M125.7 437.4h0.8 M128.6 434.4h0.8 M126.2 431.0h0.8 M127.5 432.1h0.8 M125.9 456.8h0.8 M124.7 453.6h0.8 M129.3 443.9h0.8 M126.4 456.6h0.8 M124.5 456.5h0.8 M124.9 426.2h0.8 M127.4 428.4h0.8 M132.3 442.5h0.8 M126.4 435.6h0.8 M126.6 434.9h0.8 M120.2 455.6h0.8 M128.4 435.4h0.8 M127.0 453.2h0.8 M127.0 455.9h0.8 M127.2 438.5h0.8 M125.4 456.6h0.8 M126.8 454.1h0.8 M125.4 422.2h0.8 M128.8 435.8h0.8 M126.3 450.0h0.8 M122.8 458.3h0.8 M129.9 431.7h0.8 M129.1 446.6h0.8 M123.6 421.1h0.8 M126.6 437.4h0.8 M122.5 461.3h0.8 M124.3 453.8h0.8 M128.2 443.5h0.8 M129.9 452.0h0.8 M125.4 426.0h0.8 M130.2 438.7h0.8 M127.6 451.6h0.8 M127.7 445.7h0.8 M127.8 424.8h0.8 M122.4 423.4h0.8 M126.2 430.8h0.8 M125.6 425.2h0.8 M122.8 425.8h0.8 M126.4 452.4h0.8 M128.9 448.8h0.8 M126.6 456.6h0.8 M127.8 434.8h0.8 M127.8 450.7h0.8 M127.2 435.9h0.8 M124.4 458.9h0.8 M125.6 425.3h0.8 M129.4 437.4h0.8 M124.6 454.3h0.8 M124.4 460.3h0.8 M122.5 423.2h0.8 M122.6 457.4h0.8 M127.5 445.5h0.8 M122.3 455.2h0.8 M128.3 435.1h0.8 M124.4 450.7h0.8 M121.0 455.5h0.8 M124.4 456.2h0.8 M127.2 437.3h0.8 M103.1 448.2h0.8 M104.9 452.9h0.8 M104.7 450.3h0.8 M102.0 445.8h0.8 M101.9 442.8h0.8 M104.2 441.4h0.8 M103.8 445.5h0.8 M105.0 443.7h0.8 M109.4 457.4h0.8 M107.4 456.8h0.8 M101.1 440.1h0.8 M103.4 436.6h0.8 M102.4 444.2h0.8 M103.4 442.9h0.8 M103.1 438.7h0.8 M104.0 455.3h0.8 M104.7 448.4h0.8 M102.0 444.2h0.8 M104.8 452.4h0.8 M107.7 456.5h0.8 M105.1 454.0h0.8 M103.8 450.7h0.8 M106.8 456.9h0.8 M108.4 455.2h0.8 M103.8 436.7h0.8 M102.2 448.3h0.8 M105.0 453.3h0.8 M103.4 446.0h0.8 M103.7 446.3h0.8 M103.1 439.1h0.8 M103.2 441.0h0.8 M102.9 438.6h0.8 M106.1 455.5h0.8 M102.8 442.9h0.8 M104.9 446.3h0.8 M106.3 455.2h0.8 M103.3 436.9h0.8 M106.7 453.5h0.8 M104.2 451.2h0.8 M103.1 439.4h0.8 M108.3 456.3h0.8 M107.8 457.0h0.8 M102.5 445.7h0.8 M104.0 447.9h0.8 M101.9 441.8h0.8 M104.8 449.1h0.8 M101.8 442.7h0.8 M102.7 441.9h0.8 M103.5 440.6h0.8 M107.1 457.3h0.8 M104.2 439.9h0.8 M103.7 446.5h0.8 M103.1 439.2h0.8 M105.9 449.8h0.8 M103.6 449.5h0.8 M103.8 441.6h0.8 M101.9 440.9h0.8 M104.1 450.6h0.8 M103.8 449.9h0.8 M104.2 448.9h0.8 M105.0 454.7h0.8 M103.3 439.7h0.8 M106.7 456.3h0.8 M105.4 453.6h0.8 M105.0 453.5h0.8 M103.5 438.1h0.8 M104.3 449.1h0.8 M104.9 440.0h0.8 M103.4 445.8h0.8 M104.5 451.0h0.8 M101.8 441.9h0.8 M105.4 454.6h0.8 M107.8 456.3h0.8 M105.1 455.0h0.8 M104.2 444.2h0.8 M105.3 454.4h0.8 M103.3 454.0h0.8 M102.3 435.3h0.8 M105.4 454.9h0.8 M105.2 452.7h0.8 M155.8 430.1h0.7 M132.0 436.9h0.7 M136.5 450.0h0.7 M125.4 440.9h0.7 M129.4 443.8h0.7 M155.6 424.2h0.7 M152.6 433.8h0.7 M156.4 454.2h0.7 M158.0 414.1h0.7 M133.9 439.3h0.7 M149.8 439.3h0.7 M154.5 419.8h0.7 M127.8 452.1h0.7 M145.0 440.8h0.7 M121.7 415.0h0.7 M124.2 413.6h0.7 M138.2 435.2h0.7 M131.1 419.3h0.7 M125.9 436.1h0.7 M152.3 426.2h0.7 M129.9 435.9h0.7 M149.2 426.0h0.7 M156.7 425.4h0.7 M145.9 440.1h0.7 M133.6 415.1h0.7 M134.3 433.3h0.7 M127.4 451.7h0.7 M120.4 424.8h0.7 M122.3 442.4h0.7 M122.5 446.3h0.7 M140.1 439.8h0.7 M153.7 419.1h0.7 M155.0 435.4h0.7 M139.1 448.5h0.7 M156.1 451.2h0.7 M140.6 457.5h0.7 M120.5 423.2h0.7 M130.7 436.8h0.7 M142.7 416.0h0.7 M131.7 443.6h0.7 M153.7 415.2h0.7 M126.2 454.4h0.7 M141.7 439.0h0.7 M119.4 415.5h0.7 M151.4 439.8h0.7 M158.4 435.7h0.7 M146.6 420.9h0.7 M148.7 451.1h0.7 M152.3 419.4h0.7 M145.8 422.8h0.7" stroke="#0a0a0a" stroke-width="0.85"/>
<ellipse cx="119.70" cy="429.90" rx="6.58" ry="7.78" fill="#d2d2d2" stroke="#2a2a2a" stroke-width="1.1" transform="rotate(0 119.70 429.90)"/>
<ellipse cx="113.78" cy="437.67" rx="8.22" ry="18.14" fill="#d2d2d2" stroke="#2a2a2a" stroke-width="1.1" transform="rotate(-14 113.78 437.67)"/>
<ellipse cx="125.62" cy="423.42" rx="5.59" ry="6.48" fill="#d2d2d2" stroke="#2a2a2a" stroke-width="1.1" transform="rotate(0 125.62 423.42)"/>
<ellipse cx="119.04" cy="453.22" rx="4.61" ry="4.54" fill="#d2d2d2" stroke="#2a2a2a" stroke-width="1.1" transform="rotate(0 119.04 453.22)"/>
<ellipse cx="119.70" cy="429.90" rx="6.58" ry="7.78" fill="#d2d2d2" transform="rotate(0 119.70 429.90)"/>
<ellipse cx="113.78" cy="437.67" rx="8.22" ry="18.14" fill="#d2d2d2" transform="rotate(-14 113.78 437.67)"/>
<ellipse cx="125.62" cy="423.42" rx="5.59" ry="6.48" fill="#d2d2d2" transform="rotate(0 125.62 423.42)"/>
<ellipse cx="119.04" cy="453.22" rx="4.61" ry="4.54" fill="#d2d2d2" transform="rotate(0 119.04 453.22)"/>
<ellipse cx="113.78" cy="437.67" rx="6.74" ry="14.88" fill="#e2e2e2" stroke="#7a7a7a" stroke-width="0.5" transform="rotate(-14 113.78 437.67)"/>
<ellipse cx="113.78" cy="437.67" rx="5.10" ry="11.25" fill="#c4c4c4" stroke="#7a7a7a" stroke-width="0.5" transform="rotate(-14 113.78 437.67)"/>
<ellipse cx="113.78" cy="437.67" rx="3.45" ry="7.62" fill="#ededed" stroke="#7a7a7a" stroke-width="0.5" transform="rotate(-14 113.78 437.67)"/>
<ellipse cx="113.78" cy="437.67" rx="1.81" ry="3.99" fill="#cfcfcf" stroke="#7a7a7a" stroke-width="0.5" transform="rotate(-14 113.78 437.67)"/>
<ellipse cx="125.62" cy="423.42" rx="4.59" ry="5.31" fill="#e2e2e2" stroke="#7a7a7a" stroke-width="0.5" transform="rotate(0 125.62 423.42)"/>
<ellipse cx="125.62" cy="423.42" rx="3.47" ry="4.02" fill="#c4c4c4" stroke="#7a7a7a" stroke-width="0.5" transform="rotate(0 125.62 423.42)"/>
<ellipse cx="125.62" cy="423.42" rx="2.35" ry="2.72" fill="#ededed" stroke="#7a7a7a" stroke-width="0.5" transform="rotate(0 125.62 423.42)"/>
<ellipse cx="125.62" cy="423.42" rx="1.23" ry="1.43" fill="#cfcfcf" stroke="#7a7a7a" stroke-width="0.5" transform="rotate(0 125.62 423.42)"/>
</g>
<rect x="99.30" y="396.20" width="65.80" height="64.80" fill="none" stroke="#bdbdbd" stroke-width="0.7"/>
<path d="M99.3 411.8 L109.8 411.8 M111.1 411.1 L120.8 420.8 M121.3 407.0 L157.9 408.5 L137.9 439.4 L128.9 461.0 M121.3 407.0 L139.4 438.6 M99.3 439.4 L119.0 439.4 " fill="none" stroke="#4a4a4a" stroke-width="0.55" />
<text x="104.30" y="403.20" font-size="3.8" fill="#d2334a" stroke="#d2334a" stroke-width="0.06" >IV</text>
<text x="102.80" y="408.20" font-size="3.8" fill="#d2334a" stroke="#d2334a" stroke-width="0.06" >40.1</text>
<text x="115.30" y="402.20" font-size="3.8" fill="#d2334a" stroke="#d2334a" stroke-width="0.06" >III</text>
<text x="113.80" y="407.20" font-size="3.8" fill="#d2334a" stroke="#d2334a" stroke-width="0.06" >22.8</text>
<text x="129.30" y="401.20" font-size="3.8" fill="#d2334a" stroke="#d2334a" stroke-width="0.06" >II</text>
<text x="127.80" y="406.20" font-size="3.8" fill="#d2334a" stroke="#d2334a" stroke-width="0.06" >6.76</text>
<text x="136.30" y="451.00" font-size="3.8" fill="#d2334a" stroke="#d2334a" stroke-width="0.06" >V</text>
<text x="134.30" y="456.00" font-size="3.8" fill="#d2334a" stroke="#d2334a" stroke-width="0.06" >22.6</text>
<clipPath id="cp11"><rect x="178.70" y="396.20" width="64.90" height="64.80"/></clipPath>
<g clip-path="url(#cp11)">
<path d="M218.4 427.4h0.8 M198.0 424.6h0.8 M212.7 408.0h0.8 M200.0 421.5h0.8 M210.8 417.9h0.8 M205.3 441.2h0.8 M217.9 436.1h0.8 M217.0 434.5h0.8 M224.6 422.9h0.8 M180.8 443.0h0.8 M195.1 455.6h0.8 M209.8 412.0h0.8 M198.3 449.6h0.8 M200.1 421.3h0.8 M197.8 453.3h0.8 M206.1 435.9h0.8 M194.5 455.2h0.8 M225.0 418.2h0.8 M193.4 410.0h0.8 M192.9 455.9h0.8 M214.6 427.1h0.8 M185.9 434.3h0.8 M209.2 445.9h0.8 M184.6 426.6h0.8 M199.9 414.9h0.8 M211.6 417.9h0.8 M199.6 450.5h0.8 M212.7 423.3h0.8 M205.7 441.7h0.8 M194.1 408.9h0.8 M209.0 445.4h0.8 M200.4 416.8h0.8 M211.9 419.8h0.8 M191.4 407.5h0.8 M194.3 426.4h0.8 M224.8 425.1h0.8 M226.1 414.6h0.8 M205.8 411.3h0.8 M197.4 452.6h0.8 M200.3 414.6h0.8 M201.1 425.1h0.8 M215.5 430.3h0.8 M218.0 408.2h0.8 M200.2 440.7h0.8 M196.5 453.8h0.8 M199.7 429.9h0.8 M195.1 427.1h0.8 M205.4 455.0h0.8 M209.0 444.7h0.8 M210.5 419.7h0.8 M187.5 455.7h0.8 M220.0 432.7h0.8 M189.4 410.3h0.8 M199.8 454.3h0.8 M211.1 413.0h0.8 M209.7 427.1h0.8 M189.3 439.4h0.8 M215.8 433.7h0.8 M199.9 456.4h0.8 M200.8 416.0h0.8 M220.3 426.2h0.8 M203.1 438.0h0.8 M219.0 408.4h0.8 M188.3 456.4h0.8 M194.0 438.8h0.8 M210.6 411.8h0.8 M224.1 412.8h0.8 M195.8 434.9h0.8 M199.5 440.0h0.8 M206.3 438.9h0.8 M208.2 444.1h0.8 M192.3 404.0h0.8 M217.2 435.8h0.8 M195.6 440.6h0.8 M197.8 420.1h0.8 M191.8 441.1h0.8 M192.6 428.3h0.8 M184.0 448.8h0.8 M223.2 409.5h0.8 M211.8 424.7h0.8 M217.3 432.7h0.8 M208.0 415.6h0.8 M209.5 428.0h0.8 M206.5 427.6h0.8 M201.7 426.8h0.8 M209.2 446.0h0.8 M188.6 430.5h0.8 M216.1 406.7h0.8 M195.4 440.0h0.8 M215.8 418.6h0.8 M210.0 432.1h0.8 M210.3 412.8h0.8 M211.7 422.3h0.8 M216.1 406.5h0.8 M213.6 430.4h0.8 M186.6 455.3h0.8 M218.6 427.7h0.8 M215.5 406.9h0.8 M225.7 415.6h0.8 M198.5 420.2h0.8 M190.4 457.6h0.8 M212.9 419.2h0.8 M208.3 442.2h0.8 M199.8 416.1h0.8 M201.7 433.0h0.8 M227.0 419.1h0.8 M197.3 453.0h0.8 M225.1 415.6h0.8 M212.1 428.0h0.8 M195.0 437.3h0.8 M215.5 407.3h0.8 M199.9 417.7h0.8 M207.7 443.8h0.8 M183.8 446.5h0.8 M195.5 441.7h0.8 M216.5 428.3h0.8 M212.1 409.0h0.8 M223.7 424.9h0.8 M199.2 428.3h0.8 M199.3 427.6h0.8 M204.3 426.8h0.8 M184.7 448.6h0.8 M186.9 432.6h0.8 M211.6 419.1h0.8 M193.1 409.5h0.8 M191.8 437.2h0.8 M181.9 446.6h0.8 M208.4 450.7h0.8 M212.7 425.6h0.8 M184.8 450.4h0.8 M185.6 453.4h0.8 M199.4 425.4h0.8 M188.7 440.7h0.8 M207.5 413.0h0.8 M198.1 452.3h0.8 M202.9 414.0h0.8 M207.3 453.5h0.8 M195.5 454.4h0.8 M184.4 446.2h0.8 M196.8 409.0h0.8 M190.8 437.1h0.8 M205.4 411.2h0.8 M223.9 432.8h0.8 M200.6 432.2h0.8 M211.7 425.9h0.8 M186.0 441.4h0.8 M189.0 455.5h0.8 M205.8 433.2h0.8 M207.7 443.3h0.8 M185.2 427.8h0.8 M211.9 423.3h0.8 M220.9 427.1h0.8 M201.2 413.6h0.8 M197.4 412.4h0.8 M224.4 408.2h0.8 M208.6 443.2h0.8 M211.6 403.0h0.8 M207.5 454.7h0.8 M198.0 432.4h0.8 M196.3 437.6h0.8 M194.8 451.1h0.8 M196.6 454.1h0.8 M205.4 455.0h0.8 M186.3 432.9h0.8 M200.5 427.6h0.8 M215.2 406.3h0.8 M210.1 412.1h0.8 M193.2 462.5h0.8 M198.8 414.1h0.8 M202.3 455.9h0.8 M182.2 417.6h0.8 M187.6 439.2h0.8 M199.8 420.3h0.8 M194.4 455.3h0.8 M196.9 446.6h0.8 M193.8 457.6h0.8 M194.7 439.9h0.8 M212.7 428.5h0.8 M211.2 442.5h0.8 M205.7 413.2h0.8 M197.0 443.9h0.8 M208.1 452.6h0.8 M217.0 417.7h0.8 M193.0 443.7h0.8 M210.3 416.9h0.8 M213.7 441.4h0.8 M193.9 444.1h0.8 M222.1 410.4h0.8 M186.5 415.0h0.8 M207.3 439.9h0.8 M201.1 428.3h0.8 M209.6 415.1h0.8 M199.0 417.0h0.8 M212.0 422.7h0.8 M218.1 426.8h0.8 M199.4 428.0h0.8 M188.1 439.4h0.8 M195.3 437.7h0.8 M190.4 436.8h0.8 M207.1 454.9h0.8 M196.0 441.4h0.8 M215.2 439.9h0.8 M187.5 454.7h0.8 M215.1 426.5h0.8 M206.3 454.1h0.8 M225.0 419.7h0.8 M193.2 409.4h0.8 M209.8 410.4h0.8 M223.6 438.2h0.8 M187.0 436.5h0.8 M217.3 407.6h0.8 M209.7 414.0h0.8 M224.6 424.4h0.8 M210.6 438.2h0.8 M198.9 421.8h0.8 M205.3 442.7h0.8 M207.8 414.7h0.8 M199.7 422.3h0.8 M197.0 451.0h0.8 M184.3 448.2h0.8 M224.9 415.3h0.8 M194.1 410.4h0.8 M196.8 452.6h0.8 M210.8 408.6h0.8 M212.5 440.9h0.8 M185.3 446.0h0.8 M185.2 420.7h0.8 M185.7 438.9h0.8 M225.4 418.9h0.8 M199.8 418.8h0.8 M199.7 431.5h0.8 M221.3 426.7h0.8 M205.3 409.4h0.8 M193.0 409.9h0.8 M198.8 451.4h0.8 M213.1 426.6h0.8 M194.9 441.1h0.8 M196.9 434.1h0.8 M225.7 424.3h0.8 M206.2 444.0h0.8 M203.1 435.3h0.8 M198.2 444.5h0.8 M198.0 437.2h0.8 M216.3 407.9h0.8 M196.0 427.9h0.8 M195.5 434.2h0.8 M222.6 425.8h0.8 M214.2 422.9h0.8 M214.0 425.8h0.8 M221.8 430.6h0.8 M200.1 441.4h0.8 M219.5 408.3h0.8 M199.5 429.0h0.8 M193.2 410.0h0.8 M192.6 446.8h0.8 M199.6 443.6h0.8 M212.9 420.7h0.8 M197.0 451.1h0.8 M208.2 442.8h0.8 M211.2 417.0h0.8 M193.8 455.4h0.8 M184.9 412.8h0.8 M185.0 447.8h0.8 M185.4 437.3h0.8 M215.6 407.9h0.8 M197.5 420.2h0.8 M184.8 452.1h0.8 M200.5 431.4h0.8 M208.0 443.0h0.8 M224.4 412.6h0.8 M198.7 426.9h0.8 M193.0 444.8h0.8 M199.4 420.8h0.8 M206.8 413.2h0.8 M203.9 413.6h0.8 M230.0 416.2h0.8 M213.2 410.0h0.8 M198.1 453.5h0.8 M213.9 427.1h0.8 M200.0 454.6h0.8 M222.0 407.5h0.8 M181.7 427.2h0.8 M220.5 427.0h0.8 M191.3 410.0h0.8 M190.4 437.5h0.8 M199.1 418.7h0.8 M197.8 452.1h0.8 M215.2 430.9h0.8 M184.8 422.1h0.8 M187.4 439.4h0.8 M198.9 414.8h0.8 M199.1 442.1h0.8 M213.4 427.4h0.8 M193.1 442.3h0.8 M218.1 432.4h0.8 M209.0 422.4h0.8 M196.7 442.0h0.8 M200.0 421.7h0.8 M209.1 418.7h0.8 M208.9 442.4h0.8 M200.3 416.0h0.8 M198.2 448.6h0.8 M200.3 443.6h0.8 M194.2 442.5h0.8 M197.8 451.5h0.8 M203.8 413.5h0.8 M202.7 460.5h0.8 M192.2 439.2h0.8 M186.4 435.0h0.8 M184.0 444.0h0.8 M183.2 435.2h0.8 M211.1 450.5h0.8 M193.0 438.8h0.8 M205.4 441.6h0.8 M204.9 411.2h0.8 M203.7 456.2h0.8 M220.0 408.9h0.8 M210.9 429.6h0.8 M207.9 451.5h0.8 M205.1 437.9h0.8 M188.5 456.3h0.8 M195.5 416.2h0.8 M225.3 415.7h0.8 M215.7 407.4h0.8 M180.1 429.7h0.8 M199.5 429.9h0.8 M196.7 450.9h0.8 M214.0 425.5h0.8 M207.6 442.3h0.8 M191.7 439.5h0.8 M199.3 458.2h0.8 M207.6 444.2h0.8 M196.7 446.7h0.8 M207.2 441.6h0.8 M196.6 417.9h0.8 M209.1 415.5h0.8 M205.9 435.2h0.8 M194.4 456.0h0.8 M201.3 432.8h0.8 M213.7 426.3h0.8 M208.7 412.4h0.8 M222.4 426.2h0.8 M189.9 410.6h0.8 M184.1 432.3h0.8 M210.1 415.2h0.8 M187.0 434.3h0.8 M203.3 434.1h0.8 M198.1 445.7h0.8 M216.5 427.2h0.8 M198.4 441.1h0.8 M180.1 433.7h0.8 M182.0 418.5h0.8 M182.8 415.6h0.8 M181.0 446.1h0.8 M181.6 442.8h0.8 M179.4 427.3h0.8 M181.9 447.3h0.8 M181.3 426.0h0.8 M181.8 433.8h0.8 M181.3 443.4h0.8 M183.4 419.8h0.8 M182.9 441.6h0.8 M178.4 443.2h0.8 M184.1 448.7h0.8 M181.9 424.0h0.8 M181.6 420.3h0.8 M181.0 425.3h0.8 M179.3 420.4h0.8 M179.3 429.2h0.8 M180.0 457.1h0.8 M180.6 420.7h0.8 M182.1 415.2h0.8 M180.0 427.6h0.8 M179.2 415.1h0.8 M180.1 416.6h0.8 M182.5 427.6h0.8 M182.0 447.9h0.8 M182.1 436.8h0.8 M179.9 420.7h0.8 M181.3 446.2h0.8 M183.1 439.1h0.8 M178.9 419.2h0.8 M180.5 418.9h0.8 M180.3 435.4h0.8 M182.2 451.3h0.8 M183.1 458.2h0.8 M180.3 455.5h0.8 M179.8 431.5h0.8 M183.0 448.2h0.8 M179.3 413.8h0.8 M181.0 459.5h0.8 M178.9 429.3h0.8 M183.2 415.3h0.8 M183.6 441.6h0.8 M182.1 432.6h0.8 M180.4 451.7h0.8 M183.7 427.4h0.8 M182.7 416.3h0.8 M182.8 451.2h0.8 M180.8 431.2h0.8 M179.5 436.1h0.8 M180.3 447.7h0.8 M179.9 451.3h0.8 M181.6 446.3h0.8 M183.2 440.4h0.8 M181.7 423.0h0.8 M180.8 428.6h0.8 M181.2 446.5h0.8 M182.3 416.4h0.8 M181.2 422.9h0.8 M180.6 423.4h0.8 M178.7 434.4h0.8 M182.7 445.8h0.8 M180.6 416.7h0.8 M182.4 430.1h0.8 M183.8 444.1h0.8 M180.8 429.3h0.8 M182.6 447.3h0.8 M181.1 429.9h0.8 M180.6 420.0h0.8 M179.6 447.7h0.8 M181.8 425.3h0.8 M182.0 456.8h0.8 M180.8 421.0h0.8 M184.5 449.6h0.8 M180.9 446.8h0.8 M182.1 431.8h0.8 M179.6 446.4h0.8 M180.5 411.7h0.8 M180.0 429.9h0.8 M182.3 437.4h0.8 M179.9 424.0h0.8 M180.7 417.8h0.8 M178.9 414.9h0.8 M182.5 445.1h0.8 M180.0 449.3h0.8 M180.7 452.6h0.8 M180.7 436.0h0.8 M183.1 413.0h0.8 M180.7 433.3h0.8 M182.4 433.5h0.8 M181.7 413.7h0.8 M181.7 427.8h0.8 M180.3 457.5h0.8 M181.4 440.0h0.8 M181.9 453.4h0.8 M181.8 417.6h0.8 M182.8 456.4h0.8 M181.9 429.7h0.8 M184.3 456.1h0.8 M181.3 452.1h0.8 M180.6 432.3h0.8 M181.7 418.3h0.8 M184.2 450.0h0.8 M183.7 418.4h0.8 M180.5 437.0h0.8 M181.4 456.6h0.8 M179.9 432.7h0.8 M181.7 426.5h0.8 M184.6 434.0h0.8 M180.7 450.0h0.8 M183.2 444.7h0.8 M183.2 420.0h0.8 M179.5 450.9h0.8 M178.7 452.1h0.8 M182.2 437.0h0.8 M182.0 455.8h0.8 M181.3 414.4h0.8 M184.2 436.2h0.8 M181.4 451.0h0.8 M179.6 431.0h0.8 M181.6 421.1h0.8 M181.9 432.0h0.8 M180.9 443.7h0.8 M180.0 455.2h0.8 M181.7 444.2h0.8 M182.4 436.9h0.8 M182.3 454.1h0.8 M180.0 424.6h0.8 M182.0 418.2h0.8 M183.7 445.0h0.8 M182.7 426.4h0.8 M180.8 457.5h0.8 M180.4 448.7h0.8 M183.0 416.0h0.8 M183.2 457.8h0.8 M181.5 415.6h0.8 M181.2 456.0h0.8 M181.8 453.4h0.8 M181.6 449.4h0.8 M182.6 439.7h0.8 M180.6 436.7h0.8 M180.1 452.1h0.8 M181.3 418.5h0.8 M182.2 442.7h0.8 M180.4 432.1h0.8 M182.1 437.7h0.8 M183.0 446.2h0.8 M181.8 423.0h0.8 M179.5 414.0h0.8 M180.5 449.0h0.8 M181.5 449.6h0.8 M178.7 444.7h0.8 M181.5 444.3h0.8 M181.9 433.1h0.8 M182.1 424.1h0.8 M181.4 448.5h0.8 M182.6 421.8h0.8 M182.1 450.4h0.8 M181.2 447.0h0.8 M207.5 408.9h0.8 M192.8 408.8h0.8 M182.8 413.6h0.8 M188.1 413.3h0.8 M200.2 408.9h0.8 M200.2 408.8h0.8 M203.6 410.6h0.8 M198.6 409.9h0.8 M192.3 408.5h0.8 M219.8 406.6h0.8 M211.3 407.5h0.8 M190.5 410.2h0.8 M192.7 410.0h0.8 M191.2 408.6h0.8 M207.8 408.5h0.8 M216.6 406.6h0.8 M199.4 409.8h0.8 M211.3 408.7h0.8 M194.8 408.6h0.8 M198.6 410.0h0.8 M193.9 408.5h0.8 M221.0 409.3h0.8 M192.4 410.9h0.8 M205.5 408.8h0.8 M222.3 408.2h0.8 M205.2 409.4h0.8 M207.8 408.4h0.8 M222.4 408.9h0.8 M211.6 407.2h0.8 M205.8 410.1h0.8 M198.0 408.8h0.8 M187.8 410.3h0.8 M197.2 410.2h0.8 M187.1 410.9h0.8 M225.9 409.9h0.8 M192.4 410.7h0.8 M187.2 413.6h0.8 M191.5 410.1h0.8 M185.5 413.1h0.8 M218.3 407.2h0.8 M214.1 406.1h0.8 M224.3 408.5h0.8 M188.1 412.0h0.8 M194.4 408.6h0.8 M223.0 410.8h0.8 M200.3 408.5h0.8 M199.9 409.9h0.8 M216.3 408.8h0.8 M185.7 413.0h0.8 M186.4 414.0h0.8 M203.7 410.5h0.8 M224.2 408.1h0.8 M198.1 408.3h0.8 M199.7 410.0h0.8 M214.4 407.4h0.8 M192.4 409.2h0.8 M195.9 410.0h0.8 M212.6 407.9h0.8 M221.9 410.8h0.8 M193.8 410.1h0.8 M222.0 408.6h0.8 M223.0 409.6h0.8 M194.9 408.7h0.8 M192.9 408.5h0.8 M202.4 409.1h0.8 M220.9 408.5h0.8 M197.7 410.8h0.8 M203.5 408.9h0.8 M217.4 409.0h0.8 M197.3 409.4h0.8 M219.4 408.7h0.8 M212.9 407.8h0.8 M185.1 413.3h0.8 M200.7 407.9h0.8 M196.6 409.7h0.8 M185.9 413.5h0.8 M192.5 408.3h0.8 M197.3 407.6h0.8 M224.4 408.0h0.8 M225.2 408.5h0.8 M190.3 410.4h0.8 M198.9 409.7h0.8 M216.1 405.5h0.8 M214.1 406.9h0.8 M216.2 405.6h0.8 M184.4 411.6h0.8 M223.0 409.5h0.8 M197.4 410.3h0.8 M224.6 408.3h0.8 M224.9 409.9h0.8 M220.0 409.1h0.8 M210.8 406.9h0.8 M219.2 408.9h0.8 M190.9 409.7h0.8 M220.3 409.0h0.8 M185.7 414.4h0.8 M189.7 410.0h0.8 M187.7 411.1h0.8 M211.2 407.8h0.8 M210.6 410.1h0.8 M198.5 408.3h0.8 M218.1 406.5h0.8 M218.0 407.1h0.8 M202.3 409.6h0.8 M200.8 408.9h0.8 M203.8 408.5h0.8 M204.0 409.8h0.8 M218.4 409.5h0.8 M212.6 407.0h0.8 M222.9 408.2h0.8 M209.2 408.5h0.8 M218.5 408.2h0.8 M221.7 409.6h0.8 M215.3 407.7h0.8 M185.9 411.6h0.8 M185.9 413.1h0.8 M193.2 410.2h0.8 M191.5 409.8h0.8 M206.8 408.6h0.8 M189.5 411.0h0.8 M187.6 410.6h0.8 M221.6 406.2h0.8 M219.6 407.2h0.8 M215.0 407.1h0.8 M218.3 407.1h0.8 M207.7 408.4h0.8 M185.6 414.1h0.8 M216.4 407.5h0.8 M216.8 406.0h0.8 M189.0 411.8h0.8 M222.5 408.0h0.8 M219.6 409.7h0.8 M189.6 410.0h0.8 M187.9 410.4h0.8 M210.0 408.9h0.8 M224.6 408.9h0.8 M221.2 409.9h0.8 M208.5 408.3h0.8 M204.8 407.3h0.8 M225.0 408.2h0.8 M216.5 407.1h0.8 M196.9 410.0h0.8 M221.2 409.5h0.8 M209.1 406.5h0.8 M212.9 407.8h0.8 M218.7 407.6h0.8 M201.5 410.0h0.8 M201.2 409.9h0.8 M204.3 408.2h0.8 M222.5 408.9h0.8 M216.4 407.1h0.8 M190.3 410.0h0.8 M187.1 412.5h0.8 M197.9 411.5h0.8 M189.0 410.4h0.8 M204.5 410.1h0.8 M188.2 411.4h0.8 M204.6 409.7h0.8 M220.5 408.3h0.8 M190.2 410.8h0.8 M186.5 413.0h0.8 M216.8 407.2h0.8 M190.2 410.0h0.8 M193.0 407.5h0.8 M182.5 412.9h0.8 M222.0 409.5h0.8 M225.4 408.9h0.8 M187.7 413.9h0.8 M189.7 412.0h0.8 M204.0 408.3h0.8 M221.1 407.5h0.8 M203.9 408.0h0.8 M184.1 415.3h0.8 M201.8 409.5h0.8 M218.3 406.8h0.8 M200.9 409.6h0.8 M183.5 411.6h0.8 M215.3 407.1h0.8 M207.1 408.8h0.8 M224.7 409.9h0.8 M198.5 408.7h0.8 M216.4 407.5h0.8 M184.0 411.9h0.8 M185.4 411.7h0.8 M217.2 407.0h0.8 M193.6 409.0h0.8 M195.5 408.7h0.8 M207.4 408.8h0.8 M218.4 407.6h0.8 M188.5 408.5h0.8 M216.2 405.5h0.8 M204.7 408.9h0.8 M193.9 408.4h0.8 M199.4 409.0h0.8 M211.0 409.1h0.8 M189.2 411.2h0.8 M196.9 408.3h0.8 M193.1 407.4h0.8 M212.8 407.4h0.8 M190.7 408.8h0.8 M211.2 406.5h0.8 M220.0 407.3h0.8 M208.1 409.1h0.8 M193.6 406.8h0.8 M205.7 409.7h0.8 M213.3 408.1h0.8 M193.8 406.9h0.8 M199.6 409.0h0.8 M192.7 409.7h0.8 M205.4 409.9h0.8 M216.4 406.4h0.8 M193.9 411.4h0.8 M189.6 410.5h0.8 M186.1 413.5h0.8 M215.6 408.7h0.8 M188.3 413.6h0.8 M209.7 408.0h0.8 M212.5 408.6h0.8 M201.3 406.8h0.8 M185.9 410.8h0.8 M217.3 407.7h0.8 M192.6 410.0h0.8 M218.4 407.0h0.8 M196.9 409.1h0.8 M211.8 408.6h0.8 M218.7 409.6h0.8 M208.8 407.5h0.8 M197.2 410.8h0.8 M216.3 407.8h0.8 M197.2 408.7h0.8 M198.4 409.5h0.8 M217.0 406.1h0.8 M201.6 410.2h0.8 M214.4 407.3h0.8 M220.7 408.7h0.8 M222.0 409.9h0.8 M217.0 407.3h0.8 M215.0 409.3h0.8 M219.0 407.8h0.8 M191.5 409.2h0.8 M209.9 408.8h0.8 M222.3 408.0h0.8 M193.9 408.2h0.8 M187.6 412.0h0.8 M206.5 407.5h0.8 M189.3 411.8h0.8 M200.6 409.1h0.8 M222.2 406.6h0.8 M192.9 410.3h0.8 M217.0 407.1h0.8 M197.8 409.7h0.8 M206.1 408.6h0.8 M212.3 408.3h0.8 M208.2 407.8h0.8 M192.4 408.8h0.8 M217.8 410.0h0.8 M184.1 414.0h0.8 M224.0 409.2h0.8 M220.5 409.3h0.8 M196.3 407.4h0.8 M224.3 424.8h0.8 M212.2 450.4h0.8 M213.6 439.6h0.8 M224.2 418.5h0.8 M216.3 437.8h0.8 M222.5 429.7h0.8 M211.1 445.8h0.8 M228.5 419.1h0.8 M215.2 439.9h0.8 M224.3 428.0h0.8 M219.8 435.0h0.8 M213.4 443.4h0.8 M206.6 459.1h0.8 M227.7 418.6h0.8 M221.0 430.6h0.8 M207.2 455.1h0.8 M215.0 441.0h0.8 M208.7 456.7h0.8 M224.2 410.9h0.8 M225.3 429.0h0.8 M210.4 450.3h0.8 M227.3 420.0h0.8 M226.2 417.8h0.8 M219.7 435.5h0.8 M221.5 432.3h0.8 M226.8 423.8h0.8 M227.9 417.4h0.8 M220.1 437.8h0.8 M228.4 414.1h0.8 M216.9 442.4h0.8 M226.5 421.6h0.8 M224.8 424.4h0.8 M221.3 430.9h0.8 M206.7 458.8h0.8 M218.8 433.5h0.8 M223.7 429.7h0.8 M212.1 448.8h0.8 M216.1 443.1h0.8 M227.3 411.7h0.8 M207.2 453.7h0.8 M219.1 435.1h0.8 M205.8 459.4h0.8 M207.6 453.7h0.8 M228.2 419.2h0.8 M223.0 427.5h0.8 M207.3 454.5h0.8 M225.3 424.2h0.8 M216.1 439.0h0.8 M211.0 450.6h0.8 M209.2 452.5h0.8 M221.9 427.2h0.8 M215.0 437.7h0.8 M225.0 425.2h0.8 M226.1 413.1h0.8 M221.2 435.6h0.8 M212.7 444.9h0.8 M222.5 430.0h0.8 M219.8 436.1h0.8 M222.6 428.9h0.8 M230.0 417.8h0.8 M225.5 409.4h0.8 M228.6 416.5h0.8 M207.1 455.7h0.8 M225.9 417.0h0.8 M223.1 429.1h0.8 M209.9 449.7h0.8 M226.0 420.9h0.8 M224.0 418.8h0.8 M224.4 430.3h0.8 M215.1 442.1h0.8 M207.5 455.6h0.8 M212.4 441.8h0.8 M223.2 433.2h0.8 M219.7 434.1h0.8 M212.2 443.7h0.8 M214.3 438.2h0.8 M227.4 413.5h0.8 M210.1 450.7h0.8 M212.4 445.5h0.8 M215.9 441.2h0.8 M228.3 417.2h0.8 M220.6 434.0h0.8 M226.6 421.6h0.8 M209.1 455.6h0.8 M209.8 446.9h0.8 M211.1 452.9h0.8 M210.0 446.5h0.8 M227.3 418.8h0.8 M218.6 437.3h0.8 M227.4 425.5h0.8 M228.7 416.7h0.8 M212.3 448.1h0.8 M209.4 453.6h0.8 M215.6 440.6h0.8 M228.3 415.8h0.8 M224.7 431.0h0.8 M208.5 453.1h0.8 M221.6 424.8h0.8 M222.8 431.1h0.8 M215.9 439.1h0.8 M218.6 439.4h0.8 M224.6 405.3h0.8 M220.0 430.1h0.8 M230.3 417.7h0.8 M221.2 432.1h0.8 M211.2 448.0h0.8 M217.3 437.7h0.8 M228.5 412.7h0.8 M211.5 446.1h0.8 M228.3 413.3h0.8 M222.7 428.0h0.8 M209.3 459.5h0.8 M212.9 444.5h0.8 M226.6 416.4h0.8 M224.6 407.3h0.8 M224.6 410.7h0.8 M207.3 449.0h0.8 M228.9 414.9h0.8 M226.0 413.9h0.8 M209.5 448.8h0.8 M206.6 454.4h0.8 M225.1 408.2h0.8 M221.2 434.8h0.8 M227.5 420.7h0.8 M224.7 415.0h0.8 M208.9 449.7h0.8 M209.5 445.2h0.8 M227.8 414.3h0.8 M216.1 439.8h0.8 M228.4 413.6h0.8 M208.6 453.4h0.8 M208.6 458.2h0.8 M226.6 410.4h0.8 M226.6 426.8h0.8 M208.0 457.9h0.8 M227.2 409.0h0.8 M219.9 431.9h0.8 M216.4 439.4h0.8 M226.8 422.2h0.8 M229.0 419.4h0.8 M227.4 421.5h0.8 M213.4 445.1h0.8 M222.5 429.6h0.8 M219.7 441.1h0.8 M213.4 442.0h0.8 M223.9 429.2h0.8 M218.8 437.6h0.8 M223.2 428.1h0.8 M214.0 444.4h0.8 M224.7 414.2h0.8 M226.4 416.9h0.8 M208.2 458.6h0.8 M221.6 432.6h0.8 M225.5 413.9h0.8 M223.4 428.3h0.8 M220.1 435.3h0.8 M226.2 424.5h0.8 M227.6 420.4h0.8 M215.7 440.8h0.8 M227.3 413.1h0.8 M229.7 420.9h0.8 M215.2 437.3h0.8 M223.4 430.6h0.8 M211.0 446.5h0.8 M222.8 425.3h0.8 M228.9 417.4h0.8 M227.8 413.8h0.8 M227.5 419.5h0.8 M220.4 437.4h0.8 M213.4 445.4h0.8 M210.8 452.6h0.8 M208.1 457.5h0.8 M216.4 435.7h0.8 M218.8 435.5h0.8 M224.3 428.0h0.8 M224.7 420.4h0.8 M226.6 421.3h0.8 M219.8 434.0h0.8 M214.3 444.1h0.8 M228.0 416.9h0.8 M214.4 442.6h0.8 M229.3 416.1h0.8 M229.7 418.6h0.8 M223.8 429.5h0.8 M204.9 456.9h0.8 M215.1 443.1h0.8 M214.2 442.8h0.8 M228.3 411.8h0.8 M224.0 424.2h0.8 M211.8 448.8h0.8 M217.9 434.2h0.8 M210.8 453.4h0.8 M212.7 442.7h0.8 M225.3 422.3h0.8 M222.1 426.7h0.8 M226.0 413.2h0.8 M228.7 415.8h0.8 M207.9 458.1h0.8 M225.4 418.3h0.8 M211.5 448.1h0.8 M212.7 451.3h0.8 M213.7 445.4h0.8 M211.1 458.5h0.8 M207.5 457.9h0.8 M224.6 425.0h0.8 M209.4 450.7h0.8 M222.4 429.2h0.8 M218.0 436.6h0.8 M226.9 410.2h0.8 M215.1 437.3h0.8 M211.0 453.9h0.8 M223.6 428.5h0.8 M222.9 430.1h0.8 M219.0 437.2h0.8 M212.1 449.2h0.8 M210.9 453.1h0.8 M228.1 423.2h0.8 M227.6 420.2h0.8 M210.5 446.6h0.8 M227.0 422.5h0.8 M227.5 416.7h0.8 M210.4 451.4h0.8 M211.0 450.5h0.8 M223.1 429.0h0.8 M217.7 436.5h0.8 M225.9 422.3h0.8 M222.5 426.7h0.8 M208.2 459.0h0.8 M209.3 457.4h0.8 M208.0 456.2h0.8 M223.9 412.5h0.8 M227.9 421.4h0.8 M207.7 460.6h0.8 M213.5 443.7h0.8 M227.3 419.9h0.8 M224.2 424.5h0.8 M222.1 432.6h0.8 M225.5 414.2h0.8 M209.6 452.0h0.8 M213.1 450.6h0.8 M227.9 412.0h0.8 M229.5 417.4h0.8 M224.8 421.8h0.8 M225.2 421.3h0.8 M218.6 438.8h0.8 M224.9 422.9h0.8 M213.3 451.2h0.8 M224.3 410.6h0.8 M213.7 445.6h0.8 M224.5 421.5h0.8 M219.3 438.1h0.8 M221.6 430.4h0.8 M226.0 428.3h0.8 M216.7 444.9h0.8 M220.3 429.1h0.8 M226.1 424.5h0.8 M226.6 414.1h0.8 M210.7 457.8h0.8 M228.1 422.2h0.8 M214.5 441.7h0.8 M215.4 438.7h0.8 M228.0 410.2h0.8 M226.3 409.4h0.8 M224.8 412.9h0.8 M209.3 449.3h0.8 M222.9 429.3h0.8 M227.4 419.0h0.8 M210.4 459.8h0.8 M225.1 419.6h0.8 M210.8 455.6h0.8 M229.0 423.9h0.8 M217.5 442.1h0.8 M229.1 412.9h0.8 M229.3 414.9h0.8 M225.4 418.3h0.8 M223.5 425.6h0.8 M228.1 416.0h0.8 M218.6 435.3h0.8 M225.7 426.1h0.8 M215.3 439.7h0.8 M226.1 426.1h0.8 M209.0 452.5h0.8 M220.1 433.5h0.8 M208.3 453.2h0.8 M227.3 412.7h0.8 M221.9 430.7h0.8 M214.9 443.7h0.8 M218.4 436.3h0.8 M211.3 442.5h0.8 M222.3 432.3h0.8 M225.3 411.0h0.8 M211.1 443.0h0.8 M222.0 429.7h0.8 M225.4 416.8h0.8 M210.1 452.5h0.8 M223.9 411.4h0.8 M228.4 420.4h0.8 M208.1 454.8h0.8 M215.4 442.6h0.8 M218.2 435.0h0.8 M196.0 457.1h0.8 M199.2 459.2h0.8 M185.0 460.0h0.8 M184.8 459.3h0.8 M188.0 460.0h0.8 M191.4 459.0h0.8 M199.7 460.8h0.8 M207.6 459.8h0.8 M197.4 457.5h0.8 M193.5 458.2h0.8 M206.5 460.4h0.8 M194.4 458.8h0.8 M193.5 458.1h0.8 M202.4 460.3h0.8 M190.7 458.5h0.8 M193.3 458.7h0.8 M190.3 459.1h0.8 M195.8 459.7h0.8 M192.2 459.6h0.8 M195.9 459.4h0.8 M194.3 460.2h0.8 M199.0 459.7h0.8 M204.2 459.5h0.8 M202.0 459.5h0.8 M196.1 459.8h0.8 M198.8 461.0h0.8 M189.5 456.2h0.8 M204.3 458.3h0.8 M192.3 459.0h0.8 M197.8 457.7h0.8 M183.0 459.6h0.8 M208.4 458.6h0.8 M203.8 458.9h0.8 M206.2 459.8h0.8 M200.8 459.5h0.8 M185.5 459.5h0.8 M205.3 457.9h0.8 M186.7 458.7h0.8 M189.8 459.1h0.8 M202.1 459.6h0.8 M189.2 460.2h0.8 M196.9 458.8h0.8 M187.0 459.3h0.8 M194.8 457.7h0.8 M196.9 458.7h0.8 M195.4 459.8h0.8 M203.9 459.5h0.8 M201.4 459.8h0.8 M205.7 457.6h0.8 M201.7 458.8h0.8 M200.4 457.8h0.8 M197.3 458.5h0.8 M187.7 459.5h0.8 M200.1 459.7h0.8 M192.4 457.6h0.8 M185.4 458.8h0.8 M207.9 460.4h0.8 M198.0 458.6h0.8 M202.6 459.5h0.8 M185.7 456.7h0.8 M194.2 459.3h0.8 M200.8 457.6h0.8 M189.8 458.7h0.8 M195.2 460.1h0.8 M184.9 458.5h0.8 M184.0 459.6h0.8 M196.5 460.1h0.8 M196.5 458.2h0.8 M208.2 459.1h0.8 M198.9 458.3h0.8 M197.0 458.5h0.8 M187.7 459.6h0.8 M199.6 459.6h0.8 M202.6 459.0h0.8 M186.3 460.6h0.8 M203.1 459.8h0.8 M182.1 459.7h0.8 M189.8 459.3h0.8 M201.8 458.2h0.8 M197.8 458.9h0.8 M191.2 458.9h0.8 M195.6 460.9h0.8 M205.2 459.1h0.8 M193.8 457.2h0.8 M202.1 459.6h0.8 M203.7 460.4h0.8 M193.5 459.1h0.8 M190.0 459.0h0.8 M186.6 458.8h0.8 M203.2 460.3h0.8 M195.9 459.0h0.8 M191.1 459.0h0.8 M195.4 458.8h0.8 M207.1 457.2h0.8 M199.1 458.2h0.8 M185.8 459.3h0.8 M202.0 458.1h0.8 M200.5 460.0h0.8 M205.5 457.8h0.8 M197.3 459.4h0.8 M218.8 455.6h0.7 M223.9 445.9h0.7 M209.0 413.0h0.7 M222.9 420.3h0.7 M221.5 438.6h0.7 M217.0 416.9h0.7 M211.6 444.0h0.7 M227.1 426.6h0.7 M212.8 444.0h0.7 M215.3 445.5h0.7 M203.9 428.4h0.7 M236.8 422.8h0.7 M216.6 456.5h0.7 M208.2 455.4h0.7 M207.5 450.6h0.7 M228.1 449.9h0.7 M218.0 448.0h0.7 M213.6 430.0h0.7 M213.6 429.5h0.7 M214.7 427.3h0.7 M222.0 415.3h0.7 M235.7 454.2h0.7 M200.7 427.3h0.7 M224.1 427.6h0.7 M227.0 450.3h0.7 M206.4 451.3h0.7 M208.8 426.8h0.7 M227.1 441.9h0.7 M229.6 420.3h0.7 M230.5 422.5h0.7 M211.7 452.4h0.7 M235.9 456.2h0.7 M210.3 455.4h0.7 M206.0 445.9h0.7 M203.9 450.2h0.7" stroke="#0a0a0a" stroke-width="0.85"/>
<ellipse cx="201.41" cy="435.08" rx="14.28" ry="7.78" fill="#e6e6e6" stroke="#2a2a2a" stroke-width="1.1" transform="rotate(0 201.41 435.08)"/>
<ellipse cx="192.33" cy="423.42" rx="7.14" ry="12.96" fill="#e6e6e6" stroke="#2a2a2a" stroke-width="1.1" transform="rotate(0 192.33 423.42)"/>
<ellipse cx="205.31" cy="423.42" rx="6.49" ry="9.72" fill="#e6e6e6" stroke="#2a2a2a" stroke-width="1.1" transform="rotate(0 205.31 423.42)"/>
<ellipse cx="217.64" cy="417.58" rx="7.14" ry="9.07" fill="#e6e6e6" stroke="#2a2a2a" stroke-width="1.1" transform="rotate(-10 217.64 417.58)"/>
<ellipse cx="191.68" cy="448.04" rx="6.49" ry="7.78" fill="#e6e6e6" stroke="#2a2a2a" stroke-width="1.1" transform="rotate(0 191.68 448.04)"/>
<ellipse cx="202.71" cy="448.04" rx="5.84" ry="7.13" fill="#e6e6e6" stroke="#2a2a2a" stroke-width="1.1" transform="rotate(0 202.71 448.04)"/>
<ellipse cx="201.41" cy="435.08" rx="14.28" ry="7.78" fill="#e6e6e6" transform="rotate(0 201.41 435.08)"/>
<ellipse cx="192.33" cy="423.42" rx="7.14" ry="12.96" fill="#e6e6e6" transform="rotate(0 192.33 423.42)"/>
<ellipse cx="205.31" cy="423.42" rx="6.49" ry="9.72" fill="#e6e6e6" transform="rotate(0 205.31 423.42)"/>
<ellipse cx="217.64" cy="417.58" rx="7.14" ry="9.07" fill="#e6e6e6" transform="rotate(-10 217.64 417.58)"/>
<ellipse cx="191.68" cy="448.04" rx="6.49" ry="7.78" fill="#e6e6e6" transform="rotate(0 191.68 448.04)"/>
<ellipse cx="202.71" cy="448.04" rx="5.84" ry="7.13" fill="#e6e6e6" transform="rotate(0 202.71 448.04)"/>
<ellipse cx="192.33" cy="423.42" rx="5.85" ry="10.63" fill="#f2f2f2" stroke="#7a7a7a" stroke-width="0.5" transform="rotate(0 192.33 423.42)"/>
<ellipse cx="192.33" cy="423.42" rx="4.43" ry="8.04" fill="#dedede" stroke="#7a7a7a" stroke-width="0.5" transform="rotate(0 192.33 423.42)"/>
<ellipse cx="192.33" cy="423.42" rx="3.00" ry="5.44" fill="#f4f4f4" stroke="#7a7a7a" stroke-width="0.5" transform="rotate(0 192.33 423.42)"/>
<ellipse cx="192.33" cy="423.42" rx="1.57" ry="2.85" fill="#e2e2e2" stroke="#7a7a7a" stroke-width="0.5" transform="rotate(0 192.33 423.42)"/>
<ellipse cx="205.31" cy="423.42" rx="5.32" ry="7.97" fill="#f2f2f2" stroke="#7a7a7a" stroke-width="0.5" transform="rotate(0 205.31 423.42)"/>
<ellipse cx="205.31" cy="423.42" rx="4.02" ry="6.03" fill="#dedede" stroke="#7a7a7a" stroke-width="0.5" transform="rotate(0 205.31 423.42)"/>
<ellipse cx="205.31" cy="423.42" rx="2.73" ry="4.08" fill="#f4f4f4" stroke="#7a7a7a" stroke-width="0.5" transform="rotate(0 205.31 423.42)"/>
<ellipse cx="205.31" cy="423.42" rx="1.43" ry="2.14" fill="#e2e2e2" stroke="#7a7a7a" stroke-width="0.5" transform="rotate(0 205.31 423.42)"/>
<ellipse cx="217.64" cy="417.58" rx="5.85" ry="7.44" fill="#f2f2f2" stroke="#7a7a7a" stroke-width="0.5" transform="rotate(-10 217.64 417.58)"/>
<ellipse cx="217.64" cy="417.58" rx="4.43" ry="5.62" fill="#dedede" stroke="#7a7a7a" stroke-width="0.5" transform="rotate(-10 217.64 417.58)"/>
<ellipse cx="217.64" cy="417.58" rx="3.00" ry="3.81" fill="#f4f4f4" stroke="#7a7a7a" stroke-width="0.5" transform="rotate(-10 217.64 417.58)"/>
<ellipse cx="217.64" cy="417.58" rx="1.57" ry="2.00" fill="#e2e2e2" stroke="#7a7a7a" stroke-width="0.5" transform="rotate(-10 217.64 417.58)"/>
<ellipse cx="191.68" cy="448.04" rx="5.32" ry="6.38" fill="#f2f2f2" stroke="#7a7a7a" stroke-width="0.5" transform="rotate(0 191.68 448.04)"/>
<ellipse cx="191.68" cy="448.04" rx="4.02" ry="4.82" fill="#dedede" stroke="#7a7a7a" stroke-width="0.5" transform="rotate(0 191.68 448.04)"/>
<ellipse cx="191.68" cy="448.04" rx="2.73" ry="3.27" fill="#f4f4f4" stroke="#7a7a7a" stroke-width="0.5" transform="rotate(0 191.68 448.04)"/>
<ellipse cx="191.68" cy="448.04" rx="1.43" ry="1.71" fill="#e2e2e2" stroke="#7a7a7a" stroke-width="0.5" transform="rotate(0 191.68 448.04)"/>
<ellipse cx="202.71" cy="448.04" rx="4.79" ry="5.84" fill="#f2f2f2" stroke="#7a7a7a" stroke-width="0.5" transform="rotate(0 202.71 448.04)"/>
<ellipse cx="202.71" cy="448.04" rx="3.62" ry="4.42" fill="#dedede" stroke="#7a7a7a" stroke-width="0.5" transform="rotate(0 202.71 448.04)"/>
<ellipse cx="202.71" cy="448.04" rx="2.45" ry="2.99" fill="#f4f4f4" stroke="#7a7a7a" stroke-width="0.5" transform="rotate(0 202.71 448.04)"/>
<ellipse cx="202.71" cy="448.04" rx="1.29" ry="1.57" fill="#e2e2e2" stroke="#7a7a7a" stroke-width="0.5" transform="rotate(0 202.71 448.04)"/>
</g>
<rect x="178.70" y="396.20" width="64.90" height="64.80" fill="none" stroke="#bdbdbd" stroke-width="0.7"/>
<path d="M178.7 409.2 L186.5 409.2 M194.9 409.2 L206.6 433.1 M194.9 409.2 L202.1 407.9 L238.4 408.5 L218.3 440.3 L207.3 461.0 M202.1 407.9 L218.9 439.0 M178.7 439.0 L211.1 439.0 " fill="none" stroke="#4a4a4a" stroke-width="0.55" />
<text x="183.70" y="403.20" font-size="3.8" fill="#d2334a" stroke="#d2334a" stroke-width="0.06" >IV</text>
<text x="182.20" y="408.20" font-size="3.8" fill="#d2334a" stroke="#d2334a" stroke-width="0.06" >20.5</text>
<text x="194.70" y="402.20" font-size="3.8" fill="#d2334a" stroke="#d2334a" stroke-width="0.06" >III</text>
<text x="193.20" y="407.20" font-size="3.8" fill="#d2334a" stroke="#d2334a" stroke-width="0.06" >24.8</text>
<text x="208.70" y="401.20" font-size="3.8" fill="#d2334a" stroke="#d2334a" stroke-width="0.06" >II</text>
<text x="207.20" y="406.20" font-size="3.8" fill="#d2334a" stroke="#d2334a" stroke-width="0.06" >28.8</text>
<text x="215.70" y="451.00" font-size="3.8" fill="#d2334a" stroke="#d2334a" stroke-width="0.06" >V</text>
<text x="213.70" y="456.00" font-size="3.8" fill="#d2334a" stroke="#d2334a" stroke-width="0.06" >22.6</text>
<clipPath id="cp12"><rect x="251.60" y="396.20" width="64.10" height="64.80"/></clipPath>
<g clip-path="url(#cp12)">
<path d="M275.1 439.6h0.8 M260.4 411.2h0.8 M270.7 434.5h0.8 M264.8 408.3h0.8 M290.6 434.7h0.8 M284.8 428.9h0.8 M268.5 451.6h0.8 M273.3 432.3h0.8 M282.7 406.1h0.8 M280.1 453.4h0.8 M282.5 447.2h0.8 M257.9 428.6h0.8 M267.6 455.8h0.8 M291.1 426.7h0.8 M256.9 415.5h0.8 M270.9 454.1h0.8 M270.7 442.0h0.8 M276.3 442.8h0.8 M278.6 441.4h0.8 M283.4 416.2h0.8 M262.7 408.1h0.8 M270.6 443.6h0.8 M269.7 413.4h0.8 M263.5 440.0h0.8 M280.9 435.5h0.8 M272.2 429.5h0.8 M267.3 438.6h0.8 M280.4 452.2h0.8 M282.6 430.3h0.8 M289.9 431.5h0.8 M294.1 435.5h0.8 M267.3 441.0h0.8 M262.3 440.2h0.8 M278.8 453.7h0.8 M264.7 437.3h0.8 M271.6 428.1h0.8 M298.8 418.7h0.8 M270.9 443.8h0.8 M280.5 433.7h0.8 M270.7 421.5h0.8 M285.3 440.4h0.8 M262.5 436.0h0.8 M263.7 441.9h0.8 M271.3 447.5h0.8 M264.8 445.5h0.8 M275.6 409.8h0.8 M278.8 453.9h0.8 M283.8 427.7h0.8 M259.9 406.9h0.8 M294.1 425.9h0.8 M282.3 427.8h0.8 M272.4 418.3h0.8 M272.7 420.0h0.8 M262.7 441.5h0.8 M289.7 442.0h0.8 M267.8 452.8h0.8 M274.1 441.0h0.8 M272.2 429.3h0.8 M290.9 426.7h0.8 M260.2 433.5h0.8 M272.8 417.5h0.8 M296.5 426.1h0.8 M283.3 425.5h0.8 M294.7 427.1h0.8 M292.4 407.9h0.8 M267.5 455.8h0.8 M269.5 454.8h0.8 M278.6 441.2h0.8 M281.2 443.5h0.8 M279.0 453.8h0.8 M259.9 410.4h0.8 M257.2 424.6h0.8 M261.3 438.9h0.8 M273.7 414.3h0.8 M262.0 439.0h0.8 M263.2 441.6h0.8 M291.6 408.0h0.8 M273.8 456.6h0.8 M279.3 453.6h0.8 M279.1 453.8h0.8 M277.0 424.8h0.8 M256.0 448.1h0.8 M281.6 417.2h0.8 M282.6 405.8h0.8 M282.4 414.0h0.8 M288.9 434.4h0.8 M283.0 420.0h0.8 M279.3 433.5h0.8 M266.5 457.5h0.8 M256.9 407.7h0.8 M279.8 453.8h0.8 M283.5 411.5h0.8 M271.8 427.4h0.8 M270.9 447.3h0.8 M278.7 426.6h0.8 M264.5 442.4h0.8 M265.8 438.6h0.8 M271.4 428.7h0.8 M280.3 413.3h0.8 M274.0 440.6h0.8 M281.3 452.4h0.8 M268.0 409.1h0.8 M283.3 429.4h0.8 M258.1 445.8h0.8 M292.4 426.4h0.8 M296.8 421.3h0.8 M271.8 426.6h0.8 M268.5 454.1h0.8 M295.8 410.5h0.8 M277.8 456.1h0.8 M256.8 417.0h0.8 M258.0 451.6h0.8 M282.2 415.7h0.8 M261.5 440.2h0.8 M285.3 423.8h0.8 M264.5 439.5h0.8 M284.2 422.0h0.8 M279.8 455.0h0.8 M260.6 432.4h0.8 M290.7 428.1h0.8 M281.1 435.7h0.8 M268.5 455.8h0.8 M262.2 440.4h0.8 M274.8 440.7h0.8 M281.2 448.8h0.8 M270.7 443.2h0.8 M300.4 423.0h0.8 M297.3 421.1h0.8 M269.2 447.6h0.8 M263.6 407.8h0.8 M282.8 444.0h0.8 M261.3 439.3h0.8 M272.4 445.8h0.8 M281.5 446.7h0.8 M296.7 414.1h0.8 M298.8 416.2h0.8 M271.1 426.6h0.8 M261.9 439.0h0.8 M283.2 411.4h0.8 M285.0 409.1h0.8 M269.6 442.9h0.8 M256.8 446.7h0.8 M277.1 440.0h0.8 M259.3 431.1h0.8 M276.0 435.5h0.8 M292.3 426.5h0.8 M264.4 437.7h0.8 M269.6 413.6h0.8 M265.8 427.7h0.8 M278.2 433.4h0.8 M270.0 452.8h0.8 M288.0 438.7h0.8 M283.6 428.5h0.8 M264.9 408.0h0.8 M259.0 436.8h0.8 M260.3 455.8h0.8 M294.9 405.7h0.8 M282.5 433.7h0.8 M260.4 441.4h0.8 M270.3 451.6h0.8 M270.8 431.4h0.8 M297.1 414.8h0.8 M281.6 450.4h0.8 M279.6 453.1h0.8 M272.2 455.9h0.8 M261.2 455.2h0.8 M276.7 439.9h0.8 M280.9 446.3h0.8 M269.0 436.0h0.8 M282.6 415.5h0.8 M272.4 425.4h0.8 M270.9 436.8h0.8 M259.6 441.7h0.8 M280.4 444.4h0.8 M263.4 437.5h0.8 M261.1 439.2h0.8 M284.5 427.7h0.8 M276.2 455.9h0.8 M277.9 442.7h0.8 M261.0 408.1h0.8 M268.1 437.5h0.8 M282.5 421.1h0.8 M297.8 420.9h0.8 M271.2 453.1h0.8 M269.1 455.3h0.8 M272.3 448.8h0.8 M280.6 413.1h0.8 M260.8 424.5h0.8 M291.4 408.1h0.8 M276.9 455.2h0.8 M270.2 452.8h0.8 M270.3 451.5h0.8 M269.7 450.8h0.8 M284.9 421.0h0.8 M276.0 407.2h0.8 M276.5 429.3h0.8 M265.5 400.0h0.8 M282.4 415.3h0.8 M283.5 420.8h0.8 M302.4 425.4h0.8 M267.1 410.0h0.8 M268.4 434.9h0.8 M282.6 445.8h0.8 M266.3 439.4h0.8 M292.4 408.0h0.8 M284.0 427.3h0.8 M258.6 436.2h0.8 M297.6 418.5h0.8 M289.4 407.9h0.8 M263.9 457.5h0.8 M272.8 431.2h0.8 M269.6 445.6h0.8 M269.0 440.9h0.8 M274.1 431.9h0.8 M275.3 425.8h0.8 M271.6 445.8h0.8 M285.2 429.2h0.8 M271.2 450.9h0.8 M257.9 432.0h0.8 M280.5 420.3h0.8 M271.3 416.6h0.8 M282.2 415.1h0.8 M268.7 451.0h0.8 M272.4 410.5h0.8 M279.8 443.1h0.8 M280.8 444.7h0.8 M291.0 437.6h0.8 M271.5 442.6h0.8 M261.4 436.4h0.8 M271.7 410.1h0.8 M269.3 441.2h0.8 M284.5 426.4h0.8 M273.2 440.9h0.8 M280.2 443.8h0.8 M277.9 433.4h0.8 M270.1 455.1h0.8 M272.3 430.9h0.8 M271.8 428.6h0.8 M273.0 422.6h0.8 M273.1 427.7h0.8 M271.7 455.3h0.8 M257.8 450.7h0.8 M259.2 455.3h0.8 M262.3 456.4h0.8 M269.9 438.2h0.8 M276.2 455.5h0.8 M280.6 444.3h0.8 M280.0 453.8h0.8 M264.0 456.4h0.8 M281.1 443.6h0.8 M260.5 403.7h0.8 M290.4 427.1h0.8 M297.7 414.1h0.8 M270.7 422.7h0.8 M292.7 428.1h0.8 M283.5 416.1h0.8 M272.1 431.4h0.8 M270.9 425.6h0.8 M285.7 417.7h0.8 M252.6 427.2h0.8 M289.2 442.9h0.8 M268.3 448.0h0.8 M287.3 439.8h0.8 M260.3 437.1h0.8 M271.1 447.8h0.8 M282.7 447.8h0.8 M284.2 420.5h0.8 M257.3 444.7h0.8 M271.6 413.3h0.8 M264.9 437.8h0.8 M271.8 426.6h0.8 M264.7 441.1h0.8 M269.4 453.3h0.8 M257.8 437.3h0.8 M284.2 426.6h0.8 M280.1 427.8h0.8 M261.4 436.3h0.8 M287.6 426.2h0.8 M260.5 455.5h0.8 M276.4 455.1h0.8 M271.1 450.6h0.8 M287.2 438.8h0.8 M268.8 448.8h0.8 M279.5 442.9h0.8 M270.7 456.3h0.8 M280.8 453.6h0.8 M263.1 442.3h0.8 M277.8 413.3h0.8 M264.9 439.6h0.8 M266.6 410.4h0.8 M270.8 443.5h0.8 M270.4 443.4h0.8 M264.0 441.8h0.8 M262.8 410.2h0.8 M275.2 418.3h0.8 M270.6 416.3h0.8 M285.7 425.3h0.8 M265.2 443.8h0.8 M257.3 418.2h0.8 M265.8 455.9h0.8 M263.5 408.4h0.8 M298.6 415.3h0.8 M265.1 456.1h0.8 M273.1 427.7h0.8 M297.2 413.2h0.8 M281.1 446.9h0.8 M270.0 434.8h0.8 M276.5 433.4h0.8 M268.5 454.3h0.8 M263.7 457.9h0.8 M267.8 439.6h0.8 M265.6 438.8h0.8 M258.2 437.0h0.8 M272.6 431.3h0.8 M287.0 406.9h0.8 M270.5 443.4h0.8 M268.2 441.6h0.8 M270.9 448.8h0.8 M275.6 412.9h0.8 M261.9 411.2h0.8 M257.4 450.7h0.8 M293.7 409.7h0.8 M268.7 457.2h0.8 M280.3 453.4h0.8 M263.0 441.7h0.8 M266.3 437.7h0.8 M284.9 440.2h0.8 M258.7 443.8h0.8 M259.4 414.4h0.8 M278.8 454.9h0.8 M270.1 453.7h0.8 M267.2 425.0h0.8 M260.5 438.6h0.8 M284.9 422.5h0.8 M293.3 409.0h0.8 M267.0 438.8h0.8 M270.7 422.4h0.8 M295.1 410.3h0.8 M261.4 455.3h0.8 M268.8 447.7h0.8 M265.9 456.7h0.8 M270.5 425.0h0.8 M275.1 411.5h0.8 M277.3 441.3h0.8 M266.3 425.4h0.8 M268.3 438.7h0.8 M264.3 436.3h0.8 M263.7 440.1h0.8 M295.8 440.8h0.8 M261.0 411.9h0.8 M254.8 433.4h0.8 M251.9 439.9h0.8 M254.3 456.8h0.8 M250.4 424.8h0.8 M253.7 427.3h0.8 M253.9 420.7h0.8 M254.0 446.4h0.8 M252.4 427.1h0.8 M254.5 444.7h0.8 M252.2 448.9h0.8 M254.5 455.7h0.8 M253.1 440.6h0.8 M253.4 449.3h0.8 M254.8 443.7h0.8 M255.6 430.7h0.8 M253.9 427.2h0.8 M255.8 442.2h0.8 M256.6 426.7h0.8 M254.4 437.9h0.8 M254.2 417.3h0.8 M254.5 437.4h0.8 M252.9 414.5h0.8 M253.0 435.7h0.8 M253.9 457.4h0.8 M253.7 433.7h0.8 M255.1 432.3h0.8 M255.1 446.9h0.8 M253.5 428.5h0.8 M255.0 446.4h0.8 M254.0 457.7h0.8 M251.3 435.6h0.8 M256.4 451.0h0.8 M253.0 450.1h0.8 M253.1 428.9h0.8 M253.8 434.9h0.8 M252.4 432.6h0.8 M255.5 451.4h0.8 M252.6 420.1h0.8 M253.9 424.5h0.8 M251.9 425.1h0.8 M254.3 439.4h0.8 M251.7 439.9h0.8 M255.4 438.8h0.8 M256.4 434.9h0.8 M255.7 421.1h0.8 M255.6 450.1h0.8 M255.8 445.0h0.8 M254.8 429.7h0.8 M254.5 455.2h0.8 M253.8 433.6h0.8 M252.8 445.5h0.8 M251.7 417.2h0.8 M253.4 433.0h0.8 M255.2 429.7h0.8 M255.8 449.1h0.8 M254.3 421.2h0.8 M253.8 422.1h0.8 M254.4 413.3h0.8 M251.9 444.8h0.8 M254.5 436.9h0.8 M253.3 415.1h0.8 M255.2 431.1h0.8 M252.5 413.6h0.8 M251.0 434.0h0.8 M253.3 416.7h0.8 M253.8 416.3h0.8 M255.4 431.6h0.8 M253.5 429.8h0.8 M254.6 414.5h0.8 M254.1 434.2h0.8 M253.1 448.5h0.8 M252.8 445.2h0.8 M252.5 456.4h0.8 M254.1 426.6h0.8 M252.5 425.3h0.8 M259.1 440.2h0.8 M253.5 430.1h0.8 M253.1 453.4h0.8 M253.2 452.2h0.8 M251.5 452.8h0.8 M251.8 443.8h0.8 M253.2 428.8h0.8 M255.3 448.3h0.8 M255.2 421.0h0.8 M251.2 452.3h0.8 M255.3 422.8h0.8 M251.9 420.6h0.8 M255.3 445.4h0.8 M255.1 457.5h0.8 M254.6 457.5h0.8 M252.4 417.9h0.8 M253.3 426.3h0.8 M256.9 438.9h0.8 M256.7 458.0h0.8 M253.8 434.8h0.8 M255.6 436.6h0.8 M255.2 435.5h0.8 M252.5 445.0h0.8 M253.0 437.2h0.8 M253.6 434.8h0.8 M253.3 435.5h0.8 M255.6 415.5h0.8 M255.2 445.1h0.8 M255.6 441.5h0.8 M257.0 417.1h0.8 M253.7 435.8h0.8 M253.6 438.2h0.8 M253.0 458.0h0.8 M252.6 415.5h0.8 M252.9 442.2h0.8 M251.7 413.8h0.8 M253.2 433.5h0.8 M254.1 417.1h0.8 M255.0 419.6h0.8 M253.5 431.4h0.8 M254.3 419.2h0.8 M252.5 441.2h0.8 M253.6 428.5h0.8 M254.0 451.5h0.8 M254.2 436.9h0.8 M257.0 447.2h0.8 M252.6 422.4h0.8 M256.2 454.6h0.8 M254.6 415.5h0.8 M253.7 449.6h0.8 M254.1 441.7h0.8 M252.9 434.1h0.8 M256.5 418.4h0.8 M255.8 447.2h0.8 M253.7 425.5h0.8 M254.0 433.3h0.8 M253.8 416.7h0.8 M252.9 430.0h0.8 M257.0 431.6h0.8 M257.7 432.2h0.8 M253.9 412.8h0.8 M253.9 436.5h0.8 M252.2 429.3h0.8 M253.8 435.0h0.8 M254.0 451.1h0.8 M253.7 421.9h0.8 M252.7 451.2h0.8 M255.4 430.0h0.8 M254.0 439.7h0.8 M257.1 450.7h0.8 M251.8 435.8h0.8 M253.5 422.6h0.8 M253.5 453.1h0.8 M253.2 427.7h0.8 M254.7 457.7h0.8 M254.4 414.8h0.8 M254.3 417.0h0.8 M253.9 435.1h0.8 M254.2 445.3h0.8 M253.2 435.8h0.8 M253.5 420.8h0.8 M255.1 453.5h0.8 M254.5 455.3h0.8 M253.6 429.9h0.8 M254.4 426.6h0.8 M256.0 413.7h0.8 M260.3 411.2h0.8 M288.8 408.4h0.8 M280.0 406.8h0.8 M269.5 410.0h0.8 M288.1 407.3h0.8 M257.1 415.4h0.8 M283.1 407.5h0.8 M263.4 409.9h0.8 M256.7 413.4h0.8 M275.0 407.8h0.8 M268.8 409.3h0.8 M259.5 412.8h0.8 M262.3 409.8h0.8 M273.4 411.2h0.8 M258.2 412.2h0.8 M269.7 407.1h0.8 M265.1 409.9h0.8 M277.9 408.5h0.8 M291.9 408.9h0.8 M256.3 412.1h0.8 M278.1 410.2h0.8 M282.1 409.6h0.8 M265.3 408.8h0.8 M288.8 406.4h0.8 M262.2 411.2h0.8 M256.8 414.3h0.8 M259.1 412.7h0.8 M265.7 410.3h0.8 M282.0 409.0h0.8 M259.2 414.5h0.8 M287.8 407.6h0.8 M276.1 408.8h0.8 M264.2 410.5h0.8 M275.9 409.6h0.8 M284.1 407.0h0.8 M268.4 409.3h0.8 M274.2 409.3h0.8 M265.4 410.3h0.8 M257.4 414.5h0.8 M272.4 409.9h0.8 M298.9 408.5h0.8 M296.2 409.6h0.8 M296.1 408.6h0.8 M297.9 411.1h0.8 M297.7 409.0h0.8 M274.3 407.4h0.8 M296.0 409.1h0.8 M281.8 409.4h0.8 M264.5 409.0h0.8 M291.3 408.3h0.8 M266.1 411.2h0.8 M269.8 411.5h0.8 M291.7 408.7h0.8 M298.1 409.5h0.8 M293.6 408.3h0.8 M289.4 407.9h0.8 M264.6 408.8h0.8 M282.8 409.1h0.8 M273.6 407.7h0.8 M284.5 407.7h0.8 M288.3 409.5h0.8 M295.8 407.2h0.8 M266.4 409.9h0.8 M280.6 410.4h0.8 M271.9 409.2h0.8 M296.9 408.6h0.8 M256.3 414.9h0.8 M290.5 406.8h0.8 M278.3 410.1h0.8 M293.9 407.0h0.8 M260.3 412.8h0.8 M261.3 410.1h0.8 M294.6 407.9h0.8 M286.9 407.6h0.8 M269.0 410.3h0.8 M278.5 409.6h0.8 M258.6 413.1h0.8 M259.7 413.3h0.8 M275.2 409.0h0.8 M264.0 409.0h0.8 M281.1 406.8h0.8 M279.3 409.6h0.8 M261.8 410.4h0.8 M260.9 410.4h0.8 M298.6 408.5h0.8 M281.3 408.4h0.8 M285.2 405.6h0.8 M298.0 409.5h0.8 M264.3 407.9h0.8 M292.2 407.0h0.8 M256.6 414.6h0.8 M260.4 411.8h0.8 M279.5 408.7h0.8 M260.9 412.2h0.8 M294.8 408.8h0.8 M287.6 407.3h0.8 M258.9 412.4h0.8 M296.1 408.6h0.8 M294.9 409.5h0.8 M297.5 408.9h0.8 M293.9 408.9h0.8 M279.7 407.7h0.8 M256.4 416.5h0.8 M273.4 407.6h0.8 M263.1 409.6h0.8 M266.5 408.4h0.8 M295.5 409.5h0.8 M289.4 407.8h0.8 M290.9 407.6h0.8 M289.0 407.1h0.8 M282.0 409.9h0.8 M297.9 410.0h0.8 M271.6 408.9h0.8 M259.7 411.3h0.8 M273.7 408.3h0.8 M265.8 408.9h0.8 M261.1 410.4h0.8 M267.8 409.7h0.8 M258.1 411.5h0.8 M261.8 411.2h0.8 M254.6 414.3h0.8 M269.3 407.4h0.8 M258.3 413.5h0.8 M290.7 407.6h0.8 M281.2 408.2h0.8 M273.9 411.5h0.8 M287.2 406.1h0.8 M294.2 408.5h0.8 M256.5 413.6h0.8 M289.4 407.8h0.8 M294.6 408.5h0.8 M285.4 408.2h0.8 M269.4 409.1h0.8 M294.6 408.5h0.8 M298.6 409.2h0.8 M265.0 410.3h0.8 M286.9 408.0h0.8 M279.5 410.8h0.8 M290.6 407.3h0.8 M258.8 414.8h0.8 M289.6 408.2h0.8 M258.7 414.4h0.8 M265.1 408.6h0.8 M270.9 409.4h0.8 M291.1 405.6h0.8 M280.9 407.2h0.8 M295.2 409.1h0.8 M272.3 409.8h0.8 M258.0 412.2h0.8 M292.4 406.9h0.8 M270.7 410.8h0.8 M258.8 411.5h0.8 M257.4 413.3h0.8 M276.7 409.3h0.8 M294.8 409.9h0.8 M264.1 410.6h0.8 M261.6 407.3h0.8 M289.4 407.8h0.8 M293.0 408.4h0.8 M259.2 412.1h0.8 M282.1 408.6h0.8 M260.8 409.7h0.8 M261.4 411.0h0.8 M296.2 408.2h0.8 M292.2 407.6h0.8 M268.4 409.0h0.8 M289.6 407.2h0.8 M284.6 408.9h0.8 M287.6 406.7h0.8 M264.8 409.6h0.8 M271.4 409.1h0.8 M262.4 409.7h0.8 M289.8 407.7h0.8 M288.4 407.3h0.8 M288.7 407.5h0.8 M282.1 407.6h0.8 M262.8 411.9h0.8 M278.9 409.3h0.8 M284.2 410.3h0.8 M265.0 410.6h0.8 M261.4 411.2h0.8 M293.2 407.3h0.8 M275.0 409.7h0.8 M256.1 415.8h0.8 M290.2 408.7h0.8 M269.6 410.1h0.8 M273.0 407.5h0.8 M258.8 413.6h0.8 M274.1 407.9h0.8 M260.7 413.0h0.8 M266.9 409.8h0.8 M263.7 409.4h0.8 M257.8 413.6h0.8 M289.2 406.0h0.8 M259.8 411.1h0.8 M264.7 409.6h0.8 M267.9 409.0h0.8 M258.4 411.9h0.8 M290.6 409.0h0.8 M259.2 413.8h0.8 M293.7 408.1h0.8 M277.9 409.2h0.8 M296.4 410.1h0.8 M272.2 410.4h0.8 M260.9 410.3h0.8 M273.8 409.4h0.8 M290.2 405.4h0.8 M272.1 410.0h0.8 M294.6 410.4h0.8 M289.3 406.8h0.8 M264.5 408.7h0.8 M264.5 408.5h0.8 M292.7 407.9h0.8 M285.8 407.2h0.8 M264.8 409.2h0.8 M259.7 412.3h0.8 M288.6 407.3h0.8 M267.2 410.0h0.8 M281.2 409.2h0.8 M256.8 414.3h0.8 M289.8 407.8h0.8 M288.3 407.9h0.8 M275.3 407.8h0.8 M275.0 409.0h0.8 M278.4 409.2h0.8 M270.9 408.9h0.8 M277.2 407.9h0.8 M260.9 411.4h0.8 M262.8 412.8h0.8 M287.4 406.7h0.8 M275.0 410.0h0.8 M298.1 409.3h0.8 M267.8 408.7h0.8 M267.6 409.6h0.8 M296.2 409.4h0.8 M284.2 408.2h0.8 M289.4 408.0h0.8 M293.9 407.2h0.8 M289.4 409.2h0.8 M262.0 412.7h0.8 M278.5 407.2h0.8 M295.6 409.1h0.8 M259.0 412.1h0.8 M289.4 407.5h0.8 M271.6 408.4h0.8 M277.9 409.6h0.8 M267.2 409.2h0.8 M276.6 409.0h0.8 M258.7 411.7h0.8 M273.9 408.6h0.8 M297.2 407.3h0.8 M280.0 409.8h0.8 M272.4 407.9h0.8 M269.0 411.0h0.8 M296.8 409.7h0.8 M279.2 408.8h0.8 M262.9 410.0h0.8 M259.1 412.1h0.8 M293.9 407.8h0.8 M284.4 449.6h0.8 M280.3 455.7h0.8 M300.5 415.3h0.8 M301.4 412.7h0.8 M295.9 429.3h0.8 M296.3 428.1h0.8 M286.4 449.8h0.8 M288.8 437.8h0.8 M283.9 450.4h0.8 M301.4 420.4h0.8 M295.0 431.3h0.8 M292.2 433.8h0.8 M291.6 429.9h0.8 M299.0 422.3h0.8 M297.5 411.6h0.8 M282.5 453.9h0.8 M298.5 408.9h0.8 M291.7 433.9h0.8 M286.3 445.0h0.8 M297.6 423.6h0.8 M299.3 420.4h0.8 M295.6 428.7h0.8 M288.6 439.2h0.8 M286.2 446.3h0.8 M294.2 428.8h0.8 M283.5 454.9h0.8 M297.9 411.8h0.8 M297.8 428.6h0.8 M299.1 420.7h0.8 M282.3 456.0h0.8 M280.1 448.9h0.8 M298.8 409.9h0.8 M300.1 417.8h0.8 M283.6 447.8h0.8 M299.4 410.6h0.8 M295.7 410.7h0.8 M295.1 431.2h0.8 M301.3 414.3h0.8 M297.7 411.6h0.8 M284.6 442.1h0.8 M298.6 420.4h0.8 M297.6 424.2h0.8 M278.8 454.1h0.8 M283.0 450.1h0.8 M297.9 408.8h0.8 M293.6 431.3h0.8 M298.5 415.8h0.8 M286.1 445.4h0.8 M295.1 429.4h0.8 M280.4 453.7h0.8 M295.9 428.1h0.8 M281.6 449.4h0.8 M285.5 444.3h0.8 M283.4 452.6h0.8 M283.4 449.8h0.8 M285.1 442.3h0.8 M290.6 441.5h0.8 M287.5 443.0h0.8 M297.3 408.7h0.8 M283.0 449.5h0.8 M287.9 439.1h0.8 M291.6 434.9h0.8 M300.0 422.1h0.8 M299.3 407.7h0.8 M291.4 436.3h0.8 M297.0 432.9h0.8 M285.4 442.1h0.8 M299.6 415.5h0.8 M286.4 448.4h0.8 M281.4 452.4h0.8 M297.5 424.8h0.8 M298.0 421.1h0.8 M296.0 425.7h0.8 M295.1 427.6h0.8 M300.8 412.9h0.8 M301.5 412.7h0.8 M302.0 417.4h0.8 M294.7 415.3h0.8 M286.6 447.9h0.8 M290.2 435.3h0.8 M292.9 438.7h0.8 M286.2 446.4h0.8 M295.1 432.0h0.8 M294.2 433.4h0.8 M299.7 415.9h0.8 M298.8 422.7h0.8 M279.9 456.1h0.8 M300.3 411.6h0.8 M288.2 443.1h0.8 M290.2 438.1h0.8 M288.4 442.8h0.8 M298.4 411.9h0.8 M298.3 416.8h0.8 M283.7 452.4h0.8 M281.8 456.7h0.8 M296.6 412.8h0.8 M279.9 454.5h0.8 M302.1 421.7h0.8 M289.2 438.5h0.8 M286.0 449.3h0.8 M284.6 446.1h0.8 M297.2 425.8h0.8 M288.1 437.4h0.8 M281.9 459.0h0.8 M299.9 422.0h0.8 M297.8 411.0h0.8 M299.9 417.4h0.8 M298.0 430.0h0.8 M301.5 420.1h0.8 M291.2 438.7h0.8 M300.4 417.7h0.8 M279.0 460.0h0.8 M281.8 446.6h0.8 M295.5 423.1h0.8 M300.9 412.1h0.8 M286.7 444.9h0.8 M284.5 446.7h0.8 M286.1 444.6h0.8 M300.3 417.3h0.8 M298.4 416.3h0.8 M299.1 410.5h0.8 M298.1 417.7h0.8 M281.8 457.4h0.8 M292.0 435.8h0.8 M299.9 414.6h0.8 M299.0 422.3h0.8 M281.4 458.4h0.8 M292.1 437.2h0.8 M290.1 432.3h0.8 M305.3 418.9h0.8 M280.8 449.4h0.8 M281.5 452.4h0.8 M285.5 444.2h0.8 M292.0 433.4h0.8 M281.7 455.5h0.8 M292.7 432.8h0.8 M282.7 451.2h0.8 M279.8 450.3h0.8 M289.3 435.6h0.8 M299.0 409.9h0.8 M296.7 412.8h0.8 M298.3 415.2h0.8 M296.6 423.7h0.8 M288.6 439.3h0.8 M291.6 430.7h0.8 M284.4 443.0h0.8 M293.7 431.9h0.8 M284.6 448.2h0.8 M295.6 425.7h0.8 M283.6 446.4h0.8 M297.7 410.7h0.8 M297.0 428.8h0.8 M291.8 433.9h0.8 M285.3 442.7h0.8 M292.1 433.2h0.8 M298.0 418.1h0.8 M298.7 413.5h0.8 M289.4 436.5h0.8 M296.0 423.0h0.8 M283.9 455.9h0.8 M295.3 425.7h0.8 M295.8 412.8h0.8 M298.6 419.8h0.8 M296.6 414.1h0.8 M281.3 453.6h0.8 M300.3 417.6h0.8 M302.2 417.1h0.8 M295.3 414.0h0.8 M298.7 428.3h0.8 M285.0 442.8h0.8 M298.6 413.4h0.8 M294.8 427.7h0.8 M296.5 432.0h0.8 M300.6 419.2h0.8 M287.3 442.1h0.8 M299.7 410.6h0.8 M300.8 418.7h0.8 M297.1 422.3h0.8 M296.4 428.5h0.8 M286.5 442.6h0.8 M280.4 455.1h0.8 M281.9 447.9h0.8 M289.5 437.1h0.8 M288.6 433.2h0.8 M285.6 444.7h0.8 M288.2 437.8h0.8 M295.4 426.5h0.8 M294.7 428.4h0.8 M300.0 413.9h0.8 M301.0 420.5h0.8 M283.0 450.5h0.8 M297.0 408.8h0.8 M300.8 415.8h0.8 M297.3 420.5h0.8 M299.1 430.3h0.8 M291.5 438.4h0.8 M285.3 445.4h0.8 M280.8 457.2h0.8 M299.2 410.1h0.8 M297.3 425.1h0.8 M297.5 414.9h0.8 M296.2 422.4h0.8 M289.8 444.4h0.8 M299.6 412.7h0.8 M298.3 425.5h0.8 M284.7 451.8h0.8 M298.6 408.2h0.8 M291.0 438.1h0.8 M300.7 422.7h0.8 M282.6 446.7h0.8 M298.2 419.1h0.8 M299.7 413.1h0.8 M298.4 412.4h0.8 M295.2 423.2h0.8 M292.7 436.3h0.8 M285.8 439.6h0.8 M296.9 426.9h0.8 M288.4 435.9h0.8 M299.0 423.7h0.8 M288.8 443.3h0.8 M299.6 416.7h0.8 M287.5 442.7h0.8 M297.4 425.8h0.8 M282.1 454.1h0.8 M301.8 421.9h0.8 M284.3 454.7h0.8 M279.8 454.0h0.8 M284.6 443.8h0.8 M298.6 421.3h0.8 M283.7 448.2h0.8 M298.9 420.2h0.8 M298.3 415.2h0.8 M283.4 446.2h0.8 M287.8 437.3h0.8 M299.9 416.6h0.8 M280.5 454.6h0.8 M299.0 412.8h0.8 M287.4 445.2h0.8 M295.6 424.6h0.8 M294.9 427.1h0.8 M294.9 429.0h0.8 M283.8 449.3h0.8 M290.6 439.4h0.8 M294.1 433.7h0.8 M284.2 447.5h0.8 M291.4 430.0h0.8 M294.6 431.9h0.8 M298.1 411.9h0.8 M291.0 431.9h0.8 M290.0 439.6h0.8 M289.3 434.2h0.8 M285.7 447.6h0.8 M285.4 443.7h0.8 M293.1 432.5h0.8 M298.5 424.1h0.8 M284.8 445.4h0.8 M283.8 455.9h0.8 M300.1 419.6h0.8 M297.6 413.6h0.8 M287.3 441.6h0.8 M289.6 439.1h0.8 M300.5 413.5h0.8 M298.5 430.9h0.8 M293.6 427.1h0.8 M297.8 415.4h0.8 M294.6 426.1h0.8 M296.8 410.8h0.8 M283.0 452.8h0.8 M298.1 408.8h0.8 M299.9 408.5h0.8 M286.8 442.3h0.8 M301.3 411.4h0.8 M294.5 423.5h0.8 M296.5 417.7h0.8 M299.4 415.5h0.8 M301.3 419.0h0.8 M287.3 443.0h0.8 M298.0 412.7h0.8 M286.9 442.8h0.8 M285.8 441.4h0.8 M297.7 414.8h0.8 M284.5 446.4h0.8 M284.2 440.8h0.8 M297.1 430.9h0.8 M294.5 426.8h0.8 M293.2 429.7h0.8 M297.2 411.6h0.8 M296.9 414.5h0.8 M298.1 414.4h0.8 M300.8 415.8h0.8 M277.3 453.4h0.8 M286.3 445.1h0.8 M299.2 421.4h0.8 M296.0 410.8h0.8 M292.1 433.1h0.8 M290.6 433.7h0.8 M300.1 419.7h0.8 M300.6 412.0h0.8 M282.9 448.1h0.8 M292.8 430.0h0.8 M268.2 457.3h0.8 M273.3 459.4h0.8 M268.5 457.8h0.8 M260.6 458.5h0.8 M263.0 459.3h0.8 M258.1 458.8h0.8 M279.4 457.4h0.8 M256.9 459.0h0.8 M271.6 458.9h0.8 M278.6 459.4h0.8 M278.4 459.4h0.8 M259.0 458.5h0.8 M262.3 460.5h0.8 M273.2 459.0h0.8 M264.8 458.4h0.8 M260.7 459.1h0.8 M258.3 459.4h0.8 M265.0 458.7h0.8 M273.1 459.4h0.8 M264.6 458.3h0.8 M268.8 459.0h0.8 M281.1 459.2h0.8 M266.1 459.4h0.8 M267.6 457.5h0.8 M278.9 459.2h0.8 M277.3 458.0h0.8 M256.1 458.0h0.8 M278.3 459.4h0.8 M264.6 461.2h0.8 M257.5 459.1h0.8 M273.6 457.8h0.8 M257.4 458.6h0.8 M261.3 459.4h0.8 M265.1 460.1h0.8 M272.8 459.2h0.8 M258.2 458.3h0.8 M259.7 459.4h0.8 M261.6 460.5h0.8 M256.2 461.4h0.8 M275.9 458.6h0.8 M266.9 456.8h0.8 M256.5 457.8h0.8 M257.7 459.7h0.8 M260.4 459.0h0.8 M267.0 458.8h0.8 M254.9 458.9h0.8 M278.8 459.8h0.8 M271.5 458.6h0.8 M273.9 459.1h0.8 M259.0 458.6h0.8 M276.5 459.4h0.8 M257.1 458.9h0.8 M277.5 459.9h0.8 M275.9 459.8h0.8 M262.5 459.2h0.8 M262.7 459.3h0.8 M275.6 458.8h0.8 M257.7 457.8h0.8 M276.8 458.0h0.8 M271.0 459.3h0.8 M269.2 459.2h0.8 M269.7 459.4h0.8 M267.9 459.1h0.8 M257.2 458.9h0.8 M265.2 458.8h0.8 M259.9 459.4h0.8 M272.0 458.3h0.8 M261.3 459.3h0.8 M257.0 459.7h0.8 M269.1 459.0h0.8 M270.1 460.5h0.8 M256.2 457.9h0.8 M275.2 459.6h0.8 M264.7 458.8h0.8 M267.5 457.5h0.8 M259.8 458.9h0.8 M272.5 458.4h0.8 M277.3 459.4h0.8 M254.6 459.5h0.8 M269.2 459.1h0.8 M278.1 458.3h0.8 M267.8 459.3h0.8 M274.7 457.6h0.8 M279.2 458.4h0.8 M276.8 459.4h0.8 M255.8 458.5h0.8 M261.4 457.8h0.8 M259.4 459.7h0.8 M256.5 459.1h0.8 M274.4 459.0h0.8 M255.9 458.4h0.8 M274.8 460.1h0.8 M256.4 459.0h0.8 M268.7 460.5h0.8 M268.5 459.3h0.8 M256.6 458.5h0.8 M277.1 459.9h0.8 M262.3 459.6h0.8 M278.9 460.5h0.8 M272.5 458.8h0.8 M298.3 453.7h0.7 M278.9 449.8h0.7 M285.8 425.0h0.7 M296.0 424.9h0.7 M296.1 415.8h0.7 M292.4 421.9h0.7 M279.4 453.0h0.7 M283.0 442.5h0.7 M283.0 451.0h0.7 M289.3 425.7h0.7 M303.4 420.7h0.7 M304.2 454.8h0.7 M271.2 416.4h0.7 M276.0 431.5h0.7 M294.7 448.1h0.7 M280.8 451.0h0.7 M279.4 421.6h0.7 M293.6 439.7h0.7 M309.2 451.5h0.7 M299.3 437.7h0.7 M298.7 414.2h0.7 M287.7 447.7h0.7 M298.8 449.2h0.7 M294.8 435.4h0.7 M291.6 455.4h0.7 M288.3 428.3h0.7 M279.3 422.7h0.7 M292.4 424.8h0.7 M300.1 430.5h0.7 M308.3 440.4h0.7 M278.2 446.1h0.7 M273.7 455.0h0.7 M274.2 428.0h0.7 M276.1 443.5h0.7 M295.7 442.0h0.7" stroke="#0a0a0a" stroke-width="0.85"/>
<ellipse cx="274.03" cy="435.08" rx="14.10" ry="7.78" fill="#e6e6e6" stroke="#2a2a2a" stroke-width="1.1" transform="rotate(0 274.03 435.08)"/>
<ellipse cx="265.06" cy="423.42" rx="7.05" ry="12.96" fill="#e6e6e6" stroke="#2a2a2a" stroke-width="1.1" transform="rotate(0 265.06 423.42)"/>
<ellipse cx="277.88" cy="423.42" rx="6.41" ry="9.72" fill="#e6e6e6" stroke="#2a2a2a" stroke-width="1.1" transform="rotate(0 277.88 423.42)"/>
<ellipse cx="290.06" cy="417.58" rx="7.05" ry="9.07" fill="#e6e6e6" stroke="#2a2a2a" stroke-width="1.1" transform="rotate(-10 290.06 417.58)"/>
<ellipse cx="264.42" cy="448.04" rx="6.41" ry="7.78" fill="#e6e6e6" stroke="#2a2a2a" stroke-width="1.1" transform="rotate(0 264.42 448.04)"/>
<ellipse cx="275.32" cy="448.04" rx="5.77" ry="7.13" fill="#e6e6e6" stroke="#2a2a2a" stroke-width="1.1" transform="rotate(0 275.32 448.04)"/>
<ellipse cx="274.03" cy="435.08" rx="14.10" ry="7.78" fill="#e6e6e6" transform="rotate(0 274.03 435.08)"/>
<ellipse cx="265.06" cy="423.42" rx="7.05" ry="12.96" fill="#e6e6e6" transform="rotate(0 265.06 423.42)"/>
<ellipse cx="277.88" cy="423.42" rx="6.41" ry="9.72" fill="#e6e6e6" transform="rotate(0 277.88 423.42)"/>
<ellipse cx="290.06" cy="417.58" rx="7.05" ry="9.07" fill="#e6e6e6" transform="rotate(-10 290.06 417.58)"/>
<ellipse cx="264.42" cy="448.04" rx="6.41" ry="7.78" fill="#e6e6e6" transform="rotate(0 264.42 448.04)"/>
<ellipse cx="275.32" cy="448.04" rx="5.77" ry="7.13" fill="#e6e6e6" transform="rotate(0 275.32 448.04)"/>
<ellipse cx="265.06" cy="423.42" rx="5.78" ry="10.63" fill="#f2f2f2" stroke="#7a7a7a" stroke-width="0.5" transform="rotate(0 265.06 423.42)"/>
<ellipse cx="265.06" cy="423.42" rx="4.37" ry="8.04" fill="#dedede" stroke="#7a7a7a" stroke-width="0.5" transform="rotate(0 265.06 423.42)"/>
<ellipse cx="265.06" cy="423.42" rx="2.96" ry="5.44" fill="#f4f4f4" stroke="#7a7a7a" stroke-width="0.5" transform="rotate(0 265.06 423.42)"/>
<ellipse cx="265.06" cy="423.42" rx="1.55" ry="2.85" fill="#e2e2e2" stroke="#7a7a7a" stroke-width="0.5" transform="rotate(0 265.06 423.42)"/>
<ellipse cx="277.88" cy="423.42" rx="5.26" ry="7.97" fill="#f2f2f2" stroke="#7a7a7a" stroke-width="0.5" transform="rotate(0 277.88 423.42)"/>
<ellipse cx="277.88" cy="423.42" rx="3.97" ry="6.03" fill="#dedede" stroke="#7a7a7a" stroke-width="0.5" transform="rotate(0 277.88 423.42)"/>
<ellipse cx="277.88" cy="423.42" rx="2.69" ry="4.08" fill="#f4f4f4" stroke="#7a7a7a" stroke-width="0.5" transform="rotate(0 277.88 423.42)"/>
<ellipse cx="277.88" cy="423.42" rx="1.41" ry="2.14" fill="#e2e2e2" stroke="#7a7a7a" stroke-width="0.5" transform="rotate(0 277.88 423.42)"/>
<ellipse cx="290.06" cy="417.58" rx="5.78" ry="7.44" fill="#f2f2f2" stroke="#7a7a7a" stroke-width="0.5" transform="rotate(-10 290.06 417.58)"/>
<ellipse cx="290.06" cy="417.58" rx="4.37" ry="5.62" fill="#dedede" stroke="#7a7a7a" stroke-width="0.5" transform="rotate(-10 290.06 417.58)"/>
<ellipse cx="290.06" cy="417.58" rx="2.96" ry="3.81" fill="#f4f4f4" stroke="#7a7a7a" stroke-width="0.5" transform="rotate(-10 290.06 417.58)"/>
<ellipse cx="290.06" cy="417.58" rx="1.55" ry="2.00" fill="#e2e2e2" stroke="#7a7a7a" stroke-width="0.5" transform="rotate(-10 290.06 417.58)"/>
<ellipse cx="264.42" cy="448.04" rx="5.26" ry="6.38" fill="#f2f2f2" stroke="#7a7a7a" stroke-width="0.5" transform="rotate(0 264.42 448.04)"/>
<ellipse cx="264.42" cy="448.04" rx="3.97" ry="4.82" fill="#dedede" stroke="#7a7a7a" stroke-width="0.5" transform="rotate(0 264.42 448.04)"/>
<ellipse cx="264.42" cy="448.04" rx="2.69" ry="3.27" fill="#f4f4f4" stroke="#7a7a7a" stroke-width="0.5" transform="rotate(0 264.42 448.04)"/>
<ellipse cx="264.42" cy="448.04" rx="1.41" ry="1.71" fill="#e2e2e2" stroke="#7a7a7a" stroke-width="0.5" transform="rotate(0 264.42 448.04)"/>
<ellipse cx="275.32" cy="448.04" rx="4.73" ry="5.84" fill="#f2f2f2" stroke="#7a7a7a" stroke-width="0.5" transform="rotate(0 275.32 448.04)"/>
<ellipse cx="275.32" cy="448.04" rx="3.58" ry="4.42" fill="#dedede" stroke="#7a7a7a" stroke-width="0.5" transform="rotate(0 275.32 448.04)"/>
<ellipse cx="275.32" cy="448.04" rx="2.42" ry="2.99" fill="#f4f4f4" stroke="#7a7a7a" stroke-width="0.5" transform="rotate(0 275.32 448.04)"/>
<ellipse cx="275.32" cy="448.04" rx="1.27" ry="1.57" fill="#e2e2e2" stroke="#7a7a7a" stroke-width="0.5" transform="rotate(0 275.32 448.04)"/>
</g>
<rect x="251.60" y="396.20" width="64.10" height="64.80" fill="none" stroke="#bdbdbd" stroke-width="0.7"/>
<path d="M251.6 409.2 L259.3 409.2 M267.6 409.2 L279.2 433.1 M267.6 409.2 L274.7 407.9 L310.6 408.5 L290.7 440.3 L279.8 461.0 M274.7 407.9 L291.3 439.0 M251.6 439.0 L283.6 439.0 " fill="none" stroke="#4a4a4a" stroke-width="0.55" />
<text x="256.60" y="403.20" font-size="3.8" fill="#d2334a" stroke="#d2334a" stroke-width="0.06" >IV</text>
<text x="255.10" y="408.20" font-size="3.8" fill="#d2334a" stroke="#d2334a" stroke-width="0.06" >21.0</text>
<text x="267.60" y="402.20" font-size="3.8" fill="#d2334a" stroke="#d2334a" stroke-width="0.06" >III</text>
<text x="266.10" y="407.20" font-size="3.8" fill="#d2334a" stroke="#d2334a" stroke-width="0.06" >30.8</text>
<text x="281.60" y="401.20" font-size="3.8" fill="#d2334a" stroke="#d2334a" stroke-width="0.06" >II</text>
<text x="280.10" y="406.20" font-size="3.8" fill="#d2334a" stroke="#d2334a" stroke-width="0.06" >24.0</text>
<text x="288.60" y="451.00" font-size="3.8" fill="#d2334a" stroke="#d2334a" stroke-width="0.06" >V</text>
<text x="286.60" y="456.00" font-size="3.8" fill="#d2334a" stroke="#d2334a" stroke-width="0.06" >21.7</text>
<text x="331.20" y="185.90" font-size="12.6" font-weight="bold" fill="#000" >D</text>
<line x1="362.90" y1="194.00" x2="362.90" y2="294.65" stroke="#222" stroke-width="1.1" />
<line x1="359.90" y1="294.10" x2="362.90" y2="294.10" stroke="#222" stroke-width="1.1" />
<text x="356.80" y="297.34" font-size="9" text-anchor="end" stroke="#222" stroke-width="0.06" textLength="5.00" lengthAdjust="spacingAndGlyphs" >0</text>
<line x1="359.90" y1="277.67" x2="362.90" y2="277.67" stroke="#222" stroke-width="1.1" />
<text x="356.80" y="280.91" font-size="9" text-anchor="end" stroke="#222" stroke-width="0.06" textLength="10.01" lengthAdjust="spacingAndGlyphs" >10</text>
<line x1="359.90" y1="261.24" x2="362.90" y2="261.24" stroke="#222" stroke-width="1.1" />
<text x="356.80" y="264.48" font-size="9" text-anchor="end" stroke="#222" stroke-width="0.06" textLength="10.01" lengthAdjust="spacingAndGlyphs" >20</text>
<line x1="359.90" y1="244.81" x2="362.90" y2="244.81" stroke="#222" stroke-width="1.1" />
<text x="356.80" y="248.05" font-size="9" text-anchor="end" stroke="#222" stroke-width="0.06" textLength="10.01" lengthAdjust="spacingAndGlyphs" >30</text>
<line x1="359.90" y1="228.38" x2="362.90" y2="228.38" stroke="#222" stroke-width="1.1" />
<text x="356.80" y="231.62" font-size="9" text-anchor="end" stroke="#222" stroke-width="0.06" textLength="10.01" lengthAdjust="spacingAndGlyphs" >40</text>
<line x1="359.90" y1="211.95" x2="362.90" y2="211.95" stroke="#222" stroke-width="1.1" />
<text x="356.80" y="215.19" font-size="9" text-anchor="end" stroke="#222" stroke-width="0.06" textLength="10.01" lengthAdjust="spacingAndGlyphs" >50</text>
<line x1="359.90" y1="195.52" x2="362.90" y2="195.52" stroke="#222" stroke-width="1.1" />
<text x="356.80" y="198.76" font-size="9" text-anchor="end" stroke="#222" stroke-width="0.06" textLength="10.01" lengthAdjust="spacingAndGlyphs" >60</text>
<text x="341.00" y="242.90" font-size="9.8" text-anchor="middle" stroke="#222" stroke-width="0.3" textLength="71.30" lengthAdjust="spacingAndGlyphs" transform="rotate(-90 341.00 242.90)" >% of lineage negative</text>
<rect x="368.30" y="293.00" width="5.50" height="1.10" fill="#8d9ac6" />
<rect x="378.90" y="288.00" width="6.10" height="6.10" fill="#eb8f83" />
<rect x="397.50" y="280.90" width="6.40" height="13.20" fill="#8d9ac6" />
<rect x="409.00" y="258.80" width="6.40" height="35.30" fill="#eb8f83" />
<rect x="427.70" y="266.70" width="6.40" height="27.40" fill="#8d9ac6" />
<rect x="439.20" y="264.00" width="6.40" height="30.10" fill="#eb8f83" />
<rect x="457.50" y="234.70" width="6.30" height="59.40" fill="#8d9ac6" />
<rect x="469.00" y="257.50" width="6.20" height="36.60" fill="#eb8f83" />
<rect x="488.00" y="261.20" width="6.00" height="32.90" fill="#8d9ac6" />
<rect x="499.50" y="262.10" width="6.00" height="32.00" fill="#eb8f83" />
<line x1="362.35" y1="294.10" x2="509.50" y2="294.10" stroke="#222" stroke-width="1.1" />
<line x1="376.70" y1="294.10" x2="376.70" y2="297.10" stroke="#222" stroke-width="1.1" />
<line x1="406.50" y1="294.10" x2="406.50" y2="297.10" stroke="#222" stroke-width="1.1" />
<line x1="436.70" y1="294.10" x2="436.70" y2="297.10" stroke="#222" stroke-width="1.1" />
<line x1="466.60" y1="294.10" x2="466.60" y2="297.10" stroke="#222" stroke-width="1.1" />
<line x1="496.70" y1="294.10" x2="496.70" y2="297.10" stroke="#222" stroke-width="1.1" />
<line x1="401.00" y1="280.90" x2="401.00" y2="276.00" stroke="#263c62" stroke-width="0.9" />
<line x1="398.40" y1="276.00" x2="403.60" y2="276.00" stroke="#263c62" stroke-width="0.9" />
<line x1="412.20" y1="258.80" x2="412.20" y2="252.00" stroke="#a8283a" stroke-width="0.9" />
<line x1="409.60" y1="252.00" x2="414.80" y2="252.00" stroke="#a8283a" stroke-width="0.9" />
<line x1="431.00" y1="266.70" x2="431.00" y2="261.00" stroke="#263c62" stroke-width="0.9" />
<line x1="428.40" y1="261.00" x2="433.60" y2="261.00" stroke="#263c62" stroke-width="0.9" />
<line x1="460.70" y1="234.70" x2="460.70" y2="219.20" stroke="#263c62" stroke-width="0.9" />
<line x1="458.10" y1="219.20" x2="463.30" y2="219.20" stroke="#263c62" stroke-width="0.9" />
<line x1="472.10" y1="257.50" x2="472.10" y2="250.20" stroke="#a8283a" stroke-width="0.9" />
<line x1="469.50" y1="250.20" x2="474.70" y2="250.20" stroke="#a8283a" stroke-width="0.9" />
<line x1="491.00" y1="261.20" x2="491.00" y2="247.10" stroke="#263c62" stroke-width="0.9" />
<line x1="488.40" y1="247.10" x2="493.60" y2="247.10" stroke="#263c62" stroke-width="0.9" />
<line x1="502.50" y1="262.10" x2="502.50" y2="255.40" stroke="#a8283a" stroke-width="0.9" />
<line x1="499.90" y1="255.40" x2="505.10" y2="255.40" stroke="#a8283a" stroke-width="0.9" />
<line x1="382.00" y1="288.00" x2="382.00" y2="285.00" stroke="#a8283a" stroke-width="0.9" />
<line x1="379.40" y1="285.00" x2="384.60" y2="285.00" stroke="#a8283a" stroke-width="0.9" />
<circle cx="369.50" cy="292.60" r="1.8" fill="#183f7c"/>
<circle cx="371.70" cy="293.40" r="1.8" fill="#183f7c"/>
<circle cx="373.00" cy="293.40" r="1.8" fill="#183f7c"/>
<circle cx="400.80" cy="272.60" r="1.8" fill="#183f7c"/>
<circle cx="398.50" cy="280.40" r="1.8" fill="#183f7c"/>
<circle cx="403.00" cy="280.40" r="1.8" fill="#183f7c"/>
<circle cx="400.80" cy="290.70" r="1.8" fill="#183f7c"/>
<circle cx="399.00" cy="283.00" r="1.8" fill="#183f7c"/>
<circle cx="429.10" cy="254.30" r="1.8" fill="#183f7c"/>
<circle cx="433.20" cy="255.20" r="1.8" fill="#183f7c"/>
<circle cx="431.30" cy="258.80" r="1.8" fill="#183f7c"/>
<circle cx="429.10" cy="266.70" r="1.8" fill="#183f7c"/>
<circle cx="433.20" cy="266.70" r="1.8" fill="#183f7c"/>
<circle cx="431.00" cy="282.60" r="1.8" fill="#183f7c"/>
<circle cx="460.00" cy="215.50" r="1.8" fill="#183f7c"/>
<circle cx="463.00" cy="216.00" r="1.8" fill="#183f7c"/>
<circle cx="461.00" cy="227.40" r="1.8" fill="#183f7c"/>
<circle cx="459.00" cy="232.00" r="1.8" fill="#183f7c"/>
<circle cx="462.00" cy="233.00" r="1.8" fill="#183f7c"/>
<circle cx="458.50" cy="238.00" r="1.8" fill="#183f7c"/>
<circle cx="463.00" cy="236.00" r="1.8" fill="#183f7c"/>
<circle cx="490.60" cy="238.70" r="1.8" fill="#183f7c"/>
<circle cx="490.60" cy="250.20" r="1.8" fill="#183f7c"/>
<circle cx="488.00" cy="258.80" r="1.8" fill="#183f7c"/>
<circle cx="493.00" cy="260.30" r="1.8" fill="#183f7c"/>
<circle cx="490.00" cy="269.40" r="1.8" fill="#183f7c"/>
<circle cx="490.00" cy="273.40" r="1.8" fill="#183f7c"/>
<circle cx="382.00" cy="279.00" r="1.8" fill="#c4122f"/>
<circle cx="381.00" cy="283.50" r="1.8" fill="#c4122f"/>
<circle cx="379.50" cy="288.00" r="1.8" fill="#c4122f"/>
<circle cx="384.00" cy="288.00" r="1.8" fill="#c4122f"/>
<circle cx="410.30" cy="251.10" r="1.8" fill="#c4122f"/>
<circle cx="414.20" cy="253.50" r="1.8" fill="#c4122f"/>
<circle cx="410.30" cy="256.30" r="1.8" fill="#c4122f"/>
<circle cx="414.20" cy="258.50" r="1.8" fill="#c4122f"/>
<circle cx="410.30" cy="262.00" r="1.8" fill="#c4122f"/>
<circle cx="414.20" cy="263.50" r="1.8" fill="#c4122f"/>
<circle cx="412.00" cy="273.00" r="1.8" fill="#c4122f"/>
<circle cx="441.00" cy="260.30" r="1.8" fill="#c4122f"/>
<circle cx="444.50" cy="262.00" r="1.8" fill="#c4122f"/>
<circle cx="441.00" cy="266.00" r="1.8" fill="#c4122f"/>
<circle cx="445.00" cy="266.50" r="1.8" fill="#c4122f"/>
<circle cx="442.50" cy="271.60" r="1.8" fill="#c4122f"/>
<circle cx="472.30" cy="240.20" r="1.8" fill="#c4122f"/>
<circle cx="470.00" cy="259.40" r="1.8" fill="#c4122f"/>
<circle cx="474.60" cy="257.00" r="1.8" fill="#c4122f"/>
<circle cx="470.00" cy="263.00" r="1.8" fill="#c4122f"/>
<circle cx="474.00" cy="263.00" r="1.8" fill="#c4122f"/>
<circle cx="471.00" cy="268.00" r="1.8" fill="#c4122f"/>
<circle cx="502.30" cy="249.30" r="1.8" fill="#c4122f"/>
<circle cx="500.00" cy="261.20" r="1.8" fill="#c4122f"/>
<circle cx="505.00" cy="261.20" r="1.8" fill="#c4122f"/>
<circle cx="502.00" cy="264.50" r="1.8" fill="#c4122f"/>
<circle cx="502.00" cy="270.30" r="1.8" fill="#c4122f"/>
<line x1="368.30" y1="270.90" x2="382.00" y2="270.90" stroke="#555" stroke-width="0.9" />
<circle cx="373.55" cy="266.30" r="1.0" fill="#1a1a1a"/>
<circle cx="376.75" cy="266.30" r="1.0" fill="#1a1a1a"/>
<line x1="399.20" y1="242.00" x2="412.50" y2="242.00" stroke="#555" stroke-width="0.9" />
<circle cx="402.65" cy="237.40" r="1.0" fill="#1a1a1a"/>
<circle cx="405.85" cy="237.40" r="1.0" fill="#1a1a1a"/>
<circle cx="409.05" cy="237.40" r="1.0" fill="#1a1a1a"/>
<line x1="459.30" y1="210.00" x2="472.00" y2="210.00" stroke="#555" stroke-width="0.9" />
<circle cx="462.45" cy="205.40" r="1.0" fill="#1a1a1a"/>
<circle cx="465.65" cy="205.40" r="1.0" fill="#1a1a1a"/>
<circle cx="468.85" cy="205.40" r="1.0" fill="#1a1a1a"/>
<text x="376.70" y="307.60" font-size="8.3" text-anchor="middle" stroke="#222" stroke-width="0.06" >I</text>
<text x="406.50" y="307.60" font-size="8.3" text-anchor="middle" stroke="#222" stroke-width="0.06" >II</text>
<text x="436.70" y="307.60" font-size="8.3" text-anchor="middle" stroke="#222" stroke-width="0.06" >III</text>
<text x="466.60" y="307.60" font-size="8.3" text-anchor="middle" stroke="#222" stroke-width="0.06" >IV</text>
<text x="496.70" y="307.60" font-size="8.3" text-anchor="middle" stroke="#222" stroke-width="0.06" >V</text>
<line x1="362.90" y1="320.50" x2="362.90" y2="422.15" stroke="#222" stroke-width="1.1" />
<line x1="359.90" y1="421.60" x2="362.90" y2="421.60" stroke="#222" stroke-width="1.1" />
<text x="356.80" y="424.84" font-size="9" text-anchor="end" stroke="#222" stroke-width="0.06" textLength="5.00" lengthAdjust="spacingAndGlyphs" >0</text>
<line x1="359.90" y1="388.50" x2="362.90" y2="388.50" stroke="#222" stroke-width="1.1" />
<text x="356.80" y="391.74" font-size="9" text-anchor="end" stroke="#222" stroke-width="0.06" textLength="5.00" lengthAdjust="spacingAndGlyphs" >5</text>
<line x1="359.90" y1="355.40" x2="362.90" y2="355.40" stroke="#222" stroke-width="1.1" />
<text x="356.80" y="358.64" font-size="9" text-anchor="end" stroke="#222" stroke-width="0.06" textLength="10.01" lengthAdjust="spacingAndGlyphs" >10</text>
<line x1="359.90" y1="322.30" x2="362.90" y2="322.30" stroke="#222" stroke-width="1.1" />
<text x="356.80" y="325.54" font-size="9" text-anchor="end" stroke="#222" stroke-width="0.06" textLength="10.01" lengthAdjust="spacingAndGlyphs" >15</text>
<text x="340.4" y="370.5" font-size="9.8" stroke="#222" stroke-width="0.3" text-anchor="middle" transform="rotate(-90 340.4 370.5)" textLength="57.7" lengthAdjust="spacingAndGlyphs">×10<tspan font-size="6" dy="-3">6</tspan><tspan dy="3"> cells/mouse</tspan></text>
<rect x="368.00" y="421.00" width="5.80" height="0.60" fill="#8d9ac6" />
<rect x="379.80" y="417.50" width="5.90" height="4.10" fill="#eb8f83" />
<rect x="398.40" y="407.70" width="5.90" height="13.90" fill="#8d9ac6" />
<rect x="410.20" y="409.00" width="6.00" height="12.60" fill="#eb8f83" />
<rect x="429.40" y="394.70" width="5.70" height="26.90" fill="#8d9ac6" />
<rect x="440.70" y="410.00" width="6.00" height="11.60" fill="#eb8f83" />
<rect x="459.60" y="358.70" width="6.00" height="62.90" fill="#8d9ac6" />
<rect x="471.30" y="406.90" width="6.00" height="14.70" fill="#eb8f83" />
<rect x="490.60" y="389.70" width="6.00" height="31.90" fill="#8d9ac6" />
<rect x="501.80" y="406.90" width="6.50" height="14.70" fill="#eb8f83" />
<line x1="362.35" y1="421.60" x2="512.30" y2="421.60" stroke="#222" stroke-width="1.1" />
<line x1="376.40" y1="421.60" x2="376.40" y2="424.60" stroke="#222" stroke-width="1.1" />
<line x1="407.40" y1="421.60" x2="407.40" y2="424.60" stroke="#222" stroke-width="1.1" />
<line x1="438.20" y1="421.60" x2="438.20" y2="424.60" stroke="#222" stroke-width="1.1" />
<line x1="468.20" y1="421.60" x2="468.20" y2="424.60" stroke="#222" stroke-width="1.1" />
<line x1="499.20" y1="421.60" x2="499.20" y2="424.60" stroke="#222" stroke-width="1.1" />
<line x1="462.60" y1="358.70" x2="462.60" y2="348.00" stroke="#263c62" stroke-width="0.9" />
<line x1="460.00" y1="348.00" x2="465.20" y2="348.00" stroke="#263c62" stroke-width="0.9" />
<line x1="493.60" y1="389.70" x2="493.60" y2="384.50" stroke="#263c62" stroke-width="0.9" />
<line x1="491.00" y1="384.50" x2="496.20" y2="384.50" stroke="#263c62" stroke-width="0.9" />
<line x1="432.20" y1="394.70" x2="432.20" y2="390.00" stroke="#263c62" stroke-width="0.9" />
<line x1="429.60" y1="390.00" x2="434.80" y2="390.00" stroke="#263c62" stroke-width="0.9" />
<line x1="401.30" y1="407.70" x2="401.30" y2="404.00" stroke="#263c62" stroke-width="0.9" />
<line x1="398.70" y1="404.00" x2="403.90" y2="404.00" stroke="#263c62" stroke-width="0.9" />
<circle cx="368.50" cy="420.60" r="1.8" fill="#183f7c"/>
<circle cx="370.50" cy="420.80" r="1.8" fill="#183f7c"/>
<circle cx="372.50" cy="420.80" r="1.8" fill="#183f7c"/>
<circle cx="399.70" cy="398.10" r="1.8" fill="#183f7c"/>
<circle cx="403.50" cy="401.10" r="1.8" fill="#183f7c"/>
<circle cx="399.50" cy="404.30" r="1.8" fill="#183f7c"/>
<circle cx="403.50" cy="405.40" r="1.8" fill="#183f7c"/>
<circle cx="399.70" cy="408.70" r="1.8" fill="#183f7c"/>
<circle cx="403.50" cy="410.80" r="1.8" fill="#183f7c"/>
<circle cx="401.00" cy="420.00" r="1.8" fill="#183f7c"/>
<circle cx="432.00" cy="378.30" r="1.8" fill="#183f7c"/>
<circle cx="429.50" cy="386.20" r="1.8" fill="#183f7c"/>
<circle cx="435.00" cy="384.00" r="1.8" fill="#183f7c"/>
<circle cx="432.00" cy="388.80" r="1.8" fill="#183f7c"/>
<circle cx="429.50" cy="393.00" r="1.8" fill="#183f7c"/>
<circle cx="434.00" cy="394.70" r="1.8" fill="#183f7c"/>
<circle cx="432.00" cy="418.40" r="1.8" fill="#183f7c"/>
<circle cx="462.80" cy="327.40" r="1.8" fill="#183f7c"/>
<circle cx="460.80" cy="341.00" r="1.8" fill="#183f7c"/>
<circle cx="464.70" cy="339.30" r="1.8" fill="#183f7c"/>
<circle cx="464.50" cy="360.80" r="1.8" fill="#183f7c"/>
<circle cx="460.50" cy="363.50" r="1.8" fill="#183f7c"/>
<circle cx="462.80" cy="367.30" r="1.8" fill="#183f7c"/>
<circle cx="462.50" cy="404.00" r="1.8" fill="#183f7c"/>
<circle cx="493.30" cy="361.80" r="1.8" fill="#183f7c"/>
<circle cx="493.30" cy="381.40" r="1.8" fill="#183f7c"/>
<circle cx="493.30" cy="386.20" r="1.8" fill="#183f7c"/>
<circle cx="491.50" cy="394.50" r="1.8" fill="#183f7c"/>
<circle cx="495.00" cy="392.20" r="1.8" fill="#183f7c"/>
<circle cx="495.00" cy="402.60" r="1.8" fill="#183f7c"/>
<circle cx="491.00" cy="404.80" r="1.8" fill="#183f7c"/>
<circle cx="382.40" cy="411.10" r="1.8" fill="#c4122f"/>
<circle cx="380.50" cy="418.00" r="1.8" fill="#c4122f"/>
<circle cx="384.00" cy="418.00" r="1.8" fill="#c4122f"/>
<circle cx="382.00" cy="419.50" r="1.8" fill="#c4122f"/>
<circle cx="413.00" cy="395.90" r="1.8" fill="#c4122f"/>
<circle cx="413.00" cy="400.60" r="1.8" fill="#c4122f"/>
<circle cx="410.50" cy="405.50" r="1.8" fill="#c4122f"/>
<circle cx="415.50" cy="405.50" r="1.8" fill="#c4122f"/>
<circle cx="412.00" cy="410.00" r="1.8" fill="#c4122f"/>
<circle cx="411.00" cy="413.80" r="1.8" fill="#c4122f"/>
<circle cx="414.50" cy="413.80" r="1.8" fill="#c4122f"/>
<circle cx="412.00" cy="416.70" r="1.8" fill="#c4122f"/>
<circle cx="443.80" cy="400.10" r="1.8" fill="#c4122f"/>
<circle cx="441.50" cy="405.50" r="1.8" fill="#c4122f"/>
<circle cx="446.00" cy="405.50" r="1.8" fill="#c4122f"/>
<circle cx="442.00" cy="413.50" r="1.8" fill="#c4122f"/>
<circle cx="446.00" cy="413.50" r="1.8" fill="#c4122f"/>
<circle cx="443.00" cy="417.00" r="1.8" fill="#c4122f"/>
<circle cx="474.20" cy="399.60" r="1.8" fill="#c4122f"/>
<circle cx="473.00" cy="406.00" r="1.8" fill="#c4122f"/>
<circle cx="476.00" cy="406.00" r="1.8" fill="#c4122f"/>
<circle cx="472.00" cy="410.00" r="1.8" fill="#c4122f"/>
<circle cx="476.00" cy="410.00" r="1.8" fill="#c4122f"/>
<circle cx="474.00" cy="414.00" r="1.8" fill="#c4122f"/>
<circle cx="504.00" cy="406.00" r="1.8" fill="#c4122f"/>
<circle cx="502.00" cy="408.00" r="1.8" fill="#c4122f"/>
<circle cx="507.00" cy="408.00" r="1.8" fill="#c4122f"/>
<circle cx="503.00" cy="410.00" r="1.8" fill="#c4122f"/>
<circle cx="506.00" cy="410.00" r="1.8" fill="#c4122f"/>
<circle cx="504.50" cy="413.40" r="1.8" fill="#c4122f"/>
<line x1="371.30" y1="406.00" x2="385.20" y2="406.00" stroke="#555" stroke-width="0.9" />
<circle cx="378.25" cy="401.40" r="1.0" fill="#1a1a1a"/>
<line x1="428.80" y1="374.40" x2="442.40" y2="374.40" stroke="#555" stroke-width="0.9" />
<circle cx="434.00" cy="369.80" r="1.0" fill="#1a1a1a"/>
<circle cx="437.20" cy="369.80" r="1.0" fill="#1a1a1a"/>
<line x1="465.30" y1="334.10" x2="478.50" y2="334.10" stroke="#555" stroke-width="0.9" />
<circle cx="470.30" cy="329.50" r="1.0" fill="#1a1a1a"/>
<circle cx="473.50" cy="329.50" r="1.0" fill="#1a1a1a"/>
<line x1="492.00" y1="357.00" x2="505.70" y2="357.00" stroke="#555" stroke-width="0.9" />
<circle cx="497.25" cy="352.40" r="1.0" fill="#1a1a1a"/>
<circle cx="500.45" cy="352.40" r="1.0" fill="#1a1a1a"/>
<text x="376.40" y="435.50" font-size="8.3" text-anchor="middle" stroke="#222" stroke-width="0.06" >I</text>
<text x="407.40" y="435.50" font-size="8.3" text-anchor="middle" stroke="#222" stroke-width="0.06" >II</text>
<text x="438.20" y="435.50" font-size="8.3" text-anchor="middle" stroke="#222" stroke-width="0.06" >III</text>
<text x="468.20" y="435.50" font-size="8.3" text-anchor="middle" stroke="#222" stroke-width="0.06" >IV</text>
<text x="499.20" y="435.50" font-size="8.3" text-anchor="middle" stroke="#222" stroke-width="0.06" >V</text>
<circle cx="419.60" cy="450.00" r="1.9" fill="#183f7c"/>
<text x="425.00" y="452.60" font-size="8.4" stroke="#222" stroke-width="0.06" >WT</text>
<circle cx="419.60" cy="462.70" r="1.9" fill="#c4122f"/>
<text x="425.00" y="465.30" font-size="8.6" stroke="#222" stroke-width="0.06" >Rpl11</text>
<text x="447.50" y="461.00" font-size="6.4" stroke="#222" stroke-width="0.06" >+/Δ</text>
<text x="8.10" y="498.10" font-size="12.6" font-weight="bold" fill="#000" >E</text>
<line x1="52.60" y1="505.50" x2="52.60" y2="600.95" stroke="#222" stroke-width="1.1" />
<line x1="49.60" y1="600.40" x2="52.60" y2="600.40" stroke="#222" stroke-width="1.1" />
<text x="45.80" y="603.50" font-size="8.6" text-anchor="end" stroke="#222" stroke-width="0.06" textLength="16.74" lengthAdjust="spacingAndGlyphs" >0.00</text>
<line x1="49.60" y1="582.00" x2="52.60" y2="582.00" stroke="#222" stroke-width="1.1" />
<text x="45.80" y="585.10" font-size="8.6" text-anchor="end" stroke="#222" stroke-width="0.06" textLength="16.74" lengthAdjust="spacingAndGlyphs" >2.00</text>
<line x1="49.60" y1="563.60" x2="52.60" y2="563.60" stroke="#222" stroke-width="1.1" />
<text x="45.80" y="566.70" font-size="8.6" text-anchor="end" stroke="#222" stroke-width="0.06" textLength="16.74" lengthAdjust="spacingAndGlyphs" >4.00</text>
<line x1="49.60" y1="545.20" x2="52.60" y2="545.20" stroke="#222" stroke-width="1.1" />
<text x="45.80" y="548.30" font-size="8.6" text-anchor="end" stroke="#222" stroke-width="0.06" textLength="16.74" lengthAdjust="spacingAndGlyphs" >6.00</text>
<line x1="49.60" y1="526.80" x2="52.60" y2="526.80" stroke="#222" stroke-width="1.1" />
<text x="45.80" y="529.90" font-size="8.6" text-anchor="end" stroke="#222" stroke-width="0.06" textLength="16.74" lengthAdjust="spacingAndGlyphs" >8.00</text>
<line x1="49.60" y1="508.40" x2="52.60" y2="508.40" stroke="#222" stroke-width="1.1" />
<text x="45.80" y="511.50" font-size="8.6" text-anchor="end" stroke="#222" stroke-width="0.06" textLength="21.52" lengthAdjust="spacingAndGlyphs" >10.00</text>
<text x="17.00" y="553.30" font-size="10.2" text-anchor="middle" stroke="#222" stroke-width="0.3" textLength="35.80" lengthAdjust="spacingAndGlyphs" transform="rotate(-90 17.00 553.30)" >Hgb (g/dL)</text>
<line x1="52.05" y1="600.40" x2="228.50" y2="600.40" stroke="#222" stroke-width="1.1" />
<line x1="69.60" y1="600.40" x2="69.60" y2="603.40" stroke="#222" stroke-width="1.1" />
<line x1="104.60" y1="600.40" x2="104.60" y2="603.40" stroke="#222" stroke-width="1.1" />
<line x1="139.20" y1="600.40" x2="139.20" y2="603.40" stroke="#222" stroke-width="1.1" />
<line x1="173.80" y1="600.40" x2="173.80" y2="603.40" stroke="#222" stroke-width="1.1" />
<line x1="208.50" y1="600.40" x2="208.50" y2="603.40" stroke="#222" stroke-width="1.1" />
<line x1="227.30" y1="600.40" x2="227.30" y2="603.40" stroke="#222" stroke-width="1.1" />
<line x1="69.60" y1="522.66" x2="69.60" y2="519.90" stroke="#3f9b4b" stroke-width="0.9" />
<line x1="67.80" y1="519.90" x2="71.40" y2="519.90" stroke="#3f9b4b" stroke-width="0.9" />
<line x1="104.60" y1="534.16" x2="104.60" y2="525.42" stroke="#3f9b4b" stroke-width="0.9" />
<line x1="102.80" y1="525.42" x2="106.40" y2="525.42" stroke="#3f9b4b" stroke-width="0.9" />
<line x1="139.20" y1="537.66" x2="139.20" y2="528.92" stroke="#3f9b4b" stroke-width="0.9" />
<line x1="137.40" y1="528.92" x2="141.00" y2="528.92" stroke="#3f9b4b" stroke-width="0.9" />
<line x1="173.80" y1="544.28" x2="173.80" y2="535.54" stroke="#3f9b4b" stroke-width="0.9" />
<line x1="172.00" y1="535.54" x2="175.60" y2="535.54" stroke="#3f9b4b" stroke-width="0.9" />
<line x1="208.50" y1="546.58" x2="208.50" y2="537.84" stroke="#3f9b4b" stroke-width="0.9" />
<line x1="206.70" y1="537.84" x2="210.30" y2="537.84" stroke="#3f9b4b" stroke-width="0.9" />
<line x1="69.60" y1="522.66" x2="69.60" y2="525.42" stroke="#3f9b4b" stroke-width="0.9" />
<line x1="69.60" y1="531.40" x2="69.60" y2="534.16" stroke="#f0901f" stroke-width="0.9" />
<line x1="67.80" y1="534.16" x2="71.40" y2="534.16" stroke="#f0901f" stroke-width="0.9" />
<line x1="104.60" y1="558.54" x2="104.60" y2="563.60" stroke="#f0901f" stroke-width="0.9" />
<line x1="102.80" y1="563.60" x2="106.40" y2="563.60" stroke="#f0901f" stroke-width="0.9" />
<line x1="139.20" y1="567.28" x2="139.20" y2="572.34" stroke="#f0901f" stroke-width="0.9" />
<line x1="137.40" y1="572.34" x2="141.00" y2="572.34" stroke="#f0901f" stroke-width="0.9" />
<line x1="173.80" y1="568.38" x2="173.80" y2="574.09" stroke="#f0901f" stroke-width="0.9" />
<line x1="172.00" y1="574.09" x2="175.60" y2="574.09" stroke="#f0901f" stroke-width="0.9" />
<line x1="208.50" y1="568.75" x2="208.50" y2="570.13" stroke="#f0901f" stroke-width="0.9" />
<line x1="206.70" y1="570.13" x2="210.30" y2="570.13" stroke="#f0901f" stroke-width="0.9" />
<line x1="69.60" y1="531.40" x2="69.60" y2="528.64" stroke="#f0901f" stroke-width="0.9" />
<polyline points="69.6,522.7 104.6,534.2 139.2,537.7 173.8,544.3 208.5,546.6" fill="none" stroke="#3f9b4b" stroke-width="1.1"/>
<polyline points="69.6,531.4 104.6,558.5 139.2,567.3 173.8,568.4 208.5,568.8" fill="none" stroke="#f0901f" stroke-width="1.1"/>
<path d="M69.6 520.1L72.2 522.7L69.6 525.3L67.0 522.7Z" fill="#3f9b4b"/>
<path d="M104.6 531.6L107.2 534.2L104.6 536.8L102.0 534.2Z" fill="#3f9b4b"/>
<path d="M139.2 535.1L141.8 537.7L139.2 540.3L136.6 537.7Z" fill="#3f9b4b"/>
<path d="M173.8 541.7L176.4 544.3L173.8 546.9L171.2 544.3Z" fill="#3f9b4b"/>
<path d="M208.5 544.0L211.1 546.6L208.5 549.2L205.9 546.6Z" fill="#3f9b4b"/>
<circle cx="69.60" cy="531.40" r="2.3" fill="#f0901f"/>
<circle cx="104.60" cy="558.54" r="2.3" fill="#f0901f"/>
<circle cx="139.20" cy="567.28" r="2.3" fill="#f0901f"/>
<circle cx="173.80" cy="568.38" r="2.3" fill="#f0901f"/>
<circle cx="208.50" cy="568.75" r="2.3" fill="#f0901f"/>
<circle cx="139.20" cy="523.80" r="1.15" fill="#1a1a1a"/>
<text x="69.60" y="615.00" font-size="8" text-anchor="middle" stroke="#222" stroke-width="0.06" >Prio-Tx</text>
<text x="104.60" y="615.00" font-size="8" text-anchor="middle" stroke="#222" stroke-width="0.06" >4 wks</text>
<text x="139.20" y="615.00" font-size="8" text-anchor="middle" stroke="#222" stroke-width="0.06" >8 wks</text>
<text x="173.80" y="615.00" font-size="8" text-anchor="middle" stroke="#222" stroke-width="0.06" >12 wks</text>
<text x="208.50" y="615.00" font-size="8" text-anchor="middle" stroke="#222" stroke-width="0.06" >16 wks</text>
<text x="140.80" y="628.60" font-size="9.8" text-anchor="middle" stroke="#222" stroke-width="0.3" textLength="48.60" lengthAdjust="spacingAndGlyphs" >Treatment time</text>
<line x1="177.70" y1="513.20" x2="189.20" y2="513.20" stroke="#3f9b4b" stroke-width="1.1" />
<path d="M183.4 511.2L185.4 513.2L183.4 515.2L181.4 513.2Z" fill="#3f9b4b"/>
<text x="191.40" y="515.90" font-size="8" stroke="#222" stroke-width="0.06" >Treated</text>
<line x1="177.70" y1="525.90" x2="189.20" y2="525.90" stroke="#f0901f" stroke-width="1.1" />
<circle cx="183.40" cy="525.90" r="1.8" fill="#f0901f"/>
<text x="191.40" y="528.60" font-size="8" stroke="#222" stroke-width="0.06" >Control</text>
<text x="240.40" y="498.10" font-size="12.6" font-weight="bold" fill="#000" >F</text>
<line x1="277.80" y1="504.20" x2="277.80" y2="601.30" stroke="#222" stroke-width="1.1" />
<line x1="274.80" y1="600.80" x2="277.80" y2="600.80" stroke="#222" stroke-width="0.8" />
<line x1="276.20" y1="596.57" x2="277.80" y2="596.57" stroke="#222" stroke-width="0.8" />
<line x1="276.20" y1="592.34" x2="277.80" y2="592.34" stroke="#222" stroke-width="0.8" />
<line x1="276.20" y1="588.11" x2="277.80" y2="588.11" stroke="#222" stroke-width="0.8" />
<line x1="276.20" y1="583.88" x2="277.80" y2="583.88" stroke="#222" stroke-width="0.8" />
<line x1="276.20" y1="579.65" x2="277.80" y2="579.65" stroke="#222" stroke-width="0.8" />
<line x1="276.20" y1="575.42" x2="277.80" y2="575.42" stroke="#222" stroke-width="0.8" />
<line x1="276.20" y1="571.19" x2="277.80" y2="571.19" stroke="#222" stroke-width="0.8" />
<line x1="276.20" y1="566.96" x2="277.80" y2="566.96" stroke="#222" stroke-width="0.8" />
<line x1="276.20" y1="562.73" x2="277.80" y2="562.73" stroke="#222" stroke-width="0.8" />
<line x1="274.80" y1="558.50" x2="277.80" y2="558.50" stroke="#222" stroke-width="0.8" />
<line x1="276.20" y1="554.27" x2="277.80" y2="554.27" stroke="#222" stroke-width="0.8" />
<line x1="276.20" y1="550.04" x2="277.80" y2="550.04" stroke="#222" stroke-width="0.8" />
<line x1="276.20" y1="545.81" x2="277.80" y2="545.81" stroke="#222" stroke-width="0.8" />
<line x1="276.20" y1="541.58" x2="277.80" y2="541.58" stroke="#222" stroke-width="0.8" />
<line x1="276.20" y1="537.35" x2="277.80" y2="537.35" stroke="#222" stroke-width="0.8" />
<line x1="276.20" y1="533.12" x2="277.80" y2="533.12" stroke="#222" stroke-width="0.8" />
<line x1="276.20" y1="528.89" x2="277.80" y2="528.89" stroke="#222" stroke-width="0.8" />
<line x1="276.20" y1="524.66" x2="277.80" y2="524.66" stroke="#222" stroke-width="0.8" />
<line x1="276.20" y1="520.43" x2="277.80" y2="520.43" stroke="#222" stroke-width="0.8" />
<line x1="274.80" y1="516.20" x2="277.80" y2="516.20" stroke="#222" stroke-width="0.8" />
<line x1="276.20" y1="511.97" x2="277.80" y2="511.97" stroke="#222" stroke-width="0.8" />
<line x1="276.20" y1="507.74" x2="277.80" y2="507.74" stroke="#222" stroke-width="0.8" />
<text x="271.00" y="603.80" font-size="8.5" text-anchor="end" stroke="#222" stroke-width="0.06" textLength="4.92" lengthAdjust="spacingAndGlyphs" >0</text>
<text x="271.00" y="561.50" font-size="8.5" text-anchor="end" stroke="#222" stroke-width="0.06" textLength="9.83" lengthAdjust="spacingAndGlyphs" >50</text>
<text x="271.00" y="519.20" font-size="8.5" text-anchor="end" stroke="#222" stroke-width="0.06" textLength="14.75" lengthAdjust="spacingAndGlyphs" >100</text>
<text x="249.00" y="552.20" font-size="9.8" text-anchor="middle" stroke="#222" stroke-width="0.3" textLength="70.30" lengthAdjust="spacingAndGlyphs" transform="rotate(-90 249.00 552.20)" >Probability of survival</text>
<line x1="277.30" y1="600.80" x2="431.00" y2="600.80" stroke="#222" stroke-width="1.1" />
<line x1="277.80" y1="600.80" x2="277.80" y2="603.80" stroke="#222" stroke-width="1.0" />
<text x="277.80" y="613.90" font-size="8" text-anchor="middle" stroke="#222" stroke-width="0.06" textLength="5.34" lengthAdjust="spacingAndGlyphs" >0</text>
<line x1="315.40" y1="600.80" x2="315.40" y2="603.80" stroke="#222" stroke-width="1.0" />
<text x="315.40" y="613.90" font-size="8" text-anchor="middle" stroke="#222" stroke-width="0.06" textLength="10.68" lengthAdjust="spacingAndGlyphs" >10</text>
<line x1="353.00" y1="600.80" x2="353.00" y2="603.80" stroke="#222" stroke-width="1.0" />
<text x="353.00" y="613.90" font-size="8" text-anchor="middle" stroke="#222" stroke-width="0.06" textLength="10.68" lengthAdjust="spacingAndGlyphs" >20</text>
<line x1="390.60" y1="600.80" x2="390.60" y2="603.80" stroke="#222" stroke-width="1.0" />
<text x="390.60" y="613.90" font-size="8" text-anchor="middle" stroke="#222" stroke-width="0.06" textLength="10.68" lengthAdjust="spacingAndGlyphs" >30</text>
<line x1="428.20" y1="600.80" x2="428.20" y2="603.80" stroke="#222" stroke-width="1.0" />
<text x="428.20" y="613.90" font-size="8" text-anchor="middle" stroke="#222" stroke-width="0.06" textLength="10.68" lengthAdjust="spacingAndGlyphs" >40</text>
<text x="353.80" y="628.60" font-size="9.8" text-anchor="middle" stroke="#222" stroke-width="0.3" textLength="47.50" lengthAdjust="spacingAndGlyphs" >Survival (wks)</text>
<polyline points="277.8,516.2 373.8,516.2 373.8,525.3 417,525.3" fill="none" stroke="#3f9b4b" stroke-width="1.0"/>
<polyline points="277.8,516.2 371.6,516.2 371.6,536.7 374.5,536.7 374.5,558.5 379,558.5 379,569 405,569" fill="none" stroke="#f0901f" stroke-width="1.0"/>
<line x1="397.40" y1="523.30" x2="397.40" y2="527.30" stroke="#3f9b4b" stroke-width="0.7" />
<line x1="401.50" y1="523.30" x2="401.50" y2="527.30" stroke="#3f9b4b" stroke-width="0.7" />
<line x1="405.00" y1="523.30" x2="405.00" y2="527.30" stroke="#3f9b4b" stroke-width="0.7" />
<line x1="416.40" y1="523.30" x2="416.40" y2="527.30" stroke="#3f9b4b" stroke-width="0.7" />
<line x1="400.00" y1="567.00" x2="400.00" y2="571.00" stroke="#f0901f" stroke-width="0.7" />
<line x1="404.00" y1="567.00" x2="404.00" y2="571.00" stroke="#f0901f" stroke-width="0.7" />
<text x="384.2" y="552.4" font-size="8.6" font-style="italic" fill="#222" stroke="#222" stroke-width="0.12">P<tspan font-style="normal"> &lt; .05</tspan></text>
<line x1="287.30" y1="577.60" x2="300.50" y2="577.60" stroke="#f0901f" stroke-width="1.0" />
<line x1="293.90" y1="575.80" x2="293.90" y2="579.40" stroke="#f0901f" stroke-width="0.7" />
<text x="304.60" y="580.80" font-size="8" stroke="#222" stroke-width="0.06" >Control (N = 9)</text>
<line x1="287.30" y1="590.40" x2="300.50" y2="590.40" stroke="#3f9b4b" stroke-width="1.0" />
<line x1="293.90" y1="588.60" x2="293.90" y2="592.20" stroke="#3f9b4b" stroke-width="0.7" />
<text x="304.60" y="593.60" font-size="8" stroke="#222" stroke-width="0.06" >Treated (N = 9)</text>
</svg>
</body></html>
